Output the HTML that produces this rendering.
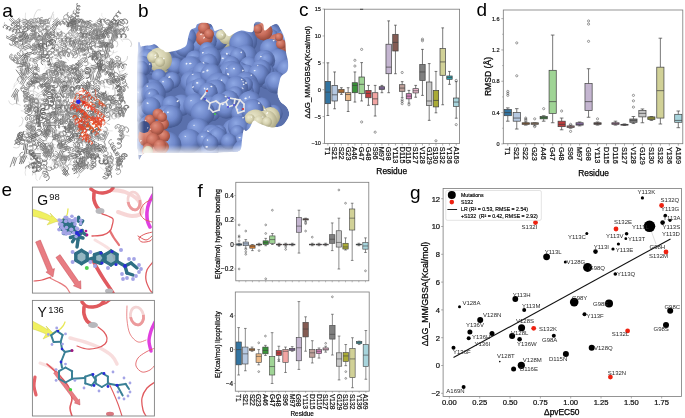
<!DOCTYPE html>
<html><head><meta charset="utf-8"><style>html,body{margin:0;padding:0;background:#fff;}body{width:685px;height:418px;overflow:hidden;font-family:"Liberation Sans", sans-serif;}svg{display:block;will-change:transform;}</style></head>
<body><svg width="685" height="418" viewBox="0 0 685 418" font-family='"Liberation Sans", sans-serif'>
<rect width="685" height="418" fill="#fff"/>
<g fill="none" stroke-linejoin="round">
<path d="M18.3 18.6 19.4 19.5 19.8 20.9 19.3 22.2 18.2 23.0 17.0 23.1 16.3 22.7 16.5 22.1 17.5 21.9 18.8 22.3 19.6 23.4 19.7 24.8 18.9 26.0 17.7 26.6 16.6 26.4 16.3 25.9 16.8 25.4 18.0 25.4 19.1 26.1 19.7 27.4 19.5 28.7 18.5 29.7 17.2 30.0 16.4 29.7 16.4 29.1 17.2 28.7 18.4 29.0 19.4 29.9 19.7 31.3" stroke="#727272" stroke-width="1.0"/>
<path d="M22.4 19.0 32.0 21.7" stroke="#949494" stroke-width="0.9"/>
<path d="M22.0 20.6 31.8 23.3" stroke="#949494" stroke-width="0.9"/>
<path d="M21.6 22.1 28.7 24.1" stroke="#949494" stroke-width="0.9"/>
<path d="M21.6 20.5 13.7 26.7" stroke="#969696" stroke-width="0.9"/>
<path d="M20.6 19.3 14.1 24.3" stroke="#969696" stroke-width="0.9"/>
<path d="M19.6 18.0 11.2 24.6" stroke="#969696" stroke-width="0.9"/>
<path d="M39.5 20.4 48.8 19.9" stroke="#656565" stroke-width="0.9"/>
<path d="M39.6 22.0 46.4 21.6" stroke="#656565" stroke-width="0.9"/>
<path d="M39.7 23.6 50.0 23.0" stroke="#656565" stroke-width="0.9"/>
<path d="M41.8 20.4 43.6 22.8 45.5 25.2 46.7 27.9 47.9 30.6 50.0 32.8" stroke="#cdcdcd" stroke-width="0.6"/>
<path d="M36.4 20.4 33.5 21.0 30.5 20.2 27.6 20.5 25.2 18.7 25.4 15.7 25.6 12.7" stroke="#bbbbbb" stroke-width="0.4"/>
<path d="M59.8 20.4 52.0 27.2" stroke="#818181" stroke-width="0.9"/>
<path d="M58.7 19.2 51.6 25.3" stroke="#818181" stroke-width="0.9"/>
<path d="M57.6 18.0 52.7 22.2" stroke="#818181" stroke-width="0.9"/>
<path d="M59.8 19.9 62.8 19.6 65.8 19.6 67.5 17.1" stroke="#c8c8c8" stroke-width="0.5"/>
<path d="M70.2 19.4 78.0 20.5" stroke="#676767" stroke-width="0.9"/>
<path d="M70.0 21.0 79.1 22.2" stroke="#676767" stroke-width="0.9"/>
<path d="M69.8 22.6 77.2 23.6" stroke="#676767" stroke-width="0.9"/>
<path d="M72.7 21.2 72.3 20.6 72.5 19.6 73.3 18.6 74.6 18.1 75.9 18.4 76.8 19.3 77.1 20.6 76.9 21.5 76.3 21.9 75.9 21.4 76.0 20.4 76.7 19.4 77.9 18.8 79.2 18.9 80.2 19.7 80.7 20.9 80.6 22.0 80.0 22.5 79.6 22.2 79.5 21.3 80.1 20.2 81.2 19.4 82.5 19.4 83.7 20.1 84.2 21.3 84.2 22.4 83.7 23.0 83.2 22.9 83.1 22.1" stroke="#747474" stroke-width="0.9"/>
<path d="M71.5 19.8 71.7 18.8 73.0 18.1 74.8 18.2 76.3 19.4 76.8 21.2 76.0 22.9 74.4 23.9 72.8 23.9 72.0 23.1 72.3 22.1 73.8 21.5 75.6 21.9 77.0 23.2 77.2 25.0 76.3 26.7 74.6 27.5 73.1 27.4 72.4 26.5 73.0 25.5 74.6 25.0 76.4 25.6 77.6 27.0 77.6 28.9 76.5 30.4 74.8 31.1 73.3 30.7 72.9 29.8 73.7 28.8 75.4 28.6 77.2 29.3 78.2 30.9" stroke="#6a6a6a" stroke-width="0.7"/>
<path d="M99.2 18.1 100.7 19.0 101.3 20.6 100.8 22.3 99.4 23.4 97.8 23.5 97.0 22.8 97.3 21.9 98.6 21.3 100.4 21.6 101.6 22.8 101.9 24.5 100.9 26.1 99.4 26.8 98.0 26.6 97.5 25.8 98.3 24.9 99.8 24.6 101.5 25.2 102.4 26.7 102.2 28.4 101.0 29.7 99.4 30.2 98.3 29.7 98.2 28.7 99.3 28.0" stroke="#848484" stroke-width="1.0"/>
<path d="M107.5 21.1 107.0 20.3 107.4 19.6 108.5 19.6 109.8 20.3 110.6 21.6 110.5 23.1 109.6 24.3 108.2 24.8 106.8 24.5 106.0 23.8 106.1 23.0 107.1 22.7 108.3 23.2 109.3 24.3 109.6 25.8 109.0 27.2 107.6 27.9" stroke="#676767" stroke-width="0.7"/>
<path d="M108.8 20.8 106.8 18.6 103.8 18.0 101.7 15.9 101.8 12.9" stroke="#d3d3d3" stroke-width="0.4"/>
<path d="M118.8 19.9 118.2 22.9 117.4 25.8 119.2 28.2 121.7 29.8" stroke="#c8c8c8" stroke-width="0.6"/>
<path d="M13.3 25.0 12.3 25.7 11.5 25.6 11.1 24.9 11.5 23.9 12.6 23.1 14.0 22.7 15.4 23.1 16.4 24.2 16.7 25.6 16.4 27.0 15.5 28.0 14.5 28.3 13.9 28.0 13.9 27.1 14.6 26.1 15.9 25.5 17.4 25.4" stroke="#777777" stroke-width="1.0"/>
<path d="M14.8 24.9 8.9 19.2" stroke="#8c8c8c" stroke-width="0.9"/>
<path d="M15.9 23.8 10.2 18.3" stroke="#8c8c8c" stroke-width="0.9"/>
<path d="M17.0 22.6 10.9 16.7" stroke="#8c8c8c" stroke-width="0.9"/>
<path d="M20.8 22.5 23.7 22.1 26.4 20.7 29.1 22.1 31.6 23.7 32.3 26.6" stroke="#cccccc" stroke-width="0.4"/>
<path d="M22.4 26.1 24.4 28.3 27.4 27.8 29.3 25.5 32.1 24.5 33.1 21.7" stroke="#b8b8b8" stroke-width="0.5"/>
<path d="M25.2 19.2 26.7 20.1 27.5 21.7 27.1 23.3 25.8 24.5 24.2 24.9 23.0 24.4 22.8 23.5 23.8 22.7 25.4 22.8 26.9 23.7 27.6 25.3 27.2 27.0 25.8 28.1 24.2 28.4 23.1 27.8 23.0 26.9 24.0 26.2 25.6 26.3 27.1 27.3 27.7 28.9 27.3 30.6 25.9 31.7 24.2 31.9 23.2 31.3 23.1 30.4 24.2 29.7 25.8 29.9" stroke="#6b6b6b" stroke-width="0.7"/>
<path d="M29.8 20.6 30.5 22.1 30.2 23.4 29.4 23.7 28.7 22.9 28.5 21.4 29.3 19.8 30.8 19.0 32.4 19.3 33.7 20.5 34.0 22.0 33.6 23.1 32.7 23.1 32.1 22.0 32.2 20.4 33.2 19.0 34.8 18.5 36.4 19.0 37.4 20.4 37.5 21.9 36.9 22.7 36.1 22.4 35.6 21.1 35.9 19.5 37.1 18.3 38.8 18.0 40.3 18.9 41.1 20.3 41.0 21.7 40.2 22.2 39.4 21.6 39.2 20.2 39.7 18.6 41.1 17.6 42.8 17.7" stroke="#878787" stroke-width="0.9"/>
<path d="M33.3 26.8 25.0 31.9" stroke="#737373" stroke-width="0.9"/>
<path d="M32.5 25.4 26.7 29.0" stroke="#737373" stroke-width="0.9"/>
<path d="M31.7 24.1 23.6 29.0" stroke="#737373" stroke-width="0.9"/>
<path d="M37.0 25.3 36.4 26.8 35.0 27.8 33.3 28.0 32.0 27.5 31.6 26.6 32.1 25.8 33.4 25.7 34.9 26.4 35.9 27.8 36.0 29.5 35.1 31.0 33.5 31.7 31.9 31.7 30.8 31.0 30.7 30.0 31.5 29.5 32.9 29.6 34.3 30.5 35.1 32.1 34.9 33.8 33.7 35.0 32.1 35.6 30.5 35.3 29.7 34.4 29.9 33.6 30.9 33.2 32.4 33.6 33.7 34.7 34.1 36.4 33.6 38.0" stroke="#828282" stroke-width="0.9"/>
<path d="M37.1 22.6 35.0 20.5 33.8 17.7 34.6 14.9 35.9 12.2 37.7 9.8 40.7 9.9" stroke="#c5c5c5" stroke-width="0.6"/>
<path d="M39.5 22.2 40.4 21.0 41.7 20.4 43.1 20.5 44.4 21.3 45.1 22.5 45.2 23.6 44.8 24.3 44.1 24.2 43.5 23.4 43.3 22.1 43.7 20.7 44.7 19.7 46.1 19.3 47.5 19.6 48.7 20.5 49.2 21.8 49.2 22.8 48.6 23.3 47.9 23.0 47.4 22.0 47.4 20.7 48.0 19.3 49.1 18.4 50.5 18.2" stroke="#979797" stroke-width="1.0"/>
<path d="M41.4 23.2 42.7 23.5 43.6 24.5 43.9 25.9 43.5 27.0 42.9 27.4 42.4 27.0 42.5 26.0 43.2 25.0 44.5 24.4 45.8 24.6 46.8 25.6 47.2 26.9 46.9 28.1 46.3 28.6 45.8 28.4 45.7 27.5 46.4 26.4 47.6 25.7 49.0 25.8 50.1 26.6 50.6 27.9 50.4 29.1 49.8 29.8 49.2 29.7 49.0 28.9" stroke="#929292" stroke-width="0.8"/>
<path d="M47.8 26.1 44.8 25.6 43.3 23.0 40.5 21.9" stroke="#acacac" stroke-width="0.5"/>
<path d="M40.5 20.8 41.4 20.6 42.6 21.0 43.6 22.0 44.2 23.2 44.1 24.6 43.4 25.8 42.2 26.6 40.9 26.8 39.8 26.6 39.2 26.0 39.2 25.4 39.9 25.0 41.0 25.1 42.1 25.7 43.0 26.9 43.3 28.2 42.9 29.6 41.9 30.6 40.7 31.1 39.4 31.1 38.5 30.7 38.2 30.0 38.5 29.5 39.4 29.3 40.6 29.7" stroke="#979797" stroke-width="0.8"/>
<path d="M44.3 21.5 37.5 27.0" stroke="#939393" stroke-width="0.9"/>
<path d="M43.3 20.2 38.2 24.4" stroke="#939393" stroke-width="0.9"/>
<path d="M42.2 19.0 36.5 23.7" stroke="#939393" stroke-width="0.9"/>
<path d="M50.2 25.6 49.2 22.8 50.7 20.2 51.3 17.3 52.3 14.5 53.4 11.7" stroke="#b2b2b2" stroke-width="0.6"/>
<path d="M58.0 24.1 56.8 21.3 54.3 19.8 53.5 16.9 53.7 13.9" stroke="#b2b2b2" stroke-width="0.4"/>
<path d="M54.7 26.6 55.7 29.4 56.7 32.3 56.0 35.2 54.2 37.6 54.7 40.6" stroke="#b5b5b5" stroke-width="0.5"/>
<path d="M55.9 22.8 56.9 23.7 57.3 24.8 57.1 25.7 56.6 25.9 56.1 25.3 55.9 24.2 56.4 22.9 57.4 22.1 58.8 21.8 60.0 22.4 60.8 23.4 61.0 24.5 60.7 25.1 60.1 25.1 59.7 24.3 59.8 23.0 60.4 21.9 61.6 21.2 63.0 21.3 64.1 22.0 64.7 23.1 64.7 24.1 64.2 24.5 63.7 24.1 63.4 23.1" stroke="#7d7d7d" stroke-width="1.0"/>
<path d="M65.7 21.6 67.0 21.9 68.1 22.8 68.6 24.1 68.5 25.4 68.0 26.2 67.4 26.4 66.9 26.0 66.9 25.0 67.5 23.9 68.6 23.1 69.9 22.7 71.3 23.1 72.3 24.1 72.7 25.4 72.6 26.6 72.1 27.4 71.5 27.6 71.1 27.1 71.1 26.1 71.7 25.0 72.8 24.2 74.2 23.9 75.5 24.4 76.5 25.4 76.9 26.7 76.7 27.9 76.2 28.7 75.6 28.8 75.2 28.2" stroke="#686868" stroke-width="1.1"/>
<path d="M61.5 24.1 62.4 23.0 63.8 22.5 65.1 22.6 65.9 23.2 66.0 23.9 65.4 24.3 64.4 24.2 63.3 23.4 62.5 22.2 62.5 20.8 63.1 19.5 64.3 18.7 65.7 18.6 66.8 19.0 67.3 19.6 67.0 20.2 66.1 20.4 65.0 19.9 64.0 18.9 63.6 17.5 63.9 16.1 64.9 15.1 66.3 14.6 67.6 14.8 68.4 15.4 68.5 16.0" stroke="#939393" stroke-width="0.8"/>
<path d="M69.5 23.7 69.6 22.3 70.3 21.1 71.4 20.4 72.4 20.1 73.1 20.4 73.2 21.0 72.7 21.5 71.7 21.8 70.4 21.7 69.2 21.0 68.4 19.8 68.3 18.5 68.8 17.2 69.8 16.3 70.8 15.8 71.7 15.9 72.0 16.4 71.7 17.0 70.9 17.5 69.6 17.5 68.4 17.0 67.4 16.0 67.1 14.6 67.4 13.3 68.2 12.2" stroke="#898989" stroke-width="1.0"/>
<path d="M71.6 23.8 71.7 24.3 71.0 24.6 70.0 24.1 69.2 23.0 69.1 21.7 69.8 20.5 71.0 19.9 72.3 20.0 73.0 20.5 73.0 21.1 72.2 21.2 71.2 20.6 70.5 19.5 70.5 18.1 71.4 17.0 72.6 16.5 73.8 16.7 74.5 17.2 74.3 17.8 73.5 17.8 72.5 17.1 71.9 15.9 72.0 14.5 72.9 13.5 74.2 13.1 75.4 13.4 75.9 14.0 75.6 14.4 74.7 14.3 73.7 13.6 73.2 12.3 73.5 10.9 74.5 10.0" stroke="#818181" stroke-width="0.8"/>
<path d="M72.2 24.7 74.9 23.5 76.1 20.7 78.8 19.4 81.7 18.7 84.2 20.5 85.7 23.1" stroke="#bfbfbf" stroke-width="0.5"/>
<path d="M76.4 23.1 67.4 26.8" stroke="#686868" stroke-width="0.9"/>
<path d="M75.8 21.6 68.0 24.8" stroke="#686868" stroke-width="0.9"/>
<path d="M75.2 20.1 69.2 22.6" stroke="#686868" stroke-width="0.9"/>
<path d="M71.0 22.6 71.1 21.3 72.0 20.1 73.3 19.5 74.7 19.9 75.7 21.0 76.0 22.3 75.6 23.2 75.0 23.2 74.5 22.3 74.8 21.0 75.7 19.9 77.1 19.5 78.5 20.0 79.4 21.1 79.5 22.4 79.1 23.2 78.4 23.0 78.1 22.1 78.4 20.7 79.4 19.7 80.9 19.4 82.2 20.0 83.0 21.3 83.0 22.5 82.5 23.1 81.8 22.8 81.6 21.8 82.1 20.4" stroke="#6e6e6e" stroke-width="0.9"/>
<path d="M79.1 26.4 71.7 28.9" stroke="#7b7b7b" stroke-width="0.9"/>
<path d="M78.6 24.9 71.0 27.5" stroke="#7b7b7b" stroke-width="0.9"/>
<path d="M78.0 23.4 67.8 26.9" stroke="#7b7b7b" stroke-width="0.9"/>
<path d="M82.8 22.6 80.2 21.0 78.2 18.8 75.2 18.6" stroke="#bdbdbd" stroke-width="0.4"/>
<path d="M82.2 25.5 81.5 25.4 81.0 24.4 81.2 22.9 82.2 21.7 83.7 21.4 85.1 22.1 85.9 23.3 85.9 24.6 85.3 25.1 84.6 24.7 84.3 23.4 84.8 22.0 86.0 21.0 87.5 21.0 88.8 22.0 89.3 23.3 89.1 24.4 88.4 24.6 87.7 23.9 87.7 22.5 88.4 21.1 89.8 20.4 91.3 20.8 92.3 21.9" stroke="#656565" stroke-width="0.7"/>
<path d="M82.3 23.2 83.4 22.5 84.9 22.7 86.3 23.8 86.9 25.4 86.3 27.0 84.9 28.0 83.3 28.1 82.2 27.5 82.2 26.5 83.2 25.9 84.7 26.1 86.2 27.1 86.7 28.7 86.2 30.3 84.8 31.3 83.2 31.5 82.1 30.9 82.0 29.9 83.0 29.3 84.5 29.4 86.0 30.4 86.6 32.0" stroke="#8b8b8b" stroke-width="0.9"/>
<path d="M85.5 22.6 82.9 28.3" stroke="#8c8c8c" stroke-width="0.9"/>
<path d="M84.0 21.9 80.7 29.4" stroke="#8c8c8c" stroke-width="0.9"/>
<path d="M82.6 21.3 79.9 27.2" stroke="#8c8c8c" stroke-width="0.9"/>
<path d="M89.5 22.9 88.1 24.0 86.6 24.3 85.7 23.6 85.9 22.6 87.1 21.7 88.9 21.7 90.5 22.6 91.2 24.2 90.8 25.9 89.5 27.2 87.9 27.6 86.9 27.1 86.9 26.0 88.0 25.1 89.7 24.9 91.4 25.6 92.3 27.2 92.1 28.9 90.9 30.3 89.3 30.9" stroke="#656565" stroke-width="0.9"/>
<path d="M95.6 21.2 97.3 23.7 98.9 26.2 100.3 28.9 101.5 31.6" stroke="#c6c6c6" stroke-width="0.6"/>
<path d="M96.6 23.9 95.9 25.1 94.7 25.8 93.6 26.0 92.9 25.6 93.0 24.9 93.8 24.5 95.0 24.5 96.2 25.2 97.0 26.3 97.1 27.7 96.4 29.0 95.3 29.8 94.1 29.9 93.4 29.6 93.4 29.0 94.1 28.5 95.4 28.5 96.6 29.1 97.5 30.2 97.6 31.6 97.0 32.9 95.9 33.7 94.7 33.9 93.9 33.6" stroke="#929292" stroke-width="1.0"/>
<path d="M100.2 26.7 101.4 23.9 100.2 21.2" stroke="#aaaaaa" stroke-width="0.5"/>
<path d="M97.4 26.1 87.5 29.3" stroke="#8b8b8b" stroke-width="0.9"/>
<path d="M96.9 24.5 87.7 27.5" stroke="#8b8b8b" stroke-width="0.9"/>
<path d="M96.4 23.0 89.1 25.4" stroke="#8b8b8b" stroke-width="0.9"/>
<path d="M97.0 20.8 97.9 19.9 99.1 19.7 100.2 20.1 101.0 21.0 101.3 22.0 101.1 22.6 100.6 22.6 100.2 22.0 100.3 21.0 100.8 19.9 101.9 19.2 103.1 19.2 104.1 19.8 104.8 20.8 104.9 21.7 104.5 22.1 104.0 21.9 103.8 21.1 104.0 20.0 104.7 19.1 105.9 18.6" stroke="#6a6a6a" stroke-width="0.8"/>
<path d="M103.3 24.4 99.0 33.8" stroke="#959595" stroke-width="0.9"/>
<path d="M101.9 23.7 97.7 32.7" stroke="#959595" stroke-width="0.9"/>
<path d="M100.4 23.0 96.9 30.6" stroke="#959595" stroke-width="0.9"/>
<path d="M106.4 22.9 105.7 23.3 105.2 23.0 105.1 22.2 105.6 21.1 106.7 20.3 108.1 20.1 109.3 20.7 110.1 21.8 110.2 23.1 109.8 24.2 109.1 24.6 108.5 24.3 108.5 23.5 109.0 22.4 110.1 21.6 111.5 21.4 112.7 22.0 113.4 23.1 113.6 24.5" stroke="#8a8a8a" stroke-width="1.0"/>
<path d="M110.9 25.0 112.9 22.8 115.8 22.1 117.9 19.9 120.1 17.9" stroke="#b9b9b9" stroke-width="0.4"/>
<path d="M109.3 23.9 110.4 23.9 111.6 24.6 112.4 25.8 112.6 27.2 112.0 28.5 110.9 29.4 109.5 29.7 108.3 29.4 107.6 28.8 107.7 28.1 108.5 27.8 109.7 28.1 110.8 28.9 111.4 30.3 111.3 31.7 110.5 32.9 109.3 33.6 107.9 33.7 106.8 33.2 106.4 32.5 106.8 32.0 107.7 31.8 108.9 32.3 109.9 33.4" stroke="#7a7a7a" stroke-width="0.9"/>
<path d="M111.9 22.7 112.9 21.0 114.8 20.3 116.6 21.1 117.7 22.8 117.6 24.5 116.6 25.2 115.5 24.6 115.1 22.8 115.9 20.9 117.5 19.9 119.4 20.2 120.8 21.8 121.1 23.6 120.3 24.7 119.2 24.4 118.5 22.9 118.9 21.0 120.3 19.6 122.2 19.5 123.8 20.8 124.4 22.6 123.9 24.0 122.8 24.2 121.9 23.0 122.0 21.1 123.1 19.4 125.0 18.9 126.8 19.8 127.7 21.6 127.5 23.2 126.5 23.8 125.4 23.0" stroke="#696969" stroke-width="0.9"/>
<path d="M119.8 25.6 120.9 25.2 122.3 25.5 123.5 26.4 124.1 27.8 123.9 29.3 123.0 30.5 121.6 31.1 120.3 31.1 119.6 30.5 119.6 29.8 120.4 29.2 121.7 29.2 123.1 29.8 124.0 31.0 124.2 32.5 123.5 33.9 122.3 34.8" stroke="#6a6a6a" stroke-width="0.8"/>
<path d="M13.8 29.5 10.8 30.0 7.9 29.7 6.2 27.2 4.2 25.0 4.6 22.0" stroke="#a9a9a9" stroke-width="0.5"/>
<path d="M17.0 32.1 17.2 33.6 16.8 35.0 15.6 36.1 14.2 36.5 12.8 36.4 11.9 35.8 11.7 35.0 12.3 34.5 13.4 34.4 14.7 35.0 15.7 36.2 16.1 37.6 15.8 39.1 14.8 40.3 13.3 40.8 11.9 40.8 10.9 40.2 10.6 39.5 11.0 38.9 12.1 38.7 13.4 39.2 14.5 40.2 15.0 41.7 14.8 43.2 13.9 44.4 12.5 45.1 11.0 45.2 9.9 44.7 9.5 43.9 9.8 43.3" stroke="#767676" stroke-width="0.9"/>
<path d="M18.0 33.5 18.3 32.6 19.5 32.1 21.0 32.1 22.4 33.0 23.0 34.4 22.7 35.9 21.7 37.1 20.5 37.6 19.6 37.4 19.4 36.6 20.2 35.9 21.7 35.6 23.2 36.1 24.2 37.3 24.3 38.9 23.6 40.3 22.4 41.1 21.3 41.2 20.8 40.6 21.1 39.8 22.3 39.3 23.9 39.4 25.2 40.3 25.8 41.8 25.4 43.3 24.3 44.5 23.1 44.9 22.2 44.5 22.2 43.8 23.1 43.1 24.6 42.9" stroke="#878787" stroke-width="1.0"/>
<path d="M24.1 27.0 24.9 25.3 26.5 24.6 28.3 25.0 29.5 26.4 29.7 27.9 29.1 28.8 28.0 28.4 27.4 27.1 27.6 25.3 28.8 23.9 30.5 23.6 32.2 24.5 33.0 26.0 32.8 27.4 32.0 27.8 31.0 27.0 30.7 25.3 31.3 23.6 32.8 22.6 34.5 22.8 35.9 24.1 36.4 25.6 35.9 26.7 34.9 26.6 34.1 25.4 34.1 23.6 35.1 22.1 36.8 21.6 38.5 22.2 39.5 23.7" stroke="#8f8f8f" stroke-width="0.9"/>
<path d="M24.4 27.0 24.8 26.2 25.3 26.0 25.7 26.5 25.7 27.5 25.1 28.6 24.1 29.4 22.8 29.6 21.5 29.1 20.7 28.1 20.3 26.9 20.5 25.9 21.0 25.4 21.6 25.7 21.8 26.5 21.4 27.6 20.6 28.6 19.3 29.1 18.0 28.9 17.0 28.1 16.4 26.9 16.4 25.8 16.8 25.0 17.3 25.0 17.7 25.5 17.6 26.6 17.0 27.7" stroke="#8d8d8d" stroke-width="1.0"/>
<path d="M24.4 33.7 23.3 33.1 22.5 32.1 22.4 31.2 22.7 30.6 23.3 30.8 23.8 31.5 23.8 32.7 23.3 33.9 22.3 34.8 21.0 35.0 19.8 34.5 18.9 33.6 18.6 32.6 18.9 31.9 19.4 31.8 19.9 32.4 20.1 33.5 19.8 34.8 18.9 35.7" stroke="#959595" stroke-width="0.9"/>
<path d="M35.7 33.9 35.1 34.6 34.5 34.7 34.2 34.3 34.5 33.6 35.3 33.0 36.4 32.7 37.7 32.9 38.7 33.7 39.2 34.8 39.2 36.0 38.7 37.1 38.1 37.7 37.5 37.7 37.3 37.3 37.6 36.7 38.5 36.1 39.6 35.8 40.9 36.1 41.8 36.9 42.3 38.0 42.3 39.3 41.8 40.3 41.1 40.8 40.5 40.8 40.4 40.4 40.8 39.7 41.7 39.1 42.9 38.9 44.1 39.2 45.0 40.1" stroke="#656565" stroke-width="0.9"/>
<path d="M31.1 31.3 31.9 30.8 33.3 30.7 34.6 31.5 35.1 32.8 34.8 34.3 33.7 35.3 32.5 35.5 31.9 35.1 32.1 34.4 33.2 33.9 34.6 34.2 35.7 35.2 35.9 36.6 35.3 37.9 34.1 38.7 33.0 38.7 32.7 38.1 33.2 37.4 34.5 37.2 35.8 37.7 36.7 38.9 36.6 40.4" stroke="#808080" stroke-width="1.1"/>
<path d="M30.8 27.5 32.0 26.6 33.5 26.5 34.8 27.3 35.5 28.6 35.5 29.7 34.8 30.2 34.1 29.7 33.6 28.5 33.9 27.1 34.8 25.9 36.3 25.5 37.7 26.0 38.7 27.2 38.9 28.4 38.4 29.2 37.7 29.1 37.0 28.1 37.0 26.7" stroke="#747474" stroke-width="1.0"/>
<path d="M39.4 27.7 39.1 27.3 39.4 26.9 40.1 26.8 41.1 27.2 41.9 28.0 42.4 29.1 42.3 30.3 41.6 31.3 40.6 31.9 39.6 32.1 38.9 31.9 38.6 31.5 38.9 31.1 39.7 31.1 40.7 31.5 41.5 32.3 41.9 33.4 41.8 34.6 41.1 35.6 40.1 36.2 39.1 36.3 38.4 36.1 38.2 35.6 38.5 35.3 39.3 35.3 40.3 35.7 41.1 36.6" stroke="#909090" stroke-width="0.9"/>
<path d="M40.2 31.1 38.6 28.6 35.8 27.6 34.1 25.1" stroke="#b9b9b9" stroke-width="0.4"/>
<path d="M43.6 30.4 43.4 30.0 43.7 29.5 44.5 29.1 45.5 29.1 46.6 29.6 47.5 30.4 47.9 31.5 47.8 32.7 47.2 33.7 46.3 34.4 45.4 34.7 44.8 34.5 44.7 34.1 45.1 33.6 45.9 33.3 47.0 33.3 48.1 33.9 48.9 34.8 49.2 35.9" stroke="#7c7c7c" stroke-width="1.1"/>
<path d="M50.9 31.2 48.4 32.8 45.7 34.1 43.7 36.4 43.7 39.4" stroke="#a1a1a1" stroke-width="0.6"/>
<path d="M50.7 29.3 54.7 23.7" stroke="#767676" stroke-width="0.9"/>
<path d="M52.0 30.2 58.3 21.4" stroke="#767676" stroke-width="0.9"/>
<path d="M53.4 31.1 59.2 22.8" stroke="#767676" stroke-width="0.9"/>
<path d="M49.0 28.6 49.9 31.5 52.4 33.1" stroke="#a3a3a3" stroke-width="0.5"/>
<path d="M54.7 29.4 51.8 29.0 49.2 30.6 46.4 31.7 44.2 33.7 41.9 35.7" stroke="#b7b7b7" stroke-width="0.4"/>
<path d="M56.2 28.9 54.3 26.6 55.1 23.7 54.7 20.7 52.5 18.6 50.9 16.1" stroke="#c6c6c6" stroke-width="0.5"/>
<path d="M53.9 33.2 53.6 32.2 53.9 31.5 54.4 31.4 54.8 32.1 54.8 33.3 54.1 34.4 53.0 35.1 51.7 35.0 50.6 34.3 50.0 33.2 50.0 32.3 50.4 31.9 50.9 32.2 51.1 33.2 50.8 34.4 49.9 35.3 48.6 35.7 47.4 35.3 46.5 34.4 46.2 33.3 46.4 32.5 46.9 32.5 47.3 33.1 47.3 34.2 46.7 35.4 45.6 36.1 44.3 36.1 43.1 35.4 42.5 34.4 42.5 33.4 42.9 32.9" stroke="#737373" stroke-width="0.9"/>
<path d="M60.3 29.5 57.4 28.8 54.4 28.9" stroke="#c7c7c7" stroke-width="0.6"/>
<path d="M61.3 32.7 60.8 31.9 60.8 31.2 61.2 31.0 61.7 31.4 62.0 32.4 61.8 33.5 61.1 34.5 60.0 35.0 58.7 35.0 57.7 34.3 57.1 33.5 57.1 32.8 57.4 32.5 57.9 32.8 58.2 33.7 58.1 34.8 57.5 35.9 56.4 36.5 55.2 36.5 54.1 36.0 53.5 35.1 53.3 34.4 53.6 34.0 54.1 34.2 54.5 35.0 54.4 36.1 53.9 37.2 52.9 37.9 51.7 38.1" stroke="#7b7b7b" stroke-width="0.9"/>
<path d="M67.3 29.6 68.9 27.1 71.7 26.2 74.4 27.6 77.1 28.7 79.3 30.8 82.3 30.8" stroke="#a1a1a1" stroke-width="0.5"/>
<path d="M73.1 28.6 73.6 30.0 73.3 31.1 72.5 31.3 71.7 30.7 71.3 29.3 71.7 27.7 72.9 26.5 74.5 26.2 76.0 26.8 77.0 28.1 77.2 29.4 76.8 30.3 75.9 30.3 75.2 29.4 75.1 27.8 75.7 26.3 77.0 25.4 78.6 25.3 80.1 26.2 80.9 27.5 80.9 28.8 80.2 29.5 79.4 29.2 78.8 28.0" stroke="#777777" stroke-width="0.9"/>
<path d="M76.3 26.3 77.1 27.6 77.3 28.9 76.9 30.0 76.3 30.3 75.7 30.0 75.5 29.0 75.8 27.8 76.6 26.6 77.9 26.0 79.4 26.0 80.7 26.8 81.5 28.0 81.7 29.3 81.3 30.4 80.7 30.8 80.1 30.5 79.8 29.5 80.1 28.3 81.0 27.1 82.3 26.4 83.7 26.4 85.0 27.2 85.8 28.4 86.0 29.7 85.7 30.8 85.1 31.2 84.5 31.0 84.2 30.0" stroke="#8c8c8c" stroke-width="1.1"/>
<path d="M76.5 28.9 76.9 26.0 76.8 23.0 77.3 20.0 79.6 18.2" stroke="#b4b4b4" stroke-width="0.6"/>
<path d="M73.2 29.4 71.5 31.8 71.7 34.8 70.0 37.3 67.2 38.3 64.6 36.8 61.7 36.0" stroke="#c9c9c9" stroke-width="0.5"/>
<path d="M79.6 28.5 80.5 29.5 81.0 30.9 80.7 32.4 79.8 33.5 78.4 34.1 77.0 34.0 75.8 33.4 75.2 32.5 75.3 31.8 76.0 31.6 77.0 32.0 77.9 33.1 78.3 34.5 78.0 35.9 77.0 37.1 75.6 37.6 74.2 37.4 73.1 36.8 72.5 35.9 72.7 35.3 73.4 35.1 74.4 35.6 75.2 36.6 75.6 38.1 75.3 39.5 74.3 40.6 72.9 41.1 71.4 40.9 70.3 40.2 69.8 39.4 70.0 38.7 70.8 38.6" stroke="#898989" stroke-width="0.8"/>
<path d="M83.2 33.1 83.1 32.7 83.6 32.3 84.6 32.4 85.6 33.0 86.3 34.1 86.4 35.3 85.7 36.4 84.7 37.1 83.8 37.2 83.2 36.9 83.3 36.5 84.0 36.2 85.1 36.5 86.0 37.3 86.5 38.4 86.3 39.7 85.5 40.6 84.4 41.1 83.6 41.1 83.2 40.7 83.6 40.3 84.4 40.2 85.5 40.6 86.3 41.6 86.6 42.8 86.1 44.0 85.2 44.8 84.2 45.1 83.5 44.9 83.4 44.5 83.9 44.1" stroke="#717171" stroke-width="0.9"/>
<path d="M85.5 28.6 88.2 29.8 91.0 30.9 94.0 30.4" stroke="#b5b5b5" stroke-width="0.5"/>
<path d="M94.9 29.2 92.9 26.9 90.7 24.8 87.8 25.2 85.1 24.0" stroke="#cbcbcb" stroke-width="0.5"/>
<path d="M95.2 29.9 92.9 31.9 90.6 33.9 88.8 36.2 86.4 38.1" stroke="#b1b1b1" stroke-width="0.5"/>
<path d="M94.2 26.0 95.6 26.5 96.6 27.6 96.8 29.1 96.2 30.5 95.0 31.3 93.8 31.6 92.9 31.2 92.9 30.5 93.6 29.9 94.9 29.9 96.3 30.5 97.1 31.7 97.2 33.2 96.5 34.5 95.3 35.3 94.1 35.4 93.4 34.9 93.4 34.2 94.3 33.7 95.6 33.8 96.9 34.5 97.7 35.7 97.7 37.2 96.9 38.5 95.6 39.2" stroke="#929292" stroke-width="1.0"/>
<path d="M99.5 31.9 97.6 29.6 94.9 28.3 91.9 28.0 88.9 28.2 86.8 26.1 85.4 23.5" stroke="#a5a5a5" stroke-width="0.5"/>
<path d="M99.5 30.6 99.1 29.9 99.6 29.2 100.7 28.8 102.1 29.1 103.3 30.1 103.9 31.4 103.8 32.9 102.9 34.2 101.5 34.9 100.2 34.9 99.3 34.4 99.2 33.7 99.8 33.0 101.1 32.9 102.5 33.4 103.6 34.5 104.0 35.9 103.6 37.4 102.5 38.5 101.1 39.0" stroke="#949494" stroke-width="1.0"/>
<path d="M103.0 31.4 102.3 32.1 101.4 31.9 101.0 30.6 101.3 29.0 102.5 27.8 104.1 27.5 105.6 28.2 106.5 29.6 106.6 31.1 105.9 31.9 105.1 31.6 104.6 30.4 104.9 28.8 106.1 27.5 107.7 27.2 109.2 27.9 110.1 29.3 110.2 30.8 109.6 31.6 108.7 31.4 108.2 30.2 108.5 28.6 109.7 27.3 111.3 26.9 112.8 27.6 113.8 29.0 113.8 30.5" stroke="#818181" stroke-width="0.8"/>
<path d="M105.3 27.7 105.9 30.6 104.1 33.0 104.3 36.0 102.2 38.0" stroke="#c3c3c3" stroke-width="0.4"/>
<path d="M106.0 30.8 105.6 31.4 105.1 31.4 104.8 30.8 104.9 29.8 105.5 28.7 106.6 28.0 107.8 27.9 109.0 28.5 109.7 29.4 110.0 30.5 109.8 31.4 109.3 31.7 108.9 31.4 108.8 30.5 109.1 29.5 110.0 28.6 111.1 28.1 112.4 28.3 113.4 29.1 113.9 30.2 114.0 31.2" stroke="#8f8f8f" stroke-width="0.8"/>
<path d="M107.8 26.2 108.9 26.9 109.5 28.0 109.5 28.8 109.1 29.2 108.5 28.7 108.2 27.7 108.4 26.4 109.2 25.4 110.5 24.9 111.8 25.1 112.9 25.9 113.3 27.0 113.2 27.8 112.7 27.9 112.2 27.4 111.9 26.2 112.3 25.0 113.3 24.0 114.6 23.7 115.9 24.1 116.8 25.0 117.1 26.0 116.9 26.7 116.3 26.7 115.8 26.0 115.7 24.8 116.2 23.5 117.3 22.7" stroke="#818181" stroke-width="0.9"/>
<path d="M112.5 30.0 105.7 33.2" stroke="#7f7f7f" stroke-width="0.9"/>
<path d="M111.8 28.6 105.1 31.7" stroke="#7f7f7f" stroke-width="0.9"/>
<path d="M111.1 27.1 101.6 31.6" stroke="#7f7f7f" stroke-width="0.9"/>
<path d="M108.3 25.3 109.7 25.3 111.0 26.0 111.7 27.1 111.7 28.1 111.2 28.5 110.5 28.1 110.1 27.1 110.3 25.7 111.2 24.5 112.6 24.1 114.0 24.5 115.0 25.4 115.3 26.6 115.1 27.3 114.4 27.4 113.8 26.6 113.7 25.3 114.3 24.0 115.5 23.1 116.9 23.1 118.1 23.8 118.8 24.9 118.8 25.9 118.3 26.3 117.7 26.0 117.3 24.9 117.5 23.5 118.4 22.4 119.7 21.9 121.1 22.3" stroke="#646464" stroke-width="0.7"/>
<path d="M114.8 26.7 115.7 27.9 115.8 29.4 115.2 30.7 114.0 31.6 112.9 31.8 112.0 31.6 111.8 31.0 112.4 30.4 113.5 30.1 114.9 30.5 116.0 31.4 116.5 32.8 116.3 34.2 115.4 35.4 114.2 36.0 113.1 36.0 112.5 35.5 112.7 34.9 113.6 34.4 114.9 34.4 116.2 35.1 117.0 36.2 117.2 37.6 116.7 39.0 115.6 39.9 114.4 40.3 113.5 40.1 113.2 39.5" stroke="#939393" stroke-width="0.8"/>
<path d="M119.3 27.8 116.9 26.0 114.4 24.4 111.4 24.8 108.8 23.2" stroke="#a5a5a5" stroke-width="0.5"/>
<path d="M115.8 30.4 116.2 31.5 116.1 32.5 115.7 32.9 115.2 32.7 115.0 31.9 115.2 30.8 116.1 29.8 117.2 29.3 118.5 29.6 119.5 30.4 120.0 31.5 119.9 32.5 119.5 33.0 119.0 32.8 118.7 32.0 119.0 30.9 119.7 29.9" stroke="#646464" stroke-width="0.7"/>
<path d="M118.3 30.8 114.3 36.7" stroke="#737373" stroke-width="0.9"/>
<path d="M117.0 29.9 112.5 36.5" stroke="#737373" stroke-width="0.9"/>
<path d="M115.7 29.0 112.0 34.3" stroke="#737373" stroke-width="0.9"/>
<path d="M120.2 29.7 121.2 28.5 122.6 28.1 124.1 28.6 125.1 29.8 125.3 31.0 124.8 31.8 124.0 31.6 123.3 30.5 123.3 29.0 124.1 27.7 125.5 27.0 127.0 27.3 128.2 28.3 128.6 29.6 128.3 30.5 127.6 30.6 126.8 29.8 126.6 28.4 127.1 26.9 128.4 26.0" stroke="#8a8a8a" stroke-width="0.8"/>
<path d="M16.7 38.0 15.8 38.8 14.7 39.0 13.9 38.8 13.7 38.3 14.1 37.7 15.1 37.4 16.3 37.6 17.4 38.2 18.2 39.3 18.3 40.6 17.8 41.8 16.9 42.7 15.8 43.1 14.9 42.9 14.6 42.5 14.9 41.9 15.7 41.5 16.9 41.5 18.1 42.0" stroke="#6c6c6c" stroke-width="0.9"/>
<path d="M18.7 32.6 19.4 32.3 20.4 32.3 21.6 33.0 22.3 34.0 22.4 35.3 21.8 36.5 20.8 37.3 19.7 37.6 18.9 37.3 18.7 36.8 19.2 36.4 20.2 36.3 21.4 36.8 22.3 37.7 22.6 39.0 22.2 40.3 21.3 41.2 20.2 41.6 19.3 41.5 18.9 41.0 19.1 40.5 20.0 40.3 21.2 40.6 22.2 41.4 22.7 42.6 22.6 43.9 21.8 45.0 20.7 45.6 19.6 45.6" stroke="#646464" stroke-width="0.9"/>
<path d="M18.6 39.0 17.9 39.0 17.6 38.3 17.8 37.3 18.7 36.3 19.9 35.7 21.4 35.7 22.6 36.3 23.4 37.5 23.6 38.9 23.2 40.2 22.5 41.0 21.8 41.2 21.3 40.7 21.4 39.7 22.1 38.7 23.3 37.9 24.7 37.8 26.1 38.3 27.0 39.3 27.3 40.7 27.1 42.1 26.4 43.0 25.6 43.3 25.1 43.0" stroke="#8d8d8d" stroke-width="1.0"/>
<path d="M27.1 36.0 18.7 40.5" stroke="#838383" stroke-width="0.9"/>
<path d="M26.3 34.6 18.6 38.7" stroke="#838383" stroke-width="0.9"/>
<path d="M25.5 33.2 18.5 36.9" stroke="#838383" stroke-width="0.9"/>
<path d="M26.8 36.6 25.1 34.1 22.1 33.7 19.3 34.6 16.5 35.6 13.9 37.1" stroke="#b3b3b3" stroke-width="0.6"/>
<path d="M26.8 38.2 27.2 36.8 28.2 35.6 29.6 35.1 31.1 35.5 32.2 36.7 32.6 38.1 32.3 39.3 31.6 39.8 30.9 39.4 30.7 38.3 31.1 37.0 32.1 35.8 33.6 35.4 35.0 35.9 36.1 37.0 36.4 38.4 36.1 39.6 35.4 40.0 34.8 39.6 34.5 38.5 35.0 37.1 36.1 36.0" stroke="#8e8e8e" stroke-width="1.1"/>
<path d="M34.0 38.0 32.6 38.6 31.0 38.4 29.9 37.6 29.7 36.6 30.3 36.1 31.4 36.4 32.3 37.6 32.5 39.2 31.8 40.6 30.3 41.2 28.8 41.0 27.7 40.1 27.5 39.1 28.1 38.7 29.2 39.1 30.1 40.2 30.3 41.8 29.5 43.2 28.1 43.8 26.5 43.6 25.4 42.7 25.2 41.7 25.9 41.3 27.0 41.7" stroke="#989898" stroke-width="0.8"/>
<path d="M30.2 35.5 27.2 35.8 24.9 37.8 23.1 40.2 20.7 42.0" stroke="#c6c6c6" stroke-width="0.5"/>
<path d="M34.3 38.5 31.8 27.9" stroke="#8f8f8f" stroke-width="0.9"/>
<path d="M35.8 38.1 34.3 31.6" stroke="#8f8f8f" stroke-width="0.9"/>
<path d="M37.4 37.7 35.1 28.1" stroke="#8f8f8f" stroke-width="0.9"/>
<path d="M41.4 33.7 43.6 31.7 46.4 30.7 49.4 30.3" stroke="#b2b2b2" stroke-width="0.5"/>
<path d="M38.2 35.4 39.1 35.8 39.9 36.5 40.3 37.6 40.2 38.8 39.5 39.8 38.5 40.4 37.5 40.5 36.6 40.3 36.3 39.8 36.5 39.5 37.2 39.4 38.0 39.9 38.7 40.7 39.1 41.8 38.9 43.0 38.2 43.9 37.1 44.4 36.1 44.5 35.3 44.2 35.1 43.8" stroke="#656565" stroke-width="0.8"/>
<path d="M41.1 38.2 37.4 44.8" stroke="#939393" stroke-width="0.9"/>
<path d="M39.7 37.4 36.2 43.6" stroke="#939393" stroke-width="0.9"/>
<path d="M38.4 36.6 34.0 44.2" stroke="#939393" stroke-width="0.9"/>
<path d="M45.4 35.4 45.8 42.1" stroke="#777777" stroke-width="0.9"/>
<path d="M43.8 35.5 44.2 42.9" stroke="#777777" stroke-width="0.9"/>
<path d="M42.2 35.6 42.7 44.5" stroke="#777777" stroke-width="0.9"/>
<path d="M46.7 35.1 55.5 29.1" stroke="#7a7a7a" stroke-width="0.9"/>
<path d="M47.6 36.4 54.9 31.4" stroke="#7a7a7a" stroke-width="0.9"/>
<path d="M48.6 37.7 54.0 34.0" stroke="#7a7a7a" stroke-width="0.9"/>
<path d="M50.2 37.2 50.9 37.6 50.7 38.2 49.8 38.6 48.4 38.4 47.3 37.6 46.9 36.2 47.2 34.9 48.2 33.9 49.4 33.6 50.0 34.0 49.9 34.6 49.0 35.0 47.7 34.8 46.5 34.0 46.1 32.7 46.4 31.3 47.4 30.3 48.5 30.0 49.2 30.3 49.1 30.9 48.3 31.4 47.0 31.3 45.8 30.5 45.3 29.2 45.6 27.8 46.5 26.8 47.7 26.4 48.4 26.7 48.4 27.3 47.5 27.8" stroke="#8e8e8e" stroke-width="1.0"/>
<path d="M51.0 34.2 51.2 35.7 50.4 37.1 49.1 37.9 47.9 37.9 47.2 37.4 47.5 36.7 48.5 36.2 50.0 36.5 51.3 37.4 51.8 38.8 51.4 40.3 50.3 41.4 49.0 41.8 48.0 41.5 47.8 40.8 48.6 40.2 49.9 40.1 51.3 40.7 52.2 42.0 52.3 43.5 51.4 44.9 50.1 45.6 48.9 45.6 48.4 45.0 48.7 44.3 49.9 43.9 51.3 44.2 52.5 45.2 53.0 46.7 52.5 48.2 51.3 49.2 50.0 49.5" stroke="#727272" stroke-width="0.7"/>
<path d="M61.5 35.4 60.3 36.1 58.8 36.1 57.6 35.4 57.0 34.4 57.3 33.7 58.1 33.7 59.0 34.4 59.5 35.8 59.2 37.2 58.3 38.3 56.8 38.6 55.4 38.2 54.5 37.3 54.4 36.4 55.0 36.0 55.9 36.4 56.6 37.5 56.8 39.0 56.2 40.3 54.9 41.0" stroke="#969696" stroke-width="0.9"/>
<path d="M59.6 35.0 58.0 37.5 58.6 40.5 57.1 43.1 57.5 46.0" stroke="#c2c2c2" stroke-width="0.5"/>
<path d="M57.2 35.0 57.7 33.8 58.7 32.9 60.1 32.7 61.3 33.2 62.1 34.3 62.3 35.6 62.0 36.5 61.3 36.8 60.8 36.3 60.8 35.2 61.3 34.0 62.4 33.2 63.7 33.0 64.9 33.6 65.7 34.8 65.8 36.0 65.4 36.9 64.8 37.1" stroke="#868686" stroke-width="0.7"/>
<path d="M64.1 36.0 65.5 36.4 66.5 37.3 67.0 38.7 66.9 39.9 66.4 40.7 65.7 40.9 65.2 40.4 65.2 39.4 65.7 38.3 66.7 37.3 68.0 36.9 69.4 37.2 70.5 38.1 71.0 39.3 71.0 40.6 70.6 41.5 69.9 41.8 69.4 41.4 69.2 40.5 69.7 39.3 70.6 38.3 71.9 37.8" stroke="#696969" stroke-width="0.7"/>
<path d="M69.6 37.3 69.6 38.4 68.7 38.9 67.4 38.3 66.4 36.9 66.2 35.2 67.0 33.6 68.6 32.8 70.4 33.0 71.7 34.0 72.1 35.2 71.5 35.9 70.3 35.8 69.1 34.7 68.5 33.0 68.9 31.2 70.3 30.1 72.1 30.0 73.6 30.7 74.4 31.9 74.2 32.9 73.1 33.1 71.8 32.3 71.0 30.8 71.0 29.0 72.0 27.6 73.7 27.0" stroke="#8b8b8b" stroke-width="0.8"/>
<path d="M71.1 35.7 69.4 38.2 70.2 41.1 69.4 44.0 68.3 46.8 68.3 49.8" stroke="#cacaca" stroke-width="0.6"/>
<path d="M75.2 34.8 78.2 34.8 81.2 35.3 84.2 35.3" stroke="#d0d0d0" stroke-width="0.4"/>
<path d="M77.8 35.6 76.8 38.4 75.2 40.9" stroke="#a6a6a6" stroke-width="0.5"/>
<path d="M75.2 38.0 77.0 35.5 80.0 35.8 82.2 33.7 84.9 32.6 87.8 33.3" stroke="#bfbfbf" stroke-width="0.6"/>
<path d="M82.7 35.4 80.1 36.8 77.3 35.8 74.8 34.1 71.8 33.8 69.1 32.6 66.3 33.5" stroke="#b0b0b0" stroke-width="0.6"/>
<path d="M78.7 33.8 79.7 32.8 81.1 32.5 82.4 32.9 83.2 34.0 83.5 35.3 83.1 36.4 82.5 36.8 82.0 36.4 82.0 35.4 82.7 34.3 83.9 33.6 85.2 33.6 86.4 34.4 87.0 35.6 86.9 36.9 86.4 37.7 85.8 37.7 85.5 37.0 85.8 35.9 86.7 35.0 88.0 34.6 89.4 34.9" stroke="#6a6a6a" stroke-width="1.0"/>
<path d="M82.7 38.0 82.2 37.1 82.2 35.9 82.6 34.7 83.5 33.8 84.7 33.4 86.0 33.6 87.0 34.3 87.6 35.3 87.8 36.2 87.4 36.7 86.9 36.6 86.3 36.0 86.1 34.9 86.3 33.6 87.0 32.6 88.1 32.0 89.4 31.9 90.6 32.5 91.4 33.4 91.7 34.3" stroke="#686868" stroke-width="0.8"/>
<path d="M87.6 37.4 87.6 36.1 88.4 34.8 89.8 34.0 91.4 34.2 92.5 35.4 92.9 36.9 92.5 38.2 91.7 38.6 91.0 38.0 91.0 36.8 91.9 35.4 93.3 34.7 94.9 35.0 96.0 36.1 96.3 37.7 95.9 38.9 95.1 39.3 94.4 38.7 94.5 37.4 95.3 36.1 96.8 35.4 98.4 35.7 99.4 36.9 99.7 38.4 99.3 39.7 98.5 40.0 97.9 39.3" stroke="#868686" stroke-width="0.8"/>
<path d="M86.0 37.2 85.6 36.4 85.6 35.2 86.2 34.1 87.3 33.4 88.6 33.4 89.6 34.0 90.2 34.9 90.3 35.6 89.9 35.8 89.3 35.3 89.1 34.3 89.3 33.1 90.1 32.1 91.3 31.7 92.6 32.0 93.5 32.7 93.9 33.6 93.7 34.1 93.2 34.1 92.7 33.4 92.6 32.2 93.1 31.0 94.1 30.3 95.4 30.1 96.5 30.6 97.3 31.4 97.4 32.2 97.1 32.6 96.5 32.2 96.2 31.3" stroke="#7d7d7d" stroke-width="1.1"/>
<path d="M84.0 38.8 85.3 36.1 88.0 34.8 88.6 31.8 87.8 28.9" stroke="#bababa" stroke-width="0.6"/>
<path d="M92.2 35.6 90.3 37.9 87.5 39.0 84.6 38.3 81.6 38.4 78.8 39.3 75.8 39.5" stroke="#bababa" stroke-width="0.5"/>
<path d="M90.4 36.1 92.0 35.9 93.4 36.5 94.4 37.4 94.6 38.4 94.1 38.9 93.1 38.8 92.1 37.9 91.5 36.5 91.6 34.9 92.4 33.6 93.8 32.9 95.4 33.0 96.7 33.7 97.5 34.7 97.4 35.5 96.8 35.9 95.8 35.6 94.9 34.5 94.4 33.0 94.7 31.5 95.8 30.3 97.2 29.8 98.8 30.1 100.0 30.9 100.5 31.9 100.2 32.7 99.4 32.8" stroke="#8d8d8d" stroke-width="1.1"/>
<path d="M95.1 36.8 96.6 37.3 97.7 38.2 97.9 39.2 97.4 39.8 96.5 39.7 95.5 38.8 94.9 37.4 95.0 35.8 96.0 34.5 97.4 33.9 99.0 34.2 100.2 35.0 100.7 36.0 100.5 36.8 99.6 36.9 98.6 36.2 97.8 34.9 97.7 33.3 98.4 31.9 99.7 31.1 101.3 31.1 102.7 31.7 103.5 32.8 103.4 33.7 102.7 34.0 101.7 33.6 100.8 32.5" stroke="#7d7d7d" stroke-width="0.8"/>
<path d="M102.1 34.3 102.4 35.9 101.8 37.3 100.6 38.3 99.4 38.6 98.5 38.3 98.5 37.6 99.2 36.8 100.5 36.5 102.1 36.9 103.2 37.9 103.7 39.4 103.3 40.9 102.3 42.1 101.0 42.6 100.0 42.4 99.7 41.8 100.2 41.0 101.5 40.5 103.0 40.7 104.3 41.6 105.0 43.0 104.8 44.5 103.9 45.8 102.6 46.5 101.5 46.5 101.0 46.0 101.3 45.2 102.4 44.6 103.9 44.6 105.3 45.3 106.2 46.6 106.2 48.1" stroke="#7f7f7f" stroke-width="0.8"/>
<path d="M99.1 36.3 99.9 35.1 101.3 34.4 102.8 34.6 104.0 35.4 104.8 36.6 104.9 37.8 104.5 38.5 103.8 38.5 103.2 37.8 103.0 36.5 103.4 35.1 104.4 34.0 105.8 33.5 107.3 33.8 108.4 34.7 109.1 35.9 109.1 37.0 108.6 37.7 107.9 37.5 107.4 36.7 107.3 35.3 107.8 33.9 108.9 32.9 110.3 32.6 111.8 33.0 112.8 34.0 113.4 35.3 113.3 36.3" stroke="#929292" stroke-width="1.1"/>
<path d="M101.7 36.9 105.8 29.2" stroke="#666666" stroke-width="0.9"/>
<path d="M103.1 37.7 108.1 28.2" stroke="#666666" stroke-width="0.9"/>
<path d="M104.5 38.4 108.0 31.8" stroke="#666666" stroke-width="0.9"/>
<path d="M104.1 37.5 94.5 39.1" stroke="#6f6f6f" stroke-width="0.9"/>
<path d="M103.9 35.9 96.1 37.2" stroke="#6f6f6f" stroke-width="0.9"/>
<path d="M103.6 34.3 95.1 35.8" stroke="#6f6f6f" stroke-width="0.9"/>
<path d="M103.0 38.1 105.9 38.9 107.5 41.5 108.7 44.2" stroke="#d0d0d0" stroke-width="0.5"/>
<path d="M104.6 33.7 98.2 42.0" stroke="#7e7e7e" stroke-width="0.9"/>
<path d="M103.3 32.7 98.4 39.0" stroke="#7e7e7e" stroke-width="0.9"/>
<path d="M102.1 31.7 98.1 36.8" stroke="#7e7e7e" stroke-width="0.9"/>
<path d="M113.8 33.4 113.9 36.4 115.2 39.1 115.8 42.1" stroke="#d1d1d1" stroke-width="0.4"/>
<path d="M111.5 33.7 111.9 32.3 112.9 31.3 114.3 30.9 115.7 31.3 116.7 32.3 117.1 33.5 116.9 34.4 116.3 34.7 115.7 34.2 115.3 33.0 115.6 31.7 116.5 30.5 117.8 30.0 119.2 30.2 120.3 31.1 120.9 32.3 120.8 33.3 120.3 33.7 119.6 33.4 119.2 32.4 119.3 31.0 120.0 29.8 121.3 29.1" stroke="#888888" stroke-width="0.7"/>
<path d="M114.1 33.6 116.4 35.5 118.5 37.7 121.2 39.0 122.6 41.6" stroke="#b8b8b8" stroke-width="0.4"/>
<path d="M116.2 34.3 117.0 35.2 117.4 36.2 117.3 37.1 117.0 37.5 116.5 37.3 116.3 36.6 116.5 35.6 117.1 34.6 118.1 33.9 119.4 33.8 120.5 34.2 121.4 35.1 121.8 36.1 121.7 37.0 121.4 37.5 120.9 37.3 120.7 36.6 120.9 35.6 121.5 34.6 122.5 33.9 123.7 33.7 124.9 34.1 125.8 35.0 126.2 36.1 126.1 37.0 125.8 37.4 125.3 37.3 125.1 36.6" stroke="#7a7a7a" stroke-width="1.1"/>
<path d="M117.7 37.9 114.8 37.3 111.9 38.2 110.6 40.9" stroke="#a4a4a4" stroke-width="0.5"/>
<path d="M14.6 42.0 6.0 37.5" stroke="#7d7d7d" stroke-width="0.9"/>
<path d="M15.4 40.6 6.1 35.8" stroke="#7d7d7d" stroke-width="0.9"/>
<path d="M16.1 39.2 9.8 35.9" stroke="#7d7d7d" stroke-width="0.9"/>
<path d="M17.3 44.7 18.8 42.1 19.6 39.3 22.1 37.5 24.6 36.0 27.6 36.6 30.3 35.2" stroke="#a8a8a8" stroke-width="0.6"/>
<path d="M22.9 40.1 30.9 37.7" stroke="#8a8a8a" stroke-width="0.9"/>
<path d="M23.3 41.6 32.4 38.9" stroke="#8a8a8a" stroke-width="0.9"/>
<path d="M23.8 43.1 30.9 41.0" stroke="#8a8a8a" stroke-width="0.9"/>
<path d="M25.9 39.4 22.4 31.0" stroke="#656565" stroke-width="0.9"/>
<path d="M27.4 38.8 24.1 31.1" stroke="#656565" stroke-width="0.9"/>
<path d="M28.8 38.2 26.5 32.6" stroke="#656565" stroke-width="0.9"/>
<path d="M32.1 42.9 34.8 44.3 36.7 46.6 39.6 47.4 42.0 49.2" stroke="#d2d2d2" stroke-width="0.5"/>
<path d="M35.9 44.9 35.1 46.4 33.8 47.3 32.4 47.3 31.8 46.6 32.2 45.7 33.5 45.3 35.1 45.6 36.3 46.7 36.6 48.3 35.9 49.8 34.5 50.7 33.2 50.7 32.5 50.0 33.0 49.1 34.3 48.7 35.9 49.0 37.1 50.1 37.4 51.7 36.6 53.2 35.3 54.1 33.9 54.1 33.3 53.4 33.7 52.6 35.0 52.1 36.6 52.4" stroke="#949494" stroke-width="1.1"/>
<path d="M35.6 41.2 36.7 41.4 37.7 42.5 38.2 44.0 37.8 45.6 36.6 46.7 35.0 46.9 33.4 46.4 32.5 45.3 32.5 44.3 33.2 43.9 34.3 44.3 35.3 45.5 35.5 47.1 34.9 48.7 33.6 49.6 32.0 49.6 30.5 48.9 29.8 47.8 30.0 46.9 30.8 46.6 31.9 47.2 32.8 48.6 32.8 50.2 32.1 51.7" stroke="#888888" stroke-width="1.0"/>
<path d="M36.5 43.9 46.0 49.1" stroke="#787878" stroke-width="0.9"/>
<path d="M35.7 45.3 43.6 49.7" stroke="#787878" stroke-width="0.9"/>
<path d="M34.9 46.7 41.3 50.3" stroke="#787878" stroke-width="0.9"/>
<path d="M44.8 39.6 47.5 40.9 50.2 42.1 52.2 44.4 54.9 45.7 56.7 48.0 58.1 50.7" stroke="#c4c4c4" stroke-width="0.4"/>
<path d="M43.7 43.7 42.7 37.6" stroke="#898989" stroke-width="0.9"/>
<path d="M45.3 43.5 43.9 35.5" stroke="#898989" stroke-width="0.9"/>
<path d="M46.9 43.2 45.5 35.3" stroke="#898989" stroke-width="0.9"/>
<path d="M48.8 45.1 48.5 46.1 47.6 46.2 46.7 45.4 46.3 43.9 46.7 42.3 47.8 41.1 49.4 40.8 51.0 41.5 52.0 42.8 52.1 44.1 51.6 44.8 50.6 44.6 49.8 43.5 49.7 41.9 50.4 40.4 51.8 39.5 53.4 39.6 54.8 40.5 55.5 41.9 55.4 43.1 54.6 43.5" stroke="#646464" stroke-width="1.0"/>
<path d="M54.4 44.5 53.3 45.1 52.3 45.1 51.8 44.6 52.1 44.2 52.9 44.1 54.0 44.6 54.7 45.6 54.8 46.9 54.2 48.0 53.1 48.6 52.1 48.6 51.5 48.3 51.7 47.8 52.5 47.7 53.6 48.1 54.4 49.1 54.5 50.3 54.0 51.5 52.9 52.1 51.9 52.2 51.3 51.9 51.4 51.4" stroke="#656565" stroke-width="0.9"/>
<path d="M53.3 44.7 47.7 41.6" stroke="#737373" stroke-width="0.9"/>
<path d="M54.1 43.3 46.1 38.8" stroke="#737373" stroke-width="0.9"/>
<path d="M54.8 41.9 49.6 38.9" stroke="#737373" stroke-width="0.9"/>
<path d="M58.0 39.2 59.0 38.3 60.3 38.0 61.6 38.4 62.4 39.4 62.7 40.6 62.5 41.5 61.9 41.6 61.5 41.1 61.5 40.0 62.2 38.8 63.3 38.1 64.7 38.1 65.8 38.8 66.5 39.9 66.6 41.0 66.2 41.6 65.6 41.5 65.3 40.7 65.6 39.5 66.4 38.5 67.7 38.0 69.0 38.2 70.0 39.2 70.5 40.3 70.3 41.3 69.8 41.7 69.3 41.3 69.2 40.3 69.7 39.1 70.7 38.2 72.1 38.0 73.3 38.5" stroke="#6d6d6d" stroke-width="0.8"/>
<path d="M56.5 44.7 59.3 43.6 60.8 41.0 63.8 40.6 66.6 39.4 69.4 38.6" stroke="#bebebe" stroke-width="0.5"/>
<path d="M66.9 45.2 66.7 45.9 66.2 46.1 65.7 45.6 65.5 44.6 65.8 43.4 66.6 42.4 67.7 41.9 69.0 42.0 70.1 42.7 70.7 43.7 70.8 44.6 70.4 45.1 69.9 44.9 69.5 44.1 69.5 42.9 70.1 41.7 71.1 41.0 72.4 40.8 73.6 41.3 74.5 42.3 74.7 43.3 74.5 43.9 74.0 44.0 73.5 43.4 73.4 42.4" stroke="#696969" stroke-width="0.9"/>
<path d="M62.6 39.9 61.8 41.5 60.5 42.3 59.3 42.3 58.8 41.5 59.5 40.5 60.9 39.9 62.7 40.1 63.9 41.3 64.3 42.9 63.6 44.5 62.2 45.5 61.0 45.5 60.5 44.8 61.1 43.7 62.5 43.1 64.2 43.3 65.6 44.3 65.9 46.0 65.3 47.6 64.0 48.6 62.7 48.7 62.2 48.0 62.7 47.0 64.0 46.3 65.8 46.4 67.2 47.4 67.6 49.0 67.0 50.7 65.8 51.8 64.5 51.9" stroke="#888888" stroke-width="0.9"/>
<path d="M63.0 41.6 63.6 43.2 63.3 44.7 62.5 45.5 61.7 45.2 61.2 44.1 61.6 42.6 62.7 41.3 64.3 40.7 66.0 41.2 67.1 42.5 67.4 44.2 67.0 45.5 66.1 46.0 65.3 45.5 65.1 44.2 65.7 42.7 67.0 41.5 68.6 41.3 70.2 42.0 71.1 43.5 71.2 45.1 70.6 46.3 69.7 46.5 69.0 45.7 69.0 44.3 69.8 42.8 71.2 41.9 72.9 41.9 74.3 42.9 75.0 44.5 74.9 46.0" stroke="#949494" stroke-width="0.7"/>
<path d="M68.0 40.8 65.5 42.5 62.5 43.0 60.2 44.9 57.3 44.3 54.4 45.3 51.7 46.6" stroke="#bcbcbc" stroke-width="0.4"/>
<path d="M70.9 41.9 68.1 43.0 66.1 45.2 63.1 45.3 60.3 46.5" stroke="#bfbfbf" stroke-width="0.4"/>
<path d="M77.4 40.1 73.0 50.1" stroke="#6c6c6c" stroke-width="0.9"/>
<path d="M75.9 39.4 72.3 47.7" stroke="#6c6c6c" stroke-width="0.9"/>
<path d="M74.4 38.8 71.0 46.7" stroke="#6c6c6c" stroke-width="0.9"/>
<path d="M76.4 42.4 77.7 43.4 78.3 44.9 78.0 46.5 76.9 47.6 75.3 48.0 73.9 47.7 73.2 46.9 73.5 46.1 74.6 45.8 76.0 46.3 77.1 47.5 77.5 49.1 76.9 50.6 75.5 51.5 74.0 51.7 72.7 51.1 72.4 50.3 72.9 49.6 74.2 49.6 75.6 50.3 76.5 51.6 76.6 53.2 75.7 54.6 74.2 55.3 72.7 55.3 71.7 54.6 71.6 53.8" stroke="#919191" stroke-width="1.0"/>
<path d="M73.6 40.9 70.6 40.3 67.7 39.6" stroke="#b9b9b9" stroke-width="0.4"/>
<path d="M80.7 40.6 76.0 44.4" stroke="#909090" stroke-width="0.9"/>
<path d="M79.7 39.4 71.8 45.7" stroke="#909090" stroke-width="0.9"/>
<path d="M78.7 38.1 71.8 43.6" stroke="#909090" stroke-width="0.9"/>
<path d="M79.7 43.1 81.1 43.2 81.9 44.0 81.5 44.7 80.3 44.8 78.9 43.9 78.3 42.4 78.8 40.8 80.1 39.9 81.7 39.9 82.6 40.6 82.4 41.4 81.3 41.6 79.9 40.9 79.1 39.4 79.4 37.8 80.6 36.8 82.2 36.6 83.3 37.2 83.4 38.0 82.4 38.4 81.0 37.8 80.0 36.5 80.0 34.9 81.1 33.7 82.7 33.3 84.0 33.8 84.2 34.6 83.4 35.1 82.0 34.8 80.9 33.5 80.7 31.9 81.7 30.6" stroke="#7a7a7a" stroke-width="0.9"/>
<path d="M88.6 40.4 86.2 38.6 85.4 35.7 85.0 32.8 85.3 29.8" stroke="#c0c0c0" stroke-width="0.4"/>
<path d="M87.9 42.8 80.4 44.6" stroke="#939393" stroke-width="0.9"/>
<path d="M87.5 41.3 77.0 43.8" stroke="#939393" stroke-width="0.9"/>
<path d="M87.1 39.7 77.6 42.0" stroke="#939393" stroke-width="0.9"/>
<path d="M84.4 39.7 85.0 38.2 86.3 37.2 88.0 37.2 89.2 38.3 89.8 39.8 89.4 41.1 88.6 41.5 88.0 40.8 88.0 39.4 88.9 38.0 90.4 37.4 92.0 37.8 93.0 39.1 93.2 40.7 92.6 41.6 91.8 41.6 91.4 40.5 91.7 39.0 92.9 37.9 94.6 37.7 96.0 38.5 96.6 40.0 96.5 41.4 95.7 42.0 95.0 41.5 94.9 40.2 95.6 38.7 97.0 37.9 98.6 38.2 99.8 39.4" stroke="#808080" stroke-width="0.8"/>
<path d="M88.8 40.3 89.5 39.2 90.6 38.5 91.9 38.4 93.2 38.9 94.1 39.8 94.5 40.9 94.4 41.7 94.0 42.1 93.4 41.9 93.0 41.0 93.0 39.8 93.5 38.6 94.5 37.7 95.8 37.3 97.1 37.6 98.2 38.4 98.8 39.5 98.9 40.5 98.5 41.1 98.0 41.1 97.5 40.4 97.3 39.3 97.6 38.1 98.4 37.0 99.6 36.4" stroke="#7f7f7f" stroke-width="0.7"/>
<path d="M95.5 41.4 94.7 42.7 93.3 43.3 91.8 43.2 90.5 42.4 89.7 41.2 89.5 40.0 90.0 39.3 90.7 39.2 91.4 40.0 91.7 41.3 91.3 42.8 90.4 44.0 89.0 44.6 87.5 44.4 86.2 43.5 85.5 42.3 85.4 41.1 85.9 40.5 86.6 40.5 87.2 41.3 87.5 42.6 87.1 44.1 86.2 45.3 84.7 45.8 83.2 45.6 82.0 44.7 81.3 43.4" stroke="#929292" stroke-width="0.9"/>
<path d="M90.9 40.9 93.9 41.2 95.8 38.9 95.0 36.0 93.9 33.2 91.8 31.0" stroke="#b2b2b2" stroke-width="0.5"/>
<path d="M98.3 42.9 99.8 41.8 101.6 41.9 102.9 43.3 103.2 45.1 102.6 46.4 101.6 46.6 100.9 45.5 101.3 43.9 102.6 42.5 104.4 42.3 105.9 43.3 106.5 45.1 106.1 46.7 105.1 47.2 104.3 46.5 104.3 44.8 105.4 43.3 107.2 42.7 108.9 43.5 109.8 45.1 109.6 46.9 108.7 47.7 107.7 47.3 107.5 45.8 108.3 44.2 110.0 43.3 111.7 43.7 112.9 45.1 113.0 47.0 112.3 48.1 111.2 48.1 110.8 46.8 111.3 45.1" stroke="#6a6a6a" stroke-width="1.0"/>
<path d="M103.1 41.6 102.2 42.7 101.0 43.3 99.8 43.4 99.0 42.9 98.9 42.3 99.5 41.9 100.6 41.9 101.8 42.5 102.7 43.6 103.0 45.0 102.5 46.3 101.4 47.2 100.2 47.6 99.1 47.4 98.6 46.9 98.8 46.3 99.6 46.0 100.8 46.2 102.0 47.1 102.6 48.3 102.5 49.7 101.8 50.9 100.6 51.6 99.4 51.8 98.5 51.4 98.3 50.8 98.8 50.3 99.8 50.2 101.0 50.7" stroke="#868686" stroke-width="1.0"/>
<path d="M102.8 44.4 104.8 42.2 104.5 39.2 101.8 37.8 99.8 35.5" stroke="#b1b1b1" stroke-width="0.5"/>
<path d="M103.4 44.5 103.8 43.6 104.6 42.8 105.6 42.4 106.7 42.6 107.6 43.2 108.2 44.2 108.3 45.0 108.0 45.6 107.6 45.6 107.3 45.1 107.3 44.3 107.8 43.4 108.6 42.6 109.6 42.3 110.7 42.6 111.6 43.3 112.1 44.2 112.1 45.0" stroke="#7a7a7a" stroke-width="0.8"/>
<path d="M107.5 43.4 110.0 51.9" stroke="#646464" stroke-width="0.9"/>
<path d="M106.0 43.8 108.3 51.8" stroke="#646464" stroke-width="0.9"/>
<path d="M104.4 44.3 107.4 54.4" stroke="#646464" stroke-width="0.9"/>
<path d="M111.4 40.4 112.5 33.5" stroke="#7d7d7d" stroke-width="0.9"/>
<path d="M113.0 40.7 114.6 31.0" stroke="#7d7d7d" stroke-width="0.9"/>
<path d="M114.5 40.9 116.3 30.4" stroke="#7d7d7d" stroke-width="0.9"/>
<path d="M113.8 41.8 112.4 40.9 111.6 39.4 111.7 37.7 112.8 36.4 114.4 35.8 116.0 36.0 116.8 36.8 116.8 37.6 115.8 38.1 114.3 37.8 113.0 36.7 112.4 35.1 112.8 33.5 114.1 32.3 115.8 31.9 117.2 32.3 117.8 33.2 117.5 34.0 116.3 34.2 114.9 33.7 113.7 32.5 113.4 30.8 114.0 29.2 115.4 28.3 117.1 28.1 118.3 28.7 118.7 29.6 118.2 30.3 116.9 30.3 115.4 29.6 114.4 28.2" stroke="#919191" stroke-width="0.9"/>
<path d="M114.4 40.4 117.2 41.6 117.8 44.5 116.6 47.2" stroke="#a1a1a1" stroke-width="0.5"/>
<path d="M122.6 39.2 125.6 39.0 128.6 39.2 130.7 41.4 131.7 44.2 130.6 47.0" stroke="#a0a0a0" stroke-width="0.5"/>
<path d="M21.1 47.9 21.7 46.3 22.8 45.5 23.7 45.8 23.8 47.0 22.8 48.4 21.1 49.1 19.4 48.6 18.3 47.2 18.3 45.4 19.2 44.0 20.3 43.6 21.0 44.3 20.7 45.7 19.4 46.9 17.6 47.2 16.0 46.3 15.3 44.6 15.7 42.9 16.8 41.8 17.8 41.9 18.1 42.9 17.4 44.3 15.8 45.2 14.0 45.1 12.8 43.9 12.5 42.1 13.2 40.5 14.3 39.8" stroke="#848484" stroke-width="0.8"/>
<path d="M27.2 45.1 24.5 46.5 21.8 45.2 19.1 46.5 16.1 46.6 13.1 46.5" stroke="#d0d0d0" stroke-width="0.5"/>
<path d="M34.9 50.2 34.4 49.3 34.5 47.8 35.4 46.6 36.8 46.1 38.2 46.5 39.2 47.6 39.4 48.8 39.0 49.5 38.3 49.4 37.8 48.4 37.9 47.0 38.8 45.8 40.2 45.3 41.6 45.7 42.6 46.8 42.9 48.0 42.4 48.7 41.7 48.6 41.2 47.6 41.3 46.1 42.2 44.9 43.6 44.4 45.0 44.8" stroke="#979797" stroke-width="1.0"/>
<path d="M31.6 46.9 23.7 50.2" stroke="#7f7f7f" stroke-width="0.9"/>
<path d="M31.0 45.5 22.4 49.0" stroke="#7f7f7f" stroke-width="0.9"/>
<path d="M30.4 44.0 23.0 47.1" stroke="#7f7f7f" stroke-width="0.9"/>
<path d="M38.2 43.7 39.4 44.6 40.0 45.8 39.8 46.9 39.1 47.2 38.6 46.6 38.7 45.3 39.5 44.1 40.8 43.6 42.2 44.0 43.1 45.1 43.3 46.4 42.8 47.1 42.2 47.0 41.9 46.0 42.3 44.7 43.3 43.7 44.8 43.6 46.0 44.4 46.6 45.7 46.5 46.8 45.8 47.1" stroke="#6a6a6a" stroke-width="1.1"/>
<path d="M46.9 50.0 47.8 47.1 50.6 46.0 53.0 44.2 55.8 43.1 58.4 41.7 61.3 40.6" stroke="#d4d4d4" stroke-width="0.4"/>
<path d="M43.9 46.7 43.2 55.2" stroke="#707070" stroke-width="0.9"/>
<path d="M42.3 46.6 41.4 57.4" stroke="#707070" stroke-width="0.9"/>
<path d="M40.7 46.5 40.1 52.9" stroke="#707070" stroke-width="0.9"/>
<path d="M54.9 45.5 55.2 44.9 56.0 44.6 57.1 44.9 58.2 45.7 58.9 47.0 59.0 48.4 58.4 49.7 57.3 50.5 55.9 50.9 54.7 50.6 54.0 50.1 53.9 49.4 54.6 49.0 55.6 49.0 56.8 49.6 57.7 50.7 58.0 52.1 57.7 53.5 56.7 54.6 55.4 55.1 54.1 55.1" stroke="#939393" stroke-width="1.0"/>
<path d="M63.9 45.2 60.9 45.8 58.1 46.8 55.7 48.6" stroke="#b1b1b1" stroke-width="0.6"/>
<path d="M63.8 44.5 64.7 44.6 65.6 45.5 66.0 47.0 65.8 48.6 64.8 49.8 63.3 50.4 61.7 50.1 60.5 49.2 59.9 48.1 60.1 47.2 60.8 47.0 61.8 47.6 62.4 48.9 62.5 50.5 61.8 51.9 60.5 52.8 58.9 52.8 57.4 52.2 56.6 51.1 56.4 50.0 57.0 49.5 57.9 49.8 58.8 50.8 59.1 52.4 58.7 53.9 57.6 55.1 56.0 55.4 54.5 55.0 53.4 54.0 52.9 52.9 53.2 52.2 54.1 52.1 55.0 52.9" stroke="#8c8c8c" stroke-width="0.8"/>
<path d="M77.5 45.0 78.7 45.7 79.4 46.9 79.5 48.4 78.7 49.6 77.5 50.3 76.1 50.3 75.2 49.8 75.0 49.2 75.6 48.7 76.6 48.8 77.8 49.5 78.5 50.7 78.5 52.2 77.7 53.4 76.5 54.0 75.2 54.0 74.2 53.6 74.1 52.9 74.6 52.4 75.7 52.5 76.9 53.3 77.6 54.5 77.6 55.9 76.8 57.1 75.5 57.8 74.2 57.8" stroke="#848484" stroke-width="0.8"/>
<path d="M82.0 45.0 83.2 43.9 84.8 43.7 86.3 44.3 87.4 45.5 87.7 46.9 87.3 47.9 86.5 48.1 85.8 47.4 85.4 46.0 85.7 44.4 86.7 43.1 88.3 42.6 89.9 43.0 91.1 44.1 91.7 45.4 91.5 46.6 90.8 47.1 90.0 46.7 89.4 45.4 89.5 43.9 90.4 42.4 91.8 41.6 93.4 41.7 94.8 42.6 95.6 44.0 95.6 45.3 95.1 46.0" stroke="#727272" stroke-width="0.8"/>
<path d="M77.8 49.1 79.1 48.3 80.5 48.4 81.6 49.4 82.0 50.7 81.6 51.5 81.0 51.3 80.6 50.3 80.9 48.9 82.1 47.9 83.5 47.8 84.8 48.6 85.3 49.9 85.1 50.8 84.4 50.9 83.9 50.0 84.1 48.6 85.1 47.5 86.5 47.2 87.9 47.9 88.6 49.1 88.5 50.2 87.9 50.5 87.3 49.8 87.3 48.4 88.1 47.2 89.5 46.7 90.9 47.1 91.8 48.3 91.9 49.5 91.4 50.0 90.7 49.5 90.6 48.2 91.2 46.9 92.5 46.2" stroke="#686868" stroke-width="1.0"/>
<path d="M87.7 47.3 84.2 52.1" stroke="#8f8f8f" stroke-width="0.9"/>
<path d="M86.4 46.3 81.7 52.8" stroke="#8f8f8f" stroke-width="0.9"/>
<path d="M85.1 45.4 79.0 53.9" stroke="#8f8f8f" stroke-width="0.9"/>
<path d="M85.8 50.6 84.5 51.1 83.5 51.0 82.9 50.4 83.2 49.7 84.1 49.1 85.5 49.0 86.9 49.5 87.9 50.6 88.3 52.0 87.9 53.5 86.9 54.6 85.6 55.1 84.5 55.1 84.0 54.5 84.2 53.8 85.1 53.2 86.5 53.0 87.9 53.5" stroke="#757575" stroke-width="0.7"/>
<path d="M86.7 49.3 86.0 46.3 85.2 43.4 86.7 40.8 87.1 37.9 87.8 34.9" stroke="#c6c6c6" stroke-width="0.5"/>
<path d="M93.4 48.6 94.4 51.5 93.9 54.4 95.0 57.2 93.5 59.8" stroke="#cacaca" stroke-width="0.5"/>
<path d="M95.6 50.6 96.6 57.9" stroke="#898989" stroke-width="0.9"/>
<path d="M94.0 50.8 95.0 58.3" stroke="#898989" stroke-width="0.9"/>
<path d="M92.4 51.0 93.4 58.1" stroke="#898989" stroke-width="0.9"/>
<path d="M91.7 46.7 89.0 47.9 86.8 50.0 86.0 52.9 85.5 55.8" stroke="#b7b7b7" stroke-width="0.6"/>
<path d="M96.9 45.3 98.3 48.0 98.0 51.0 99.8 53.4 101.0 56.1 103.5 57.7 106.5 57.6" stroke="#b0b0b0" stroke-width="0.6"/>
<path d="M105.9 47.0 96.5 46.7" stroke="#808080" stroke-width="0.9"/>
<path d="M106.0 45.4 98.9 45.1" stroke="#808080" stroke-width="0.9"/>
<path d="M106.0 43.8 99.1 43.6" stroke="#808080" stroke-width="0.9"/>
<path d="M108.7 50.7 108.5 47.7 109.8 45.0 111.8 42.8 113.1 40.1 112.4 37.2" stroke="#c4c4c4" stroke-width="0.6"/>
<path d="M109.8 48.2 109.0 38.8" stroke="#8a8a8a" stroke-width="0.9"/>
<path d="M111.4 48.1 110.6 39.4" stroke="#8a8a8a" stroke-width="0.9"/>
<path d="M113.0 48.0 112.0 37.0" stroke="#8a8a8a" stroke-width="0.9"/>
<path d="M22.9 54.5 32.3 52.0" stroke="#6a6a6a" stroke-width="0.9"/>
<path d="M23.3 56.1 33.7 53.2" stroke="#6a6a6a" stroke-width="0.9"/>
<path d="M23.7 57.6 30.3 55.8" stroke="#6a6a6a" stroke-width="0.9"/>
<path d="M20.6 52.4 20.0 51.2 20.4 50.3 21.4 50.2 22.5 51.1 23.1 52.8 22.7 54.5 21.5 55.7 19.7 55.9 18.1 55.2 17.2 54.0 17.3 52.9 18.1 52.5 19.2 53.1 20.0 54.6 20.0 56.3 19.0 57.8 17.4 58.3 15.7 57.9 14.5 56.8 14.2 55.6 14.8 54.9 15.9 55.2 16.9 56.4 17.2 58.1 16.6 59.8 15.1 60.7 13.3 60.6 11.9 59.6 11.3 58.4 11.6 57.4 12.6 57.4 13.7 58.3 14.3 59.9 14.0 61.7" stroke="#919191" stroke-width="1.0"/>
<path d="M29.1 54.2 27.4 51.8 24.9 50.2 22.9 47.9 21.9 45.1" stroke="#bbbbbb" stroke-width="0.6"/>
<path d="M38.7 55.4 39.7 58.2 41.0 60.9 43.7 62.3 46.7 62.1" stroke="#cccccc" stroke-width="0.4"/>
<path d="M39.1 51.3 39.6 52.4 39.5 53.3 39.1 53.7 38.7 53.4 38.6 52.6 39.0 51.6 39.9 50.7 41.1 50.4 42.3 50.7 43.3 51.6 43.7 52.6 43.6 53.5 43.2 53.9 42.8 53.7 42.7 52.9 43.1 51.9 44.0 51.0 45.2 50.7 46.5 51.0 47.4 51.8 47.8 52.9 47.7 53.8 47.3 54.2 46.9 54.0 46.8 53.2 47.2 52.2 48.1 51.3 49.4 51.0 50.6 51.3 51.5 52.1 51.9 53.2 51.8 54.1 51.5 54.5" stroke="#848484" stroke-width="1.0"/>
<path d="M48.2 54.2 47.4 55.2 46.3 55.6 45.6 55.3 45.8 54.7 46.8 54.4 48.1 54.7 49.0 55.8 49.0 57.1 48.3 58.3 47.2 58.8 46.4 58.6 46.3 58.1 47.1 57.7 48.4 57.8 49.4 58.7 49.8 60.0 49.2 61.3 48.2 62.0 47.2 62.0 46.9 61.5 47.5 61.0 48.7 61.0 49.9 61.7 50.4 62.9 50.1 64.2 49.1 65.1 48.1 65.3 47.6 64.9 47.9 64.4 49.0 64.2 50.3 64.7" stroke="#656565" stroke-width="1.0"/>
<path d="M50.4 51.3 52.5 53.4 55.4 54.4 57.7 56.3" stroke="#b9b9b9" stroke-width="0.5"/>
<path d="M60.0 55.2 59.7 55.8 59.1 55.8 58.6 55.0 58.5 53.8 58.9 52.6 60.0 51.7 61.3 51.5 62.6 52.0 63.4 52.9 63.7 53.9 63.4 54.5 62.8 54.4 62.3 53.6 62.2 52.4 62.7 51.1 63.8 50.3 65.1 50.1 66.4 50.7 67.2 51.6 67.4 52.6 67.0 53.1 66.5 53.0 66.0 52.1 65.9 50.9 66.5 49.6 67.6 48.9 69.0 48.8 70.2 49.4 70.9 50.3 71.1 51.3 70.7 51.8 70.1 51.5" stroke="#828282" stroke-width="1.0"/>
<path d="M64.6 54.4 61.9 55.5 59.4 57.2" stroke="#b7b7b7" stroke-width="0.4"/>
<path d="M61.1 54.2 60.4 54.8 59.8 54.6 59.5 53.7 59.9 52.4 60.9 51.3 62.3 50.8 63.8 51.1 64.9 52.1 65.4 53.5 65.3 54.8 64.7 55.7 64.0 55.7 63.5 54.9 63.7 53.7 64.6 52.5 65.9 51.8 67.4 51.8 68.7 52.7 69.4 54.0 69.4 55.4 68.9 56.4 68.2 56.7 67.6 56.2 67.6 55.1 68.3 53.8 69.5 52.9 71.0 52.7 72.3 53.3 73.2 54.5 73.5 56.0 73.1 57.2 72.4 57.7" stroke="#949494" stroke-width="1.1"/>
<path d="M72.5 52.9 73.2 49.9 72.8 47.0 74.9 44.9" stroke="#c0c0c0" stroke-width="0.6"/>
<path d="M83.0 52.1 81.9 54.8 79.7 56.9 80.1 59.9 82.5 61.6" stroke="#adadad" stroke-width="0.4"/>
<path d="M79.1 51.2 79.0 44.3" stroke="#7e7e7e" stroke-width="0.9"/>
<path d="M80.7 51.2 80.6 43.1" stroke="#7e7e7e" stroke-width="0.9"/>
<path d="M82.3 51.2 82.2 41.0" stroke="#7e7e7e" stroke-width="0.9"/>
<path d="M80.7 56.1 79.9 55.7 79.1 54.8 78.8 53.7 78.9 52.5 79.5 51.5 80.5 50.8 81.6 50.6 82.7 50.8 83.4 51.3 83.6 51.8 83.4 52.2 82.7 52.3 81.9 51.9 81.1 51.1 80.7 50.0 80.7 48.8 81.3 47.7" stroke="#989898" stroke-width="0.9"/>
<path d="M90.3 52.4 89.9 52.8 89.2 52.6 88.5 51.7 88.3 50.4 88.7 49.1 89.7 48.2 91.1 48.0 92.3 48.4 93.1 49.2 93.2 50.0 92.7 50.2 92.0 49.9 91.3 48.9 91.2 47.6 91.8 46.3 92.8 45.6 94.2 45.5 95.4 46.0 96.0 46.8 96.0 47.5 95.5 47.7 94.7 47.2 94.2 46.1 94.2 44.8 94.8 43.6 96.0 42.9 97.3 43.0 98.4 43.5 99.0 44.4" stroke="#808080" stroke-width="0.8"/>
<path d="M85.4 54.5 84.3 55.4 83.1 55.6 82.5 55.1 82.8 54.5 83.9 54.1 85.3 54.4 86.3 55.5 86.6 56.9 85.9 58.2 84.7 59.0 83.7 59.0 83.3 58.4 83.8 57.8 85.0 57.6 86.4 58.1 87.2 59.2 87.3 60.7 86.4 61.9 85.2 62.5 84.3 62.3 84.1 61.7 84.8 61.1 86.1 61.1 87.4 61.8 88.1 63.0 87.9 64.5 86.9 65.6 85.7 66.0 84.9 65.7 85.0 65.0" stroke="#747474" stroke-width="0.7"/>
<path d="M92.5 51.1 93.8 51.0 95.0 51.4 95.9 52.4 96.3 53.5 96.3 54.6 95.9 55.4 95.4 55.6 94.9 55.3 94.7 54.5 95.0 53.5 95.7 52.4 96.8 51.8 98.1 51.6 99.3 52.0 100.2 52.9 100.7 54.1 100.7 55.2" stroke="#656565" stroke-width="1.0"/>
<path d="M93.3 53.1 94.2 54.5 94.4 56.0 93.9 57.1 93.1 57.3 92.5 56.7 92.5 55.4 93.3 54.0 94.7 53.2 96.3 53.2 97.6 54.2 98.2 55.7 98.1 57.1 97.4 57.9 96.6 57.8 96.2 56.9 96.5 55.5 97.6 54.3 99.1 53.7 100.6 54.2 101.7 55.4 102.1 56.9 101.7 58.2 100.9 58.7 100.2 58.2 100.1 57.0 100.7 55.6 101.9 54.6 103.5 54.4 104.9 55.2 105.7 56.6 105.8 58.1 105.2 59.1" stroke="#666666" stroke-width="0.8"/>
<path d="M99.4 55.2 92.9 56.8" stroke="#828282" stroke-width="0.9"/>
<path d="M99.0 53.6 88.9 56.1" stroke="#828282" stroke-width="0.9"/>
<path d="M98.6 52.0 89.2 54.4" stroke="#828282" stroke-width="0.9"/>
<path d="M101.9 51.3 102.8 51.2 103.8 51.6 104.7 52.5 105.2 53.7 105.0 54.9 104.3 55.9 103.2 56.5 102.2 56.6 101.6 56.3 101.5 55.9 102.1 55.6 103.0 55.6 104.1 56.2 104.9 57.2 105.1 58.4 104.7 59.6 103.9 60.5 102.8 61.0 101.9 60.9 101.4 60.5 101.6 60.1 102.3 59.9 103.3 60.1 104.3 60.8 104.9 61.9 105.0 63.2 104.4 64.3 103.4 65.1 102.3 65.3 101.5 65.2 101.3 64.7 101.6 64.3 102.5 64.3 103.6 64.6" stroke="#828282" stroke-width="0.7"/>
<path d="M119.0 57.6 117.6 58.4 116.2 58.5 115.4 57.9 115.4 57.0 116.4 56.3 118.0 56.3 119.5 57.0 120.5 58.3 120.5 60.0 119.7 61.4 118.3 62.2 116.8 62.3 116.0 61.7 116.1 60.8 117.1 60.2 118.7 60.1 120.2 60.8 121.2 62.1 121.2 63.8 120.3 65.2 118.9 66.1 117.5 66.1 116.7 65.5 116.8 64.7 117.8 64.0" stroke="#8d8d8d" stroke-width="0.9"/>
<path d="M117.6 51.3 114.9 52.6 111.9 52.2 109.6 50.3 108.4 47.6 109.7 44.8" stroke="#c2c2c2" stroke-width="0.4"/>
<path d="M23.6 58.0 22.8 60.9 23.4 63.8 22.3 66.6 21.1 69.3 22.5 72.0 23.8 74.7" stroke="#d4d4d4" stroke-width="0.4"/>
<path d="M19.2 59.1 23.4 54.6" stroke="#646464" stroke-width="0.9"/>
<path d="M20.4 60.2 27.7 52.2" stroke="#646464" stroke-width="0.9"/>
<path d="M21.5 61.3 27.5 54.8" stroke="#646464" stroke-width="0.9"/>
<path d="M16.8 64.0 16.5 62.5 16.9 61.1 17.6 60.1 18.5 59.7 19.1 60.0 19.2 60.8 18.6 61.8 17.4 62.6 15.9 62.9 14.5 62.4 13.5 61.3 13.1 59.9 13.3 58.4 14.0 57.4 14.9 56.9 15.6 57.1 15.7 57.9 15.2 58.9 14.1 59.7 12.6 60.0 11.2 59.7 10.1 58.7 9.6 57.3 9.8 55.8 10.4 54.7 11.3 54.1 12.0 54.2 12.3 55.0 11.8 55.9 10.8 56.8 9.4 57.2" stroke="#838383" stroke-width="0.8"/>
<path d="M28.0 57.7 26.3 64.5" stroke="#717171" stroke-width="0.9"/>
<path d="M26.5 57.3 24.5 65.1" stroke="#717171" stroke-width="0.9"/>
<path d="M24.9 56.9 22.5 66.5" stroke="#717171" stroke-width="0.9"/>
<path d="M25.7 56.0 27.0 56.6 27.7 57.9 27.6 59.3 26.9 60.0 26.3 59.7 26.3 58.8 27.1 57.6 28.4 57.1 29.8 57.4 30.7 58.6 30.8 60.0 30.3 61.0 29.6 61.0 29.3 60.2 29.9 59.0 31.1 58.2 32.6 58.3 33.7 59.3 34.0 60.8 33.6 61.9 32.9 62.2 32.5 61.6 32.8 60.4 33.9 59.5 35.3 59.3 36.6 60.1 37.1 61.5 36.9 62.7 36.2 63.3" stroke="#919191" stroke-width="0.7"/>
<path d="M32.3 59.3 42.1 54.5" stroke="#939393" stroke-width="0.9"/>
<path d="M33.0 60.7 40.5 57.0" stroke="#939393" stroke-width="0.9"/>
<path d="M33.7 62.2 43.2 57.5" stroke="#939393" stroke-width="0.9"/>
<path d="M46.1 57.7 36.8 58.0" stroke="#797979" stroke-width="0.9"/>
<path d="M46.0 56.1 38.9 56.3" stroke="#797979" stroke-width="0.9"/>
<path d="M46.0 54.5 36.8 54.8" stroke="#797979" stroke-width="0.9"/>
<path d="M42.4 62.2 44.8 64.0 45.6 66.9 44.3 69.6" stroke="#c4c4c4" stroke-width="0.4"/>
<path d="M51.0 58.9 51.8 61.8 54.2 63.6 57.0 64.7" stroke="#bcbcbc" stroke-width="0.5"/>
<path d="M51.8 60.2 51.0 59.1 51.1 57.7 51.9 56.7 52.8 56.3 53.2 56.7 52.8 57.4 51.7 57.8 50.3 57.5 49.4 56.4 49.4 55.1 50.1 53.9 51.0 53.5 51.6 53.8 51.3 54.4 50.2 54.9 48.9 54.7 47.9 53.8 47.7 52.4 48.2 51.2 49.2 50.6 49.8 50.8 49.7 51.5 48.8 52.0 47.4 52.0 46.3 51.2 46.0 49.8 46.4 48.6 47.4 47.8 48.1 47.9 48.1 48.5 47.3 49.1 46.0 49.2 44.8 48.5 44.3 47.2" stroke="#939393" stroke-width="0.9"/>
<path d="M56.5 59.7 59.4 60.5 60.3 63.4 63.1 64.4" stroke="#b2b2b2" stroke-width="0.5"/>
<path d="M54.8 58.4 56.1 58.2 57.6 58.7 58.8 59.8 59.2 61.3 58.7 62.8 57.6 64.0 56.2 64.5 55.1 64.3 54.6 63.7 54.9 62.9 56.0 62.4 57.5 62.5 58.9 63.2 59.7 64.6 59.8 66.1 59.0 67.5 57.7 68.4 56.3 68.6 55.4 68.2 55.3 67.5 56.0 66.7 57.3 66.5 58.8 66.9 60.0 67.9 60.5 69.4 60.2 70.9" stroke="#696969" stroke-width="0.7"/>
<path d="M56.5 57.3 57.2 56.4 58.2 55.9 59.3 55.9 60.3 56.4 61.0 57.2 61.3 58.1 61.2 58.7 60.9 59.0 60.5 58.7 60.2 58.0 60.3 57.0 60.8 56.0 61.6 55.3 62.7 55.0 63.8 55.3 64.7 55.9 65.2 56.7" stroke="#888888" stroke-width="0.9"/>
<path d="M62.5 61.3 63.7 62.2 64.2 63.6 63.9 65.0 62.9 66.1 61.6 66.6 60.6 66.4 60.2 65.8 60.7 65.2 61.8 64.9 63.2 65.3 64.2 66.4 64.6 67.8 64.1 69.2 63.0 70.2 61.7 70.5 60.8 70.2 60.6 69.6 61.2 69.0 62.4 68.9 63.8 69.4 64.7 70.6 64.9 72.0 64.3 73.4 63.1 74.2 61.8 74.4 61.0 74.0 61.0 73.3 61.8 72.8 63.1 72.8" stroke="#7a7a7a" stroke-width="1.1"/>
<path d="M64.8 61.6 61.7 69.8" stroke="#7d7d7d" stroke-width="0.9"/>
<path d="M63.3 61.1 60.7 68.0" stroke="#7d7d7d" stroke-width="0.9"/>
<path d="M61.8 60.5 58.9 68.1" stroke="#7d7d7d" stroke-width="0.9"/>
<path d="M68.9 60.9 66.7 58.8 64.7 56.6 61.7 56.3 59.1 57.7 56.2 58.4" stroke="#d3d3d3" stroke-width="0.6"/>
<path d="M77.9 60.3 78.7 61.1 79.1 62.3 78.9 63.5 78.1 64.4 77.1 64.9 76.2 64.9 75.7 64.5 75.8 64.1 76.5 63.9 77.4 64.1 78.4 64.9 78.9 66.0 78.8 67.2 78.1 68.2 77.1 68.8 76.1 68.9 75.5 68.6 75.5 68.1 76.0 67.8 77.0 68.0 78.0 68.6 78.6 69.6 78.6 70.9 78.1 71.9" stroke="#909090" stroke-width="1.1"/>
<path d="M88.1 57.9 88.9 57.0 90.0 56.6 91.2 56.7 92.2 57.3 92.9 58.2 93.1 59.1 92.9 59.8 92.5 59.9 92.1 59.5 91.9 58.7 92.1 57.6 92.7 56.6 93.8 56.0 94.9 55.9 96.1 56.3 96.9 57.1 97.3 58.1 97.2 58.8 96.9 59.2 96.4 59.0" stroke="#727272" stroke-width="1.1"/>
<path d="M95.5 58.4 95.0 59.9 94.1 60.4 93.4 59.8 93.3 58.4 94.2 56.9 95.8 56.1 97.5 56.5 98.6 57.8 98.8 59.5 98.2 60.8 97.3 61.1 96.6 60.4 96.7 58.9 97.8 57.5 99.4 56.9 101.0 57.5 102.0 58.9 102.1 60.6 101.4 61.8 100.4 61.9 99.9 60.9 100.2 59.4" stroke="#868686" stroke-width="0.8"/>
<path d="M100.8 62.2 102.5 72.7" stroke="#797979" stroke-width="0.9"/>
<path d="M99.2 62.4 100.7 71.4" stroke="#797979" stroke-width="0.9"/>
<path d="M97.6 62.7 99.3 72.8" stroke="#797979" stroke-width="0.9"/>
<path d="M102.9 60.1 101.8 60.9 100.6 61.0 99.5 60.7 99.1 60.1 99.4 59.6 100.3 59.4 101.4 59.8 102.3 60.8 102.6 62.1 102.3 63.3 101.3 64.3 100.0 64.6 98.9 64.4 98.3 63.9 98.3 63.3 99.1 63.0 100.1 63.2" stroke="#767676" stroke-width="1.0"/>
<path d="M107.2 60.6 104.4 59.5 102.5 57.1 99.6 56.2 97.0 54.8" stroke="#c1c1c1" stroke-width="0.5"/>
<path d="M102.1 62.1 104.4 60.3 106.7 58.3 108.2 55.7 111.2 55.4 113.2 53.1 113.7 50.2" stroke="#b6b6b6" stroke-width="0.5"/>
<path d="M106.6 58.4 103.6 49.5" stroke="#7b7b7b" stroke-width="0.9"/>
<path d="M108.1 57.9 105.4 49.6" stroke="#7b7b7b" stroke-width="0.9"/>
<path d="M109.6 57.4 107.7 51.6" stroke="#7b7b7b" stroke-width="0.9"/>
<path d="M109.5 59.0 110.1 58.6 111.1 58.9 112.0 60.0 112.4 61.6 111.9 63.1 110.7 64.2 109.2 64.4 107.7 63.9 106.7 62.9 106.5 61.9 107.0 61.4 108.0 61.6 108.9 62.6 109.4 64.1 109.1 65.7 108.0 66.8 106.5 67.3 104.9 66.9 103.8 65.9 103.5 64.9 103.9 64.3 104.8 64.3 105.8 65.2 106.4 66.6 106.2 68.2 105.2 69.5 103.8 70.1 102.2 69.8 101.0 68.9 100.5 67.9" stroke="#797979" stroke-width="0.9"/>
<path d="M112.4 62.0 115.2 61.0 118.1 61.6 120.6 59.9" stroke="#a8a8a8" stroke-width="0.6"/>
<path d="M111.5 58.4 112.9 59.0 114.0 60.4 114.1 62.0 113.3 63.4 111.8 64.2 110.2 64.1 109.1 63.4 109.0 62.5 109.9 61.9 111.3 62.0 112.7 63.0 113.4 64.5 113.2 66.1 112.1 67.3 110.5 67.8 109.0 67.5 108.3 66.6 108.5 65.8 109.6 65.4 111.1 65.8 112.4 67.0" stroke="#707070" stroke-width="0.8"/>
<path d="M116.4 59.9 119.0 61.3 121.9 61.9 124.5 63.4" stroke="#aeaeae" stroke-width="0.5"/>
<path d="M115.4 61.4 112.6 62.6 109.7 61.8 106.8 61.4 103.8 61.2 100.8 61.8 98.6 63.7" stroke="#c4c4c4" stroke-width="0.5"/>
<path d="M119.4 62.4 122.4 62.5 125.2 61.4 127.2 59.1 127.5 56.1" stroke="#a8a8a8" stroke-width="0.5"/>
<path d="M18.2 68.2 20.8 69.8 21.3 72.8 21.0 75.7" stroke="#c3c3c3" stroke-width="0.6"/>
<path d="M22.2 67.0 21.3 69.8 18.5 71.0" stroke="#a7a7a7" stroke-width="0.5"/>
<path d="M27.7 68.4 24.7 68.3 22.2 69.9 20.4 72.4" stroke="#a9a9a9" stroke-width="0.4"/>
<path d="M26.9 66.3 32.6 71.4" stroke="#6f6f6f" stroke-width="0.9"/>
<path d="M25.8 67.5 33.5 74.4" stroke="#6f6f6f" stroke-width="0.9"/>
<path d="M24.8 68.6 30.4 73.7" stroke="#6f6f6f" stroke-width="0.9"/>
<path d="M26.5 65.5 16.8 67.2" stroke="#676767" stroke-width="0.9"/>
<path d="M26.2 63.9 19.5 65.1" stroke="#676767" stroke-width="0.9"/>
<path d="M25.9 62.4 16.9 63.9" stroke="#676767" stroke-width="0.9"/>
<path d="M35.8 68.1 37.3 70.7 36.7 73.6 35.3 76.2 33.1 78.3" stroke="#a0a0a0" stroke-width="0.5"/>
<path d="M34.4 65.6 39.8 68.4" stroke="#8d8d8d" stroke-width="0.9"/>
<path d="M33.7 67.1 39.9 70.3" stroke="#8d8d8d" stroke-width="0.9"/>
<path d="M32.9 68.5 39.7 72.0" stroke="#8d8d8d" stroke-width="0.9"/>
<path d="M32.2 64.5 32.9 65.3 32.7 66.7 31.5 68.0 29.7 68.5 28.0 67.9 27.1 66.3 27.2 64.4 28.1 63.1 29.2 62.9 29.7 63.8 29.3 65.3 28.0 66.6 26.2 66.9 24.6 66.0 23.8 64.3 24.1 62.5 25.0 61.4 26.1 61.4 26.5 62.4 26.0 63.9 24.5 65.0 22.7 65.2 21.2 64.2 20.6 62.4 21.0 60.7 22.0 59.7 23.0 59.8 23.3 61.0 22.6 62.5 21.0 63.5 19.2 63.5 17.8 62.3 17.4 60.5 17.9 58.8" stroke="#8b8b8b" stroke-width="1.0"/>
<path d="M34.8 63.8 34.5 63.5 34.8 63.1 35.4 63.0 36.3 63.3 37.1 64.0 37.6 65.0 37.6 66.1 37.1 67.0 36.2 67.7 35.3 67.9 34.6 67.8 34.3 67.5 34.5 67.2 35.1 67.0 36.0 67.3 36.8 67.9 37.3 68.9" stroke="#717171" stroke-width="0.8"/>
<path d="M37.4 66.8 35.0 64.9 33.7 62.2 31.0 60.8 28.0 61.3" stroke="#a8a8a8" stroke-width="0.5"/>
<path d="M43.2 64.8 41.9 64.1 41.2 62.7 41.4 61.2 42.3 60.1 43.7 59.5 44.9 59.7 45.5 60.3 45.3 61.0 44.2 61.3 42.9 61.0 41.8 59.9 41.3 58.5 41.8 57.1 43.0 56.1 44.4 55.8 45.4 56.2 45.7 56.9 45.1 57.5 43.9 57.6 42.6 57.0 41.7 55.7" stroke="#777777" stroke-width="0.9"/>
<path d="M52.3 63.5 51.9 60.5 53.5 58.0 55.7 56.0 57.5 53.5 57.4 50.6" stroke="#d2d2d2" stroke-width="0.5"/>
<path d="M47.5 63.7 48.6 63.0 49.9 63.1 50.9 63.9 51.3 65.2 51.1 66.2 50.5 66.6 50.1 66.1 50.3 65.2 51.1 64.2 52.3 63.8 53.6 64.2 54.4 65.3 54.5 66.5 54.1 67.3 53.6 67.4 53.3 66.7 53.8 65.6 54.8 64.8 56.1 64.7 57.2 65.4 57.8 66.6 57.6 67.8 57.1 68.3 56.6 68.0 56.7 67.1 57.3 66.1 58.5 65.6" stroke="#797979" stroke-width="0.9"/>
<path d="M54.9 64.6 54.9 66.3 54.0 67.7 52.5 68.5 50.9 68.5 50.0 67.8 50.0 66.9 51.0 66.3 52.6 66.4 54.0 67.3 54.9 68.8 54.7 70.5 53.6 71.8 52.0 72.4 50.5 72.2 49.8 71.4 50.0 70.5 51.2 70.0 52.8 70.3 54.2 71.4 54.8 73.0 54.4 74.6 53.1 75.8 51.5 76.2 50.1 75.8 49.6 75.0 50.2 74.2" stroke="#989898" stroke-width="1.1"/>
<path d="M54.1 66.8 55.5 66.8 56.7 67.5 57.2 68.9 57.1 70.1 56.4 70.8 55.8 70.6 55.7 69.6 56.3 68.5 57.6 67.8 59.0 67.8 60.1 68.8 60.5 70.1 60.2 71.3 59.5 71.8 59.0 71.4 59.0 70.4 59.8 69.3 61.1 68.7 62.5 69.0 63.5 70.0 63.7 71.4 63.3 72.5 62.6 72.8 62.2 72.3" stroke="#656565" stroke-width="0.9"/>
<path d="M54.3 64.2 61.5 60.6" stroke="#7c7c7c" stroke-width="0.9"/>
<path d="M55.0 65.7 61.8 62.2" stroke="#7c7c7c" stroke-width="0.9"/>
<path d="M55.7 67.1 61.3 64.2" stroke="#7c7c7c" stroke-width="0.9"/>
<path d="M54.7 66.4 54.0 66.3 53.7 65.9 54.0 65.5 54.7 65.3 55.7 65.5 56.7 66.1 57.3 67.0 57.5 68.2 57.2 69.3 56.4 70.2 55.4 70.7 54.5 70.8 54.0 70.5 54.0 70.0 54.5 69.7 55.4 69.7 56.4 70.1 57.3 70.9 57.7 72.0 57.6 73.2 57.0 74.2 56.1 74.9" stroke="#797979" stroke-width="1.0"/>
<path d="M66.0 65.8 58.2 64.3" stroke="#959595" stroke-width="0.9"/>
<path d="M66.3 64.3 56.2 62.2" stroke="#959595" stroke-width="0.9"/>
<path d="M66.6 62.7 56.7 60.7" stroke="#959595" stroke-width="0.9"/>
<path d="M67.4 65.0 67.1 66.6 66.1 67.8 64.7 68.4 63.6 68.1 63.3 67.4 63.9 66.6 65.2 66.1 66.8 66.4 68.0 67.5 68.5 69.0 67.9 70.5 66.8 71.6 65.4 71.9 64.5 71.5 64.4 70.7 65.3 69.9 66.7 69.7 68.2 70.2 69.3 71.4 69.5 72.9 68.7 74.4 67.4 75.3" stroke="#7d7d7d" stroke-width="0.9"/>
<path d="M61.7 66.5 63.2 65.9 64.7 66.3 65.7 67.6 65.9 69.0 65.4 69.9 64.6 69.8 64.2 68.7 64.5 67.2 65.6 66.1 67.1 65.8 68.6 66.5 69.3 67.9 69.3 69.3 68.6 69.9 67.8 69.4 67.6 68.2 68.2 66.7 69.5 65.7 71.1 65.8 72.3 66.8 72.8 68.3 72.5 69.4 71.8 69.7 71.1 69.0 71.1 67.6 72.0 66.2 73.4 65.5 75.0 65.9" stroke="#8f8f8f" stroke-width="0.9"/>
<path d="M70.7 67.3 73.7 67.2 76.1 69.1 77.2 71.9" stroke="#b4b4b4" stroke-width="0.5"/>
<path d="M76.3 63.6 83.3 57.4" stroke="#848484" stroke-width="0.9"/>
<path d="M77.4 64.8 83.4 59.5" stroke="#848484" stroke-width="0.9"/>
<path d="M78.4 66.0 86.4 58.9" stroke="#848484" stroke-width="0.9"/>
<path d="M72.8 66.6 71.6 66.4 71.3 65.7 71.9 64.9 73.3 64.7 74.8 65.3 75.8 66.5 75.9 68.1 75.0 69.5 73.6 70.2 72.4 70.2 71.8 69.5 72.1 68.8 73.4 68.4 74.9 68.7 76.1 69.8 76.4 71.3 75.8 72.8 74.5 73.8 73.1 73.9 72.3 73.4 72.5 72.6 73.5 72.1 75.0 72.2 76.4 73.1 77.0 74.6 76.6 76.1 75.4 77.2 74.0 77.6 73.0 77.2" stroke="#7b7b7b" stroke-width="0.8"/>
<path d="M77.7 64.7 76.6 64.8 75.8 64.4 75.5 63.9 75.8 63.5 76.6 63.6 77.5 64.2 78.1 65.2 78.2 66.5 77.7 67.6 76.7 68.3 75.6 68.5 74.6 68.3 74.1 67.8 74.2 67.4 74.9 67.3 75.8 67.7 76.5 68.5 76.9 69.7 76.6 70.9 75.7 71.8 74.6 72.3" stroke="#777777" stroke-width="0.9"/>
<path d="M83.2 65.1 76.7 70.1" stroke="#818181" stroke-width="0.9"/>
<path d="M82.2 63.9 75.3 69.2" stroke="#818181" stroke-width="0.9"/>
<path d="M81.3 62.6 73.5 68.5" stroke="#818181" stroke-width="0.9"/>
<path d="M83.4 63.5 80.7 64.9 79.2 67.5 76.8 69.4" stroke="#a0a0a0" stroke-width="0.5"/>
<path d="M85.0 68.2 88.0 68.3 89.9 65.9" stroke="#b3b3b3" stroke-width="0.4"/>
<path d="M88.4 69.6 87.0 69.5 86.0 69.0 85.9 68.2 86.5 67.6 87.7 67.5 89.1 68.0 90.2 69.1 90.7 70.6 90.3 72.1 89.3 73.3 87.8 73.9 86.4 73.8 85.5 73.3 85.3 72.5 85.9 71.9 87.2 71.8 88.5 72.3 89.6 73.4 90.1 74.9 89.7 76.5 88.7 77.6 87.2 78.2 85.8 78.1" stroke="#656565" stroke-width="1.1"/>
<path d="M92.4 65.1 90.0 63.4 87.7 61.5 86.9 58.6 88.2 55.8" stroke="#a6a6a6" stroke-width="0.4"/>
<path d="M90.5 66.0 97.5 64.6" stroke="#7c7c7c" stroke-width="0.9"/>
<path d="M90.8 67.6 97.5 66.3" stroke="#7c7c7c" stroke-width="0.9"/>
<path d="M91.1 69.2 99.1 67.6" stroke="#7c7c7c" stroke-width="0.9"/>
<path d="M97.5 64.2 98.7 63.3 100.1 63.3 101.4 64.0 102.0 65.4 101.9 66.7 101.3 67.5 100.7 67.4 100.4 66.6 100.9 65.4 102.0 64.5 103.4 64.2 104.7 64.9 105.4 66.1 105.5 67.5 105.0 68.4 104.3 68.5 103.9 67.8 104.2 66.7 105.2 65.6 106.6 65.2 108.0 65.7 108.9 66.9 109.1 68.3 108.6 69.3 107.9 69.6 107.5 69.0 107.7 67.9 108.5 66.8 109.9 66.3 111.3 66.6 112.3 67.6" stroke="#8e8e8e" stroke-width="0.8"/>
<path d="M95.8 70.3 95.7 69.0 96.3 67.7 97.6 66.7 99.1 66.6 100.5 67.4 101.2 68.7 101.3 70.1 100.7 71.0 100.0 71.1 99.5 70.3 99.5 69.0 100.4 67.6 101.7 66.9 103.3 67.0 104.5 68.0 105.1 69.4 104.9 70.7 104.3 71.5 103.6 71.3 103.2 70.3 103.4 68.9" stroke="#717171" stroke-width="0.8"/>
<path d="M96.6 64.5 99.5 64.8 102.5 65.2 105.1 66.8 107.5 68.5 110.0 70.2" stroke="#bdbdbd" stroke-width="0.6"/>
<path d="M100.5 68.2 100.0 66.7 100.4 65.2 101.3 64.1 102.4 63.7 103.0 64.2 102.9 65.1 102.0 66.0 100.6 66.5 99.0 66.3 97.8 65.3 97.4 63.8 97.7 62.2 98.7 61.1 99.7 60.8 100.4 61.2 100.3 62.1 99.4 63.1 97.9 63.6 96.4 63.3 95.2 62.3 94.7 60.8 95.1 59.3 96.0 58.2 97.0 57.8 97.7 58.2 97.6 59.1 96.8 60.1" stroke="#656565" stroke-width="0.9"/>
<path d="M106.3 66.2 108.1 68.6 111.1 69.1 112.9 71.5" stroke="#adadad" stroke-width="0.5"/>
<path d="M113.2 66.9 110.7 65.4 108.4 63.4 107.0 60.8 107.3 57.8" stroke="#aeaeae" stroke-width="0.4"/>
<path d="M111.6 62.8 113.2 62.4 114.7 63.0 115.7 64.3 116.0 65.8 115.6 67.1 114.8 67.5 114.1 67.0 113.9 65.7 114.5 64.3 115.8 63.2 117.4 63.0 118.8 63.7 119.7 65.1 119.9 66.6 119.3 67.7 118.5 68.0 117.9 67.4 117.8 66.1 118.6 64.6 119.9 63.7 121.5 63.6 122.9 64.4 123.7 65.9 123.7 67.4 123.1 68.4 122.3 68.5 121.7 67.7 121.8 66.4 122.6 65.0 124.0 64.2 125.7 64.2 127.0 65.2" stroke="#717171" stroke-width="1.0"/>
<path d="M28.2 73.7 30.4 71.7 32.3 69.3 35.3 69.1 38.2 68.8" stroke="#b5b5b5" stroke-width="0.5"/>
<path d="M24.5 74.2 25.7 67.5" stroke="#727272" stroke-width="0.9"/>
<path d="M26.0 74.5 28.0 64.3" stroke="#727272" stroke-width="0.9"/>
<path d="M27.6 74.8 29.2 66.4" stroke="#727272" stroke-width="0.9"/>
<path d="M31.7 68.5 32.2 67.7 32.9 67.4 33.2 67.6 33.0 68.3 32.3 68.9 31.2 69.2 30.1 69.0 29.2 68.3 28.7 67.2 28.9 66.0 29.4 65.2 30.0 64.8 30.4 65.1 30.3 65.7 29.6 66.3 28.5 66.7 27.4 66.5 26.4 65.8" stroke="#8f8f8f" stroke-width="0.8"/>
<path d="M36.4 74.5 35.3 74.5 34.6 74.1 34.5 73.6 35.1 73.3 36.1 73.3 37.2 73.9 37.9 75.0 38.1 76.3 37.6 77.5 36.6 78.4 35.4 78.7 34.5 78.5 34.0 78.1 34.2 77.6 35.0 77.4 36.0 77.7 37.0 78.5 37.6 79.7 37.5 81.0 36.7 82.1 35.6 82.7 34.5 82.8 33.7 82.5 33.5 82.0" stroke="#959595" stroke-width="0.9"/>
<path d="M46.4 70.6 47.0 72.0 46.8 73.5 45.9 74.8 44.6 75.5 43.3 75.5 42.6 75.0 42.7 74.1 43.6 73.5 45.0 73.3 46.5 73.8 47.6 74.9 48.0 76.4 47.6 77.9 46.4 79.0 45.1 79.5 44.0 79.3 43.5 78.6 43.9 77.8 45.0 77.2 46.5 77.3" stroke="#808080" stroke-width="1.1"/>
<path d="M48.0 73.4 46.9 74.0 46.0 73.3 46.1 71.7 47.2 70.2 49.0 69.5 50.7 70.2 51.7 72.0 51.5 73.8 50.5 74.8 49.5 74.5 49.2 73.0 50.1 71.4 51.8 70.4 53.6 70.8 54.8 72.3 54.9 74.2 54.1 75.5 53.0 75.5 52.5 74.3 53.0 72.6 54.6 71.4 56.4 71.4 57.9 72.6 58.3 74.5 57.7 76.1 56.6 76.5 55.8 75.6 56.1 73.9 57.4 72.4 59.2 72.1 60.9 73.0 61.6 74.9" stroke="#8e8e8e" stroke-width="1.0"/>
<path d="M50.0 70.6 49.5 71.9 48.8 72.6 48.0 72.8 47.6 72.4 47.8 71.7 48.5 71.0 49.7 70.5 51.1 70.6 52.2 71.3 52.9 72.4 53.0 73.8 52.5 75.0 51.8 75.7 51.0 75.9 50.6 75.5 50.8 74.8 51.6 74.0 52.8 73.6 54.1 73.7 55.3 74.4 55.9 75.6 56.0 76.9 55.5 78.1" stroke="#959595" stroke-width="0.7"/>
<path d="M50.7 73.4 48.3 75.1 46.4 77.4 44.1 79.3" stroke="#cecece" stroke-width="0.5"/>
<path d="M53.4 73.3 54.3 72.1 55.7 71.6 57.1 71.9 58.3 72.8 58.9 74.0 58.8 75.0 58.2 75.4 57.4 75.0 56.9 73.9 57.0 72.5 57.7 71.2 59.0 70.4 60.5 70.4 61.8 71.2 62.6 72.4 62.7 73.5 62.2 74.1 61.5 74.0 60.9 73.1 60.7 71.7 61.2 70.3" stroke="#787878" stroke-width="0.8"/>
<path d="M59.9 70.4 57.4 68.7 54.8 67.2 52.1 68.4 49.1 67.8 46.2 68.0" stroke="#c3c3c3" stroke-width="0.6"/>
<path d="M65.1 70.3 72.3 65.9" stroke="#7a7a7a" stroke-width="0.9"/>
<path d="M65.9 71.7 71.7 68.1" stroke="#7a7a7a" stroke-width="0.9"/>
<path d="M66.7 73.0 75.7 67.6" stroke="#7a7a7a" stroke-width="0.9"/>
<path d="M61.2 72.6 64.1 73.4 67.0 72.4 69.9 73.3 72.2 75.2 72.0 78.2 70.3 80.7" stroke="#b7b7b7" stroke-width="0.5"/>
<path d="M71.3 70.7 73.4 72.9 76.3 73.5 77.5 76.3 80.2 77.6 82.3 79.7" stroke="#b2b2b2" stroke-width="0.6"/>
<path d="M70.3 67.7 72.0 68.2 73.1 69.5 73.4 71.2 72.9 72.6 72.0 73.3 71.1 73.0 70.9 71.8 71.4 70.4 72.7 69.3 74.4 69.0 76.0 69.7 76.9 71.2 76.9 72.8 76.3 74.1 75.3 74.5 74.6 74.0 74.6 72.7 75.4 71.3 76.8 70.3 78.5 70.3 79.9 71.2 80.6 72.8 80.5 74.5 79.7 75.6 78.7 75.7 78.2 74.9 78.3 73.5 79.3 72.2 80.9 71.4" stroke="#6b6b6b" stroke-width="0.8"/>
<path d="M66.9 72.6 65.9 72.1 66.0 71.2 67.1 70.6 68.7 70.6 70.1 71.5 70.7 73.0 70.3 74.6 69.1 75.7 67.7 76.0 66.9 75.5 67.0 74.6 68.2 74.0 69.8 74.1 71.2 75.1 71.7 76.7 71.1 78.2 69.8 79.3 68.5 79.4 67.8 78.8 68.1 78.0 69.3 77.4 71.0 77.6 72.3 78.7 72.6 80.3 72.0 81.9 70.6 82.8 69.3 82.8 68.7 82.2 69.1 81.3 70.5 80.8 72.1 81.2 73.3 82.3 73.5 84.0 72.8 85.5" stroke="#7c7c7c" stroke-width="0.8"/>
<path d="M75.1 76.2 74.3 76.0 74.3 75.5 75.0 75.0 76.1 74.8 77.4 75.3 78.2 76.4 78.3 77.7 77.8 78.9 76.8 79.7 75.8 79.8 75.3 79.5 75.5 78.9 76.4 78.5 77.7 78.6 78.8 79.3 79.4 80.5 79.3 81.8 78.5 82.9 77.5 83.4 76.6 83.4 76.4 82.9 76.8 82.3 77.9 82.1 79.2 82.4 80.1 83.3" stroke="#696969" stroke-width="0.8"/>
<path d="M74.2 68.9 75.2 69.6 75.8 70.6 75.9 71.8 75.5 72.9 74.7 73.8 73.7 74.2 72.9 74.2 72.4 73.9 72.5 73.4 73.1 73.1 74.0 73.0 75.1 73.4 76.0 74.2 76.5 75.3 76.5 76.5 75.9 77.6 75.0 78.3 74.1 78.6 73.3 78.5 73.0 78.1 73.2 77.7 74.0 77.4 75.0 77.5" stroke="#7d7d7d" stroke-width="0.9"/>
<path d="M73.7 74.1 76.3 72.5 79.3 72.7 82.2 73.5 85.2 73.4" stroke="#bcbcbc" stroke-width="0.5"/>
<path d="M82.8 74.4 78.6 82.5" stroke="#6e6e6e" stroke-width="0.9"/>
<path d="M81.4 73.6 76.5 83.0" stroke="#6e6e6e" stroke-width="0.9"/>
<path d="M80.0 72.9 75.3 81.8" stroke="#6e6e6e" stroke-width="0.9"/>
<path d="M85.7 69.9 84.8 71.2 83.2 71.6 81.7 71.2 80.8 70.1 80.8 69.2 81.7 69.0 82.7 69.8 83.2 71.3 82.8 72.9 81.6 73.8 79.9 73.8 78.6 73.0 78.1 71.9 78.6 71.3 79.6 71.6 80.5 72.7 80.6 74.4 79.8 75.7 78.3 76.3 76.7 75.9 75.7 74.8 75.7 73.9 76.5 73.6 77.5 74.3 78.1 75.8 77.8 77.4 76.6 78.4 75.0 78.5 73.6 77.7 73.1 76.6 73.5 75.9" stroke="#888888" stroke-width="0.9"/>
<path d="M80.7 71.9 82.5 74.3 85.5 74.1 87.6 76.3" stroke="#b8b8b8" stroke-width="0.6"/>
<path d="M85.0 71.7 84.5 71.3 84.3 70.4 84.6 69.2 85.5 68.1 86.7 67.6 88.1 67.7 89.3 68.4 90.0 69.6 90.1 70.7 89.8 71.6 89.3 71.8 88.8 71.3 88.7 70.3 89.1 69.1 90.1 68.1 91.4 67.6 92.7 67.9 93.8 68.7 94.5 69.9 94.5 71.0 94.2 71.7 93.6 71.8 93.2 71.2 93.2 70.2 93.7 69.0 94.7 68.1 96.0 67.7 97.4 68.1 98.4 69.0 98.9 70.2 98.9 71.3 98.5 71.9 98.0 71.9" stroke="#8a8a8a" stroke-width="0.8"/>
<path d="M95.4 70.9 94.9 72.1 93.7 72.8 92.4 72.7 91.3 72.0 90.8 71.0 91.1 70.3 91.7 70.4 92.3 71.2 92.4 72.5 91.8 73.7 90.6 74.3 89.2 74.1 88.2 73.3 87.8 72.3 88.1 71.7 88.8 71.9 89.3 72.8 89.3 74.1 88.6 75.3" stroke="#949494" stroke-width="0.7"/>
<path d="M101.3 71.5 99.0 78.2" stroke="#727272" stroke-width="0.9"/>
<path d="M99.8 71.0 96.7 80.1" stroke="#727272" stroke-width="0.9"/>
<path d="M98.3 70.5 94.9 80.4" stroke="#727272" stroke-width="0.9"/>
<path d="M98.8 70.6 97.1 62.8" stroke="#646464" stroke-width="0.9"/>
<path d="M100.4 70.3 99.0 63.8" stroke="#646464" stroke-width="0.9"/>
<path d="M101.9 69.9 99.9 60.3" stroke="#646464" stroke-width="0.9"/>
<path d="M98.8 74.3 98.7 73.8 99.2 73.5 100.0 73.8 100.8 74.7 101.1 75.8 100.8 77.0 99.9 77.8 98.7 78.1 97.7 77.8 97.2 77.3 97.3 76.9 98.0 76.8 98.8 77.4 99.5 78.4 99.5 79.6 99.0 80.6 97.9 81.2 96.8 81.3 95.9 80.9" stroke="#797979" stroke-width="0.8"/>
<path d="M102.3 70.6 103.6 70.1 105.1 70.2 106.2 71.1 106.8 72.4 106.7 73.8 106.2 74.7 105.5 75.0 105.0 74.5 105.1 73.5 105.8 72.3 107.0 71.6 108.5 71.5 109.8 72.2 110.5 73.4 110.7 74.8 110.3 75.9 109.6 76.4 109.0 76.1 108.9 75.2 109.4 74.1 110.4 73.2 111.9 72.9 113.2 73.3 114.2 74.4 114.6 75.8 114.3 77.0" stroke="#6c6c6c" stroke-width="0.8"/>
<path d="M104.9 68.5 105.3 70.1 104.9 71.6 104.1 72.3 103.3 72.0 103.0 71.0 103.4 69.6 104.6 68.5 106.2 68.0 107.7 68.6 108.7 69.9 109.0 71.5 108.5 72.8 107.6 73.4 106.9 73.0 106.7 71.9 107.3 70.5 108.5 69.4 110.1 69.2 111.6 69.8 112.5 71.2 112.6 72.8 112.0 74.1 111.2 74.5 110.5 74.0 110.4 72.8 111.1 71.4 112.4 70.4" stroke="#8f8f8f" stroke-width="0.8"/>
<path d="M110.5 70.2 109.1 60.9" stroke="#7d7d7d" stroke-width="0.9"/>
<path d="M112.1 70.0 110.5 59.6" stroke="#7d7d7d" stroke-width="0.9"/>
<path d="M113.6 69.7 112.1 59.5" stroke="#7d7d7d" stroke-width="0.9"/>
<path d="M111.5 69.1 113.0 69.5 114.2 70.6 114.7 72.2 114.2 73.8 112.8 74.8 111.2 75.0 109.9 74.5 109.4 73.6 110.0 72.9 111.3 72.8 112.7 73.5 113.7 74.8 113.8 76.5 112.9 77.9 111.4 78.6 109.8 78.6 108.8 77.9 108.7 77.0 109.6 76.4 111.0 76.6 112.4 77.6 113.1 79.1 112.8 80.7 111.6 81.9 110.0 82.4 108.6 82.0" stroke="#7e7e7e" stroke-width="0.7"/>
<path d="M113.6 74.9 113.0 74.1 113.6 73.1 115.0 72.6 116.7 72.9 118.1 74.0 118.5 75.6 117.9 77.3 116.5 78.4 115.0 78.6 114.1 78.1 114.1 77.1 115.2 76.3 116.9 76.2 118.5 77.0 119.4 78.5 119.2 80.3 118.1 81.7 116.5 82.3 115.3 82.0 114.9 81.2 115.6 80.2 117.1 79.8 118.8 80.2 120.1 81.5 120.3 83.2 119.6 84.8 118.1 85.7 116.7 85.8 115.9 85.2 116.1 84.2" stroke="#696969" stroke-width="0.7"/>
<path d="M118.8 72.1 121.5 70.9 124.4 70.1 125.6 67.3 124.2 64.7" stroke="#bdbdbd" stroke-width="0.5"/>
<path d="M17.4 79.0 16.3 81.8 14.3 84.0 14.3 87.0 12.4 89.4" stroke="#c4c4c4" stroke-width="0.4"/>
<path d="M22.5 75.9 20.3 67.5" stroke="#939393" stroke-width="0.9"/>
<path d="M24.1 75.5 21.7 66.8" stroke="#939393" stroke-width="0.9"/>
<path d="M25.6 75.1 24.0 69.3" stroke="#939393" stroke-width="0.9"/>
<path d="M19.1 81.7 18.3 81.2 17.7 80.1 17.7 78.7 18.4 77.4 19.6 76.6 21.0 76.5 22.4 77.1 23.2 78.2 23.4 79.3 23.0 79.9 22.2 79.8 21.5 79.0 21.2 77.7 21.6 76.2 22.6 75.1 24.0 74.7 25.4 75.1 26.5 76.0 27.0 77.2 26.8 78.0 26.2 78.3" stroke="#7e7e7e" stroke-width="0.8"/>
<path d="M22.3 78.4 16.0 69.7" stroke="#767676" stroke-width="0.9"/>
<path d="M23.6 77.4 19.7 72.0" stroke="#767676" stroke-width="0.9"/>
<path d="M24.9 76.5 20.3 70.2" stroke="#767676" stroke-width="0.9"/>
<path d="M26.6 76.2 23.7 75.9 20.8 76.7 19.6 79.5" stroke="#acacac" stroke-width="0.5"/>
<path d="M27.3 78.5 34.7 72.2" stroke="#818181" stroke-width="0.9"/>
<path d="M28.3 79.7 35.8 73.4" stroke="#818181" stroke-width="0.9"/>
<path d="M29.3 80.9 36.3 75.1" stroke="#818181" stroke-width="0.9"/>
<path d="M34.6 74.4 35.4 75.6 35.3 77.0 34.5 78.2 33.2 78.8 32.1 78.7 31.6 78.1 31.9 77.6 32.9 77.4 34.1 77.9 35.1 79.0 35.3 80.4 34.6 81.7 33.4 82.4 32.2 82.5 31.5 82.1 31.5 81.5 32.4 81.1 33.6 81.4 34.7 82.3 35.1 83.7 34.7 85.1 33.6 86.0 32.4 86.3 31.4 86.0 31.2 85.4 31.9 84.9 33.0 85.0 34.2 85.8 34.9 87.0 34.7 88.4 33.8 89.5" stroke="#959595" stroke-width="0.9"/>
<path d="M36.1 77.1 36.5 79.0 35.8 80.8 34.1 81.6 32.2 81.3 30.9 80.1 30.7 78.8 31.7 78.3 33.1 78.8 34.2 80.4 34.2 82.4 33.0 83.8 31.1 84.2 29.3 83.5 28.4 82.2 28.8 81.1 30.0 80.9 31.4 82.0 32.1 83.8 31.6 85.6 30.1 86.7 28.1 86.6 26.6 85.6 26.2 84.3 27.0 83.5 28.4 83.8 29.6 85.2 29.8 87.2 28.9 88.8 27.1 89.4" stroke="#757575" stroke-width="0.7"/>
<path d="M39.4 77.4 39.9 77.3 40.5 78.0 40.7 79.1 40.4 80.4 39.5 81.5 38.2 81.9 36.9 81.7 35.8 80.9 35.2 79.9 35.2 79.1 35.7 78.7 36.3 79.1 36.7 80.0 36.6 81.3 36.0 82.5 34.9 83.2 33.5 83.3 32.3 82.8 31.5 81.8 31.2 80.8 31.5 80.2 32.0 80.3 32.6 81.0 32.8 82.1 32.4 83.4 31.5 84.4 30.2 84.8 28.8 84.5 27.8 83.7 27.3 82.7 27.3 81.9" stroke="#666666" stroke-width="0.9"/>
<path d="M41.2 81.1 40.8 80.6 40.7 79.6 41.2 78.4 42.3 77.6 43.7 77.6 44.8 78.3 45.5 79.4 45.5 80.5 45.0 81.0 44.5 80.8 44.2 79.9 44.6 78.7 45.5 77.7 46.8 77.4 48.1 77.8 48.9 78.9 49.1 80.0 48.8 80.8 48.2 80.8 47.8 80.1 48.0 79.0 48.7 77.9 49.9 77.3 51.3 77.5" stroke="#898989" stroke-width="0.9"/>
<path d="M36.4 74.4 37.6 74.5 38.7 75.1 39.3 76.2 39.2 77.5 38.5 78.6 37.5 79.1 36.7 79.0 36.4 78.5 36.9 78.0 38.0 77.9 39.2 78.3 40.0 79.2 40.2 80.5 39.7 81.7 38.7 82.4 37.8 82.6 37.3 82.2 37.5 81.7 38.4 81.3 39.6 81.5" stroke="#7c7c7c" stroke-width="1.0"/>
<path d="M45.9 77.7 39.2 78.4" stroke="#969696" stroke-width="0.9"/>
<path d="M45.7 76.1 35.7 77.2" stroke="#969696" stroke-width="0.9"/>
<path d="M45.5 74.5 39.5 75.2" stroke="#969696" stroke-width="0.9"/>
<path d="M53.8 79.1 56.5 80.4 59.5 80.7 62.2 79.5 63.0 76.6 64.2 73.8 64.0 70.8" stroke="#b3b3b3" stroke-width="0.5"/>
<path d="M49.5 76.2 51.0 76.5 52.1 77.5 52.6 78.9 52.5 80.3 51.8 81.2 51.0 81.3 50.6 80.7 50.7 79.5 51.5 78.3 52.8 77.5 54.4 77.5 55.6 78.3 56.4 79.7 56.4 81.1 55.9 82.2 55.1 82.6 54.5 82.2 54.4 81.1 55.0 79.9 56.2 78.9 57.7 78.6 59.1 79.2 60.0 80.4 60.3 81.9 59.9 83.2" stroke="#949494" stroke-width="1.1"/>
<path d="M60.5 74.4 61.2 75.6 61.3 76.8 61.0 77.9 60.5 78.4 59.9 78.4 59.6 77.8 59.8 76.9 60.5 75.9 61.6 75.2 62.9 75.0 64.1 75.4 65.0 76.3 65.5 77.5 65.5 78.7 65.0 79.6 64.4 80.0 64.0 79.7 63.8 78.9 64.2 77.9 65.1 77.0 66.3 76.5 67.6 76.5 68.8 77.1 69.5 78.2 69.8 79.5" stroke="#7f7f7f" stroke-width="0.7"/>
<path d="M57.7 77.1 64.0 81.1" stroke="#979797" stroke-width="0.9"/>
<path d="M56.9 78.5 62.4 82.0" stroke="#979797" stroke-width="0.9"/>
<path d="M56.0 79.8 64.9 85.5" stroke="#979797" stroke-width="0.9"/>
<path d="M64.8 77.7 63.2 75.2 63.3 72.2 61.5 69.8 61.4 66.8 60.3 64.1 58.8 61.4" stroke="#c3c3c3" stroke-width="0.6"/>
<path d="M65.2 75.0 64.1 72.3 61.4 70.9 58.6 71.9" stroke="#d4d4d4" stroke-width="0.5"/>
<path d="M60.0 79.4 64.0 87.6" stroke="#858585" stroke-width="0.9"/>
<path d="M58.6 80.1 62.9 89.2" stroke="#858585" stroke-width="0.9"/>
<path d="M57.1 80.8 60.7 88.2" stroke="#858585" stroke-width="0.9"/>
<path d="M64.0 77.5 65.1 76.9 66.6 77.1 68.0 77.9 68.8 79.4 68.7 81.1 67.7 82.4 66.2 83.1 64.8 83.1 63.9 82.4 64.0 81.6 65.0 81.0 66.5 81.0 68.0 81.8 68.9 83.2 68.9 84.9 68.0 86.3 66.5 87.1 65.0 87.1 64.1 86.5 64.1 85.7 65.0 85.0 66.5 85.0 68.0 85.7 68.9 87.1" stroke="#6f6f6f" stroke-width="0.7"/>
<path d="M71.2 78.7 71.1 80.0 70.4 81.1 69.3 81.7 68.1 81.8 67.3 81.5 67.1 80.9 67.6 80.5 68.6 80.4 69.7 80.8 70.7 81.7 71.0 83.0 70.7 84.3 69.8 85.2 68.7 85.7 67.6 85.7 67.0 85.2 67.0 84.7" stroke="#7f7f7f" stroke-width="0.8"/>
<path d="M70.5 82.1 70.1 81.6 70.0 80.6 70.5 79.5 71.5 78.6 72.7 78.2 74.0 78.6 75.0 79.4 75.5 80.5 75.5 81.5 75.1 82.1 74.6 82.0 74.2 81.3 74.3 80.2 75.0 79.1 76.0 78.4 77.3 78.2 78.5 78.7 79.4 79.7 79.7 80.8 79.6 81.7 79.1 82.1 78.6 81.8 78.4 81.0" stroke="#767676" stroke-width="0.8"/>
<path d="M74.8 77.7 72.1 79.0 70.5 81.6 68.1 83.4 67.3 86.3 65.2 88.5 65.2 91.5" stroke="#a7a7a7" stroke-width="0.6"/>
<path d="M76.7 77.7 75.0 80.2 73.9 83.0 74.3 86.0" stroke="#a9a9a9" stroke-width="0.4"/>
<path d="M77.8 79.2 75.3 80.9 75.3 83.9 73.6 86.3 73.8 89.3" stroke="#a4a4a4" stroke-width="0.5"/>
<path d="M78.1 80.0 75.8 78.1 73.4 76.2 70.5 77.0 69.2 79.8" stroke="#cdcdcd" stroke-width="0.5"/>
<path d="M87.0 77.1 84.2 75.9 82.2 73.7 79.8 71.9 76.8 71.3" stroke="#bbbbbb" stroke-width="0.5"/>
<path d="M84.7 77.7 77.8 82.6" stroke="#707070" stroke-width="0.9"/>
<path d="M83.8 76.4 78.4 80.2" stroke="#707070" stroke-width="0.9"/>
<path d="M82.9 75.1 76.0 79.9" stroke="#707070" stroke-width="0.9"/>
<path d="M93.2 78.9 96.2 79.0 98.5 77.1 99.1 74.1" stroke="#a3a3a3" stroke-width="0.6"/>
<path d="M90.8 80.4 89.8 74.2" stroke="#838383" stroke-width="0.9"/>
<path d="M92.4 80.1 91.4 74.2" stroke="#838383" stroke-width="0.9"/>
<path d="M94.0 79.9 92.8 72.5" stroke="#838383" stroke-width="0.9"/>
<path d="M94.9 78.1 97.1 80.1 99.7 81.6 102.3 83.1 104.1 85.5 104.8 88.4" stroke="#a0a0a0" stroke-width="0.6"/>
<path d="M98.3 79.9 99.9 82.4 99.1 85.3 97.8 88.0" stroke="#aeaeae" stroke-width="0.5"/>
<path d="M106.6 79.2 107.7 80.1 108.0 81.5 107.7 82.4 107.1 82.5 106.7 81.7 107.0 80.5 108.1 79.5 109.5 79.3 110.7 80.0 111.3 81.3 111.2 82.5 110.6 82.8 110.1 82.2 110.2 81.1 111.1 79.9 112.4 79.5 113.8 80.0 114.6 81.2 114.6 82.4 114.1 83.1 113.5 82.7 113.4 81.7 114.1 80.4 115.4 79.8 116.8 80.0 117.8 81.1 118.0 82.4 117.6 83.2" stroke="#7a7a7a" stroke-width="0.9"/>
<path d="M104.1 78.9 107.0 79.8 108.4 82.4 111.1 83.6 113.3 85.7 114.5 88.4" stroke="#acacac" stroke-width="0.5"/>
<path d="M112.2 80.4 106.5 71.3" stroke="#6b6b6b" stroke-width="0.9"/>
<path d="M113.5 79.5 109.1 72.5" stroke="#6b6b6b" stroke-width="0.9"/>
<path d="M114.9 78.7 110.9 72.3" stroke="#6b6b6b" stroke-width="0.9"/>
<path d="M109.6 76.6 111.5 79.0 111.9 81.9 111.3 84.9" stroke="#c9c9c9" stroke-width="0.6"/>
<path d="M119.0 78.9 118.6 75.9 120.9 73.9 122.7 71.5 124.5 69.1 123.9 66.1 123.7 63.2" stroke="#d0d0d0" stroke-width="0.5"/>
<path d="M119.0 76.1 120.0 73.2 118.8 70.4 117.4 67.8" stroke="#a8a8a8" stroke-width="0.6"/>
<path d="M119.2 76.6 126.3 73.1" stroke="#909090" stroke-width="0.9"/>
<path d="M119.9 78.1 127.7 74.2" stroke="#909090" stroke-width="0.9"/>
<path d="M120.6 79.5 126.4 76.6" stroke="#909090" stroke-width="0.9"/>
<path d="M119.7 76.7 119.6 75.9 120.6 75.2 122.1 75.1 123.6 75.8 124.4 77.2 124.1 78.9 123.0 80.0 121.6 80.4 120.8 80.0 121.0 79.1 122.1 78.5 123.7 78.5 125.1 79.4 125.6 80.9 125.1 82.5 124.0 83.6 122.7 83.8 122.0 83.2 122.4 82.4 123.6 81.8 125.2 82.0 126.5 83.1 126.9 84.7 126.2 86.2 124.9 87.1 123.7 87.1 123.3 86.5 123.8 85.6 125.2 85.2 126.8 85.6 127.9 86.8 128.1 88.4" stroke="#7a7a7a" stroke-width="0.8"/>
<path d="M20.5 81.3 17.8 82.7 15.7 84.8 13.6 86.9" stroke="#b9b9b9" stroke-width="0.4"/>
<path d="M19.8 83.8 24.0 76.9" stroke="#838383" stroke-width="0.9"/>
<path d="M21.2 84.6 26.1 76.4" stroke="#838383" stroke-width="0.9"/>
<path d="M22.6 85.4 26.4 79.0" stroke="#838383" stroke-width="0.9"/>
<path d="M28.8 86.7 25.9 87.6 22.9 88.0 19.9 88.2" stroke="#a5a5a5" stroke-width="0.6"/>
<path d="M29.2 82.1 30.3 83.1 30.8 84.3 30.4 85.0 29.7 84.8 29.2 83.7 29.5 82.3 30.6 81.2 32.0 81.0 33.3 81.8 33.9 83.0 33.8 83.9 33.1 84.0 32.5 83.1 32.6 81.7 33.5 80.5 34.9 80.0 36.3 80.6 37.1 81.8 37.1 82.8 36.5 83.1 35.8 82.4 35.7 81.1 36.4 79.7 37.7 79.1 39.2 79.4 40.2 80.5 40.4 81.6 39.9 82.2 39.2 81.7 38.9 80.5 39.4 79.1 40.6 78.2 42.1 78.3 43.2 79.2" stroke="#777777" stroke-width="0.8"/>
<path d="M27.5 84.0 28.7 85.2 29.1 86.7 28.5 88.2 27.2 89.1 25.7 89.3 24.6 88.9 24.4 88.1 25.1 87.5 26.4 87.5 27.7 88.3 28.5 89.7 28.4 91.3 27.4 92.6 25.9 93.1 24.5 92.9 23.8 92.2 24.1 91.5 25.2 91.2 26.6 91.6 27.7 92.8 28.0 94.4 27.4 95.8 26.1 96.7 24.6 96.9 23.5 96.3 23.3 95.6 24.1 95.0 25.4 95.1 26.7 96.0 27.5 97.4 27.3 99.0" stroke="#868686" stroke-width="0.8"/>
<path d="M37.1 81.0 37.9 81.4 37.9 82.1 37.1 82.5 35.8 82.5 34.5 81.8 33.8 80.5 33.8 79.1 34.6 77.8 35.9 77.1 37.0 77.1 37.7 77.6 37.5 78.2 36.6 78.6 35.2 78.5 34.0 77.6 33.4 76.3 33.6 74.8 34.5 73.7 35.8 73.1 36.9 73.2 37.4 73.7 37.1 74.4 36.0 74.7 34.7 74.4 33.5 73.4 33.1 72.0 33.4 70.6 34.5 69.5 35.7 69.1 36.8 69.3 37.1 69.9" stroke="#7c7c7c" stroke-width="1.0"/>
<path d="M30.5 86.5 29.6 83.6 29.4 80.6 27.6 78.2 28.6 75.4 28.7 72.4" stroke="#b3b3b3" stroke-width="0.5"/>
<path d="M39.3 86.4 45.2 80.9" stroke="#656565" stroke-width="0.9"/>
<path d="M40.4 87.6 47.6 80.9" stroke="#656565" stroke-width="0.9"/>
<path d="M41.5 88.8 48.4 82.3" stroke="#656565" stroke-width="0.9"/>
<path d="M42.8 84.2 42.1 84.7 40.8 84.4 39.6 83.4 39.2 81.9 39.7 80.4 41.0 79.5 42.6 79.4 43.7 80.0 43.9 80.8 43.2 81.3 42.0 81.1 40.8 80.1 40.2 78.6 40.7 77.1 42.0 76.2 43.5 76.0 44.7 76.6 45.0 77.4 44.4 78.0 43.2 77.8 41.9 76.9" stroke="#959595" stroke-width="1.1"/>
<path d="M44.9 84.5 51.7 77.3" stroke="#7d7d7d" stroke-width="0.9"/>
<path d="M46.1 85.6 52.5 78.9" stroke="#7d7d7d" stroke-width="0.9"/>
<path d="M47.2 86.7 53.5 80.1" stroke="#7d7d7d" stroke-width="0.9"/>
<path d="M45.5 83.1 42.6 82.2 39.8 81.1 37.1 79.9 34.3 78.7 31.5 77.7 28.9 79.1" stroke="#cacaca" stroke-width="0.5"/>
<path d="M50.5 85.3 51.0 86.7 50.7 88.1 49.5 89.0 48.0 89.1 46.9 88.5 46.5 87.7 47.0 87.2 48.0 87.5 48.9 88.5 49.1 90.0 48.4 91.3 47.0 91.9 45.6 91.7 44.7 90.9 44.7 90.2 45.4 89.9 46.5 90.5 47.1 91.8 47.0 93.3 46.0 94.4 44.6 94.6 43.3 94.2 42.7 93.3" stroke="#858585" stroke-width="1.1"/>
<path d="M50.5 87.7 49.7 87.4 49.6 86.8 50.3 86.0 51.5 85.6 52.9 85.8 54.0 86.6 54.6 87.8 54.5 89.2 53.7 90.4 52.7 91.1 51.7 91.1 51.3 90.6 51.6 89.8 52.5 89.2 53.9 89.1 55.2 89.6 56.1 90.7 56.3 92.1" stroke="#7e7e7e" stroke-width="0.7"/>
<path d="M50.0 86.8 39.8 86.1" stroke="#7b7b7b" stroke-width="0.9"/>
<path d="M50.2 85.3 39.7 84.5" stroke="#7b7b7b" stroke-width="0.9"/>
<path d="M50.3 83.7 44.2 83.2" stroke="#7b7b7b" stroke-width="0.9"/>
<path d="M54.2 83.3 53.6 82.6 53.7 81.9 54.3 81.5 55.4 81.5 56.6 82.0 57.6 83.1 58.0 84.4 57.9 85.9 57.1 87.0 55.8 87.8 54.4 87.9 53.2 87.6 52.5 87.0 52.4 86.2 52.9 85.7 53.9 85.6 55.1 86.1" stroke="#7d7d7d" stroke-width="1.1"/>
<path d="M57.7 85.9 55.2 84.3 52.7 82.7 51.1 80.1 50.8 77.1 51.6 74.2 49.8 71.8" stroke="#b8b8b8" stroke-width="0.6"/>
<path d="M55.1 83.7 55.5 74.1" stroke="#969696" stroke-width="0.9"/>
<path d="M56.7 83.8 57.0 75.3" stroke="#969696" stroke-width="0.9"/>
<path d="M58.2 83.8 58.6 76.6" stroke="#969696" stroke-width="0.9"/>
<path d="M63.0 82.6 64.2 83.3 64.9 84.5 65.0 85.8 64.4 87.0 63.4 87.9 62.2 88.2 61.3 88.0 61.0 87.4 61.4 86.8 62.3 86.5 63.6 86.7 64.7 87.4 65.4 88.6 65.5 89.9 64.9 91.1 63.8 92.0 62.7 92.2 61.8 92.0" stroke="#909090" stroke-width="1.0"/>
<path d="M62.4 82.9 62.2 82.2 62.9 81.5 64.3 81.3 65.7 81.9 66.8 83.1 67.0 84.7 66.3 86.1 65.0 87.1 63.6 87.3 62.6 86.8 62.4 86.0 63.1 85.4 64.4 85.2 65.9 85.8 66.9 87.1 67.2 88.6 66.5 90.0 65.1 91.0 63.7 91.2 62.7 90.7 62.6 89.9 63.3 89.3 64.6 89.1" stroke="#676767" stroke-width="1.0"/>
<path d="M64.2 87.0 61.1 96.5" stroke="#656565" stroke-width="0.9"/>
<path d="M62.7 86.5 60.0 94.8" stroke="#656565" stroke-width="0.9"/>
<path d="M61.1 86.0 59.3 91.7" stroke="#656565" stroke-width="0.9"/>
<path d="M68.8 81.8 70.0 82.2 71.0 83.1 71.4 84.4 71.1 85.7 70.2 86.7 68.9 87.1 67.9 87.0 67.4 86.5 67.6 86.0 68.4 85.7 69.6 86.0 70.6 86.9 71.1 88.2 70.9 89.5 70.0 90.5 68.8 91.0 67.7 91.0 67.1 90.5 67.3 90.0 68.1 89.7 69.2 89.9 70.3 90.8 70.8 92.0 70.6 93.3 69.8 94.4 68.6 95.0 67.5 95.0" stroke="#979797" stroke-width="0.8"/>
<path d="M69.0 83.6 68.0 80.8 66.9 78.0 66.1 75.1 66.8 72.2 66.5 69.2 68.8 67.3" stroke="#c0c0c0" stroke-width="0.5"/>
<path d="M74.5 81.7 72.1 79.9 69.8 77.9 68.1 75.5 65.7 73.6 65.5 70.6 64.1 68.0" stroke="#cbcbcb" stroke-width="0.6"/>
<path d="M76.3 86.0 76.9 87.2 76.7 88.2 76.2 88.6 75.7 88.1 75.8 87.0 76.5 85.9 77.7 85.3 79.0 85.5 80.0 86.5 80.3 87.7 80.0 88.5 79.5 88.6 79.1 88.0 79.3 86.8 80.2 85.8 81.4 85.4 82.7 85.8 83.5 86.9 83.7 88.1 83.3 88.8 82.7 88.7 82.5 87.8 82.9 86.6 83.9 85.7 85.2 85.6 86.4 86.2 87.1 87.4" stroke="#7f7f7f" stroke-width="1.1"/>
<path d="M83.2 86.1 90.0 84.6" stroke="#8f8f8f" stroke-width="0.9"/>
<path d="M83.5 87.7 92.9 85.5" stroke="#8f8f8f" stroke-width="0.9"/>
<path d="M83.9 89.3 92.3 87.3" stroke="#8f8f8f" stroke-width="0.9"/>
<path d="M82.6 86.5 83.9 89.2 86.9 89.7 89.8 90.3 91.4 92.8" stroke="#d0d0d0" stroke-width="0.4"/>
<path d="M85.5 86.3 89.4 93.1" stroke="#808080" stroke-width="0.9"/>
<path d="M84.1 87.1 87.8 93.6" stroke="#808080" stroke-width="0.9"/>
<path d="M82.7 87.9 87.8 96.7" stroke="#808080" stroke-width="0.9"/>
<path d="M85.6 83.6 86.7 82.6 88.0 82.3 89.4 82.6 90.5 83.5 91.1 84.6 91.0 85.6 90.5 86.0 89.9 85.7 89.4 84.7 89.4 83.4 90.0 82.1 91.1 81.2 92.5 81.0 93.9 81.4 94.9 82.4 95.3 83.5 95.1 84.4 94.6 84.6 94.0 84.2 93.6 83.1 93.7 81.8 94.4 80.5 95.6 79.7 97.0 79.7 98.3 80.2 99.2 81.3 99.5 82.4 99.3 83.1 98.7 83.3 98.0 82.7" stroke="#878787" stroke-width="1.0"/>
<path d="M93.1 85.1 93.9 86.2 94.0 87.5 93.3 88.7 92.2 89.3 91.3 89.2 91.0 88.7 91.6 88.1 92.7 88.0 94.0 88.5 94.7 89.6 94.7 91.0 94.0 92.1 92.9 92.6 92.0 92.5 91.8 92.0 92.4 91.5 93.6 91.4 94.8 92.0 95.5 93.1 95.4 94.4 94.6 95.5" stroke="#747474" stroke-width="1.0"/>
<path d="M94.7 85.8 100.0 89.5" stroke="#727272" stroke-width="0.9"/>
<path d="M93.8 87.2 99.2 90.8" stroke="#727272" stroke-width="0.9"/>
<path d="M92.9 88.5 100.3 93.6" stroke="#727272" stroke-width="0.9"/>
<path d="M98.4 85.8 101.4 85.8 104.3 86.7 107.3 87.1 110.1 88.1" stroke="#cacaca" stroke-width="0.6"/>
<path d="M96.1 86.4 96.0 85.6 96.8 85.2 98.0 85.4 99.1 86.3 99.8 87.7 99.6 89.2 98.7 90.4 97.3 91.0 95.9 90.9 94.9 90.3 94.6 89.6 95.2 89.0 96.3 89.0 97.5 89.8 98.3 91.0 98.4 92.5 97.7 93.9 96.4 94.7 95.0 94.8 93.8 94.3" stroke="#737373" stroke-width="0.7"/>
<path d="M96.4 84.2 96.7 82.9 97.6 82.0 98.9 81.7 100.1 82.1 100.9 83.1 101.1 84.0 100.7 84.5 100.1 84.1 99.8 83.1 100.1 81.9 101.0 80.9 102.3 80.7 103.5 81.2 104.3 82.1 104.4 83.1 104.0 83.5 103.5 83.1 103.2 82.1 103.5 80.8 104.5 79.9 105.8 79.7 107.0 80.2 107.7 81.2 107.8 82.1 107.4 82.5 106.8 82.1 106.6 81.0 106.9 79.8 107.9 78.9" stroke="#909090" stroke-width="1.0"/>
<path d="M104.3 86.7 103.9 83.8 101.2 82.4 98.3 83.0 96.1 80.9 93.4 79.7" stroke="#c6c6c6" stroke-width="0.5"/>
<path d="M111.1 84.6 110.7 83.2 111.0 81.9 111.6 81.1 112.4 81.0 112.8 81.6 112.7 82.6 112.0 83.7 110.8 84.4 109.4 84.6 108.1 83.9 107.3 82.7 107.2 81.3 107.6 80.1 108.3 79.5 109.0 79.6 109.3 80.3 109.0 81.4" stroke="#979797" stroke-width="1.0"/>
<path d="M109.1 83.0 112.0 83.9 113.3 86.6 112.3 89.4" stroke="#ababab" stroke-width="0.4"/>
<path d="M117.0 85.2 117.5 86.6 117.3 87.9 116.7 88.7 116.0 88.9 115.6 88.3 115.8 87.2 116.6 86.1 117.8 85.5 119.2 85.5 120.5 86.2 121.2 87.5 121.2 88.8 120.8 89.9 120.1 90.3 119.5 90.0 119.4 89.1 120.0 88.0 121.1 87.1 122.5 86.8 123.8 87.3 124.8 88.4 125.1 89.7 124.8 91.0 124.2 91.7 123.5 91.6 123.2 90.9 123.5 89.8 124.4 88.8" stroke="#646464" stroke-width="1.0"/>
<path d="M19.0 89.9 14.9 97.1" stroke="#7d7d7d" stroke-width="0.9"/>
<path d="M17.6 89.1 12.8 97.7" stroke="#7d7d7d" stroke-width="0.9"/>
<path d="M16.2 88.3 11.4 96.8" stroke="#7d7d7d" stroke-width="0.9"/>
<path d="M33.7 91.4 33.3 94.3 33.9 97.3 36.6 98.5 37.8 101.3" stroke="#d0d0d0" stroke-width="0.5"/>
<path d="M34.7 87.3 33.2 89.9 34.0 92.8 35.9 95.1 38.8 96.1 41.7 96.6" stroke="#d3d3d3" stroke-width="0.5"/>
<path d="M38.7 88.9 38.1 88.7 37.7 87.7 37.9 86.5 38.8 85.4 40.1 85.0 41.4 85.4 42.2 86.4 42.4 87.4 42.0 87.9 41.4 87.6 41.1 86.7 41.3 85.4 42.2 84.3 43.5 84.0 44.8 84.4 45.6 85.4 45.8 86.4 45.4 86.9 44.8 86.6 44.5 85.6 44.7 84.3 45.6 83.3 46.9 83.0 48.2 83.4 49.0 84.4 49.1 85.4 48.7 85.9 48.1 85.5" stroke="#797979" stroke-width="0.7"/>
<path d="M41.6 91.9 46.9 86.5" stroke="#696969" stroke-width="0.9"/>
<path d="M42.8 93.0 47.7 88.0" stroke="#696969" stroke-width="0.9"/>
<path d="M43.9 94.1 48.5 89.4" stroke="#696969" stroke-width="0.9"/>
<path d="M44.5 91.7 42.8 94.2 39.8 94.7 38.2 97.2 37.3 100.1" stroke="#a6a6a6" stroke-width="0.6"/>
<path d="M44.2 92.1 46.8 90.6 49.5 91.7 52.3 92.8 54.8 91.1 57.3 89.5" stroke="#c3c3c3" stroke-width="0.4"/>
<path d="M51.8 90.0 50.3 89.9 49.1 89.1 48.5 87.8 48.8 86.4 49.7 85.3 50.9 84.8 51.8 85.1 51.9 85.8 51.1 86.5 49.8 86.8 48.4 86.4 47.4 85.3 47.3 83.8 48.0 82.5 49.1 81.7 50.2 81.7 50.7 82.2 50.3 83.0" stroke="#8d8d8d" stroke-width="0.8"/>
<path d="M49.7 94.4 48.3 94.6 47.4 94.1 47.3 93.4 47.9 92.6 49.2 92.3 50.7 92.6 52.0 93.6 52.6 95.1 52.4 96.6 51.4 97.9 50.0 98.5 48.7 98.6 48.0 98.0 48.0 97.2 48.8 96.6 50.2 96.4 51.7 96.8 52.8 97.9 53.2 99.4 52.8 100.9 51.7 102.1" stroke="#656565" stroke-width="1.0"/>
<path d="M51.4 89.8 51.6 90.5 51.0 91.2 49.9 91.6 48.5 91.5 47.2 90.7 46.4 89.5 46.3 88.0 47.0 86.7 48.1 85.8 49.3 85.4 50.2 85.7 50.5 86.3 50.1 87.1 49.0 87.5 47.6 87.5 46.3 86.9 45.4 85.7 45.2 84.2 45.7 82.9" stroke="#7e7e7e" stroke-width="1.0"/>
<path d="M58.4 90.4 58.3 93.4 59.8 96.0 61.1 98.7" stroke="#bfbfbf" stroke-width="0.5"/>
<path d="M55.6 90.0 54.6 90.7 53.4 91.0 52.4 90.8 51.8 90.3 51.7 89.8 52.3 89.5 53.2 89.6 54.2 90.2 54.9 91.2 55.1 92.4 54.7 93.6 53.9 94.5 52.7 95.0 51.6 94.9 50.8 94.5 50.5 94.0 50.9 93.6 51.7 93.5 52.6 93.9" stroke="#656565" stroke-width="1.0"/>
<path d="M66.9 91.5 73.8 93.3" stroke="#818181" stroke-width="0.9"/>
<path d="M66.4 93.0 76.8 95.7" stroke="#818181" stroke-width="0.9"/>
<path d="M66.0 94.6 72.0 96.1" stroke="#818181" stroke-width="0.9"/>
<path d="M66.3 92.0 65.8 91.4 65.8 90.2 66.3 88.9 67.3 88.0 68.7 87.8 70.0 88.2 70.9 89.2 71.2 90.4 71.0 91.2 70.5 91.3 69.9 90.7 69.8 89.6 70.2 88.3 71.2 87.3 72.6 87.0 73.9 87.4 74.9 88.3 75.3 89.5 75.1 90.3 74.6 90.6 74.1 90.1 73.8 89.0 74.2 87.7 75.1 86.6 76.5 86.2 77.8 86.5 78.9 87.4 79.3 88.6 79.2 89.5 78.7 89.8 78.2 89.4 77.9 88.4 78.2 87.1" stroke="#737373" stroke-width="0.9"/>
<path d="M74.1 89.9 75.3 92.6 77.9 94.2 79.9 96.4 81.8 98.7 82.3 101.7" stroke="#aeaeae" stroke-width="0.5"/>
<path d="M75.8 90.7 76.5 93.7 77.6 96.4 79.7 98.6 82.5 99.7" stroke="#bababa" stroke-width="0.5"/>
<path d="M71.0 87.8 70.7 87.2 71.3 86.7 72.4 86.7 73.6 87.4 74.3 88.7 74.2 90.1 73.4 91.2 72.1 91.8 70.9 91.7 70.1 91.1 70.1 90.5 70.9 90.1 72.1 90.4 73.2 91.3 73.6 92.6 73.3 94.0 72.3 94.9 71.0 95.3 69.8 95.0" stroke="#646464" stroke-width="0.9"/>
<path d="M79.2 90.6 76.3 91.5 75.0 94.2 73.1 96.5 70.7 98.4" stroke="#b3b3b3" stroke-width="0.6"/>
<path d="M83.6 87.4 86.3 88.7 89.1 87.8 92.1 88.2 94.9 87.3 97.4 85.6" stroke="#d0d0d0" stroke-width="0.6"/>
<path d="M87.9 89.9 80.8 83.9" stroke="#767676" stroke-width="0.9"/>
<path d="M89.0 88.6 81.5 82.4" stroke="#767676" stroke-width="0.9"/>
<path d="M90.0 87.4 82.8 81.4" stroke="#767676" stroke-width="0.9"/>
<path d="M85.4 90.3 87.5 80.1" stroke="#737373" stroke-width="0.9"/>
<path d="M87.0 90.6 88.9 81.3" stroke="#737373" stroke-width="0.9"/>
<path d="M88.6 90.9 90.2 82.7" stroke="#737373" stroke-width="0.9"/>
<path d="M95.9 90.8 94.3 93.3 92.4 95.6 92.6 98.6" stroke="#bababa" stroke-width="0.6"/>
<path d="M99.6 91.3 102.4 92.3 103.1 95.2 104.9 97.6 106.1 100.4 108.3 102.4" stroke="#b8b8b8" stroke-width="0.6"/>
<path d="M105.7 90.8 105.8 92.2 105.3 93.5 104.2 94.3 103.1 94.7 102.2 94.4 102.0 93.8 102.5 93.2 103.6 92.9 104.9 93.1 106.0 93.9 106.6 95.1 106.5 96.5 105.8 97.6 104.7 98.4 103.6 98.5 102.9 98.1 102.9 97.5 103.6 96.9 104.8 96.7" stroke="#7a7a7a" stroke-width="1.1"/>
<path d="M112.8 89.8 113.3 86.8 113.9 83.9 113.3 81.0 113.2 78.0" stroke="#a7a7a7" stroke-width="0.5"/>
<path d="M108.2 92.6 107.8 95.6 106.7 98.4 106.4 101.4 104.6 103.7 105.4 106.6 104.3 109.4" stroke="#b7b7b7" stroke-width="0.6"/>
<path d="M119.3 87.5 111.3 80.3" stroke="#797979" stroke-width="0.9"/>
<path d="M120.3 86.3 115.6 82.0" stroke="#797979" stroke-width="0.9"/>
<path d="M121.4 85.1 115.4 79.7" stroke="#797979" stroke-width="0.9"/>
<path d="M117.1 87.5 117.5 86.8 118.6 86.5 120.0 86.8 121.0 87.9 121.3 89.3 120.6 90.6 119.4 91.4 118.2 91.5 117.5 91.0 117.6 90.3 118.6 89.8 120.0 90.0 121.2 90.9 121.6 92.3 121.2 93.7 120.0 94.6 118.7 94.9 117.9 94.5" stroke="#6d6d6d" stroke-width="1.1"/>
<path d="M119.6 87.3 120.9 87.4 122.0 88.2 122.7 89.4 122.6 90.8 121.7 92.0 120.5 92.6 119.5 92.5 118.9 92.1 119.2 91.5 120.1 91.2 121.4 91.5 122.4 92.4 122.9 93.7 122.6 95.1 121.6 96.1 120.4 96.6 119.4 96.4 119.1 95.9 119.5 95.3 120.6 95.2 121.9 95.6 122.8 96.7 123.1 98.1 122.6 99.4 121.5 100.3 120.3 100.5 119.4 100.2 119.3 99.7 119.9 99.2 121.1 99.2 122.3 99.8" stroke="#808080" stroke-width="0.9"/>
<path d="M121.1 92.2 123.2 90.1 124.2 87.2 126.8 85.7" stroke="#a0a0a0" stroke-width="0.6"/>
<path d="M17.3 93.4 18.1 101.5" stroke="#8f8f8f" stroke-width="0.9"/>
<path d="M15.7 93.6 16.8 104.1" stroke="#8f8f8f" stroke-width="0.9"/>
<path d="M14.1 93.8 14.7 99.8" stroke="#8f8f8f" stroke-width="0.9"/>
<path d="M23.9 98.8 31.1 96.8" stroke="#858585" stroke-width="0.9"/>
<path d="M24.3 100.3 33.9 97.7" stroke="#858585" stroke-width="0.9"/>
<path d="M24.7 101.8 34.3 99.2" stroke="#858585" stroke-width="0.9"/>
<path d="M25.8 97.3 24.8 94.5 25.7 91.6 28.4 90.2 31.3 90.7" stroke="#c0c0c0" stroke-width="0.5"/>
<path d="M25.8 94.6 26.7 93.3 27.9 92.6 28.9 92.6 29.3 93.3 28.9 94.3 27.7 95.1 26.1 95.4 24.5 94.8 23.5 93.6 23.3 92.0 23.8 90.4 24.9 89.3 26.1 89.0 26.9 89.4 26.9 90.3 26.0 91.3 24.6 91.8 22.9 91.7 21.6 90.8 20.9 89.3 21.1 87.7 22.0 86.3 23.2 85.6 24.2 85.7 24.6 86.4 24.2 87.3 23.0 88.2 21.4 88.4" stroke="#737373" stroke-width="0.8"/>
<path d="M24.9 98.9 25.1 98.0 25.8 97.1 26.8 96.5 28.1 96.4 29.3 96.9 30.1 97.9 30.4 99.0 30.3 100.1 29.9 100.8 29.4 100.9 29.1 100.4 29.3 99.6 29.9 98.7 31.0 98.1 32.2 98.0 33.4 98.4 34.3 99.4 34.6 100.5 34.5 101.6 34.1 102.3 33.6 102.4 33.3 102.0 33.5 101.2 34.1 100.3 35.1 99.7 36.4 99.5 37.6 99.9 38.4 100.9 38.8 102.0 38.7 103.1 38.3 103.8 37.8 104.0 37.5 103.6" stroke="#777777" stroke-width="0.9"/>
<path d="M31.5 97.4 30.7 100.3 31.5 103.2 30.4 106.0 31.3 108.9 29.7 111.4" stroke="#a4a4a4" stroke-width="0.5"/>
<path d="M34.7 99.1 34.6 98.6 35.1 98.2 36.1 98.2 37.3 98.7 38.1 99.7 38.4 101.0 38.1 102.2 37.2 103.2 36.0 103.6 35.1 103.6 34.6 103.2 34.7 102.7 35.5 102.4 36.6 102.6 37.7 103.3 38.4 104.5 38.4 105.8 37.8 107.0 36.7 107.7 35.6 108.0 34.8 107.8 34.6 107.3 35.0 106.8 35.9 106.7 37.1 107.2 38.0 108.1 38.5 109.3 38.2 110.6 37.4 111.7 36.3 112.2 35.2 112.3 34.6 111.9 34.7 111.4" stroke="#747474" stroke-width="1.0"/>
<path d="M39.1 94.4 36.7 92.6 34.1 91.0 31.1 91.1 28.6 92.8 26.7 95.1" stroke="#bababa" stroke-width="0.6"/>
<path d="M43.1 95.0 44.3 95.8 45.0 97.0 44.9 98.4 44.2 99.6 43.0 100.4 41.9 100.5 41.2 100.2 41.2 99.5 41.9 99.0 43.1 98.8 44.4 99.3 45.4 100.3 45.8 101.6 45.4 103.0 44.5 104.0 43.3 104.5 42.3 104.4 41.9 103.9 42.2 103.3 43.1 102.9 44.4 102.9 45.6 103.6 46.4 104.8" stroke="#8a8a8a" stroke-width="0.7"/>
<path d="M42.9 95.7 44.0 95.2 45.6 95.3 47.0 96.0 47.9 97.4 48.0 99.0 47.1 100.5 45.7 101.4 44.3 101.5 43.4 101.0 43.2 100.2 44.0 99.5 45.4 99.3 47.0 99.7 48.2 100.9 48.6 102.5 48.1 104.0 46.9 105.2 45.4 105.7 44.2 105.4 43.7 104.7 44.1 103.9 45.3 103.4 46.8 103.6 48.3 104.4 49.0 105.9 48.9 107.5 48.0 108.9 46.6 109.7 45.2 109.7 44.3 109.2 44.3 108.4 45.2 107.7" stroke="#868686" stroke-width="1.1"/>
<path d="M47.4 97.5 45.7 95.0 43.6 92.8 40.7 92.3 38.0 93.7 35.6 95.5" stroke="#b2b2b2" stroke-width="0.4"/>
<path d="M53.7 95.8 56.5 94.6 57.7 91.9 60.3 90.3 61.3 87.5 62.6 84.8 65.4 83.8" stroke="#bfbfbf" stroke-width="0.6"/>
<path d="M52.6 98.4 51.6 97.9 51.4 97.3 51.9 96.8 52.9 96.9 54.0 97.7 54.7 98.9 54.7 100.3 54.0 101.5 52.7 102.2 51.4 102.3 50.4 101.8 50.1 101.2 50.6 100.7 51.6 100.8 52.7 101.4 53.4 102.6 53.5 104.1 52.8 105.3 51.6 106.0 50.2 106.1 49.2 105.7 48.9 105.1 49.3 104.6 50.2 104.6 51.3 105.2 52.1 106.4 52.2 107.8" stroke="#6e6e6e" stroke-width="1.1"/>
<path d="M52.7 97.9 51.9 97.9 51.3 97.0 51.3 95.6 52.0 94.1 53.2 93.1 54.8 92.9 56.2 93.6 57.2 94.9 57.5 96.4 57.1 97.6 56.4 98.1 55.6 97.7 55.1 96.6 55.4 95.1 56.3 93.8 57.7 93.0 59.2 93.1 60.5 94.0 61.3 95.5" stroke="#707070" stroke-width="0.8"/>
<path d="M55.9 98.1 55.0 97.2 54.8 95.9 55.1 94.8 55.7 94.1 56.3 94.0 56.6 94.5 56.3 95.2 55.4 96.0 54.2 96.3 52.9 96.0 52.0 95.1 51.7 93.9 51.9 92.7 52.5 91.9 53.2 91.7 53.5 92.1 53.3 92.8 52.5 93.6 51.3 94.0 50.0 93.8" stroke="#898989" stroke-width="0.7"/>
<path d="M59.1 96.9 58.0 97.8 56.9 98.0 56.3 97.6 56.5 96.9 57.5 96.3 58.8 96.3 60.2 97.0 60.9 98.2 60.8 99.7 60.0 100.9 58.9 101.6 57.9 101.5 57.6 100.9 58.1 100.2 59.3 99.8 60.8 100.1 61.9 101.0 62.3 102.4 61.9 103.8 60.9 104.8 59.8 105.2 59.0 104.8 59.1 104.1 59.9 103.5" stroke="#696969" stroke-width="0.7"/>
<path d="M64.3 97.4 63.5 97.5 62.9 96.5 63.0 95.0 64.0 93.6 65.5 92.9 67.1 93.2 68.3 94.4 68.8 96.0 68.4 97.3 67.6 97.8 66.9 97.3 66.6 96.0 67.2 94.5 68.5 93.4 70.2 93.2 71.6 94.0 72.4 95.5 72.4 97.0 71.8 98.0 70.9 97.9 70.4 96.9 70.6 95.4 71.6 94.0 73.1 93.4 74.7 93.8 75.9 95.0 76.3 96.6 75.9 97.9 75.1 98.3 74.3 97.7" stroke="#949494" stroke-width="1.1"/>
<path d="M63.4 98.4 65.2 100.9 66.6 103.5" stroke="#a2a2a2" stroke-width="0.5"/>
<path d="M64.1 96.5 63.2 97.0 62.4 97.1 62.0 96.8 62.1 96.4 62.8 96.0 63.8 96.0 64.9 96.4 65.8 97.2 66.2 98.3 66.0 99.5 65.4 100.5 64.5 101.2 63.6 101.3 63.1 101.1 63.1 100.7 63.7 100.3 64.7 100.1 65.8 100.5 66.7 101.2 67.2 102.3 67.2 103.5 66.6 104.6 65.7 105.3 64.8 105.5 64.3 105.3 64.2 104.9" stroke="#777777" stroke-width="1.0"/>
<path d="M67.0 94.5 66.0 91.7 64.3 89.3 61.8 87.6 59.1 86.3" stroke="#b3b3b3" stroke-width="0.5"/>
<path d="M69.5 95.4 78.4 93.9" stroke="#989898" stroke-width="0.9"/>
<path d="M69.8 97.0 79.2 95.4" stroke="#989898" stroke-width="0.9"/>
<path d="M70.1 98.5 76.2 97.5" stroke="#989898" stroke-width="0.9"/>
<path d="M73.5 98.3 70.5 98.8 68.4 96.6 67.4 93.8 67.8 90.8 70.5 89.5" stroke="#c9c9c9" stroke-width="0.4"/>
<path d="M80.6 96.8 87.1 93.0" stroke="#7f7f7f" stroke-width="0.9"/>
<path d="M81.4 98.2 89.2 93.6" stroke="#7f7f7f" stroke-width="0.9"/>
<path d="M82.2 99.5 91.5 94.2" stroke="#7f7f7f" stroke-width="0.9"/>
<path d="M81.5 94.2 80.7 95.4 79.5 95.9 78.8 95.6 78.8 95.0 79.7 94.6 81.0 94.8 82.1 95.8 82.3 97.1 81.7 98.4 80.7 99.1 79.7 99.1 79.5 98.6 80.1 98.0 81.3 98.0 82.5 98.7 83.1 100.0 82.8 101.4 81.8 102.3 80.7 102.5 80.2 102.1 80.6 101.5 81.7 101.3 83.0 101.7 83.8 102.9 83.7 104.3 82.9 105.4 81.8 105.8 81.0 105.6 81.1 105.0 82.0 104.6 83.3 104.8 84.4 105.8 84.6 107.2" stroke="#767676" stroke-width="1.0"/>
<path d="M82.9 97.7 82.5 100.6 81.8 103.6 80.3 106.1 77.3 106.4 74.6 105.2 73.0 102.6" stroke="#a3a3a3" stroke-width="0.5"/>
<path d="M85.2 100.4 84.5 99.2 84.9 97.4 86.2 96.0 88.0 95.8 89.6 96.9 90.3 98.6 89.9 100.1 88.9 100.6 88.1 99.8 88.0 98.1 89.0 96.5 90.7 95.7 92.4 96.3 93.5 97.9 93.5 99.7 92.7 100.6 91.7 100.2 91.3 98.8 91.9 97.0 93.4 95.9 95.2 96.0 96.6 97.3 97.0 99.1 96.4 100.4 95.4 100.5 94.7 99.4 94.9 97.6 96.1 96.2 97.9 95.8 99.5 96.7 100.3 98.4 100.1 100.0 99.2 100.6" stroke="#676767" stroke-width="0.9"/>
<path d="M89.0 96.8 88.0 99.7 87.2 102.6 84.9 104.5 85.0 107.5 82.9 109.7" stroke="#bcbcbc" stroke-width="0.4"/>
<path d="M96.9 95.1 94.0 95.8 91.3 94.5 88.3 94.8 85.3 94.7" stroke="#c0c0c0" stroke-width="0.5"/>
<path d="M96.3 94.9 102.0 92.6" stroke="#676767" stroke-width="0.9"/>
<path d="M96.9 96.4 104.3 93.4" stroke="#676767" stroke-width="0.9"/>
<path d="M97.5 97.9 105.0 94.9" stroke="#676767" stroke-width="0.9"/>
<path d="M104.5 95.9 105.1 97.7 104.7 99.3 103.7 100.0 102.8 99.4 102.7 97.9 103.6 96.3 105.2 95.5 107.0 95.8 108.2 97.2 108.5 99.0 107.9 100.3 106.9 100.6 106.2 99.7 106.4 98.1 107.5 96.7 109.3 96.2 110.9 96.8 111.9 98.4 111.8 100.2 111.0 101.3 110.1 101.2 109.6 100.0 110.1 98.3 111.5 97.1 113.3 97.0 114.8 98.0 115.5 99.7 115.1 101.4 114.2 102.1 113.3 101.6 113.1 100.2 113.9 98.6 115.5 97.6" stroke="#8a8a8a" stroke-width="0.8"/>
<path d="M102.5 99.2 102.7 97.7 103.6 96.4 105.1 95.9 106.6 96.3 107.7 97.5 108.0 98.9 107.6 100.0 106.9 100.2 106.2 99.5 106.1 98.2 106.8 96.8 108.1 95.9 109.6 95.9 110.9 96.8 111.5 98.2 111.4 99.5 110.8 100.1 110.0 99.8 109.7 98.6 110.0 97.2" stroke="#8d8d8d" stroke-width="1.0"/>
<path d="M113.3 96.6 114.9 94.1 115.1 91.1 114.6 88.1" stroke="#aeaeae" stroke-width="0.5"/>
<path d="M109.8 99.6 109.4 100.4 108.7 100.5 108.1 99.9 107.8 98.8 108.1 97.4 109.0 96.2 110.3 95.6 111.7 95.7 113.0 96.5 113.7 97.7 113.9 99.0 113.6 99.8 112.9 100.1 112.2 99.6 111.9 98.5 112.1 97.1 112.9 95.9 114.2 95.2 115.6 95.2" stroke="#696969" stroke-width="0.8"/>
<path d="M119.5 93.3 119.1 94.6 118.3 95.6 117.3 95.8 116.9 95.4 117.2 94.7 118.3 94.2 119.7 94.2 120.8 95.0 121.3 96.3 121.0 97.7 120.2 98.6 119.3 98.9 118.8 98.6 119.1 97.9 120.1 97.3 121.4 97.3 122.6 98.0 123.2 99.3 123.0 100.7 122.1 101.7 121.2 102.0 120.7 101.7 120.9 101.0 121.8 100.4 123.2 100.4 124.4 101.1 125.0 102.3 124.9 103.7" stroke="#7a7a7a" stroke-width="1.1"/>
<path d="M116.6 98.7 115.5 95.9 115.0 93.0 115.0 90.0 112.5 88.3" stroke="#c2c2c2" stroke-width="0.5"/>
<path d="M28.3 105.4 27.0 106.7 25.4 107.1 24.2 106.5 24.2 105.5 25.4 104.8 27.2 105.0 28.6 106.2 28.9 107.9 28.0 109.5 26.4 110.3 24.9 110.1 24.4 109.2 25.2 108.3 26.8 108.1 28.4 108.9 29.3 110.5 28.9 112.2 27.5 113.4 25.8 113.6 24.9 112.9 25.1 112.0 26.4 111.4 28.1 111.7 29.4 113.0" stroke="#6d6d6d" stroke-width="0.8"/>
<path d="M25.2 102.7 24.3 101.8 23.8 100.7 24.0 99.5 24.6 98.4 25.6 97.8 26.6 97.6 27.3 97.8 27.5 98.2 27.1 98.6 26.2 98.7 25.2 98.3 24.3 97.5 23.8 96.4 23.9 95.2 24.5 94.1 25.5 93.5 26.5 93.2 27.2 93.4 27.4 93.8 27.1 94.2 26.3 94.3 25.2 94.0 24.3 93.3 23.8 92.2" stroke="#959595" stroke-width="1.1"/>
<path d="M35.3 102.0 37.9 100.5 40.6 99.2 43.6 98.9" stroke="#c0c0c0" stroke-width="0.6"/>
<path d="M32.7 99.9 31.8 108.5" stroke="#7b7b7b" stroke-width="0.9"/>
<path d="M31.1 99.8 30.1 109.3" stroke="#7b7b7b" stroke-width="0.9"/>
<path d="M29.5 99.6 28.8 106.4" stroke="#7b7b7b" stroke-width="0.9"/>
<path d="M38.2 104.0 37.9 105.1 37.4 105.6 37.0 105.4 36.9 104.6 37.4 103.6 38.5 102.8 39.8 102.7 41.0 103.2 41.7 104.2 41.9 105.5 41.6 106.5 41.1 106.8 40.7 106.5 40.7 105.7 41.3 104.7 42.4 104.0 43.7 103.9 44.9 104.6 45.6 105.7 45.7 106.9 45.3 107.8 44.8 108.1 44.4 107.6 44.5 106.8 45.2 105.8 46.4 105.2 47.7 105.2 48.8 106.0 49.4 107.1 49.4 108.3 49.0 109.1 48.5 109.3" stroke="#878787" stroke-width="0.8"/>
<path d="M46.2 98.4 47.4 99.2 48.1 100.3 48.3 101.4 48.0 102.1 47.3 102.2 46.6 101.7 46.1 100.5 46.1 99.1 46.7 97.8 47.8 96.8 49.2 96.5 50.6 96.9 51.7 97.7 52.3 98.9 52.4 99.9 52.0 100.5 51.2 100.5 50.5 99.8" stroke="#767676" stroke-width="0.9"/>
<path d="M45.7 99.5 42.8 100.1 40.2 98.6 37.2 99.2 34.3 98.6" stroke="#bbbbbb" stroke-width="0.5"/>
<path d="M54.5 104.9 54.9 104.3 56.0 104.1 57.3 104.7 58.1 105.9 57.9 107.4 57.0 108.5 55.7 108.9 54.8 108.6 54.7 108.0 55.4 107.5 56.7 107.7 57.9 108.6 58.3 109.9 57.8 111.3 56.6 112.1 55.4 112.2 54.8 111.7 55.0 111.1 56.1 110.9 57.4 111.3 58.3 112.5 58.3 113.9 57.4 115.1 56.2 115.6 55.1 115.4 54.9 114.8 55.6 114.3 56.8 114.3 58.0 115.1" stroke="#7f7f7f" stroke-width="0.8"/>
<path d="M53.3 100.9 54.6 100.8 55.9 101.3 56.7 102.2 57.0 103.3 56.8 104.0 56.3 104.1 55.7 103.6 55.6 102.5 55.9 101.3 56.7 100.3 58.0 99.9 59.3 100.1 60.3 100.9 60.8 101.9 60.8 102.8 60.4 103.3 59.9 103.0 59.5 102.2 59.6 101.0 60.2 99.8" stroke="#888888" stroke-width="1.0"/>
<path d="M60.4 101.7 59.7 101.9 58.7 101.8 57.8 101.4 57.1 100.6 56.8 99.6 56.9 98.5 57.4 97.6 58.1 97.0 58.8 96.8 59.3 96.8 59.4 97.1 59.0 97.5 58.3 97.7 57.4 97.6 56.5 97.2 55.8 96.4 55.5 95.4 55.6 94.3 56.1 93.4 56.8 92.8" stroke="#808080" stroke-width="0.8"/>
<path d="M65.9 100.3 63.6 102.2 63.8 105.2 64.3 108.2 67.0 109.5 67.8 112.4" stroke="#a2a2a2" stroke-width="0.5"/>
<path d="M63.1 100.1 63.9 101.2 64.2 102.6 63.6 103.8 62.4 104.5 61.0 104.5 59.9 103.9 59.6 103.2 60.1 102.7 61.0 102.9 61.9 103.8 62.3 105.2 61.9 106.5 60.8 107.4 59.4 107.5 58.2 107.1 57.7 106.3 58.0 105.7 58.8 105.8 59.8 106.5 60.3 107.8" stroke="#8f8f8f" stroke-width="0.8"/>
<path d="M70.4 104.7 73.2 105.9 73.8 108.8 74.8 111.7 75.5 114.6 76.0 117.6" stroke="#c3c3c3" stroke-width="0.5"/>
<path d="M68.8 104.7 70.9 102.6 71.5 99.6 71.4 96.6 71.8 93.7 70.5 90.9" stroke="#bbbbbb" stroke-width="0.4"/>
<path d="M68.1 98.7 68.6 99.9 68.4 101.2 67.6 102.2 66.6 102.7 65.8 102.6 65.6 102.1 66.2 101.5 67.2 101.3 68.5 101.6 69.5 102.4 69.9 103.7 69.6 104.9 68.8 105.9 67.8 106.3 67.1 106.1 67.0 105.6 67.6 105.1 68.7 104.9 70.0 105.2 70.9 106.2 71.2 107.4 70.8 108.7 69.9 109.6" stroke="#969696" stroke-width="1.0"/>
<path d="M73.3 102.5 73.5 101.7 74.3 101.2 75.7 101.3 77.0 102.0 77.9 103.2 78.0 104.8 77.3 106.1 76.1 107.0 74.7 107.2 73.6 106.8 73.3 106.1 73.8 105.4 75.0 105.2 76.4 105.5 77.6 106.5 78.1 108.0 77.8 109.4 76.8 110.6 75.4 111.2" stroke="#787878" stroke-width="1.0"/>
<path d="M76.6 100.7 76.7 99.0 77.8 97.5 79.5 96.9 81.2 97.6 82.2 99.2 82.2 100.8 81.4 101.8 80.5 101.5 80.0 100.1 80.5 98.4 81.9 97.2 83.7 97.1 85.2 98.1 85.8 99.9 85.5 101.3 84.6 101.8 83.7 101.1 83.6 99.5 84.4 97.8 86.1 97.0 87.8 97.4 89.0 98.8 89.3 100.5 88.7 101.7 87.7 101.7 87.0 100.6 87.3 98.8 88.5 97.4 90.2 97.0 91.9 97.8 92.8 99.5 92.6 101.1 91.8 101.9 90.9 101.4" stroke="#989898" stroke-width="0.8"/>
<path d="M95.2 99.8 92.9 97.8 92.4 94.9 90.3 92.7 90.2 89.7 91.3 87.0" stroke="#bdbdbd" stroke-width="0.6"/>
<path d="M97.8 101.5 98.9 100.7 100.2 100.6 101.4 101.1 102.3 102.1 102.5 103.1 102.3 103.9 101.7 103.9 101.2 103.3 101.1 102.2 101.5 101.0 102.4 100.0 103.7 99.7 105.0 100.1 105.9 101.0 106.3 102.1 106.1 102.9 105.6 103.2 105.1 102.7 104.8 101.6 105.1 100.4 106.0 99.4 107.2 98.9 108.5 99.1 109.5 100.0" stroke="#848484" stroke-width="0.9"/>
<path d="M97.9 104.3 98.2 107.3 97.2 110.2 94.4 111.2 93.4 114.1" stroke="#b5b5b5" stroke-width="0.4"/>
<path d="M98.7 103.0 97.3 103.8 95.9 103.9 95.0 103.4 95.0 102.6 95.9 102.1 97.2 102.2 98.6 103.1 99.3 104.4 99.1 106.0 98.1 107.2 96.7 107.7 95.4 107.6 94.8 106.9 95.1 106.2 96.2 105.9 97.6 106.2 98.7 107.3 99.2 108.8 98.7 110.2 97.5 111.3 96.0 111.6 94.9 111.2 94.6 110.5 95.2 109.8 96.5 109.7" stroke="#7e7e7e" stroke-width="1.0"/>
<path d="M107.9 104.4 109.3 107.1 108.8 110.0 107.5 112.7 105.2 114.7 103.6 117.2" stroke="#c6c6c6" stroke-width="0.6"/>
<path d="M105.3 101.2 98.9 97.7" stroke="#7e7e7e" stroke-width="0.9"/>
<path d="M106.1 99.8 98.1 95.5" stroke="#7e7e7e" stroke-width="0.9"/>
<path d="M106.9 98.4 100.4 94.9" stroke="#7e7e7e" stroke-width="0.9"/>
<path d="M111.6 101.6 111.5 102.6 111.0 103.1 110.6 102.7 110.5 101.8 111.1 100.8 112.2 100.1 113.5 100.1 114.5 100.9 115.0 102.0 114.9 103.0 114.4 103.4 114.0 103.1 114.0 102.1 114.6 101.1 115.7 100.4 117.0 100.5 118.0 101.3 118.5 102.5 118.3 103.4 117.8 103.8" stroke="#8e8e8e" stroke-width="1.0"/>
<path d="M117.1 104.4 109.8 101.9" stroke="#707070" stroke-width="0.9"/>
<path d="M117.7 102.9 107.7 99.5" stroke="#707070" stroke-width="0.9"/>
<path d="M118.2 101.4 111.1 99.0" stroke="#707070" stroke-width="0.9"/>
<path d="M117.8 100.5 118.8 100.3 119.9 100.6 120.8 101.6 121.1 102.8 120.6 104.0 119.6 104.8 118.6 105.0 118.0 104.6 118.1 104.1 118.9 103.8 120.1 104.0 121.1 104.7 121.6 105.9 121.3 107.1 120.4 108.1 119.4 108.5 118.6 108.3 118.5 107.8 119.1 107.3 120.2 107.3 121.3 107.9 122.0 109.0" stroke="#757575" stroke-width="0.9"/>
<path d="M120.9 99.4 117.1 90.5" stroke="#8c8c8c" stroke-width="0.9"/>
<path d="M122.4 98.8 119.7 92.4" stroke="#8c8c8c" stroke-width="0.9"/>
<path d="M123.8 98.2 120.3 89.9" stroke="#8c8c8c" stroke-width="0.9"/>
<path d="M20.7 105.4 18.0 104.2 15.1 103.3 12.5 104.7 9.8 103.3 8.6 100.5" stroke="#bcbcbc" stroke-width="0.5"/>
<path d="M20.8 110.7 23.8 111.2 26.6 112.3" stroke="#b6b6b6" stroke-width="0.5"/>
<path d="M27.7 107.2 29.2 107.3 30.4 108.3 31.1 109.7 31.0 110.9 30.4 111.5 29.7 111.3 29.3 110.4 29.5 109.0 30.4 107.7 31.7 107.0 33.3 107.2 34.5 108.2 35.1 109.5 35.0 110.8 34.4 111.4 33.7 111.2 33.3 110.2 33.5 108.8 34.4 107.6 35.8 106.9 37.3 107.1 38.5 108.1 39.1 109.4 39.0 110.7 38.4 111.3 37.7 111.1 37.3 110.0 37.5 108.7 38.4 107.4" stroke="#686868" stroke-width="0.8"/>
<path d="M28.6 106.9 27.4 106.6 27.0 105.9 27.3 105.2 28.4 104.8 29.9 105.0 31.2 105.9 31.9 107.3 31.7 108.8 30.8 110.1 29.5 110.8 28.2 110.8 27.3 110.3 27.3 109.5 28.1 108.9 29.4 108.8 30.8 109.4 31.9 110.6 32.1 112.1 31.6 113.5 30.4 114.5 29.0 114.9 27.9 114.6 27.4 113.9" stroke="#797979" stroke-width="1.0"/>
<path d="M31.9 109.0 31.2 107.5 31.6 105.8 32.9 104.7 34.4 104.5 35.1 105.1 34.8 106.0 33.5 106.4 31.8 106.0 30.7 104.7 30.7 103.0 31.8 101.6 33.3 101.1 34.4 101.5 34.5 102.4 33.5 103.0 31.8 102.9 30.5 101.9 30.0 100.2 30.8 98.7 32.2 97.8 33.6 97.9 34.0 98.7 33.4 99.5 31.8 99.7 30.3 99.0 29.5 97.5 29.9 95.8 31.1 94.7 32.6 94.4 33.5 95.0 33.2 95.9 31.9 96.4 30.2 96.0 29.1 94.7" stroke="#838383" stroke-width="0.9"/>
<path d="M34.5 109.7 36.4 107.4 39.0 105.9 39.5 103.0 40.1 100.0 40.2 97.0" stroke="#d0d0d0" stroke-width="0.5"/>
<path d="M39.6 103.7 40.5 104.8 40.7 106.1 40.1 107.4 39.0 108.2 37.8 108.5 37.0 108.1 36.9 107.5 37.5 106.9 38.7 106.8 39.9 107.3 40.9 108.3 41.1 109.7 40.6 111.0 39.6 111.8 38.4 112.1 37.5 111.8 37.3 111.2 37.9 110.6 39.0 110.5" stroke="#747474" stroke-width="0.8"/>
<path d="M39.2 107.8 37.9 105.1 38.5 102.1 36.9 99.6 36.8 96.6 37.1 93.6" stroke="#b8b8b8" stroke-width="0.4"/>
<path d="M47.7 109.9 49.6 112.2 49.0 115.1 48.1 118.0" stroke="#bbbbbb" stroke-width="0.6"/>
<path d="M42.3 110.6 40.6 113.1 40.1 116.0 38.6 118.6 36.0 120.1 33.8 122.1 30.8 122.3" stroke="#d0d0d0" stroke-width="0.4"/>
<path d="M54.9 104.8 55.8 106.0 55.8 107.6 54.9 108.8 53.5 109.4 52.3 109.2 51.9 108.5 52.5 107.9 53.8 107.8 55.1 108.6 55.8 110.0 55.5 111.5 54.4 112.6 52.9 112.9 51.9 112.4 51.9 111.7 52.7 111.2 54.1 111.5 55.3 112.5 55.7 114.0 55.1 115.4 53.8 116.2 52.4 116.3 51.7 115.7 51.9 115.0 53.0 114.7 54.4 115.2 55.4 116.4 55.5 117.9" stroke="#6b6b6b" stroke-width="0.8"/>
<path d="M56.1 106.0 56.4 106.9 56.4 107.7 56.1 108.1 55.8 107.9 55.6 107.3 55.8 106.4 56.5 105.6 57.4 105.0 58.6 104.9 59.6 105.3 60.4 106.1 60.8 107.0 60.8 107.8 60.5 108.2 60.2 108.1 60.0 107.6 60.2 106.7 60.8 105.8 61.8 105.2 62.9 105.0 64.0 105.4 64.8 106.2 65.2 107.1 65.2 107.9 65.0 108.4 64.6 108.3 64.4 107.8 64.6 106.9 65.2 106.0 66.1 105.4 67.2 105.2" stroke="#7f7f7f" stroke-width="1.1"/>
<path d="M55.0 110.8 53.2 113.2 52.5 116.1 50.7 118.5 50.2 121.4 48.0 123.4" stroke="#d2d2d2" stroke-width="0.6"/>
<path d="M61.7 104.8 62.1 106.3 61.8 107.7 60.8 108.8 59.5 109.4 58.2 109.4 57.3 108.9 57.2 108.2 57.8 107.6 59.0 107.4 60.3 107.7 61.5 108.7 62.1 110.0 62.0 111.5 61.2 112.7 59.9 113.5 58.5 113.7 57.5 113.3 57.2 112.6" stroke="#666666" stroke-width="0.9"/>
<path d="M64.8 107.8 70.8 114.6" stroke="#949494" stroke-width="0.9"/>
<path d="M63.6 108.8 70.7 116.9" stroke="#949494" stroke-width="0.9"/>
<path d="M62.4 109.9 69.3 117.7" stroke="#949494" stroke-width="0.9"/>
<path d="M61.1 112.2 59.9 112.5 59.2 112.1 59.3 111.5 60.2 111.1 61.5 111.3 62.6 112.2 63.0 113.6 62.5 114.9 61.4 115.7 60.3 115.9 59.7 115.4 60.0 114.8 61.0 114.5 62.3 114.9 63.3 115.9 63.5 117.2 62.9 118.5 61.7 119.2 60.7 119.2 60.2 118.7 60.7 118.2 61.8 118.0 63.1 118.4" stroke="#6e6e6e" stroke-width="0.7"/>
<path d="M65.4 108.7 66.3 109.4 66.8 110.4 66.8 111.1 66.5 111.5 66.1 111.2 65.9 110.5 66.1 109.5 66.8 108.5 67.8 107.9 69.0 107.8 70.1 108.3 70.8 109.2 71.1 110.1 71.0 110.7 70.6 110.8 70.3 110.3 70.2 109.4 70.6 108.4 71.4 107.5 72.6 107.1 73.8 107.3 74.7 108.0 75.3 108.9 75.4 109.7 75.1 110.1 74.7 110.0 74.5 109.3 74.6 108.3 75.2 107.3 76.2 106.6 77.4 106.5" stroke="#676767" stroke-width="0.9"/>
<path d="M69.4 108.5 75.7 101.9" stroke="#747474" stroke-width="0.9"/>
<path d="M70.6 109.6 75.6 104.4" stroke="#747474" stroke-width="0.9"/>
<path d="M71.7 110.7 76.8 105.5" stroke="#747474" stroke-width="0.9"/>
<path d="M70.9 106.1 68.0 106.8 65.4 105.3 62.9 103.6 60.6 101.7" stroke="#d3d3d3" stroke-width="0.4"/>
<path d="M70.3 108.4 71.5 111.1 72.6 114.0 73.8 116.7 72.6 119.4 72.7 122.4 73.9 125.1" stroke="#aeaeae" stroke-width="0.5"/>
<path d="M74.8 104.1 76.4 104.6 77.6 105.7 78.0 107.3 77.4 108.9 76.0 109.9 74.4 110.1 73.2 109.6 72.9 108.7 73.5 107.9 74.9 107.7 76.4 108.2 77.5 109.5 77.7 111.1 77.0 112.6 75.5 113.4 73.9 113.5 72.8 112.9" stroke="#878787" stroke-width="1.0"/>
<path d="M73.7 106.9 76.6 107.6 79.1 109.3 82.0 108.5 84.5 110.2" stroke="#a9a9a9" stroke-width="0.5"/>
<path d="M82.7 109.3 79.7 109.2 77.3 111.0 74.3 111.0" stroke="#a3a3a3" stroke-width="0.5"/>
<path d="M82.0 105.9 78.6 112.0" stroke="#797979" stroke-width="0.9"/>
<path d="M80.6 105.2 76.2 113.1" stroke="#797979" stroke-width="0.9"/>
<path d="M79.2 104.4 76.2 109.7" stroke="#797979" stroke-width="0.9"/>
<path d="M84.9 107.3 85.2 108.7 84.6 109.9 83.5 110.6 82.3 110.6 81.6 110.1 81.6 109.6 82.4 109.5 83.4 109.9 84.2 111.0 84.2 112.4 83.5 113.5 82.3 114.0 81.2 113.9 80.6 113.3 80.9 112.9 81.8 112.9 82.8 113.5 83.4 114.7 83.2 116.1 82.3 117.0 81.1 117.4 80.1 117.1 79.8 116.5 80.2 116.1" stroke="#707070" stroke-width="1.0"/>
<path d="M93.4 108.5 93.4 109.9 92.6 110.9 91.4 111.4 90.6 111.2 90.4 110.7 91.0 110.3 92.1 110.4 93.2 111.1 93.7 112.3 93.5 113.6 92.6 114.5 91.5 114.9 90.7 114.6 90.7 114.1 91.5 113.7 92.6 114.0 93.6 114.8 94.0 116.1 93.6 117.3 92.6 118.1 91.5 118.3 90.9 118.0 91.1 117.5 92.0 117.2 93.1 117.6 94.0 118.5 94.2 119.8 93.7 121.0" stroke="#6e6e6e" stroke-width="0.8"/>
<path d="M91.3 107.5 91.1 106.7 91.9 106.0 93.4 105.9 94.9 106.7 95.8 108.2 95.5 109.9 94.3 111.2 92.7 111.6 91.5 111.2 91.2 110.3 92.1 109.6 93.6 109.6 95.1 110.4 95.9 111.9 95.6 113.6 94.4 114.9 92.8 115.3 91.6 114.8 91.4 114.0 92.2 113.3 93.8 113.2 95.3 114.1 96.1 115.6 95.8 117.3 94.5 118.5 92.9 118.9 91.7 118.5 91.5 117.6 92.4 116.9 94.0 116.9 95.5 117.8 96.2 119.3" stroke="#6c6c6c" stroke-width="0.8"/>
<path d="M97.9 110.2 96.4 109.9 95.2 108.9 94.6 107.4 95.1 105.8 96.3 104.8 97.9 104.5 99.2 105.0 99.6 105.9 99.1 106.6 97.8 106.7 96.4 106.1 95.4 104.8 95.3 103.2 96.2 101.8 97.7 101.1 99.2 101.3 100.2 102.0 100.1 102.8 99.2 103.3" stroke="#8a8a8a" stroke-width="1.1"/>
<path d="M99.2 107.6 91.9 105.7" stroke="#777777" stroke-width="0.9"/>
<path d="M99.6 106.0 92.0 104.0" stroke="#777777" stroke-width="0.9"/>
<path d="M100.1 104.5 90.5 102.0" stroke="#777777" stroke-width="0.9"/>
<path d="M98.8 105.6 100.4 105.4 101.8 106.1 102.8 107.3 103.1 108.6 102.7 109.6 102.0 109.8 101.3 109.2 101.0 108.0 101.4 106.5 102.4 105.3 103.8 104.7 105.4 105.0 106.6 106.0 107.2 107.4 107.1 108.6 106.5 109.2 105.8 108.9 105.2 107.9 105.3 106.5 106.0 105.1 107.3 104.2 108.9 104.1 110.3 104.8 111.2 106.1 111.4 107.4 111.0 108.3 110.3 108.5 109.6 107.8 109.4 106.5 109.8 105.0 110.8 103.8 112.3 103.4 113.9 103.8" stroke="#858585" stroke-width="1.1"/>
<path d="M104.4 110.8 105.0 117.0" stroke="#7b7b7b" stroke-width="0.9"/>
<path d="M102.8 111.0 103.8 121.0" stroke="#7b7b7b" stroke-width="0.9"/>
<path d="M101.2 111.1 101.9 117.7" stroke="#7b7b7b" stroke-width="0.9"/>
<path d="M112.2 106.4 112.8 105.4 113.8 104.6 115.0 104.5 116.2 105.0 117.0 105.9 117.3 106.9 117.1 107.5 116.6 107.7 116.1 107.2 115.9 106.2 116.2 105.0 117.0 104.1 118.1 103.6 119.4 103.7 120.4 104.4 121.0 105.4 121.1 106.3 120.7 106.8 120.2 106.6 119.8 105.9" stroke="#929292" stroke-width="0.8"/>
<path d="M113.4 106.1 112.2 103.4 111.6 100.5" stroke="#a8a8a8" stroke-width="0.6"/>
<path d="M108.6 109.8 111.6 109.9 114.2 111.3 116.9 112.7 117.3 115.7 118.9 118.2" stroke="#aaaaaa" stroke-width="0.4"/>
<path d="M119.0 105.3 118.0 108.1 115.3 109.5 112.4 110.1 109.8 111.6 109.5 114.6 108.5 117.5" stroke="#a3a3a3" stroke-width="0.6"/>
<path d="M116.2 107.5 116.4 108.9 115.9 110.0 115.2 110.3 114.6 109.8 114.7 108.7 115.4 107.6 116.7 106.9 118.2 107.0 119.2 108.0 119.7 109.4 119.4 110.7 118.7 111.3 118.0 111.1 117.8 110.1 118.3 108.9 119.5 108.0 120.9 107.9 122.2 108.6 122.9 109.9 122.8 111.3" stroke="#676767" stroke-width="0.7"/>
<path d="M120.9 110.1 113.2 112.6" stroke="#828282" stroke-width="0.9"/>
<path d="M120.4 108.6 112.1 111.3" stroke="#828282" stroke-width="0.9"/>
<path d="M119.9 107.1 109.5 110.4" stroke="#828282" stroke-width="0.9"/>
<path d="M21.4 116.8 23.1 119.4 22.6 122.3 21.5 125.1 18.8 126.5" stroke="#b1b1b1" stroke-width="0.5"/>
<path d="M34.2 114.9 34.3 114.2 34.8 113.3 35.7 112.7 36.9 112.5 38.0 112.8 38.8 113.5 39.2 114.6 39.2 115.5 38.9 116.2 38.5 116.4 38.2 116.0 38.3 115.3 38.7 114.4 39.6 113.8 40.7 113.5 41.8 113.7 42.7 114.5" stroke="#818181" stroke-width="0.7"/>
<path d="M32.4 112.3 31.4 109.5 32.9 106.9 34.8 104.6 36.8 102.3 39.3 100.7" stroke="#b8b8b8" stroke-width="0.4"/>
<path d="M45.1 117.7 44.7 116.8 44.8 115.5 45.6 114.3 46.8 113.4 48.3 113.2 49.7 113.8 50.6 115.0 51.0 116.4 50.7 117.6 50.1 118.1 49.5 118.0 49.1 117.1 49.2 115.8 50.0 114.5 51.3 113.7 52.8 113.6 54.1 114.2 55.0 115.4 55.4 116.8 55.1 118.0 54.5 118.5 53.8 118.2 53.4 117.3 53.7 116.0 54.5 114.8 55.8 114.0 57.3 113.9 58.6 114.6" stroke="#919191" stroke-width="0.8"/>
<path d="M46.9 117.2 46.2 118.1 45.2 118.6 44.1 118.6 43.0 118.1 42.3 117.4 42.1 116.8 42.2 116.3 42.7 116.4 43.1 116.9 43.3 117.8 43.2 118.9 42.5 119.9 41.6 120.5 40.4 120.7 39.4 120.3 38.6 119.7 38.2 119.0 38.3 118.4 38.6 118.4 39.1 118.8 39.4 119.6 39.3 120.7" stroke="#888888" stroke-width="1.1"/>
<path d="M51.2 113.8 50.9 115.3 49.8 116.5 48.2 116.9 46.8 116.5 46.2 115.7 46.7 114.9 47.9 114.7 49.3 115.2 50.4 116.5 50.6 118.1 49.8 119.5 48.4 120.3 46.8 120.3 45.8 119.6 45.7 118.7 46.6 118.2 48.0 118.3" stroke="#8d8d8d" stroke-width="1.0"/>
<path d="M46.7 114.4 47.9 113.6 49.3 113.4 50.6 113.9 51.6 114.9 52.0 116.1 51.9 117.0 51.3 117.3 50.6 116.9 50.1 115.9 50.1 114.6 50.7 113.2 51.8 112.3 53.2 112.0 54.5 112.5 55.6 113.4 56.1 114.5 56.0 115.5 55.5 115.9 54.8 115.6 54.3 114.7 54.2 113.4 54.7 112.0 55.7 111.0" stroke="#787878" stroke-width="1.1"/>
<path d="M49.7 112.2 49.9 113.4 49.6 114.5 48.9 115.5 47.9 116.0 46.9 116.1 46.2 115.9 46.1 115.5 46.5 115.1 47.3 115.0 48.3 115.3 49.2 116.0 49.8 117.1 49.8 118.3 49.3 119.4 48.4 120.2 47.3 120.5 46.5 120.5 46.0 120.1 46.1 119.7 46.7 119.4 47.7 119.5 48.7 120.0" stroke="#959595" stroke-width="1.0"/>
<path d="M58.1 115.2 55.7 104.6" stroke="#8d8d8d" stroke-width="0.9"/>
<path d="M59.6 114.8 57.9 107.1" stroke="#8d8d8d" stroke-width="0.9"/>
<path d="M61.2 114.5 59.9 108.6" stroke="#8d8d8d" stroke-width="0.9"/>
<path d="M56.2 114.2 55.4 113.8 55.4 113.2 56.0 112.9 57.1 113.1 58.1 113.9 58.6 115.1 58.3 116.3 57.4 117.3 56.2 117.7 55.2 117.5 54.8 117.0 55.2 116.5 56.1 116.4 57.2 116.9 58.0 118.0 58.1 119.3 57.4 120.4 56.3 121.1 55.2 121.1 54.5 120.7 54.5 120.1" stroke="#858585" stroke-width="0.9"/>
<path d="M57.3 113.9 52.9 118.1" stroke="#797979" stroke-width="0.9"/>
<path d="M56.2 112.7 49.7 119.0" stroke="#797979" stroke-width="0.9"/>
<path d="M55.1 111.6 48.7 117.7" stroke="#797979" stroke-width="0.9"/>
<path d="M61.6 113.0 58.7 113.7 56.5 115.8 53.5 116.1 50.5 116.4" stroke="#c6c6c6" stroke-width="0.6"/>
<path d="M63.2 112.7 64.4 111.2 66.3 110.6 68.0 111.4 68.9 113.2 68.6 115.1 67.6 116.1 66.5 115.9 66.2 114.5 67.1 112.9 68.8 111.9 70.7 112.2 71.9 113.6 72.1 115.6 71.3 117.0 70.1 117.3 69.5 116.3 69.9 114.6 71.3 113.3 73.2 113.1 74.8 114.2 75.4 116.0 74.9 117.8 73.8 118.6 72.9 118.0 72.8 116.5 73.9 114.9 75.7 114.2 77.5 114.8 78.5 116.5 78.4 118.4 77.5 119.6 76.4 119.5 76.0 118.3" stroke="#7a7a7a" stroke-width="0.9"/>
<path d="M67.9 114.5 66.9 103.5" stroke="#848484" stroke-width="0.9"/>
<path d="M69.5 114.3 68.5 103.8" stroke="#848484" stroke-width="0.9"/>
<path d="M71.1 114.2 70.3 106.5" stroke="#848484" stroke-width="0.9"/>
<path d="M65.2 115.2 65.3 114.8 66.0 114.4 67.0 114.4 68.1 114.8 69.0 115.6 69.4 116.7 69.2 117.9 68.6 118.9 67.8 119.4 67.1 119.5 66.8 119.2 67.0 118.8 67.8 118.5 68.9 118.5 69.9 119.0 70.7 119.9 71.0 121.1 70.7 122.2 70.0 123.1 69.2 123.6 68.5 123.6 68.4 123.2 68.7 122.8 69.6 122.5 70.7 122.6 71.7 123.2 72.4 124.2 72.5 125.4 72.1 126.5 71.4 127.3 70.6 127.7 70.0 127.6 70.0 127.2" stroke="#818181" stroke-width="0.9"/>
<path d="M66.5 113.6 67.8 120.4" stroke="#838383" stroke-width="0.9"/>
<path d="M64.9 113.9 66.4 121.9" stroke="#838383" stroke-width="0.9"/>
<path d="M63.4 114.1 65.2 124.3" stroke="#838383" stroke-width="0.9"/>
<path d="M74.0 115.5 79.7 110.1" stroke="#767676" stroke-width="0.9"/>
<path d="M75.1 116.6 83.0 109.2" stroke="#767676" stroke-width="0.9"/>
<path d="M76.2 117.8 82.4 111.9" stroke="#767676" stroke-width="0.9"/>
<path d="M78.7 112.1 78.1 112.4 77.1 112.0 76.3 110.9 76.3 109.4 77.2 108.3 78.5 107.9 79.8 108.3 80.4 109.0 80.1 109.6 79.2 109.5 78.3 108.6 77.9 107.2 78.4 105.9 79.7 105.2 81.0 105.2 82.0 105.9 82.1 106.6 81.4 106.8 80.4 106.2 79.7 105.0 79.9 103.6 80.8 102.6 82.2 102.3 83.4 102.7 83.9 103.5 83.5 104.0 82.5 103.7 81.7 102.8" stroke="#919191" stroke-width="0.8"/>
<path d="M78.1 111.0 77.6 111.6 76.7 112.0 75.5 111.9 74.4 111.4 73.7 110.5 73.4 109.3 73.7 108.1 74.4 107.3 75.1 106.9 75.7 107.0 75.7 107.5 75.2 108.0 74.3 108.4 73.1 108.4 72.0 107.9 71.3 106.9 71.1 105.7 71.4 104.6 72.0 103.7 72.8 103.4 73.3 103.4 73.4 103.9 72.9 104.5" stroke="#696969" stroke-width="0.8"/>
<path d="M80.8 111.5 83.2 113.3 86.1 112.6 88.1 110.4 91.1 110.7 94.0 109.9 97.0 110.3" stroke="#a8a8a8" stroke-width="0.6"/>
<path d="M78.3 115.6 68.5 113.3" stroke="#888888" stroke-width="0.9"/>
<path d="M78.7 114.1 72.1 112.5" stroke="#888888" stroke-width="0.9"/>
<path d="M79.1 112.5 71.7 110.7" stroke="#888888" stroke-width="0.9"/>
<path d="M85.7 116.3 85.2 117.7 84.0 118.6 82.5 118.7 81.5 118.1 81.4 117.4 82.2 117.0 83.5 117.4 84.5 118.5 84.7 120.0 84.0 121.4 82.7 122.1 81.3 122.0 80.5 121.4 80.6 120.7 81.5 120.5 82.8 121.0 83.7 122.3 83.7 123.8 82.8 125.0 81.3 125.5 80.0 125.3 79.5 124.6 79.8 124.0 80.9 123.9 82.1 124.7 82.8 126.1 82.6 127.6 81.5 128.6 80.1 129.0 78.9 128.6 78.5 127.8 79.1 127.3 80.3 127.5 81.4 128.4" stroke="#848484" stroke-width="1.0"/>
<path d="M85.2 114.3 84.7 113.2 85.2 111.5 86.8 110.4 88.6 110.4 90.0 111.6 90.4 113.5 89.7 115.0 88.6 115.4 87.9 114.5 88.2 112.9 89.6 111.5 91.5 111.2 93.0 112.3 93.6 114.1 93.1 115.8 92.0 116.4 91.2 115.7 91.3 114.2 92.5 112.7 94.3 112.2 96.0 113.0 96.8 114.7 96.5 116.5 95.5 117.4 94.5 116.9 94.4 115.5 95.4 113.9 97.1 113.1 98.9 113.7 99.9 115.3 99.8 117.1 98.9 118.3" stroke="#6a6a6a" stroke-width="0.9"/>
<path d="M88.2 116.4 90.5 118.3 92.4 120.7 94.9 122.2" stroke="#b0b0b0" stroke-width="0.6"/>
<path d="M85.9 113.1 88.7 111.9 90.1 109.3 91.7 106.7 94.1 105.0 97.1 105.1" stroke="#b9b9b9" stroke-width="0.5"/>
<path d="M94.9 111.3 93.8 114.1 95.0 116.8" stroke="#d3d3d3" stroke-width="0.5"/>
<path d="M90.6 116.2 88.1 114.5 85.2 114.8 83.5 117.3" stroke="#b9b9b9" stroke-width="0.6"/>
<path d="M101.0 116.6 98.0 116.1 96.1 113.8 95.7 110.8 95.5 107.8 94.7 105.0 94.0 102.0" stroke="#bbbbbb" stroke-width="0.5"/>
<path d="M98.7 111.3 105.6 107.3" stroke="#818181" stroke-width="0.9"/>
<path d="M99.5 112.7 108.4 107.5" stroke="#818181" stroke-width="0.9"/>
<path d="M100.3 114.1 107.6 109.8" stroke="#818181" stroke-width="0.9"/>
<path d="M109.1 110.8 109.3 111.3 108.9 111.9 108.0 112.3 106.8 112.4 105.7 112.0 104.8 111.2 104.4 110.0 104.6 108.8 105.2 107.8 106.0 107.2 106.7 107.1 107.0 107.4 106.9 107.9 106.2 108.5 105.1 108.7 103.9 108.5 102.9 107.8 102.3 106.8 102.2 105.5 102.7 104.4 103.4 103.6 104.2 103.3 104.7 103.5 104.8 104.0" stroke="#797979" stroke-width="1.0"/>
<path d="M112.2 114.0 112.7 111.1 115.1 109.3 118.1 109.0 120.7 110.4 121.2 113.3 120.8 116.3" stroke="#aeaeae" stroke-width="0.6"/>
<path d="M112.3 117.4 111.8 116.6 111.8 115.3 112.6 114.0 114.0 113.3 115.5 113.6 116.6 114.7 116.9 116.1 116.6 117.1 115.8 117.2 115.3 116.3 115.4 114.9 116.4 113.7 117.8 113.1 119.3 113.5 120.3 114.7 120.5 116.1 120.1 117.0 119.4 117.0 118.9 116.0 119.1 114.6 120.2 113.4 121.6 113.0 123.1 113.5 124.0 114.8 124.1 116.1 123.6 116.9 122.9 116.7 122.5 115.7 122.9 114.2 124.0 113.1" stroke="#878787" stroke-width="1.0"/>
<path d="M107.5 114.0 106.5 113.5 106.2 112.8 106.8 112.2 108.0 112.1 109.3 112.8 110.1 114.0 110.3 115.4 109.6 116.7 108.3 117.5 106.9 117.6 105.9 117.1 105.6 116.4 106.1 115.8 107.3 115.7 108.6 116.3 109.5 117.5 109.6 118.9 109.0 120.2 107.7 121.0" stroke="#8f8f8f" stroke-width="0.9"/>
<path d="M116.4 111.1 115.6 108.3 115.2 105.3 114.1 102.5 113.6 99.5" stroke="#a8a8a8" stroke-width="0.6"/>
<path d="M118.3 112.5 119.7 113.0 120.5 114.0 120.4 114.8 119.7 114.9 118.9 114.3 118.3 112.9 118.6 111.4 119.6 110.4 121.1 110.1 122.5 110.6 123.2 111.6 123.2 112.4 122.5 112.5 121.6 111.9 121.1 110.5 121.3 109.0 122.3 108.0 123.8 107.7 125.2 108.2 126.0 109.1 125.9 110.0 125.2 110.1 124.3 109.4 123.8 108.1 124.0 106.6 125.1 105.6 126.5 105.3 127.9 105.8 128.7 106.7 128.7 107.5 128.0 107.7 127.1 107.0" stroke="#7c7c7c" stroke-width="1.1"/>
<path d="M120.0 115.2 123.8 107.9" stroke="#858585" stroke-width="0.9"/>
<path d="M121.5 116.0 124.3 110.4" stroke="#858585" stroke-width="0.9"/>
<path d="M122.9 116.7 127.8 107.0" stroke="#858585" stroke-width="0.9"/>
<path d="M27.3 117.0 27.7 118.6 27.4 120.0 26.5 120.4 25.7 119.8 25.4 118.3 26.0 116.7 27.3 115.6 29.1 115.4 30.6 116.3 31.4 117.8 31.4 119.3 30.7 120.2 29.8 120.1 29.3 119.0 29.4 117.3 30.5 115.9 32.1 115.2 33.8 115.7 35.0 117.0 35.3 118.6 34.9 119.8 34.0 120.2 33.3 119.5 33.1 118.0 33.7 116.4 35.1 115.3 36.8 115.2 38.3 116.2 39.1 117.8 39.0 119.3" stroke="#787878" stroke-width="0.8"/>
<path d="M24.4 117.8 27.2 118.6 30.2 118.4 33.2 118.5 35.7 116.9 38.1 115.0 40.9 115.8" stroke="#bbbbbb" stroke-width="0.4"/>
<path d="M26.6 122.6 36.6 119.4" stroke="#8a8a8a" stroke-width="0.9"/>
<path d="M27.1 124.1 33.7 122.0" stroke="#8a8a8a" stroke-width="0.9"/>
<path d="M27.6 125.7 37.2 122.6" stroke="#8a8a8a" stroke-width="0.9"/>
<path d="M33.9 123.2 32.4 123.5 31.2 123.1 30.8 122.4 31.2 121.6 32.4 121.3 33.9 121.7 35.1 122.8 35.6 124.4 35.1 125.9 33.9 127.0 32.4 127.3 31.1 127.0 30.6 126.3 31.0 125.5 32.1 125.2 33.6 125.5 34.8 126.5 35.4 128.0 35.0 129.6 33.9 130.7 32.4 131.2 31.1 130.9" stroke="#959595" stroke-width="0.8"/>
<path d="M37.0 119.3 35.3 110.3" stroke="#707070" stroke-width="0.9"/>
<path d="M38.5 119.0 36.7 109.2" stroke="#707070" stroke-width="0.9"/>
<path d="M40.1 118.7 38.6 110.7" stroke="#707070" stroke-width="0.9"/>
<path d="M36.5 118.7 37.7 118.7 38.8 119.4 39.3 120.6 39.1 121.9 38.3 122.9 37.3 123.2 36.6 123.0 36.6 122.5 37.4 122.0 38.6 122.1 39.7 122.8 40.2 123.9 40.1 125.2 39.2 126.2 38.2 126.6 37.5 126.4 37.5 125.9 38.3 125.4 39.4 125.4 40.6 126.1 41.1 127.2 41.0 128.5 40.2 129.5 39.2 129.9 38.5 129.8" stroke="#646464" stroke-width="1.0"/>
<path d="M49.7 118.3 49.1 119.6 47.9 120.3 46.8 120.3 46.3 119.8 46.7 119.2 47.9 119.0 49.1 119.6 49.9 120.8 49.8 122.2 48.9 123.3 47.7 123.7 46.7 123.5 46.6 122.9 47.4 122.4 48.7 122.5 49.8 123.4 50.3 124.7 49.8 126.1 48.7 126.9 47.5 127.1 46.9 126.6 47.1 126.0 48.1 125.7 49.5 126.1 50.4 127.2 50.5 128.6 49.7 129.8" stroke="#787878" stroke-width="0.9"/>
<path d="M45.7 117.5 45.1 118.2 43.8 118.5 42.2 118.1 41.0 116.9 40.6 115.4 41.1 113.8 42.3 112.7 43.8 112.3 45.0 112.6 45.4 113.3 44.9 114.1 43.7 114.5 42.2 114.1 40.9 113.1 40.4 111.6 40.7 110.0 41.8 108.8 43.3 108.3 44.6 108.5 45.1 109.2 44.8 110.0 43.7 110.4 42.2 110.2 40.8 109.3" stroke="#646464" stroke-width="1.1"/>
<path d="M45.3 119.1 46.4 120.2 46.8 121.8 46.4 123.2 45.6 123.9 44.8 123.6 44.5 122.5 45.1 121.1 46.4 120.0 47.9 119.9 49.3 120.7 50.0 122.1 49.9 123.7 49.2 124.7 48.3 124.8 47.8 123.9 48.0 122.6 49.1 121.3" stroke="#898989" stroke-width="1.0"/>
<path d="M51.8 119.8 53.0 118.9 54.5 118.6 56.0 119.2 56.9 120.4 57.1 122.0 56.6 123.3 55.8 124.0 55.0 123.8 54.7 122.9 55.2 121.6 56.3 120.5 57.8 120.1 59.3 120.5 60.3 121.6 60.7 123.1 60.4 124.5 59.6 125.4 58.8 125.4 58.4 124.6 58.6 123.4 59.6 122.3 61.0 121.6 62.5 121.8" stroke="#7e7e7e" stroke-width="1.0"/>
<path d="M49.5 118.9 49.0 115.9 46.9 113.8" stroke="#d0d0d0" stroke-width="0.5"/>
<path d="M55.8 119.6 56.1 121.0 55.7 122.2 55.1 122.7 54.4 122.4 54.2 121.5 54.6 120.3 55.6 119.2 57.0 118.7 58.5 119.0 59.6 120.0 60.1 121.4 59.9 122.7 59.3 123.5 58.6 123.5 58.2 122.8 58.4 121.6 59.2 120.5 60.5 119.7 61.9 119.7 63.2 120.5 64.0 121.8 64.1 123.1 63.6 124.2 62.9 124.5 62.3 124.1 62.3 123.0 62.8 121.8 63.9 120.8 65.4 120.5 66.8 121.0" stroke="#707070" stroke-width="0.9"/>
<path d="M63.5 123.2 62.6 123.4 61.9 122.5 62.0 120.9 63.0 119.4 64.6 118.7 66.3 119.2 67.4 120.7 67.6 122.4 66.9 123.5 66.0 123.5 65.4 122.4 65.6 120.7 66.8 119.3 68.5 118.9 70.2 119.6 71.1 121.2 71.1 122.9 70.3 123.8 69.4 123.5 68.9 122.3 69.4 120.6 70.7 119.4 72.4 119.1 74.0 120.1 74.7 121.7 74.5 123.3 73.7 124.0 72.8 123.6 72.5 122.1 73.1 120.5 74.6 119.4 76.3 119.4 77.7 120.6 78.3 122.3" stroke="#8b8b8b" stroke-width="1.0"/>
<path d="M62.3 116.0 62.8 117.0 62.8 118.1 62.4 119.1 61.6 119.8 60.8 120.2 60.1 120.2 59.8 119.9 60.0 119.5 60.7 119.3 61.6 119.4 62.5 119.9 63.2 120.8 63.4 121.9 63.2 122.9 62.6 123.8 61.7 124.3 60.9 124.5 60.4 124.3 60.4 123.9 60.9 123.6 61.7 123.6" stroke="#696969" stroke-width="0.9"/>
<path d="M68.6 117.6 63.8 121.9" stroke="#989898" stroke-width="0.9"/>
<path d="M67.6 116.4 60.0 123.1" stroke="#989898" stroke-width="0.9"/>
<path d="M66.5 115.2 60.0 120.9" stroke="#989898" stroke-width="0.9"/>
<path d="M70.4 122.0 69.7 121.8 69.5 121.4 69.7 121.1 70.3 121.1 71.1 121.4 71.8 122.2 72.1 123.2 72.0 124.3 71.4 125.2 70.5 125.8 69.5 125.9 68.7 125.7 68.4 125.4 68.5 125.0 69.0 124.9 69.7 125.2 70.5 125.9 70.9 126.8 71.0 127.9" stroke="#656565" stroke-width="0.9"/>
<path d="M74.2 119.3 74.8 112.6" stroke="#909090" stroke-width="0.9"/>
<path d="M75.8 119.4 76.8 109.0" stroke="#909090" stroke-width="0.9"/>
<path d="M77.4 119.6 78.0 113.1" stroke="#909090" stroke-width="0.9"/>
<path d="M74.1 118.1 73.6 121.0 75.1 123.6 76.6 126.2" stroke="#c7c7c7" stroke-width="0.4"/>
<path d="M74.5 120.4 74.5 123.4 72.0 125.2" stroke="#b5b5b5" stroke-width="0.4"/>
<path d="M85.2 119.9 85.0 121.5 83.9 122.6 82.4 122.9 81.2 122.5 81.1 121.7 81.9 121.1 83.3 121.3 84.6 122.3 85.1 123.8 84.5 125.3 83.1 126.1 81.7 126.2 80.9 125.5 81.1 124.8 82.2 124.4 83.6 124.9 84.7 126.1 84.8 127.7 83.9 129.0 82.4 129.6 81.1 129.3 80.6 128.6" stroke="#6a6a6a" stroke-width="0.9"/>
<path d="M79.6 119.8 82.1 118.1 83.8 115.6 86.7 114.8 89.0 116.7 88.9 119.7" stroke="#aeaeae" stroke-width="0.4"/>
<path d="M81.7 116.5 82.8 115.9 84.0 115.9 85.0 116.4 85.8 117.3 86.1 118.2 85.9 118.9 85.5 119.1 85.1 118.7 85.0 117.8 85.3 116.7 86.0 115.8 87.1 115.3 88.3 115.3 89.3 115.9 90.0 116.8 90.3 117.7 90.1 118.3 89.6 118.4 89.3 118.0 89.2 117.1 89.5 116.0 90.3 115.1 91.4 114.6 92.6 114.7 93.6 115.4 94.3 116.3 94.4 117.2" stroke="#828282" stroke-width="0.8"/>
<path d="M83.9 116.6 85.3 116.4 86.6 117.0 87.4 118.1 87.5 119.1 87.0 119.6 86.3 119.4 85.9 118.3 85.9 117.0 86.7 115.8 88.0 115.2 89.4 115.4 90.5 116.3 90.9 117.4 90.7 118.3 90.1 118.4 89.5 117.7 89.2 116.5 89.6 115.1 90.7 114.2 92.1 114.0 93.4 114.6" stroke="#969696" stroke-width="0.9"/>
<path d="M84.5 116.5 85.4 115.7 86.2 115.7 86.4 116.3 85.8 117.0 84.6 117.5 83.2 117.2 82.2 116.3 81.8 114.9 82.3 113.6 83.2 112.8 84.0 112.7 84.3 113.2 83.8 114.0 82.7 114.5 81.3 114.3 80.1 113.4 79.7 112.1 80.1 110.7 81.0 109.8 81.9 109.7 82.2 110.1 81.8 110.9 80.7 111.4 79.3 111.4 78.1 110.6 77.6 109.2" stroke="#6d6d6d" stroke-width="1.1"/>
<path d="M86.2 119.0 85.8 118.6 86.2 118.1 87.1 118.0 88.3 118.4 89.1 119.4 89.4 120.6 88.8 121.9 87.8 122.6 86.7 122.8 86.1 122.5 86.2 122.0 86.9 121.7 88.1 121.9 89.1 122.7 89.6 123.9 89.3 125.2 88.4 126.2 87.3 126.6 86.5 126.4 86.3 125.9 86.8 125.5 87.9 125.5 89.0 126.1 89.7 127.2 89.7 128.5 89.0 129.6 87.9 130.2 86.9 130.2 86.5 129.8 86.8 129.3 87.7 129.2 88.8 129.5 89.7 130.5" stroke="#797979" stroke-width="1.1"/>
<path d="M95.1 119.2 95.0 116.2 95.6 113.3 93.7 110.9" stroke="#afafaf" stroke-width="0.5"/>
<path d="M97.6 121.9 100.6 122.3 103.3 123.6 106.0 122.2 108.5 120.5 111.0 118.9" stroke="#a3a3a3" stroke-width="0.4"/>
<path d="M97.3 123.0 94.9 121.2 94.8 118.2 95.5 115.3 95.4 112.3 95.2 109.3" stroke="#b9b9b9" stroke-width="0.4"/>
<path d="M104.7 120.8 101.7 120.7 98.8 119.8 96.0 118.8" stroke="#bcbcbc" stroke-width="0.5"/>
<path d="M119.0 118.4 116.2 117.1 114.5 114.7 112.2 112.8 110.5 110.3 107.8 109.0 106.5 106.3" stroke="#adadad" stroke-width="0.5"/>
<path d="M116.7 117.7 114.1 119.1 111.3 117.9 109.6 115.5 110.2 112.5" stroke="#b7b7b7" stroke-width="0.6"/>
<path d="M28.3 130.2 27.2 130.3 26.5 129.9 26.7 129.3 27.6 128.8 28.9 129.0 30.1 129.7 30.6 131.0 30.4 132.4 29.4 133.4 28.3 133.8 27.4 133.6 27.3 133.0 28.0 132.4 29.2 132.3 30.5 132.8 31.3 134.0 31.3 135.3 30.6 136.5 29.5 137.2" stroke="#858585" stroke-width="0.7"/>
<path d="M29.6 125.0 36.8 133.0" stroke="#8d8d8d" stroke-width="0.9"/>
<path d="M28.4 126.0 32.9 131.0" stroke="#8d8d8d" stroke-width="0.9"/>
<path d="M27.2 127.1 31.9 132.4" stroke="#8d8d8d" stroke-width="0.9"/>
<path d="M31.1 127.1 32.0 126.4 33.6 126.5 35.0 127.5 35.5 129.1 34.8 130.7 33.3 131.5 31.9 131.4 31.3 130.7 31.9 129.9 33.4 129.7 34.9 130.5 35.7 132.0 35.3 133.7 33.9 134.8 32.4 134.9 31.6 134.3 31.9 133.4 33.2 133.0 34.8 133.6 35.8 135.0 35.7 136.7 34.5 137.9 33.0 138.3 31.9 137.8 31.9 137.0 33.1 136.4 34.7 136.7 35.9 138.0 36.1 139.6 35.1 141.1 33.6 141.7 32.3 141.4" stroke="#6a6a6a" stroke-width="0.8"/>
<path d="M34.5 124.2 31.5 124.2 28.6 124.8 27.5 127.6 27.0 130.6" stroke="#cccccc" stroke-width="0.4"/>
<path d="M33.8 129.1 32.5 129.3 31.2 128.6 30.4 127.5 30.2 126.3 30.6 125.4 31.2 125.2 31.7 125.7 31.8 126.9 31.3 128.1 30.2 129.0 28.9 129.2 27.6 128.7 26.7 127.6 26.4 126.4 26.7 125.4 27.3 125.1 27.9 125.6 28.0 126.6 27.6 127.9" stroke="#747474" stroke-width="0.7"/>
<path d="M37.1 124.9 35.8 114.8" stroke="#696969" stroke-width="0.9"/>
<path d="M38.7 124.7 37.4 114.8" stroke="#696969" stroke-width="0.9"/>
<path d="M40.3 124.5 38.9 114.1" stroke="#696969" stroke-width="0.9"/>
<path d="M42.9 128.8 42.3 130.1 41.2 131.0 39.9 131.3 38.6 131.2 37.7 130.7 37.4 130.0 37.7 129.4 38.5 129.2 39.6 129.4 40.6 130.2 41.4 131.4 41.6 132.7 41.1 134.0 40.2 135.0 38.9 135.5 37.6 135.5 36.5 135.0 36.1 134.4 36.2 133.7" stroke="#7a7a7a" stroke-width="0.9"/>
<path d="M37.6 123.6 38.8 124.0 39.8 124.8 40.3 125.8 40.3 126.6 39.9 127.0 39.4 126.8 39.0 126.0 38.9 124.9 39.4 123.7 40.3 122.8 41.6 122.5 42.8 122.8 43.8 123.5 44.4 124.5 44.4 125.4 44.1 125.9 43.6 125.7 43.1 125.0 43.0 123.9 43.4 122.8 44.3 121.8 45.5 121.4 46.7 121.6 47.8 122.3" stroke="#767676" stroke-width="1.0"/>
<path d="M46.0 124.1 50.9 133.6" stroke="#777777" stroke-width="0.9"/>
<path d="M44.5 124.8 49.6 134.5" stroke="#777777" stroke-width="0.9"/>
<path d="M43.1 125.6 48.1 135.2" stroke="#777777" stroke-width="0.9"/>
<path d="M51.9 127.1 46.9 133.9" stroke="#747474" stroke-width="0.9"/>
<path d="M50.6 126.1 45.6 132.9" stroke="#747474" stroke-width="0.9"/>
<path d="M49.3 125.2 43.1 133.7" stroke="#747474" stroke-width="0.9"/>
<path d="M48.0 126.2 50.5 127.9 52.9 129.6 55.8 130.3 58.7 131.3 61.2 133.0 64.1 133.3" stroke="#bfbfbf" stroke-width="0.5"/>
<path d="M54.0 125.3 55.0 125.9 55.7 126.8 55.9 127.8 55.6 128.4 55.1 128.5 54.8 128.0 54.8 127.0 55.3 126.0 56.2 125.3 57.4 125.1 58.5 125.5 59.3 126.4 59.6 127.4 59.4 128.2 59.0 128.4 58.6 128.0 58.5 127.1 58.8 126.1" stroke="#6a6a6a" stroke-width="0.8"/>
<path d="M59.7 126.7 62.7 126.3 65.6 126.8 68.5 127.7 71.0 126.0 72.0 123.2" stroke="#c8c8c8" stroke-width="0.5"/>
<path d="M57.4 124.1 54.5 124.9 52.7 127.3 51.2 129.9 50.2 132.7" stroke="#c2c2c2" stroke-width="0.4"/>
<path d="M55.7 125.5 45.1 125.6" stroke="#888888" stroke-width="0.9"/>
<path d="M55.7 123.9 46.6 124.0" stroke="#888888" stroke-width="0.9"/>
<path d="M55.7 122.3 46.3 122.4" stroke="#888888" stroke-width="0.9"/>
<path d="M63.7 128.6 63.5 125.6 63.0 122.6 64.8 120.2 66.4 117.6 67.2 114.8 65.9 112.0" stroke="#b8b8b8" stroke-width="0.5"/>
<path d="M62.6 127.1 62.4 126.7 62.8 126.4 63.6 126.3 64.6 126.6 65.5 127.4 66.0 128.5 65.9 129.8 65.3 130.8 64.4 131.5 63.4 131.7 62.7 131.5 62.6 131.1 63.0 130.8 63.9 130.7 64.9 131.1 65.8 132.0 66.2 133.1 66.1 134.3 65.4 135.3 64.4 136.0 63.5 136.1 62.9 135.9 62.8 135.5 63.3 135.2 64.2 135.2 65.2 135.6 66.0 136.5 66.4 137.7 66.2 138.9 65.5 139.9" stroke="#818181" stroke-width="1.0"/>
<path d="M69.3 125.7 69.1 127.1 68.2 128.3 66.9 128.9 65.8 128.8 65.1 128.3 65.2 127.6 66.1 127.1 67.4 127.1 68.7 127.8 69.5 129.0 69.5 130.5 68.8 131.7 67.6 132.5 66.3 132.6 65.5 132.2 65.4 131.4 66.1 130.9" stroke="#696969" stroke-width="1.0"/>
<path d="M68.2 123.9 69.9 124.0 71.2 125.1 71.9 126.7 71.7 128.3 70.9 129.2 70.0 129.1 69.5 128.0 69.8 126.5 70.8 125.1 72.5 124.4 74.1 124.8 75.4 126.0 75.8 127.7 75.5 129.2 74.6 129.9 73.8 129.5 73.4 128.3 73.9 126.8 75.1 125.5 76.8 125.0 78.4 125.6 79.5 127.0 79.7 128.7 79.2 130.0 78.3 130.5 77.6 129.9 77.4 128.6 78.0 127.0 79.4 125.9 81.1 125.7" stroke="#686868" stroke-width="0.8"/>
<path d="M72.4 128.8 70.9 128.8 69.8 128.4 69.2 127.6 69.3 127.0 70.1 126.7 71.2 127.0 72.2 128.0 72.8 129.4 72.6 130.8 71.8 132.1 70.5 132.8 69.1 132.8 67.9 132.4 67.3 131.6 67.4 131.0 68.2 130.7 69.2 131.0 70.3 132.0 70.9 133.3 70.8 134.8 70.0 136.0 68.7 136.7 67.2 136.8 66.0 136.4 65.4 135.7 65.5 135.0 66.3 134.7 67.3 135.0 68.4 135.9" stroke="#959595" stroke-width="1.0"/>
<path d="M77.8 124.1 84.2 129.7" stroke="#8b8b8b" stroke-width="0.9"/>
<path d="M76.7 125.3 81.4 129.4" stroke="#8b8b8b" stroke-width="0.9"/>
<path d="M75.7 126.5 81.4 131.5" stroke="#8b8b8b" stroke-width="0.9"/>
<path d="M71.2 124.1 71.3 123.0 72.0 122.6 73.0 123.1 73.7 124.4 73.7 126.1 72.8 127.5 71.4 128.2 69.7 128.0 68.4 127.0 67.8 125.7 68.1 124.7 68.9 124.5 69.9 125.2 70.4 126.6 70.2 128.3 69.2 129.6 67.6 130.1 66.0 129.7 64.8 128.5 64.5 127.3 64.9 126.4 65.8 126.4" stroke="#727272" stroke-width="1.1"/>
<path d="M82.8 128.9 80.2 127.5 78.9 124.8 76.9 122.5 74.1 121.5" stroke="#bfbfbf" stroke-width="0.5"/>
<path d="M79.5 124.9 76.6 123.9 73.6 123.9 70.8 122.8" stroke="#b9b9b9" stroke-width="0.5"/>
<path d="M86.4 124.4 82.3 132.8" stroke="#6b6b6b" stroke-width="0.9"/>
<path d="M84.9 123.7 80.3 133.3" stroke="#6b6b6b" stroke-width="0.9"/>
<path d="M83.5 123.0 78.9 132.5" stroke="#6b6b6b" stroke-width="0.9"/>
<path d="M85.8 125.8 85.2 126.5 84.5 126.5 84.0 125.8 84.1 124.7 84.6 123.4 85.7 122.5 87.1 122.1 88.5 122.4 89.6 123.4 90.2 124.7 90.2 126.0 89.7 127.0 89.0 127.3 88.5 126.9 88.2 126.0 88.5 124.7 89.4 123.6 90.6 122.9" stroke="#7e7e7e" stroke-width="0.8"/>
<path d="M91.2 126.9 88.3 126.2 85.7 127.7 83.6 129.8 81.3 131.7" stroke="#b8b8b8" stroke-width="0.6"/>
<path d="M90.3 126.2 91.4 126.2 92.5 126.8 93.3 127.9 93.3 129.3 92.6 130.5 91.5 131.2 90.3 131.2 89.6 130.8 89.5 130.3 90.2 129.9 91.3 130.1 92.4 130.9 93.0 132.1 92.8 133.5 92.0 134.5 90.8 135.0 89.7 134.9 89.1 134.5 89.3 133.9 90.2 133.7 91.3 134.1 92.3 135.0 92.7 136.3 92.3 137.6" stroke="#959595" stroke-width="0.9"/>
<path d="M100.1 125.5 100.5 126.8 100.1 128.2 99.1 129.2 97.8 129.5 96.7 129.3 96.2 128.7 96.5 128.1 97.5 128.0 98.7 128.6 99.6 129.6 99.8 131.0 99.2 132.3 98.1 133.1 96.8 133.3 95.8 132.9 95.6 132.3 96.1 131.9 97.1 131.9 98.3 132.6 99.0 133.8 99.0 135.2 98.3 136.4 97.1 137.0 95.8 137.1 95.0 136.6 95.0 136.0 95.6 135.6 96.8 135.8 97.8 136.7 98.4 138.0 98.2 139.3" stroke="#6d6d6d" stroke-width="0.9"/>
<path d="M104.6 127.3 105.2 127.1 106.1 127.5 107.0 128.3 107.4 129.5 107.1 130.8 106.3 131.7 105.1 132.2 104.0 132.1 103.4 131.6 103.4 131.1 104.0 131.0 105.0 131.3 105.8 132.1 106.3 133.3 106.0 134.5 105.2 135.5 104.1 136.0 103.0 135.9 102.3 135.5 102.3 135.0 102.9 134.8 103.8 135.1 104.7 135.9 105.1 137.1 104.9 138.3 104.1 139.3 103.0 139.8 101.9 139.7 101.2 139.3 101.2 138.8" stroke="#8f8f8f" stroke-width="0.9"/>
<path d="M109.9 124.6 107.1 123.6 105.1 121.4 102.4 120.1" stroke="#a8a8a8" stroke-width="0.6"/>
<path d="M117.3 126.1 117.0 127.6 116.2 128.5 115.4 128.4 115.0 127.4 115.4 126.1 116.6 124.9 118.2 124.4 119.7 124.9 120.8 126.2 121.1 127.8 120.6 129.2 119.7 129.8 119.0 129.5 118.8 128.4 119.4 127.0 120.7 126.0 122.4 125.7 123.9 126.5 124.7 127.9 124.8 129.5 124.2 130.7 123.3 131.1 122.7 130.5 122.7 129.3 123.5 127.9 124.9 127.1 126.6 127.1 127.9 128.1 128.6 129.6 128.5 131.2 127.7 132.2 126.9 132.3 126.4 131.5" stroke="#8a8a8a" stroke-width="0.9"/>
<path d="M115.5 128.9 118.1 127.4 120.9 128.6 123.8 129.2" stroke="#ababab" stroke-width="0.5"/>
<path d="M18.3 136.4 17.9 136.3 17.7 135.8 17.9 135.1 18.5 134.2 19.4 133.7 20.5 133.5 21.6 133.9 22.3 134.7 22.7 135.7 22.7 136.6 22.4 137.2 22.0 137.3 21.8 137.0 21.8 136.3 22.3 135.5 23.1 134.8 24.2 134.5 25.2 134.7" stroke="#727272" stroke-width="0.8"/>
<path d="M30.0 130.4 30.8 131.5 31.0 133.0 30.3 134.3 29.0 135.0 27.5 134.9 26.5 134.2 26.2 133.3 26.7 132.9 27.6 133.2 28.5 134.2 28.7 135.7 28.2 137.1 26.9 137.8 25.4 137.8 24.3 137.1 23.9 136.2 24.3 135.7 25.3 136.0 26.2 137.0 26.5 138.4 26.0 139.8 24.8 140.6 23.3 140.6 22.1 140.0 21.6 139.2 22.0 138.6 22.9 138.7 23.8 139.7 24.2 141.1" stroke="#858585" stroke-width="1.0"/>
<path d="M28.6 130.6 26.9 133.1 24.8 135.2 23.1 137.7" stroke="#c9c9c9" stroke-width="0.5"/>
<path d="M24.6 131.1 27.5 132.0 30.0 130.4 33.0 130.2 34.8 127.8 36.0 125.1" stroke="#c3c3c3" stroke-width="0.5"/>
<path d="M30.0 133.2 31.1 133.4 32.1 134.0 32.6 135.1 32.7 136.2 32.3 137.2 31.7 137.8 31.1 137.9 30.9 137.6 31.2 137.1 32.0 136.6 33.1 136.4 34.2 136.7 35.1 137.5 35.5 138.6 35.4 139.8 34.9 140.7 34.3 141.1 33.8 141.1 33.7 140.7 34.2 140.1 35.1 139.7 36.2 139.7 37.3 140.1 38.1 141.0 38.3 142.2" stroke="#8e8e8e" stroke-width="0.8"/>
<path d="M36.7 130.3 36.1 131.4 34.7 132.1 33.1 132.0 32.0 130.9 31.7 129.3 32.3 127.9 33.2 127.4 33.8 127.8 33.7 128.8 32.7 129.9 31.1 130.3 29.6 129.7 28.8 128.4 29.0 126.8 29.7 125.7 30.6 125.5 31.0 126.3 30.5 127.4 29.2 128.3 27.6 128.3 26.3 127.3 25.9 125.8 26.3 124.3 27.2 123.6 27.9 123.9 28.0 124.8 27.1 126.0 25.6 126.5" stroke="#909090" stroke-width="1.0"/>
<path d="M41.9 134.7 41.9 135.5 41.6 135.9 41.0 135.5 40.7 134.7 40.8 133.5 41.4 132.5 42.4 131.8 43.6 131.8 44.7 132.3 45.4 133.2 45.6 134.1 45.3 134.6 44.8 134.4 44.4 133.7 44.3 132.6 44.8 131.5 45.7 130.7 46.9 130.4 48.1 130.8 48.9 131.6 49.3 132.6 49.1 133.2" stroke="#7b7b7b" stroke-width="0.7"/>
<path d="M37.7 132.4 34.8 131.7 31.8 132.0 29.3 130.4 26.4 131.4 23.4 131.4 20.7 132.7" stroke="#c6c6c6" stroke-width="0.4"/>
<path d="M45.3 132.6 44.1 132.1 43.7 131.4 44.0 130.7 45.0 130.4 46.3 130.8 47.5 131.9 48.1 133.3 47.9 134.8 46.9 136.0 45.5 136.7 44.0 136.6 43.0 136.1 42.6 135.3 43.1 134.6 44.2 134.5 45.5 135.0 46.6 136.1 47.1 137.5 46.8 139.0 45.7 140.2 44.3 140.7 42.8 140.6" stroke="#969696" stroke-width="1.0"/>
<path d="M42.8 134.5 42.1 134.3 41.8 133.4 42.1 132.1 43.0 131.0 44.4 130.2 45.9 130.2 47.2 131.0 48.0 132.2 48.2 133.7 47.8 135.0 47.1 135.7 46.3 135.8 45.8 135.1 45.9 133.9 46.5 132.7 47.7 131.7 49.2 131.4 50.6 131.9" stroke="#959595" stroke-width="0.9"/>
<path d="M59.3 132.9 59.3 134.2 58.6 135.4 57.4 136.1 56.1 136.2 55.1 135.8 54.7 135.1 54.9 134.6 55.8 134.4 56.9 134.8 57.9 135.7 58.3 137.0 58.1 138.3 57.2 139.4 55.9 139.9 54.7 139.8 53.8 139.3 53.6 138.7 54.1 138.2 55.0 138.2 56.1 138.8" stroke="#8f8f8f" stroke-width="1.1"/>
<path d="M54.7 132.5 53.4 132.3 52.4 131.4 51.9 130.2 52.0 129.0 52.5 128.3 53.1 128.2 53.4 128.8 53.2 129.9 52.4 130.9 51.2 131.4 49.8 131.3 48.7 130.6 48.2 129.3 48.2 128.1 48.6 127.3 49.2 127.1 49.6 127.7 49.5 128.6 48.8 129.7 47.6 130.3 46.2 130.4 45.1 129.7 44.4 128.5" stroke="#919191" stroke-width="1.0"/>
<path d="M59.5 133.4 59.0 133.0 59.1 132.3 60.1 131.9 61.4 131.9 62.6 132.6 63.4 133.8 63.4 135.3 62.7 136.5 61.6 137.3 60.5 137.4 59.9 136.9 60.2 136.3 61.1 135.8 62.4 135.9 63.7 136.6 64.4 137.9 64.4 139.3 63.6 140.5 62.5 141.3 61.4 141.3 60.9 140.9 61.2 140.2 62.1 139.8 63.5 139.9 64.7 140.7 65.4 141.9 65.3 143.3 64.6 144.6 63.4 145.2 62.4 145.3 61.9 144.8 62.2 144.2 63.2 143.8 64.5 143.9" stroke="#939393" stroke-width="1.0"/>
<path d="M61.3 131.9 58.7 133.4 55.7 133.7 54.3 136.3 53.3 139.2 52.3 142.0 50.1 143.9" stroke="#acacac" stroke-width="0.5"/>
<path d="M67.4 129.3 77.4 125.4" stroke="#777777" stroke-width="0.9"/>
<path d="M68.0 130.8 73.9 128.5" stroke="#777777" stroke-width="0.9"/>
<path d="M68.5 132.2 74.6 130.0" stroke="#777777" stroke-width="0.9"/>
<path d="M77.3 133.4 76.5 136.3 73.8 137.4 70.8 137.7 68.3 139.4 65.8 141.1" stroke="#c9c9c9" stroke-width="0.5"/>
<path d="M72.8 131.5 75.5 121.2" stroke="#929292" stroke-width="0.9"/>
<path d="M74.4 131.9 76.9 122.2" stroke="#929292" stroke-width="0.9"/>
<path d="M75.9 132.3 77.5 126.4" stroke="#929292" stroke-width="0.9"/>
<path d="M80.2 132.5 82.2 142.3" stroke="#838383" stroke-width="0.9"/>
<path d="M78.6 132.9 80.2 140.7" stroke="#838383" stroke-width="0.9"/>
<path d="M77.0 133.2 78.6 140.6" stroke="#838383" stroke-width="0.9"/>
<path d="M87.7 133.9 87.4 136.9 89.1 139.4" stroke="#a1a1a1" stroke-width="0.5"/>
<path d="M90.8 131.1 91.6 132.0 92.0 132.9 91.9 133.7 91.4 133.8 90.9 133.4 90.8 132.4 91.0 131.3 91.8 130.3 93.0 129.8 94.2 130.0 95.2 130.7 95.8 131.7 95.8 132.5 95.5 133.0 95.0 132.8 94.6 132.0 94.7 130.9 95.3 129.8 96.3 129.1 97.6 129.0 98.7 129.5" stroke="#646464" stroke-width="1.1"/>
<path d="M89.2 136.0 87.8 136.2 86.7 135.8 86.6 135.0 87.5 134.5 88.9 134.8 90.1 135.9 90.4 137.4 89.7 138.8 88.3 139.5 86.9 139.4 86.3 138.7 86.6 138.0 87.8 137.8 89.2 138.5 90.0 139.8 89.9 141.4 88.8 142.5 87.3 142.9 86.2 142.5 86.0 141.7 86.8 141.2 88.2 141.3 89.4 142.3 89.8 143.8 89.2 145.3 87.9 146.1" stroke="#7e7e7e" stroke-width="0.8"/>
<path d="M90.4 134.9 97.2 139.3" stroke="#888888" stroke-width="0.9"/>
<path d="M89.5 136.2 94.8 139.7" stroke="#888888" stroke-width="0.9"/>
<path d="M88.6 137.6 97.6 143.4" stroke="#888888" stroke-width="0.9"/>
<path d="M93.2 132.6 98.8 128.1" stroke="#8e8e8e" stroke-width="0.9"/>
<path d="M94.2 133.8 99.8 129.4" stroke="#8e8e8e" stroke-width="0.9"/>
<path d="M95.2 135.1 100.9 130.5" stroke="#8e8e8e" stroke-width="0.9"/>
<path d="M97.4 131.9 101.2 137.9" stroke="#8d8d8d" stroke-width="0.9"/>
<path d="M96.0 132.8 100.7 140.0" stroke="#8d8d8d" stroke-width="0.9"/>
<path d="M94.7 133.6 98.4 139.5" stroke="#8d8d8d" stroke-width="0.9"/>
<path d="M108.7 132.4 104.1 142.3" stroke="#919191" stroke-width="0.9"/>
<path d="M107.2 131.7 103.4 140.1" stroke="#919191" stroke-width="0.9"/>
<path d="M105.8 131.0 102.7 137.6" stroke="#919191" stroke-width="0.9"/>
<path d="M112.7 130.9 109.7 130.9 107.0 129.7 104.1 130.5 101.7 128.7" stroke="#d2d2d2" stroke-width="0.6"/>
<path d="M121.7 130.1 120.8 131.3 119.7 131.9 118.7 131.8 118.4 131.2 119.0 130.5 120.2 130.2 121.6 130.5 122.7 131.5 123.0 132.9 122.5 134.3 121.4 135.2 120.3 135.5 119.6 135.1 119.7 134.4 120.6 133.8 121.9 133.8 123.3 134.4 124.0 135.7 123.9 137.1 123.1 138.3 122.0 139.0 121.0 138.9 120.6 138.3" stroke="#868686" stroke-width="1.0"/>
<path d="M122.8 130.1 122.6 131.4 121.7 132.4 120.5 132.8 119.6 132.7 119.4 132.1 119.9 131.7 121.0 131.7 122.1 132.3 122.8 133.4 122.8 134.7 122.0 135.8 120.9 136.4 119.9 136.4 119.5 135.9 119.8 135.4 120.8 135.2 122.0 135.7 122.9 136.7 123.0 138.1 122.4 139.3 121.3 140.0 120.2 140.0 119.6 139.6 119.8 139.1 120.7 138.8 121.9 139.2 122.8 140.1" stroke="#929292" stroke-width="0.9"/>
<path d="M17.7 139.9 20.0 132.7" stroke="#6b6b6b" stroke-width="0.9"/>
<path d="M19.2 140.4 21.1 134.6" stroke="#6b6b6b" stroke-width="0.9"/>
<path d="M20.8 140.9 23.9 131.0" stroke="#6b6b6b" stroke-width="0.9"/>
<path d="M23.8 138.9 16.4 143.4" stroke="#979797" stroke-width="0.9"/>
<path d="M23.0 137.6 16.8 141.3" stroke="#979797" stroke-width="0.9"/>
<path d="M22.1 136.2 14.3 140.9" stroke="#979797" stroke-width="0.9"/>
<path d="M24.9 139.7 23.8 140.3 22.5 140.4 21.5 140.0 21.1 139.4 21.4 138.9 22.2 138.8 23.3 139.1 24.2 140.0 24.8 141.2 24.6 142.5 23.9 143.6 22.7 144.3 21.5 144.4 20.5 144.0 20.1 143.4 20.4 142.9 21.2 142.7 22.2 143.1 23.2 144.0" stroke="#7f7f7f" stroke-width="0.9"/>
<path d="M26.2 140.7 33.4 135.7" stroke="#848484" stroke-width="0.9"/>
<path d="M27.1 142.0 32.5 138.3" stroke="#848484" stroke-width="0.9"/>
<path d="M28.0 143.3 35.0 138.5" stroke="#848484" stroke-width="0.9"/>
<path d="M26.1 138.8 29.1 139.2 32.0 138.7 34.4 140.6 37.3 140.9 39.7 139.1 41.4 136.6" stroke="#d1d1d1" stroke-width="0.5"/>
<path d="M31.5 141.8 31.0 141.5 31.1 141.0 31.8 140.6 32.8 140.5 34.0 140.8 34.9 141.6 35.4 142.7 35.3 144.0 34.7 145.1 33.7 145.7 32.8 145.9 32.3 145.7 32.2 145.2 32.7 144.7 33.7 144.5 34.9 144.8 35.9 145.5 36.5 146.5 36.5 147.8 36.0 148.9 35.1 149.7 34.2 150.0" stroke="#787878" stroke-width="1.0"/>
<path d="M31.8 141.6 30.7 142.4 29.6 142.7 28.8 142.4 28.6 141.9 29.2 141.4 30.2 141.3 31.4 141.8 32.4 142.7 32.7 144.0 32.4 145.3 31.5 146.3 30.4 146.8 29.4 146.8 29.0 146.3 29.2 145.8 30.1 145.5 31.3 145.7 32.4 146.5 33.0 147.7 33.0 149.0 32.3 150.2 31.2 150.9 30.1 151.1 29.4 150.8 29.4 150.2 30.0 149.8 31.1 149.8 32.3 150.3 33.2 151.4 33.4 152.7 33.0 154.0 32.0 154.9 30.9 155.3 30.0 155.2" stroke="#7f7f7f" stroke-width="0.8"/>
<path d="M29.3 138.4 28.8 137.7 28.8 137.1 29.4 136.9 30.2 137.1 31.1 137.9 31.7 139.1 31.7 140.4 31.1 141.5 30.1 142.3 28.8 142.5 27.6 142.2 26.8 141.6 26.6 140.9 27.0 140.5 27.8 140.5 28.7 141.1 29.4 142.1 29.7 143.4" stroke="#757575" stroke-width="1.0"/>
<path d="M39.1 135.6 31.3 139.0" stroke="#646464" stroke-width="0.9"/>
<path d="M38.4 134.2 31.7 137.1" stroke="#646464" stroke-width="0.9"/>
<path d="M37.8 132.7 28.7 136.7" stroke="#646464" stroke-width="0.9"/>
<path d="M38.7 137.4 43.9 141.4" stroke="#838383" stroke-width="0.9"/>
<path d="M37.8 138.7 46.2 145.2" stroke="#838383" stroke-width="0.9"/>
<path d="M36.8 140.0 44.7 146.1" stroke="#838383" stroke-width="0.9"/>
<path d="M47.5 133.7 48.6 133.9 49.3 134.5 49.3 135.1 48.7 135.4 47.7 135.3 46.6 134.6 45.8 133.4 45.7 132.0 46.2 130.8 47.3 129.9 48.6 129.6 49.8 129.8 50.5 130.3 50.5 130.9 49.8 131.3 48.8 131.1 47.7 130.4 47.0 129.3 46.8 127.9 47.4 126.6 48.4 125.8 49.8 125.4 50.9 125.6 51.6 126.2" stroke="#6d6d6d" stroke-width="0.8"/>
<path d="M45.8 138.6 41.2 130.8" stroke="#6f6f6f" stroke-width="0.9"/>
<path d="M47.2 137.8 44.1 132.6" stroke="#6f6f6f" stroke-width="0.9"/>
<path d="M48.6 137.0 43.6 128.5" stroke="#6f6f6f" stroke-width="0.9"/>
<path d="M52.3 137.7 52.8 131.1" stroke="#858585" stroke-width="0.9"/>
<path d="M53.9 137.9 54.6 129.7" stroke="#858585" stroke-width="0.9"/>
<path d="M55.5 138.0 56.2 129.0" stroke="#858585" stroke-width="0.9"/>
<path d="M55.8 135.6 52.8 135.6 50.1 136.8 47.3 135.8" stroke="#a8a8a8" stroke-width="0.6"/>
<path d="M57.7 142.0 57.1 141.6 57.3 140.8 58.4 140.4 59.9 140.7 60.9 141.7 61.2 143.1 60.5 144.4 59.4 145.1 58.4 145.1 58.1 144.4 58.8 143.8 60.1 143.6 61.4 144.2 62.2 145.4 62.0 146.9 61.1 148.0 59.9 148.4 59.2 148.0 59.3 147.3 60.3 146.8 61.7 146.9 62.9 147.8" stroke="#989898" stroke-width="1.1"/>
<path d="M60.7 137.3 62.6 146.8" stroke="#939393" stroke-width="0.9"/>
<path d="M59.1 137.6 60.8 145.8" stroke="#939393" stroke-width="0.9"/>
<path d="M57.5 137.9 59.4 146.8" stroke="#939393" stroke-width="0.9"/>
<path d="M63.7 140.3 65.3 142.9 67.3 145.1" stroke="#d2d2d2" stroke-width="0.4"/>
<path d="M61.6 136.2 52.0 140.1" stroke="#787878" stroke-width="0.9"/>
<path d="M61.1 134.8 52.9 138.0" stroke="#787878" stroke-width="0.9"/>
<path d="M60.5 133.3 52.3 136.5" stroke="#787878" stroke-width="0.9"/>
<path d="M67.2 140.4 72.9 131.9" stroke="#737373" stroke-width="0.9"/>
<path d="M68.5 141.3 72.3 135.7" stroke="#737373" stroke-width="0.9"/>
<path d="M69.9 142.2 74.2 135.6" stroke="#737373" stroke-width="0.9"/>
<path d="M67.1 136.5 68.2 136.4 69.2 136.8 69.9 137.5 70.3 138.5 70.4 139.4 70.1 140.1 69.7 140.3 69.4 140.0 69.4 139.4 69.7 138.6 70.4 137.9 71.4 137.4 72.5 137.4 73.4 137.9 74.1 138.7 74.5 139.7 74.4 140.6 74.1 141.2" stroke="#747474" stroke-width="1.0"/>
<path d="M72.5 133.6 73.6 134.6 74.1 135.9 73.8 136.9 73.1 137.1 72.5 136.3 72.6 135.0 73.4 133.7 74.8 133.2 76.2 133.5 77.2 134.7 77.4 136.0 77.0 136.8 76.3 136.7 75.9 135.7 76.1 134.3 77.1 133.2 78.5 132.9 79.9 133.5 80.7 134.7 80.7 136.0 80.2 136.6 79.5 136.2 79.2 135.1" stroke="#666666" stroke-width="1.0"/>
<path d="M73.3 140.2 67.3 143.3" stroke="#727272" stroke-width="0.9"/>
<path d="M72.6 138.8 63.7 143.4" stroke="#727272" stroke-width="0.9"/>
<path d="M71.9 137.4 64.6 141.1" stroke="#727272" stroke-width="0.9"/>
<path d="M76.6 136.9 77.9 136.1 79.0 136.3 79.2 137.3 78.3 138.4 76.6 138.9 74.9 138.5 73.9 137.1 74.0 135.3 75.0 133.9 76.3 133.4 77.2 133.9 77.0 135.0 75.8 136.0 74.1 136.2 72.5 135.4 71.9 133.8 72.3 132.1 73.5 131.0 74.7 130.8 75.3 131.5 74.8 132.7 73.4 133.5" stroke="#747474" stroke-width="0.7"/>
<path d="M82.2 136.0 81.4 138.9 83.1 141.4" stroke="#acacac" stroke-width="0.5"/>
<path d="M77.8 141.8 77.7 140.7 78.4 139.4 79.7 138.7 81.1 138.9 82.1 140.0 82.5 141.3 82.1 142.2 81.5 142.4 81.1 141.6 81.4 140.3 82.4 139.3 83.8 139.0 85.1 139.7 85.9 140.9 85.8 142.1 85.3 142.7 84.7 142.3 84.6 141.3 85.3 140.0 86.6 139.3 88.0 139.5 89.0 140.6 89.4 141.9 89.0 142.8 88.4 142.9 88.0 142.2 88.3 140.9 89.3 139.9 90.7 139.6 92.0 140.3 92.8 141.5" stroke="#7b7b7b" stroke-width="0.9"/>
<path d="M80.2 136.4 81.7 139.0 83.0 141.7 85.5 143.5 86.9 146.1 86.8 149.1" stroke="#c6c6c6" stroke-width="0.4"/>
<path d="M89.4 137.3 87.0 139.1 84.1 139.8 81.1 139.7" stroke="#b7b7b7" stroke-width="0.4"/>
<path d="M86.1 139.3 89.0 139.7 91.7 138.3 94.4 137.0 97.2 138.0" stroke="#d2d2d2" stroke-width="0.5"/>
<path d="M85.9 140.3 82.9 140.8 80.2 141.9 79.5 144.9 80.2 147.8 82.5 149.6" stroke="#adadad" stroke-width="0.6"/>
<path d="M91.1 136.0 91.9 136.8 92.2 137.7 92.0 138.3 91.6 138.4 91.1 137.9 90.8 137.0 90.9 135.8 91.5 134.8 92.5 134.2 93.7 134.1 94.9 134.5 95.6 135.3 96.0 136.2 95.8 136.8 95.4 136.9 94.9 136.5 94.6 135.6 94.7 134.4" stroke="#979797" stroke-width="1.0"/>
<path d="M95.9 139.2 93.4 140.8 90.4 140.7 87.6 142.0" stroke="#c1c1c1" stroke-width="0.6"/>
<path d="M98.4 141.0 98.4 139.7 99.0 138.6 100.1 137.8 101.3 137.6 102.3 137.9 102.8 138.4 102.6 138.9 101.9 139.1 100.9 138.8 99.9 138.0 99.4 136.8 99.4 135.6 100.1 134.5 101.2 133.8 102.4 133.6 103.4 133.9 103.7 134.5 103.5 135.0 102.7 135.1 101.7 134.7 100.8 133.9" stroke="#8b8b8b" stroke-width="0.7"/>
<path d="M96.9 140.7 99.8 140.3 102.6 141.5 105.2 142.9" stroke="#aeaeae" stroke-width="0.6"/>
<path d="M120.8 135.0 121.6 136.1 121.7 137.5 121.1 138.8 120.0 139.7 118.8 140.0 117.8 139.7 117.4 139.2 117.7 138.6 118.7 138.4 119.9 138.8 121.0 139.7 121.5 141.0 121.3 142.4 120.5 143.5 119.2 144.1 118.0 144.2 117.3 143.7 117.2 143.1 117.9 142.7 119.0 142.8 120.2 143.4 121.1 144.5 121.3 145.9 120.8 147.2 119.7 148.1 118.4 148.4 117.4 148.2 117.0 147.7" stroke="#717171" stroke-width="0.9"/>
<path d="M14.7 144.9 15.3 143.2 16.9 142.1 18.8 142.1 20.0 143.0 20.0 144.1 18.8 144.6 17.1 144.0 15.9 142.6 15.8 140.7 17.0 139.2 18.8 138.7 20.5 139.3 21.1 140.3 20.5 141.2 18.9 141.2 17.4 140.1 16.7 138.4 17.3 136.6 18.9 135.6 20.7 135.6 21.9 136.5 21.9 137.6 20.7 138.0 19.1 137.5 17.9 136.0 17.8 134.2 19.0 132.7 20.8 132.2 22.5 132.7 23.1 133.8 22.4 134.7 20.9 134.6" stroke="#686868" stroke-width="0.9"/>
<path d="M19.9 144.4 19.0 147.3 16.1 148.0 13.2 147.3" stroke="#c9c9c9" stroke-width="0.6"/>
<path d="M27.5 144.0 26.1 154.2" stroke="#646464" stroke-width="0.9"/>
<path d="M25.9 143.7 24.4 154.6" stroke="#646464" stroke-width="0.9"/>
<path d="M24.4 143.5 23.4 150.0" stroke="#646464" stroke-width="0.9"/>
<path d="M26.8 143.6 29.6 142.6 31.9 140.7 34.3 138.9 37.0 137.6 39.9 136.7 42.5 138.1" stroke="#cfcfcf" stroke-width="0.6"/>
<path d="M35.6 143.4 38.3 142.1 41.2 141.3 44.2 141.3 47.0 140.4" stroke="#c7c7c7" stroke-width="0.4"/>
<path d="M35.1 144.1 32.5 142.6 29.5 142.9 26.5 143.4 24.0 145.0" stroke="#a0a0a0" stroke-width="0.5"/>
<path d="M38.8 148.5 37.9 149.3 37.1 149.0 36.8 147.9 37.3 146.4 38.6 145.3 40.2 145.1 41.6 146.0 42.4 147.5 42.2 149.1 41.5 150.1 40.6 150.0 40.1 149.1 40.4 147.7 41.5 146.4 43.1 145.9 44.6 146.5 45.6 147.9" stroke="#8e8e8e" stroke-width="0.8"/>
<path d="M37.1 142.2 38.2 143.3 38.6 144.9 38.2 146.1 37.4 146.5 36.8 145.9 36.8 144.6 37.6 143.3 39.0 142.5 40.6 142.8 41.7 143.9 42.1 145.5 41.6 146.7 40.8 147.1 40.2 146.4 40.2 145.1 41.1 143.7 42.6 143.0 44.1 143.3 45.2 144.5 45.5 146.1 45.0 147.3 44.2 147.6 43.6 146.9 43.7 145.5 44.6 144.2 46.1 143.6 47.6 143.9" stroke="#707070" stroke-width="0.9"/>
<path d="M44.3 144.6 45.4 145.6 45.9 147.0 45.6 148.5 44.6 149.7 43.3 150.3 42.2 150.2 41.6 149.6 41.8 148.8 42.8 148.2 44.2 148.1 45.7 148.7 46.7 149.8 46.9 151.3 46.4 152.7 45.3 153.8 44.0 154.2 43.0 154.0 42.6 153.3 43.1 152.6 44.2 152.0 45.6 152.1" stroke="#878787" stroke-width="1.0"/>
<path d="M52.7 143.5 52.9 144.7 52.6 145.9 51.8 146.8 50.7 147.2 49.8 147.2 49.2 146.9 49.1 146.5 49.6 146.2 50.4 146.3 51.4 146.8 52.1 147.8 52.3 149.0 52.0 150.1 51.2 151.0 50.2 151.5 49.2 151.5 48.6 151.2 48.5 150.8 48.9 150.5 49.8 150.6 50.8 151.1 51.5 152.0 51.7 153.2 51.4 154.4 50.6 155.3 49.6 155.8 48.6 155.8 48.0 155.5" stroke="#737373" stroke-width="1.0"/>
<path d="M51.5 141.7 54.4 148.4" stroke="#959595" stroke-width="0.9"/>
<path d="M50.0 142.4 53.0 149.3" stroke="#959595" stroke-width="0.9"/>
<path d="M48.5 143.0 52.5 152.1" stroke="#959595" stroke-width="0.9"/>
<path d="M48.4 143.2 46.3 140.9 46.5 137.9 48.6 135.9 50.9 133.9 51.6 131.0 50.3 128.3" stroke="#bebebe" stroke-width="0.4"/>
<path d="M58.6 142.7 65.0 144.8" stroke="#7d7d7d" stroke-width="0.9"/>
<path d="M58.1 144.2 67.0 147.2" stroke="#7d7d7d" stroke-width="0.9"/>
<path d="M57.6 145.7 63.6 147.7" stroke="#7d7d7d" stroke-width="0.9"/>
<path d="M58.7 148.3 58.0 147.9 57.4 146.9 57.3 145.7 57.8 144.4 58.8 143.6 60.1 143.3 61.4 143.7 62.3 144.6 62.7 145.5 62.5 146.1 61.9 146.2 61.2 145.6 60.7 144.5 60.8 143.2 61.5 142.0 62.6 141.4 63.9 141.3" stroke="#666666" stroke-width="0.8"/>
<path d="M60.5 142.8 60.2 145.8 57.7 147.5 54.8 148.2 51.9 147.3 50.9 144.5" stroke="#bbbbbb" stroke-width="0.5"/>
<path d="M64.5 144.1 65.1 143.9 66.1 144.2 66.9 145.1 67.2 146.3 66.7 147.5 65.6 148.2 64.4 148.3 63.6 148.0 63.5 147.4 64.0 147.1 65.0 147.4 65.9 148.3 66.2 149.5 65.8 150.7 64.8 151.5 63.6 151.6 62.7 151.3 62.5 150.7" stroke="#7f7f7f" stroke-width="1.0"/>
<path d="M74.6 143.7 71.7 144.7 69.8 147.0 66.8 147.2 63.8 147.7 60.8 147.8" stroke="#d2d2d2" stroke-width="0.4"/>
<path d="M72.8 142.4 74.4 142.8 75.4 144.1 75.7 145.6 75.2 146.7 74.4 147.0 73.8 146.2 73.7 144.8 74.5 143.4 75.8 142.6 77.4 142.7 78.7 143.7 79.3 145.2 79.0 146.5 78.3 147.1 77.5 146.7 77.2 145.5 77.7 144.0 78.9 142.9 80.4 142.6 81.9 143.3 82.7 144.7 82.8 146.2" stroke="#7f7f7f" stroke-width="0.8"/>
<path d="M76.3 142.7 77.4 142.7 78.6 143.2 79.4 144.3 79.6 145.7 79.0 147.0 77.8 147.7 76.5 147.9 75.6 147.5 75.4 146.8 75.9 146.3 77.0 146.3 78.2 146.9 79.0 148.1 79.1 149.4 78.4 150.7 77.2 151.4 76.0 151.5 75.1 151.1 74.9 150.4 75.5 149.9 76.6 150.0" stroke="#888888" stroke-width="1.1"/>
<path d="M83.2 143.2 75.8 141.3" stroke="#909090" stroke-width="0.9"/>
<path d="M83.6 141.7 76.4 139.8" stroke="#909090" stroke-width="0.9"/>
<path d="M84.0 140.1 75.4 137.9" stroke="#909090" stroke-width="0.9"/>
<path d="M85.8 143.7 86.9 144.5 87.4 145.8 87.4 146.9 86.9 147.5 86.3 147.3 86.1 146.5 86.5 145.3 87.5 144.4 88.8 144.0 90.1 144.4 91.0 145.5 91.3 146.7 91.0 147.7 90.4 148.0 90.0 147.5 90.0 146.5 90.6 145.3 91.8 144.6 93.2 144.6 94.4 145.3 95.0 146.5 95.1 147.6 94.6 148.4 94.1 148.3 93.8 147.6 94.0 146.4 94.9 145.4 96.2 144.9 97.5 145.2 98.5 146.2 98.9 147.4 98.7 148.5" stroke="#6e6e6e" stroke-width="0.8"/>
<path d="M86.9 144.3 88.2 145.2 88.8 146.6 88.5 148.2 87.5 149.4 86.2 150.0 85.2 149.8 84.8 149.1 85.4 148.3 86.6 147.8 88.2 148.0 89.5 148.9 90.1 150.3 89.8 151.9 88.9 153.1 87.6 153.7 86.5 153.5 86.2 152.9 86.7 152.0 87.9 151.5 89.4 151.7 90.8 152.6 91.4 154.0 91.2 155.5 90.2 156.8 88.9 157.4 87.9 157.3 87.5 156.6 88.0 155.8" stroke="#7d7d7d" stroke-width="1.1"/>
<path d="M92.7 145.7 93.6 148.5 94.6 151.4 96.7 153.5 98.3 156.0" stroke="#a6a6a6" stroke-width="0.5"/>
<path d="M95.1 142.8 96.4 145.6 98.8 147.4 101.7 147.8 104.6 146.9 105.3 144.0 103.9 141.3" stroke="#a5a5a5" stroke-width="0.5"/>
<path d="M96.8 144.5 95.4 144.8 94.0 144.4 93.0 143.4 92.4 142.2 92.5 141.2 93.0 140.6 93.7 140.8 94.3 141.7 94.4 143.0 93.9 144.3 92.9 145.3 91.5 145.7 90.1 145.4 89.0 144.5 88.4 143.3 88.5 142.2 88.9 141.6 89.6 141.7 90.2 142.5" stroke="#646464" stroke-width="0.8"/>
<path d="M103.8 142.8 104.7 143.5 105.1 144.6 105.1 145.8 104.6 146.8 103.8 147.4 103.1 147.7 102.6 147.5 102.7 147.1 103.3 146.8 104.2 146.7 105.3 147.0 106.1 147.7 106.6 148.8 106.6 150.0 106.1 151.0 105.3 151.6 104.6 151.9 104.1 151.7 104.2 151.4 104.7 151.0 105.7 150.9 106.7 151.2 107.6 152.0 108.1 153.0 108.1 154.2 107.6 155.2 106.8 155.9 106.1 156.1 105.6 156.0 105.7 155.6" stroke="#828282" stroke-width="0.8"/>
<path d="M120.9 142.4 120.1 139.5 121.1 136.7 123.6 135.0 126.6 135.5 129.5 136.1" stroke="#afafaf" stroke-width="0.5"/>
<path d="M32.8 148.7 31.2 151.2 29.6 153.8 30.2 156.7 30.8 159.6" stroke="#a8a8a8" stroke-width="0.6"/>
<path d="M31.0 150.9 31.2 150.4 32.0 150.2 33.0 150.4 34.0 151.2 34.6 152.3 34.6 153.6 34.0 154.7 33.0 155.4 31.9 155.6 31.0 155.4 30.7 155.0 31.0 154.5 31.8 154.4 32.9 154.7 33.9 155.5 34.4 156.6 34.3 157.9 33.6 159.0 32.6 159.6 31.5 159.8 30.7 159.5 30.5 159.1 30.8 158.6 31.7 158.5" stroke="#767676" stroke-width="0.8"/>
<path d="M39.2 147.1 40.6 146.8 42.0 147.1 43.0 148.0 43.6 149.2 43.6 150.2 43.2 150.8 42.6 150.6 42.1 149.9 42.1 148.6 42.6 147.3 43.6 146.4 45.0 146.0 46.4 146.4 47.5 147.3 48.0 148.4 48.0 149.5 47.6 150.0 47.0 149.9 46.5 149.1 46.5 147.9 47.0 146.6 48.1 145.6 49.4 145.3 50.8 145.6 51.9 146.5 52.4 147.7 52.5 148.7 52.0 149.3 51.4 149.1 51.0 148.3 50.9 147.1" stroke="#818181" stroke-width="1.0"/>
<path d="M40.9 151.9 38.3 150.4 35.4 149.9 32.4 149.5 29.7 150.7" stroke="#cfcfcf" stroke-width="0.4"/>
<path d="M43.4 147.9 41.3 150.1 41.8 153.1 44.0 155.0 45.2 157.8 46.1 160.7" stroke="#c4c4c4" stroke-width="0.4"/>
<path d="M44.7 148.3 46.1 148.1 47.6 148.7 48.4 150.0 48.4 151.5 47.6 152.8 46.3 153.4 45.3 153.3 45.0 152.6 45.5 151.9 46.8 151.5 48.3 151.8 49.4 152.9 49.7 154.4 49.0 155.8 47.9 156.7 46.7 156.8 46.1 156.2 46.4 155.4 47.5 154.9 49.0 155.0 50.3 155.9 50.8 157.3 50.5 158.8 49.4 159.8" stroke="#8c8c8c" stroke-width="0.9"/>
<path d="M43.0 148.2 44.4 148.5 45.5 149.7 45.8 151.2 45.3 152.4 44.5 152.9 43.9 152.3 43.8 151.1 44.5 149.7 45.9 148.9 47.4 149.0 48.6 150.0 49.2 151.4 48.9 152.8 48.2 153.5 47.4 153.2 47.1 152.1 47.6 150.8 48.8 149.7 50.4 149.5" stroke="#7a7a7a" stroke-width="0.9"/>
<path d="M52.1 149.3 50.9 149.8 49.9 149.7 49.6 149.1 50.0 148.6 51.0 148.5 52.3 148.9 53.2 149.9 53.4 151.2 52.9 152.4 51.8 153.3 50.7 153.5 50.0 153.1 50.0 152.6 50.7 152.2 51.9 152.3 53.0 153.0 53.7 154.2 53.5 155.5 52.7 156.6 51.6 157.1 50.6 157.0" stroke="#838383" stroke-width="0.9"/>
<path d="M57.3 148.4 60.1 149.3 62.8 150.7 63.9 153.5 65.9 155.6 66.6 158.5" stroke="#b4b4b4" stroke-width="0.4"/>
<path d="M55.0 151.3 56.2 151.4 57.4 152.3 58.2 153.6 58.1 155.1 57.2 156.4 55.8 157.1 54.4 157.0 53.4 156.5 53.3 155.7 53.9 155.2 55.1 155.3 56.3 156.1 57.1 157.4 57.1 159.0 56.3 160.2 54.9 160.9 53.4 160.9 52.4 160.4 52.2 159.6 52.9 159.1 54.0 159.2 55.3 159.9 56.1 161.3 56.1 162.8 55.3 164.1 53.9 164.8" stroke="#848484" stroke-width="0.8"/>
<path d="M63.6 150.9 60.6 158.4" stroke="#747474" stroke-width="0.9"/>
<path d="M62.2 150.3 59.8 156.0" stroke="#747474" stroke-width="0.9"/>
<path d="M60.7 149.7 56.8 159.2" stroke="#747474" stroke-width="0.9"/>
<path d="M67.1 147.9 67.2 149.5 66.6 150.6 65.7 150.6 65.2 149.6 65.6 148.2 66.8 147.0 68.4 146.7 69.9 147.4 70.6 148.9 70.5 150.5 69.8 151.3 68.9 151.1 68.6 150.0 69.2 148.5 70.5 147.5 72.2 147.4 73.5 148.4 74.1 150.0 73.8 151.4 72.9 152.0 72.2 151.6 72.1 150.3 72.8 148.8 74.3 148.0 75.9 148.2 77.1 149.4" stroke="#818181" stroke-width="0.8"/>
<path d="M66.8 150.0 63.8 149.7 60.8 149.4 58.0 150.5 55.2 149.3 52.2 149.2" stroke="#cbcbcb" stroke-width="0.5"/>
<path d="M69.1 150.3 59.3 148.3" stroke="#818181" stroke-width="0.9"/>
<path d="M69.5 148.8 59.3 146.7" stroke="#818181" stroke-width="0.9"/>
<path d="M69.8 147.2 59.1 145.0" stroke="#818181" stroke-width="0.9"/>
<path d="M76.1 154.3 75.9 153.6 76.2 152.7 76.9 151.7 78.0 151.2 79.2 151.3 80.2 152.0 80.8 153.0 80.9 153.9 80.7 154.5 80.3 154.6 80.0 154.0 80.1 153.1 80.7 152.1 81.7 151.5 82.9 151.3 84.0 151.8 84.7 152.7 85.0 153.7 84.9 154.5 84.5 154.7 84.1 154.4 84.1 153.5 84.5 152.5 85.4 151.7 86.5 151.4 87.7 151.7 88.6 152.5 89.0 153.5 89.0 154.4 88.7 154.8" stroke="#7e7e7e" stroke-width="0.9"/>
<path d="M76.6 149.1 82.9 147.6" stroke="#747474" stroke-width="0.9"/>
<path d="M77.0 150.6 86.2 148.6" stroke="#747474" stroke-width="0.9"/>
<path d="M77.3 152.2 84.6 150.5" stroke="#747474" stroke-width="0.9"/>
<path d="M82.0 154.0 80.7 154.7 79.2 154.5 78.1 153.7 77.7 152.7 78.0 152.0 78.8 152.1 79.6 153.0 79.9 154.5 79.4 155.8 78.3 156.7 76.8 156.7 75.5 156.0 74.9 155.0 75.1 154.2 75.8 154.1 76.7 154.8 77.1 156.2 76.9 157.6 75.8 158.6 74.4 158.9 73.1 158.4" stroke="#6d6d6d" stroke-width="1.0"/>
<path d="M84.3 153.5 83.8 153.6 83.2 152.8 83.1 151.6 83.7 150.3 84.8 149.5 86.2 149.6 87.4 150.3 88.0 151.4 87.9 152.2 87.3 152.4 86.7 151.7 86.5 150.5 87.0 149.2 88.1 148.4 89.4 148.3 90.7 148.9 91.4 149.9 91.4 150.8 90.9 151.1 90.3 150.7 90.0 149.5 90.3 148.2 91.3 147.2 92.6 147.0 93.9 147.5 94.7 148.5 94.9 149.4 94.5 149.9 93.8 149.6 93.5 148.5 93.7 147.2 94.5 146.1" stroke="#979797" stroke-width="1.0"/>
<path d="M80.3 152.2 81.0 150.7 82.4 150.0 84.0 150.3 85.2 151.4 85.5 152.7 85.1 153.6 84.3 153.4 83.7 152.4 83.8 150.8 84.7 149.4 86.2 148.9 87.7 149.4 88.7 150.7 88.9 151.9 88.3 152.6 87.5 152.2 87.0 151.0 87.3 149.4 88.4 148.2 89.9 147.9 91.4 148.6 92.2 149.9 92.2 151.1 91.5 151.5 90.7 150.9 90.4 149.5 90.9 148.0 92.1 147.0 93.7 146.9 95.1 147.9 95.7 149.2 95.5 150.2 94.7 150.4" stroke="#868686" stroke-width="0.8"/>
<path d="M88.2 149.9 87.8 149.5 87.7 148.7 88.1 147.6 89.0 146.8 90.2 146.4 91.3 146.8 92.2 147.7 92.6 148.8 92.5 149.7 92.0 150.2 91.5 150.0 91.3 149.2 91.6 148.1 92.4 147.2 93.6 146.8 94.8 147.0 95.8 147.8 96.3 148.9" stroke="#909090" stroke-width="0.7"/>
<path d="M85.8 151.8 85.0 154.7 84.2 157.6 81.7 159.2 80.6 162.0" stroke="#b4b4b4" stroke-width="0.6"/>
<path d="M89.7 150.4 82.8 152.7" stroke="#727272" stroke-width="0.9"/>
<path d="M89.2 148.9 80.4 151.7" stroke="#727272" stroke-width="0.9"/>
<path d="M88.7 147.4 81.7 149.6" stroke="#727272" stroke-width="0.9"/>
<path d="M90.6 150.5 91.5 150.4 92.6 151.3 93.1 152.9 92.7 154.6 91.5 155.7 89.8 155.8 88.3 155.0 87.5 153.8 87.7 152.8 88.6 152.6 89.7 153.4 90.3 154.9 90.1 156.6 88.9 157.8 87.2 158.1 85.7 157.4 84.8 156.2 84.9 155.2 85.7 154.8 86.8 155.5 87.5 156.9 87.4 158.6 86.3 159.9 84.7 160.3" stroke="#797979" stroke-width="0.9"/>
<path d="M90.4 148.5 100.1 148.5" stroke="#909090" stroke-width="0.9"/>
<path d="M90.4 150.1 100.7 150.2" stroke="#909090" stroke-width="0.9"/>
<path d="M90.3 151.7 100.3 151.8" stroke="#909090" stroke-width="0.9"/>
<path d="M92.7 148.5 92.1 149.5 91.3 149.6 90.8 148.9 90.9 147.6 91.8 146.3 93.2 145.6 94.7 145.8 95.9 146.8 96.4 148.3 96.2 149.7 95.5 150.4 94.7 150.2 94.4 149.2 94.8 147.9 95.9 146.8 97.4 146.4 98.8 146.9 99.8 148.1 100.0 149.6 99.6 150.8 98.8 151.2 98.2 150.7 98.1 149.6" stroke="#7a7a7a" stroke-width="1.0"/>
<path d="M97.3 149.1 98.7 148.4 100.2 148.4 101.3 149.0 101.7 149.8 101.2 150.5 100.1 150.7 98.8 150.2 97.7 149.0 97.3 147.5 97.7 146.0 98.9 145.0 100.4 144.6 101.8 144.8 102.6 145.6 102.7 146.4 101.9 146.9 100.7 146.8 99.4 146.0 98.5 144.7 98.4 143.2" stroke="#6a6a6a" stroke-width="0.9"/>
<path d="M100.0 152.0 103.6 145.4" stroke="#6f6f6f" stroke-width="0.9"/>
<path d="M101.4 152.7 104.8 146.5" stroke="#6f6f6f" stroke-width="0.9"/>
<path d="M102.8 153.5 106.3 147.1" stroke="#6f6f6f" stroke-width="0.9"/>
<path d="M119.2 153.0 120.0 155.9 121.5 158.4" stroke="#c8c8c8" stroke-width="0.4"/>
<path d="M116.0 150.8 114.5 151.1 113.0 150.5 112.2 149.2 112.3 147.6 113.2 146.3 114.4 145.8 115.2 146.1 115.2 146.9 114.3 147.7 112.8 147.9 111.4 147.4 110.5 146.1 110.6 144.5 111.5 143.2 112.7 142.6 113.5 142.9 113.6 143.7 112.7 144.5 111.2 144.8 109.7 144.2 108.8 142.9 108.9 141.3 109.8 140.1 111.0 139.5 111.9 139.8" stroke="#727272" stroke-width="0.7"/>
<path d="M16.7 158.0 13.9 166.1" stroke="#7f7f7f" stroke-width="0.9"/>
<path d="M15.2 157.5 13.1 163.7" stroke="#7f7f7f" stroke-width="0.9"/>
<path d="M13.7 156.9 10.1 167.2" stroke="#7f7f7f" stroke-width="0.9"/>
<path d="M19.1 156.3 16.5 157.9 13.6 157.2" stroke="#a0a0a0" stroke-width="0.5"/>
<path d="M28.6 158.8 26.3 156.8 23.4 156.3 20.8 157.8 19.9 160.7 19.4 163.6" stroke="#c2c2c2" stroke-width="0.6"/>
<path d="M26.8 155.5 23.0 163.6" stroke="#6e6e6e" stroke-width="0.9"/>
<path d="M25.3 154.8 21.0 164.2" stroke="#6e6e6e" stroke-width="0.9"/>
<path d="M23.9 154.1 19.3 164.0" stroke="#6e6e6e" stroke-width="0.9"/>
<path d="M33.6 156.6 25.8 152.3" stroke="#8a8a8a" stroke-width="0.9"/>
<path d="M34.4 155.2 27.8 151.6" stroke="#8a8a8a" stroke-width="0.9"/>
<path d="M35.2 153.8 25.8 148.6" stroke="#8a8a8a" stroke-width="0.9"/>
<path d="M33.5 158.4 34.1 158.0 35.2 158.1 36.3 158.7 37.1 159.7 37.4 161.1 37.0 162.3 36.0 163.3 34.8 163.7 33.8 163.7 33.2 163.3 33.2 162.7 33.9 162.4 34.9 162.5 36.0 163.1 36.8 164.2 37.0 165.5 36.6 166.8 35.6 167.7 34.4 168.1 33.4 168.0 32.8 167.6 32.9 167.1 33.6 166.8 34.6 166.9 35.8 167.5 36.5 168.6 36.7 170.0 36.2 171.2 35.3 172.1 34.1 172.5 33.0 172.4 32.5 172.0 32.6 171.4 33.3 171.1" stroke="#6b6b6b" stroke-width="1.0"/>
<path d="M37.9 156.7 40.5 158.3 41.9 160.9 43.1 163.6 44.1 166.5" stroke="#d4d4d4" stroke-width="0.5"/>
<path d="M36.4 159.8 35.7 159.3 35.9 158.5 36.9 158.0 38.4 158.1 39.7 159.0 40.4 160.4 40.1 162.0 39.1 163.2 37.7 163.8 36.5 163.6 36.1 162.9 36.6 162.2 37.8 161.8 39.3 162.2 40.5 163.3 40.9 164.8 40.3 166.3 39.1 167.3 37.7 167.7 36.8 167.3 36.6 166.5 37.4 165.9 38.8 165.8 40.2 166.4 41.2 167.6 41.3 169.2 40.5 170.6 39.2 171.4 37.8 171.5 37.1 170.9" stroke="#858585" stroke-width="0.9"/>
<path d="M40.9 156.7 31.6 156.9" stroke="#878787" stroke-width="0.9"/>
<path d="M40.9 155.1 33.8 155.3" stroke="#878787" stroke-width="0.9"/>
<path d="M40.9 153.5 30.1 153.8" stroke="#878787" stroke-width="0.9"/>
<path d="M42.8 155.8 46.5 150.1" stroke="#7d7d7d" stroke-width="0.9"/>
<path d="M44.2 156.7 49.2 148.9" stroke="#7d7d7d" stroke-width="0.9"/>
<path d="M45.5 157.5 48.9 152.2" stroke="#7d7d7d" stroke-width="0.9"/>
<path d="M44.9 153.4 46.3 150.8 48.0 148.3 48.8 145.4 48.3 142.4" stroke="#adadad" stroke-width="0.5"/>
<path d="M43.6 155.8 44.5 155.7 45.7 156.1 46.8 157.0 47.3 158.3 47.1 159.7 46.3 160.8 45.1 161.5 43.9 161.6 43.0 161.2 42.9 160.7 43.4 160.2 44.4 160.1 45.6 160.5 46.6 161.5 47.0 162.8 46.8 164.2 45.9 165.3 44.7 165.9 43.5 166.0 42.7 165.6 42.6 165.0 43.1 164.5 44.2 164.5 45.4 165.0 46.3 166.0 46.7 167.3 46.5 168.6 45.6 169.7" stroke="#7e7e7e" stroke-width="1.0"/>
<path d="M49.4 157.8 44.3 150.9" stroke="#838383" stroke-width="0.9"/>
<path d="M50.7 156.9 45.7 150.2" stroke="#838383" stroke-width="0.9"/>
<path d="M52.0 155.9 48.1 150.7" stroke="#838383" stroke-width="0.9"/>
<path d="M52.1 155.3 51.6 158.2 52.3 161.1 52.2 164.1 50.1 166.3 48.8 169.0" stroke="#c8c8c8" stroke-width="0.4"/>
<path d="M55.6 155.3 56.6 154.4 57.9 154.0 59.2 154.3 60.2 155.1 60.7 156.3 60.7 157.5 60.4 158.3 59.8 158.5 59.4 158.1 59.4 157.3 60.0 156.2 61.0 155.4 62.3 155.1 63.5 155.5 64.5 156.4 65.0 157.6 64.9 158.7 64.5 159.5 64.0 159.6 63.6 159.1 63.7 158.2 64.3 157.2 65.4 156.4 66.7 156.2 67.9 156.7 68.8 157.7 69.2 158.9 69.1 160.0 68.6 160.7 68.1 160.7" stroke="#989898" stroke-width="0.9"/>
<path d="M57.7 158.9 58.1 157.4 59.3 156.3 60.8 156.1 62.2 156.8 63.0 158.2 63.1 159.6 62.4 160.5 61.6 160.4 61.2 159.4 61.5 157.9 62.6 156.7 64.1 156.3 65.6 156.9 66.5 158.2 66.6 159.7 66.1 160.7 65.3 160.7 64.8 159.8 64.9 158.4 65.9 157.1 67.4 156.6 68.9 157.0 70.0 158.2" stroke="#828282" stroke-width="1.0"/>
<path d="M56.9 154.0 54.0 153.3 51.0 153.0 49.6 150.3 50.8 147.6 52.7 145.2 55.6 144.6" stroke="#c3c3c3" stroke-width="0.5"/>
<path d="M60.7 154.7 60.7 157.7 60.8 160.7 60.1 163.6 57.4 165.0" stroke="#c4c4c4" stroke-width="0.5"/>
<path d="M63.3 156.9 62.0 156.6 61.5 155.9 62.1 155.1 63.4 154.9 64.9 155.4 66.0 156.7 66.1 158.3 65.2 159.6 63.8 160.4 62.4 160.3 61.7 159.7 62.0 158.9 63.2 158.4 64.7 158.8 65.9 159.9 66.3 161.4 65.7 162.9 64.3 163.9 62.9 164.0 62.0 163.4 62.0 162.6 63.0 162.0 64.5 162.2 65.9 163.1" stroke="#7b7b7b" stroke-width="0.7"/>
<path d="M77.7 158.0 67.8 155.6" stroke="#737373" stroke-width="0.9"/>
<path d="M78.0 156.5 69.3 154.4" stroke="#737373" stroke-width="0.9"/>
<path d="M78.4 154.9 67.8 152.3" stroke="#737373" stroke-width="0.9"/>
<path d="M83.9 156.1 84.8 166.3" stroke="#656565" stroke-width="0.9"/>
<path d="M82.3 156.2 83.0 164.5" stroke="#656565" stroke-width="0.9"/>
<path d="M80.7 156.4 81.4 164.9" stroke="#656565" stroke-width="0.9"/>
<path d="M87.1 158.1 85.9 158.9 84.5 159.1 83.4 158.8 82.9 158.2 83.2 157.6 84.0 157.5 85.1 157.9 86.0 159.0 86.4 160.4 86.0 161.7 84.9 162.7 83.6 163.0 82.4 162.8 81.7 162.2 81.8 161.6 82.5 161.3 83.6 161.7 84.6 162.6 85.1 164.0 84.8 165.3 83.9 166.4 82.6 166.9 81.3 166.8 80.5 166.3 80.4 165.6 81.0 165.3 82.1 165.4" stroke="#848484" stroke-width="0.8"/>
<path d="M90.9 155.2 91.5 156.2 91.7 157.3 91.5 158.1 91.1 158.4 90.7 158.1 90.7 157.4 91.1 156.5 92.0 155.7 93.1 155.3 94.3 155.6 95.3 156.3 95.8 157.4 95.9 158.4 95.5 159.1 95.1 159.2 94.8 158.8 94.9 158.0 95.5 157.0 96.5 156.3 97.7 156.2 98.8 156.6 99.7 157.4 100.0 158.5 100.0 159.5" stroke="#646464" stroke-width="1.0"/>
<path d="M90.7 154.9 90.6 154.1 90.8 153.7 91.2 153.8 91.4 154.3 91.4 155.1 90.9 156.0 90.2 156.8 89.2 157.1 88.1 157.0 87.2 156.5 86.6 155.7 86.3 154.9 86.4 154.3 86.7 154.1 87.0 154.4 87.1 155.1 86.9 156.0 86.3 156.9 85.4 157.4 84.3 157.6 83.3 157.2 82.5 156.5" stroke="#7e7e7e" stroke-width="1.0"/>
<path d="M91.0 155.5 91.2 154.6 92.3 154.1 94.0 154.3 95.4 155.4 95.9 157.1 95.3 158.7 93.9 159.8 92.3 160.0 91.2 159.5 91.1 158.5 92.0 157.9 93.7 157.9 95.2 158.9 95.9 160.4 95.6 162.1 94.3 163.4 92.6 163.8 91.3 163.3 91.0 162.4 91.8 161.7 93.3 161.5 94.9 162.3 95.9 163.8 95.8 165.5 94.6 166.9 93.0 167.5 91.6 167.2 91.0 166.4 91.6 165.5 93.0 165.2 94.7 165.8 95.8 167.2" stroke="#6f6f6f" stroke-width="0.9"/>
<path d="M98.1 155.5 101.0 154.6 103.2 152.6 105.2 150.4 107.6 148.6 110.0 146.7" stroke="#d1d1d1" stroke-width="0.5"/>
<path d="M99.9 158.0 98.5 157.7 97.4 156.6 96.9 155.3 97.0 154.2 97.6 153.6 98.2 153.8 98.6 154.7 98.4 156.0 97.6 157.2 96.4 157.9 94.9 157.9 93.6 157.2 92.8 156.0 92.7 154.7 93.0 153.8 93.7 153.6 94.2 154.2 94.3 155.3 93.9 156.6 92.8 157.6 91.4 158.0 90.0 157.7 88.9 156.6 88.4 155.3 88.6 154.2 89.1 153.6 89.7 153.8 90.1 154.7" stroke="#666666" stroke-width="0.9"/>
<path d="M97.9 154.8 90.0 161.1" stroke="#919191" stroke-width="0.9"/>
<path d="M96.8 153.5 92.0 157.5" stroke="#919191" stroke-width="0.9"/>
<path d="M95.8 152.3 87.8 158.8" stroke="#919191" stroke-width="0.9"/>
<path d="M106.7 154.9 105.8 156.0 104.5 156.5 103.5 156.4 103.1 155.9 103.5 155.2 104.5 154.9 105.9 155.2 107.1 156.1 107.6 157.4 107.4 158.9 106.4 160.0 105.2 160.6 104.1 160.5 103.7 160.0 104.0 159.3 105.0 159.0 106.4 159.2 107.6 160.0 108.2 161.4 108.0 162.8 107.1 164.0 105.9 164.6 104.8 164.6 104.3 164.0 104.5 163.4 105.5 163.0 106.9 163.2 108.1 164.0 108.8 165.3 108.7 166.7 107.8 168.0 106.6 168.6 105.4 168.6 104.9 168.1" stroke="#6d6d6d" stroke-width="0.8"/>
<path d="M107.2 155.9 109.0 158.3 110.0 161.2" stroke="#b4b4b4" stroke-width="0.5"/>
<path d="M110.2 152.4 111.2 153.3 111.7 154.5 111.5 155.9 110.7 157.0 109.8 157.6 108.9 157.7 108.4 157.3 108.6 156.6 109.4 156.1 110.6 155.8 111.9 156.1 113.0 157.0 113.5 158.2 113.4 159.6 112.7 160.7 111.7 161.4 110.8 161.5 110.3 161.2 110.4 160.5" stroke="#8c8c8c" stroke-width="0.8"/>
<path d="M116.0 152.9 116.8 152.1 117.7 152.0 118.1 152.3 117.9 153.0 117.0 153.5 115.7 153.6 114.5 153.1 113.8 152.1 113.6 150.8 114.2 149.6 115.0 148.8 115.9 148.7 116.3 149.1 116.0 149.7 115.1 150.2 113.8 150.3 112.6 149.8 111.9 148.7 111.8 147.4 112.4 146.2 113.3 145.5 114.1 145.4 114.4 145.8" stroke="#787878" stroke-width="1.0"/>
<path d="M119.1 153.0 118.6 154.5 117.3 155.5 115.9 155.7 115.2 155.1 115.4 154.3 116.6 153.9 118.1 154.2 119.3 155.3 119.5 156.9 118.8 158.3 117.4 159.1 116.1 159.1 115.6 158.4 116.1 157.7 117.4 157.4 118.9 157.9 119.9 159.2 119.9 160.8 118.9 162.1 117.5 162.7 116.4 162.5 116.1 161.7 116.8 161.0 118.2 160.9 119.7 161.7 120.4 163.1 120.2 164.6 119.1 165.8 117.7 166.2 116.7 165.8 116.6 165.0 117.6 164.4" stroke="#848484" stroke-width="0.9"/>
<path d="M24.7 160.7 24.4 161.3 23.4 161.7 22.2 161.5 21.0 160.8 20.3 159.6 20.3 158.3 21.0 157.1 22.1 156.3 23.2 156.1 24.1 156.4 24.3 157.0 23.7 157.6 22.6 157.8 21.4 157.5 20.3 156.6 19.8 155.3 20.0 154.0 20.9 152.9 22.1 152.3 23.2 152.3" stroke="#8c8c8c" stroke-width="0.9"/>
<path d="M28.9 161.5 29.9 164.3 31.3 166.9 33.0 169.4 33.1 172.4 32.4 175.4" stroke="#b4b4b4" stroke-width="0.6"/>
<path d="M30.8 163.3 31.9 163.2 33.0 163.4 33.9 164.2 34.3 165.2 34.3 166.4 33.9 167.4 33.3 168.0 32.7 168.2 32.4 168.0 32.5 167.5 33.1 167.0 34.1 166.7 35.2 166.8 36.2 167.4 36.9 168.3 37.0 169.5 36.8 170.6 36.2 171.3 35.5 171.7 35.1 171.6 35.0 171.2 35.5 170.7" stroke="#646464" stroke-width="1.1"/>
<path d="M34.7 164.2 35.0 167.2 33.8 170.0 35.1 172.7 36.0 175.6 35.9 178.6 37.6 181.0" stroke="#c7c7c7" stroke-width="0.4"/>
<path d="M39.3 161.5 37.9 161.8 36.5 161.3 35.8 160.0 36.0 158.5 36.8 157.5 37.7 157.3 38.1 157.9 37.5 158.8 36.2 159.3 34.7 159.0 33.7 157.9 33.6 156.4 34.3 155.2 35.3 154.7 35.8 155.1 35.6 156.0 34.4 156.7 32.9 156.7 31.8 155.9 31.4 154.4 31.8 153.1 32.8 152.3 33.6 152.5 33.6 153.2 32.7 154.1 31.2 154.4 29.9 153.8 29.2 152.4 29.4 151.0 30.3 150.0" stroke="#656565" stroke-width="1.0"/>
<path d="M39.0 158.2 39.9 157.9 41.2 158.4 42.2 159.5 42.6 161.1 42.0 162.5 40.7 163.4 39.2 163.5 38.0 163.0 37.7 162.2 38.2 161.6 39.4 161.7 40.6 162.5 41.4 163.8 41.3 165.4 40.3 166.6 38.8 167.1 37.4 166.9 36.6 166.2 36.7 165.5 37.6 165.1 38.9 165.5 40.0 166.7 40.4 168.2 39.8 169.6 38.6 170.5 37.0 170.7" stroke="#787878" stroke-width="1.0"/>
<path d="M55.6 161.1 55.3 160.6 55.3 159.8 55.6 158.8 56.4 158.0 57.4 157.5 58.5 157.5 59.5 158.0 60.3 158.8 60.6 159.8 60.6 160.5 60.2 160.9 59.9 160.8 59.6 160.2 59.7 159.3 60.1 158.4 61.0 157.6 62.1 157.3 63.2 157.4 64.1 158.0 64.8 158.9" stroke="#959595" stroke-width="1.0"/>
<path d="M57.7 161.2 56.3 163.9 55.3 166.7 53.0 168.7" stroke="#cbcbcb" stroke-width="0.5"/>
<path d="M58.5 159.8 61.5 160.0 64.0 158.4 66.0 156.1 69.0 156.4" stroke="#c5c5c5" stroke-width="0.5"/>
<path d="M60.4 163.7 62.0 166.2 64.3 168.1 67.2 167.8" stroke="#a4a4a4" stroke-width="0.5"/>
<path d="M62.1 162.3 61.1 161.5 60.8 159.8 61.4 158.0 62.9 157.0 64.8 157.3 66.1 158.5 66.6 160.1 66.0 161.2 64.9 161.1 64.1 159.8 64.1 158.0 65.1 156.4 66.8 155.9 68.6 156.6 69.6 158.1 69.7 159.6 68.9 160.2 67.8 159.7 67.2 158.1 67.6 156.3 68.9 155.0 70.8 154.9 72.3 156.0 73.0 157.6 72.7 158.9 71.7 159.1 70.7 158.1" stroke="#858585" stroke-width="0.8"/>
<path d="M71.5 162.6 69.6 164.9 66.7 165.5" stroke="#b4b4b4" stroke-width="0.4"/>
<path d="M70.1 162.2 71.8 159.7 71.0 156.8 69.7 154.1 67.3 152.4" stroke="#c2c2c2" stroke-width="0.5"/>
<path d="M78.0 161.7 76.7 162.8 75.1 163.1 73.8 162.5 73.5 161.7 74.3 161.0 75.7 161.1 77.0 162.0 77.8 163.5 77.5 165.1 76.2 166.3 74.6 166.6 73.3 166.2 72.9 165.3 73.5 164.6 74.9 164.6 76.3 165.4 77.1 166.9 76.9 168.5 75.7 169.8 74.1 170.2 72.7 169.8 72.2 168.9 72.8 168.2 74.1 168.1 75.6 168.8 76.4 170.3 76.3 171.9 75.2 173.2 73.6 173.7" stroke="#696969" stroke-width="0.9"/>
<path d="M82.0 164.7 76.5 173.5" stroke="#808080" stroke-width="0.9"/>
<path d="M80.7 163.9 76.6 170.3" stroke="#808080" stroke-width="0.9"/>
<path d="M79.3 163.0 73.9 171.7" stroke="#808080" stroke-width="0.9"/>
<path d="M82.5 163.7 84.2 166.2 87.2 166.7 90.2 167.0 92.3 165.0" stroke="#b1b1b1" stroke-width="0.4"/>
<path d="M79.4 164.4 79.0 167.4 79.9 170.3 78.9 173.1 79.3 176.1 77.0 178.1" stroke="#a0a0a0" stroke-width="0.6"/>
<path d="M87.4 162.0 88.1 162.2 88.3 163.1 87.8 164.2 86.7 165.2 85.2 165.5 83.7 165.1 82.8 163.9 82.5 162.4 82.8 161.0 83.7 160.1 84.5 160.0 84.9 160.6 84.7 161.7 83.8 162.8 82.4 163.4 80.9 163.3 79.7 162.4 79.1 161.0 79.2 159.4 79.9 158.3 80.8 157.9 81.4 158.3 81.5 159.2" stroke="#808080" stroke-width="1.1"/>
<path d="M92.2 161.2 93.0 162.4 92.9 163.8 92.2 165.0 91.0 165.8 89.8 165.8 89.2 165.4 89.3 164.7 90.2 164.2 91.5 164.1 92.8 164.8 93.6 165.9 93.7 167.4 93.0 168.6 91.9 169.4 90.7 169.6 89.9 169.2 89.9 168.5 90.7 168.0 92.0 167.8 93.3 168.4" stroke="#7e7e7e" stroke-width="0.7"/>
<path d="M107.1 162.6 108.7 163.1 109.8 164.3 110.0 165.9 109.2 167.4 107.8 168.2 106.5 168.2 105.8 167.6 106.1 166.8 107.3 166.4 108.9 166.7 110.1 167.7 110.5 169.3 109.9 170.8 108.6 171.8 107.3 172.0 106.4 171.5 106.5 170.7 107.6 170.1 109.1 170.3 110.5 171.2 111.1 172.7 110.7 174.3 109.5 175.4 108.0 175.8 107.1 175.4 107.0 174.6 107.8 173.9 109.3 173.9 110.8 174.7 111.6 176.1 111.4 177.7" stroke="#848484" stroke-width="1.0"/>
<path d="M103.3 158.6 104.3 159.5 104.6 160.6 104.3 161.3 103.7 161.2 103.3 160.4 103.4 159.2 104.0 158.0 105.2 157.4 106.6 157.5 107.7 158.4 108.2 159.4 108.0 160.3 107.5 160.4 107.0 159.8 106.9 158.6 107.4 157.4 108.5 156.6 109.8 156.5 111.0 157.2 111.7 158.3 111.7 159.2 111.2 159.6 110.7 159.2 110.4 158.1 110.8 156.8 111.7 155.9" stroke="#858585" stroke-width="0.7"/>
<path d="M107.3 161.7 107.3 160.8 107.6 160.3 108.0 160.4 108.3 161.1 108.2 162.0 107.5 163.0 106.5 163.6 105.4 163.8 104.2 163.3 103.5 162.4 103.1 161.4 103.3 160.6 103.6 160.3 104.0 160.6 104.2 161.3 103.9 162.3 103.1 163.2 102.1 163.7 100.9 163.7 99.8 163.0 99.2 162.1 99.0 161.1 99.2 160.4 99.7 160.3 100.0 160.7 100.0 161.6" stroke="#717171" stroke-width="1.1"/>
<path d="M112.4 160.1 111.1 162.8 108.6 164.5 107.2 167.1 108.0 170.0 107.6 173.0" stroke="#cdcdcd" stroke-width="0.5"/>
<path d="M109.3 158.1 110.8 158.2 112.1 159.0 112.9 160.4 112.8 161.9 111.9 163.2 110.5 163.9 109.1 163.9 108.3 163.3 108.4 162.5 109.4 161.9 110.8 161.9 112.2 162.7 113.1 164.0 113.1 165.6 112.2 166.9 110.8 167.7 109.4 167.7 108.6 167.1 108.6 166.3 109.5 165.7 110.9 165.7" stroke="#808080" stroke-width="0.8"/>
<path d="M120.8 158.0 121.2 159.6 120.6 161.1 119.2 162.1 117.8 162.2 117.0 161.6 117.1 160.7 118.2 160.2 119.8 160.3 121.2 161.2 121.7 162.7 121.2 164.3 120.0 165.4 118.5 165.6 117.6 165.1 117.6 164.3 118.5 163.6 120.1 163.6 121.5 164.5 122.2 165.9 121.9 167.5" stroke="#686868" stroke-width="0.8"/>
<path d="M120.3 164.1 119.4 164.6 118.1 164.1 117.1 162.7 117.0 160.8 118.0 159.4 119.8 158.9 121.5 159.4 122.5 160.5 122.5 161.6 121.5 161.9 120.2 161.2 119.3 159.7 119.4 157.9 120.6 156.5 122.4 156.2 124.0 156.9 124.9 158.0 124.6 159.0 123.5 159.2 122.2 158.3 121.5 156.6 121.8 154.9 123.1 153.7 124.9 153.6 126.5 154.4 127.2 155.6 126.7 156.5 125.5 156.4 124.3 155.4 123.7 153.6" stroke="#7f7f7f" stroke-width="1.1"/>
<path d="M28.3 167.4 29.9 164.9 31.7 162.5" stroke="#ababab" stroke-width="0.6"/>
<path d="M26.3 166.9 25.6 169.8 25.1 172.7 25.7 175.7" stroke="#d3d3d3" stroke-width="0.6"/>
<path d="M25.4 168.5 25.6 167.1 26.5 166.1 27.9 165.8 29.2 166.3 30.0 167.2 30.0 168.1 29.4 168.3 28.7 167.6 28.4 166.3 28.8 165.0 30.0 164.1 31.4 164.1 32.5 164.9 33.1 165.8 32.8 166.5 32.1 166.4 31.5 165.5 31.5 164.1 32.2 162.9 33.5 162.3 34.8 162.6 35.8 163.5 36.0 164.4 35.6 164.8 34.9 164.4 34.4 163.3 34.6 161.9 35.6 160.9 37.0 160.6 38.2 161.1 39.0 162.1 39.0 162.9 38.4 163.1" stroke="#757575" stroke-width="0.8"/>
<path d="M35.7 166.4 36.0 169.4 34.8 172.1 35.3 175.1" stroke="#c9c9c9" stroke-width="0.5"/>
<path d="M41.4 169.9 41.6 168.8 42.9 168.0 44.7 168.0 46.3 168.9 47.0 170.6 46.5 172.4 45.1 173.6 43.5 173.9 42.6 173.3 42.7 172.2 44.0 171.4 45.8 171.3 47.4 172.2 48.1 173.9 47.7 175.7 46.3 177.0 44.8 177.3 43.8 176.7 43.9 175.6 45.1 174.8 46.9 174.7 48.5 175.6 49.3 177.2 48.9 179.0 47.6 180.3 46.0 180.7" stroke="#818181" stroke-width="1.0"/>
<path d="M48.7 166.0 47.3 168.6 44.3 169.2 42.5 171.6 42.3 174.6 40.4 176.9 39.5 179.8" stroke="#bcbcbc" stroke-width="0.6"/>
<path d="M51.3 167.4 48.4 166.7 46.0 168.4" stroke="#a0a0a0" stroke-width="0.4"/>
<path d="M59.2 167.5 61.9 168.8 64.9 168.2 66.9 166.0 69.5 164.5 72.5 164.9" stroke="#afafaf" stroke-width="0.5"/>
<path d="M56.9 164.9 57.0 164.2 57.6 164.2 58.1 164.9 58.2 166.1 57.6 167.3 56.4 168.0 55.1 167.8 54.1 167.0 53.7 166.1 53.9 165.5 54.5 165.7 55.0 166.6 54.9 167.9 54.1 168.9 52.9 169.4 51.6 169.0 50.7 168.2 50.5 167.3 50.9 166.9 51.5 167.2 51.8 168.3 51.5 169.6 50.6 170.5 49.3 170.8 48.1 170.3 47.4 169.3" stroke="#7b7b7b" stroke-width="0.8"/>
<path d="M64.4 167.9 69.1 174.9" stroke="#686868" stroke-width="0.9"/>
<path d="M63.1 168.8 67.7 175.7" stroke="#686868" stroke-width="0.9"/>
<path d="M61.8 169.7 66.3 176.4" stroke="#686868" stroke-width="0.9"/>
<path d="M64.6 168.6 63.5 167.2 63.4 165.4 64.1 164.0 65.2 163.7 65.8 164.6 65.4 166.0 64.1 167.2 62.3 167.5 60.8 166.6 60.2 164.9 60.6 163.2 61.6 162.3 62.5 162.6 62.6 163.9 61.7 165.3 60.1 166.1 58.3 165.8 57.2 164.4 57.2 162.6 57.9 161.2 59.0 160.9 59.5 161.8 59.2 163.3 57.8 164.5 56.0 164.7 54.6 163.8 54.0 162.0 54.3 160.4 55.3 159.5 56.2 159.9 56.4 161.1 55.5 162.5 53.8 163.3" stroke="#939393" stroke-width="0.7"/>
<path d="M67.5 165.6 69.5 163.4 70.9 160.7 69.4 158.1 70.1 155.2 69.1 152.3" stroke="#a3a3a3" stroke-width="0.5"/>
<path d="M66.3 165.8 67.6 166.6 68.4 167.9 68.3 169.4 67.4 170.7 66.0 171.3 64.5 171.1 63.7 170.4 63.8 169.6 64.7 169.2 66.0 169.6 67.1 170.7 67.5 172.2 66.9 173.7 65.7 174.6 64.2 174.7 63.0 174.2 62.6 173.4 63.2 172.8 64.4 172.8 65.6 173.6" stroke="#696969" stroke-width="0.7"/>
<path d="M76.5 168.5 75.7 169.0 75.0 168.6 74.7 167.3 75.1 165.8 76.3 164.6 77.9 164.3 79.4 165.0 80.3 166.3 80.5 167.8 79.9 168.8 79.1 168.8 78.5 168.0 78.6 166.5 79.4 165.1 80.8 164.3 82.4 164.4 83.7 165.4 84.3 166.9 84.1 168.2 83.4 168.8 82.6 168.4 82.2 167.2 82.6 165.7 83.7 164.5 85.3 164.1 86.8 164.7 87.8 166.0 88.1 167.5 87.6 168.5 86.8 168.7" stroke="#8d8d8d" stroke-width="1.1"/>
<path d="M83.6 165.2 82.7 166.3 80.9 166.9 79.1 166.4 78.0 164.9 78.1 163.1 79.2 161.5 80.7 160.9 81.9 161.4 81.9 162.5 80.8 163.6 79.0 163.9 77.2 163.2 76.3 161.7 76.6 159.8 77.9 158.4 79.4 158.0 80.4 158.6 80.2 159.8 78.9 160.8" stroke="#656565" stroke-width="0.8"/>
<path d="M88.3 165.6 80.2 173.0" stroke="#868686" stroke-width="0.9"/>
<path d="M87.2 164.5 79.2 171.8" stroke="#868686" stroke-width="0.9"/>
<path d="M86.1 163.3 78.7 170.1" stroke="#868686" stroke-width="0.9"/>
<path d="M100.1 166.9 102.3 169.0 104.7 170.9 107.6 170.4" stroke="#c8c8c8" stroke-width="0.5"/>
<path d="M106.6 166.5 104.5 164.4 101.5 164.6" stroke="#c0c0c0" stroke-width="0.5"/>
<path d="M112.1 166.4 110.3 163.9 108.7 161.4 107.2 158.8 105.1 156.7 104.0 153.9" stroke="#b7b7b7" stroke-width="0.5"/>
<path d="M110.1 165.6 111.4 166.7 112.0 168.3 111.6 169.9 110.4 171.1 108.8 171.5 107.2 171.1 106.3 170.3 106.3 169.4 107.2 169.0 108.5 169.3 109.7 170.4 110.3 172.1 109.9 173.7 108.6 174.8 107.0 175.2 105.4 174.8 104.6 173.9 104.7 173.0 105.6 172.7 106.9 173.1 108.1 174.2 108.5 175.9 108.1 177.5 106.8 178.6 105.1 178.9 103.7 178.4 102.9 177.5 103.0 176.7 103.9 176.4 105.3 176.8 106.4 178.0" stroke="#666666" stroke-width="0.8"/>
<path d="M114.6 164.7 115.6 164.2 116.9 164.1 118.3 164.6 119.3 165.7 119.6 167.1 119.2 168.6 118.3 169.7 117.1 170.2 116.0 170.2 115.5 169.8 115.6 169.1 116.4 168.5 117.7 168.3 119.1 168.7 120.2 169.6 120.7 171.0 120.5 172.4 119.7 173.6 118.5 174.4 117.4 174.5 116.7 174.1 116.6 173.4 117.3 172.8" stroke="#878787" stroke-width="0.7"/>
<path d="M75.4 18.6 75.3 17.1 76.2 15.9 77.6 15.4 78.8 15.7 79.0 16.4 78.2 16.8 76.9 16.5 75.9 15.4 75.7 13.9 76.5 12.7 77.9 12.1 79.1 12.4 79.4 13.0 78.7 13.5 77.4 13.3 76.3 12.2 76.1 10.8 76.8 9.4 78.2 8.8 79.4 9.0 79.8 9.7 79.2 10.2 78.0 10.0 76.8 9.1 76.5 7.6 77.1 6.2 78.4 5.5 79.7 5.6 80.2 6.3 79.7 6.8 78.5 6.8 77.3 5.9 76.8 4.4 77.4 3.0" stroke="#6a6a6a" stroke-width="0.9"/>
<path d="M111.1 22.5 112.3 22.7 113.1 23.2 113.3 23.8 113.0 24.1 112.3 23.9 111.5 23.1 111.1 22.0 111.3 20.7 112.0 19.7 113.1 19.1 114.3 19.1 115.3 19.5 115.8 20.1 115.6 20.6 115.0 20.6 114.3 20.0 113.7 19.0 113.6 17.7 114.1 16.6 115.1 15.8 116.4 15.6 117.5 15.8 118.2 16.4 118.2 17.0 117.8 17.2 117.0 16.8 116.4 16.0 116.1 14.7 116.3 13.5 117.2 12.6 118.4 12.1 119.6 12.2 120.4 12.7 120.8 13.3 120.5 13.7 119.8 13.6 119.1 12.9 118.6 11.8 118.6 10.5" stroke="#6a6a6a" stroke-width="0.9"/>
<path d="M3.9 27.7 3.3 27.6 3.2 26.7 4.0 25.6 5.4 25.0 6.8 25.4 7.7 26.5 7.8 28.0 7.2 29.0 6.5 29.2 6.2 28.4 6.7 27.3 8.0 26.6 9.4 26.6 10.5 27.6 10.9 29.1 10.4 30.3 9.7 30.7 9.2 30.2 9.5 29.1 10.6 28.2 12.1 28.0 13.3 28.7 13.9 30.1 13.6 31.5 12.9 32.1 12.3 31.9 12.3 30.9 13.2 29.8 14.7 29.4 16.0 29.9 16.8 31.1 16.8 32.6 16.1 33.5 15.4 33.5 15.3 32.7 15.9 31.6 17.2 30.9" stroke="#707070" stroke-width="0.9"/>
<path d="M113.4 81.5 113.8 82.7 113.4 83.4 112.7 83.2 112.2 82.1 112.5 80.7 113.6 79.6 115.1 79.5 116.4 80.3 116.9 81.5 116.7 82.4 116.0 82.4 115.5 81.4 115.6 80.0 116.5 78.8 117.9 78.5 119.3 79.1 120.1 80.2 120.0 81.2 119.4 81.5 118.8 80.7 118.7 79.4 119.4 78.1 120.8 77.5 122.2 77.9 123.2 78.9 123.3 80.1 122.8 80.5 122.1 80.0 121.8 78.7 122.4 77.3 123.6 76.5 125.1 76.7" stroke="#707070" stroke-width="0.9"/>
<path d="M119.0 169.0 119.6 169.3 119.6 169.6 119.1 169.8 118.2 169.7 117.3 169.1 116.7 168.0 116.6 166.9 117.2 165.8 118.1 165.1 119.0 164.9 119.7 165.1 119.9 165.4 119.5 165.7 118.7 165.7 117.8 165.2 117.1 164.2 116.9 163.1 117.3 162.0 118.1 161.2 119.1 160.8 119.9 160.9 120.2 161.3 120.0 161.6 119.2 161.6 118.3 161.2 117.5 160.4 117.2 159.3 117.4 158.1 118.2 157.2 119.2 156.8" stroke="#808080" stroke-width="0.8"/>
<path d="M78.9 138.3 79.3 137.5 80.1 136.8 81.2 136.6 82.2 136.8 83.1 137.6 83.4 138.6 83.3 139.6 82.9 140.2 82.5 140.2 82.4 139.8 82.7 139.0 83.5 138.3 84.6 138.0 85.7 138.3 86.5 139.0 86.9 140.1 86.8 141.1 86.4 141.7 86.0 141.7 85.9 141.3 86.2 140.6 86.9 139.9" stroke="#e8472e" stroke-width="0.9"/>
<path d="M84.0 116.8 83.7 116.9 83.6 116.6 83.9 116.1 84.5 115.5 85.4 115.2 86.3 115.3 87.2 115.8 87.7 116.6 87.9 117.5 87.7 118.1 87.4 118.4 87.3 118.2 87.4 117.7 87.9 117.2 88.7 116.7 89.7 116.7 90.6 117.0 91.2 117.8 91.5 118.6 91.4 119.4 91.2 119.8" stroke="#df4126" stroke-width="0.8"/>
<path d="M85.2 137.2 86.0 137.9 86.3 138.9 86.2 139.8 85.8 140.4 85.5 140.4 85.5 139.9 86.0 139.3 87.0 138.9 88.1 139.1 88.9 139.7 89.3 140.7 89.2 141.7 88.8 142.3 88.5 142.3 88.5 141.9 88.9 141.3 89.8 140.9 90.9 141.0 91.8 141.6 92.3 142.5 92.2 143.5 91.9 144.2 91.5 144.3 91.4 143.9 91.8 143.3 92.7 142.9" stroke="#e94624" stroke-width="0.9"/>
<path d="M86.6 102.9 86.3 103.7 85.8 104.1 85.5 104.0 85.5 103.5 85.9 103.0 86.8 102.5 87.8 102.5 88.7 102.9 89.3 103.8 89.5 104.8 89.2 105.6 88.8 106.2 88.4 106.2 88.2 105.9 88.5 105.3 89.3 104.8" stroke="#dc532a" stroke-width="0.8"/>
<path d="M90.0 127.8 91.0 127.5 92.2 127.6 93.2 128.2 93.8 129.2 93.9 130.4 93.6 131.4 93.1 132.1 92.5 132.3 92.2 132.1 92.3 131.6 92.9 131.0 93.9 130.6 95.0 130.7 96.1 131.2 96.8 132.1 97.0 133.2 96.8 134.3 96.2 135.1 95.6 135.4 95.3 135.3 95.3 134.8 95.8 134.2 96.7 133.8 97.8 133.7 98.9 134.1" stroke="#e54c30" stroke-width="0.8"/>
<path d="M73.8 121.8 76.3 120.0 79.3 120.1 81.9 121.6" stroke="#eb5231" stroke-width="0.6"/>
<path d="M84.0 114.9 84.1 117.9 86.2 120.1 89.1 120.5" stroke="#e04d22" stroke-width="0.6"/>
<path d="M84.3 125.8 84.5 125.3 84.9 124.8 85.7 124.4 86.6 124.3 87.5 124.6 88.2 125.2 88.6 126.0 88.7 126.8 88.5 127.3 88.3 127.5 88.2 127.4 88.4 126.9 88.8 126.4 89.6 126.0 90.5 125.9 91.4 126.2 92.1 126.8 92.5 127.6 92.6 128.4 92.4 128.9 92.2 129.2 92.1 129.0 92.3 128.5" stroke="#e24a22" stroke-width="0.8"/>
<path d="M79.1 99.1 79.8 99.9 80.2 101.0 80.0 102.0 79.5 102.7 79.0 102.9 78.8 102.6 79.0 102.0 79.7 101.3 80.7 100.9 81.8 101.0 82.8 101.7 83.3 102.7 83.3 103.8 83.0 104.7 82.5 105.1 82.1 105.0 82.0 104.5 82.5 103.8 83.4 103.3 84.5 103.2" stroke="#e94f2d" stroke-width="0.9"/>
<path d="M85.1 101.9 86.2 102.0 87.1 102.6 87.6 103.6 87.7 104.6 87.4 105.5 86.8 106.1 86.4 106.1 86.2 105.7 86.5 105.1 87.2 104.5 88.2 104.2 89.3 104.3 90.2 105.0 90.6 105.9 90.7 107.0 90.3 107.9" stroke="#de5323" stroke-width="0.9"/>
<path d="M84.7 103.8 86.8 101.7 87.9 98.9" stroke="#e04b31" stroke-width="0.6"/>
<path d="M76.8 131.3 79.7 130.6 82.0 128.6 83.3 126.0" stroke="#dd4d28" stroke-width="0.6"/>
<path d="M87.0 93.2 87.9 93.8 88.4 94.8 88.3 95.9 88.0 96.6 87.5 96.9 87.3 96.6 87.5 96.1 88.2 95.5 89.2 95.2 90.3 95.4 91.2 96.2 91.5 97.2 91.5 98.2 91.1 98.9 90.6 99.1 90.5 98.7 90.7 98.2 91.5 97.6 92.6 97.4 93.6 97.7 94.4 98.5 94.7 99.5 94.6 100.5 94.1 101.1 93.7 101.2" stroke="#da5033" stroke-width="1.0"/>
<path d="M81.6 88.5 82.8 88.6 83.7 89.4 84.1 90.6 83.9 91.7 83.3 92.3 82.9 92.2 82.9 91.6 83.5 90.9 84.6 90.4 85.8 90.6 86.7 91.5 87.1 92.6 86.8 93.7 86.3 94.3 85.8 94.1 85.9 93.5 86.5 92.8 87.7 92.4 88.9 92.6 89.7 93.5 90.0 94.7 89.7 95.7 89.2 96.2 88.8 96.1 88.9 95.4 89.5 94.7" stroke="#e84225" stroke-width="0.9"/>
<path d="M95.7 100.6 95.8 100.1 96.3 99.6 97.3 99.3 98.3 99.5 99.2 100.1 99.6 101.1 99.6 102.1 99.2 102.9 98.7 103.2 98.5 103.0 98.7 102.5 99.4 102.0 100.4 101.8 101.5 102.1 102.2 102.9 102.5 103.9 102.3 104.9 101.9 105.5 101.5 105.6 101.4 105.3 101.8 104.8 102.6 104.4 103.6 104.3 104.6 104.8 105.2 105.7 105.4 106.7" stroke="#e65820" stroke-width="0.9"/>
<path d="M84.4 106.0 87.3 105.3 90.2 106.1 93.1 107.0" stroke="#da4724" stroke-width="0.6"/>
<path d="M75.7 96.5 74.1 99.1 73.4 102.0" stroke="#e94b21" stroke-width="0.6"/>
<path d="M90.5 118.4 90.9 117.5 92.0 116.8 93.2 116.7 94.3 117.4 94.8 118.5 94.8 119.7 94.2 120.5 93.7 120.5 93.5 119.8 94.0 118.9 95.1 118.3 96.3 118.2 97.4 118.9 97.9 120.1 97.8 121.2 97.3 121.9 96.7 121.9 96.6 121.3" stroke="#dc4b31" stroke-width="1.0"/>
<path d="M85.9 100.8 84.8 98.0 85.2 95.0" stroke="#e84031" stroke-width="0.6"/>
<path d="M89.4 121.2 90.5 120.5 91.7 120.4 92.9 120.9 93.7 121.9 93.9 123.1 93.7 124.1 93.2 124.6 92.7 124.4 92.6 123.8 93.0 122.8 94.0 122.1 95.2 121.8 96.4 122.1 97.3 123.1 97.7 124.3 97.5 125.3 97.0 126.0 96.5 125.9 96.4 125.3 96.7 124.4 97.5 123.6 98.7 123.2 100.0 123.4 101.0 124.3 101.4 125.4 101.4 126.6 100.9 127.3" stroke="#e9492a" stroke-width="0.9"/>
<path d="M82.8 111.8 82.2 112.6 81.6 112.9 81.3 112.6 81.5 112.0 82.3 111.5 83.4 111.3 84.6 111.7 85.3 112.6 85.6 113.7 85.3 114.8 84.6 115.6 84.0 115.7 83.8 115.4 84.1 114.7 85.0 114.2 86.2 114.2 87.3 114.7 88.0 115.6 88.1 116.8 87.7 117.9 87.0 118.5 86.5 118.5 86.4 118.1 86.8 117.5 87.8 117.0 89.0 117.1 90.0 117.7 90.6 118.7" stroke="#ee4622" stroke-width="0.9"/>
<path d="M94.6 118.9 94.5 118.6 94.7 118.2 95.3 117.8 96.3 117.6 97.3 117.8 98.2 118.5 98.7 119.4 98.8 120.4 98.5 121.3 98.0 121.9 97.5 122.1 97.4 121.9 97.6 121.5 98.2 121.1 99.1 120.9 100.2 121.1 101.0 121.7 101.6 122.6 101.7 123.6 101.4 124.5 100.9 125.2 100.5 125.4 100.3 125.2 100.5 124.7 101.1 124.3" stroke="#ec4232" stroke-width="1.0"/>
<path d="M81.2 132.7 82.3 132.5 83.4 132.9 84.1 133.8 84.3 135.0 84.0 136.0 83.4 136.6 82.9 136.6 82.8 136.1 83.3 135.5 84.3 135.1 85.4 135.1 86.4 135.7 86.9 136.8 86.9 137.9 86.4 138.8 85.8 139.1 85.5 139.0 85.6 138.4 86.3 137.8 87.4 137.5 88.5 137.8 89.3 138.6" stroke="#de532a" stroke-width="1.0"/>
<path d="M73.2 109.1 72.8 109.3 72.5 109.0 72.7 108.4 73.2 107.8 74.1 107.3 75.2 107.2 76.2 107.5 77.0 108.2 77.4 109.2 77.4 110.2 77.1 111.0 76.7 111.4 76.4 111.3 76.4 110.8 76.8 110.1 77.6 109.5 78.6 109.3 79.7 109.4 80.6 110.0 81.1 111.0 81.3 112.0 81.1 112.9 80.7 113.4" stroke="#e14026" stroke-width="0.8"/>
<path d="M85.1 114.9 82.9 112.9 81.0 110.6" stroke="#dd4631" stroke-width="0.6"/>
<path d="M78.5 123.9 79.5 124.3 80.1 125.1 80.3 126.0 80.2 126.9 79.9 127.4 79.6 127.5 79.6 127.1 80.0 126.7 80.8 126.3 81.8 126.3 82.7 126.7 83.4 127.5 83.6 128.4 83.5 129.3 83.1 129.8 82.8 129.9 82.8 129.6 83.2 129.1 84.0 128.7 85.0 128.7 86.0 129.1 86.6 129.9 86.9 130.8 86.7 131.7 86.4 132.2 86.1 132.3 86.1 132.0" stroke="#da4d2e" stroke-width="0.9"/>
<path d="M86.9 123.1 87.7 123.9 88.0 125.1 87.7 126.2 87.2 126.9 86.6 127.1 86.4 126.8 86.7 126.2 87.4 125.6 88.6 125.4 89.7 125.7 90.5 126.5 90.8 127.7 90.6 128.8 90.1 129.5 89.5 129.8 89.3 129.5 89.5 128.9 90.3 128.3 91.4 128.1 92.5 128.4 93.4 129.2 93.7 130.3 93.5 131.4 93.0 132.2" stroke="#d85522" stroke-width="1.1"/>
<path d="M75.6 125.1 75.4 124.5 75.9 123.6 77.1 122.9 78.4 122.9 79.5 123.7 80.0 125.0 79.7 126.2 79.1 127.0 78.4 127.0 78.3 126.3 78.9 125.3 80.1 124.7 81.4 124.8 82.5 125.7 82.8 127.0 82.5 128.3 81.8 128.9 81.2 128.8 81.2 128.0 81.9 127.1 83.1 126.6 84.5 126.8 85.4 127.7 85.7 129.1" stroke="#dc4130" stroke-width="1.0"/>
<path d="M99.4 102.1 99.9 102.9 100.0 103.8 99.8 104.6 99.4 105.0 99.1 105.0 99.1 104.6 99.4 104.1 100.1 103.6 101.1 103.5 102.0 103.7 102.8 104.3 103.2 105.1 103.2 106.1 103.0 106.8 102.6 107.1" stroke="#e84327" stroke-width="0.9"/>
<path d="M78.7 124.8 79.8 125.2 80.4 126.1 80.5 127.1 80.2 127.9 79.8 128.2 79.7 127.9 80.0 127.4 80.8 126.9 81.9 126.9 82.8 127.4 83.3 128.4 83.3 129.4 82.9 130.1 82.5 130.2 82.5 129.8 83.0 129.2 83.9 128.9 85.0 129.0 85.8 129.7 86.1 130.7 86.0 131.7 85.6 132.2 85.3 132.1 85.4 131.7 86.0 131.1 87.0 130.9" stroke="#ee4029" stroke-width="1.0"/>
<path d="M96.8 98.0 95.5 95.3 95.8 92.3 95.2 89.4" stroke="#e15131" stroke-width="0.6"/>
<path d="M77.3 102.7 78.7 100.1 79.9 97.3" stroke="#ee552b" stroke-width="0.6"/>
<path d="M91.9 124.5 92.1 124.1 92.6 123.7 93.5 123.5 94.5 123.7 95.3 124.3 95.8 125.2 95.9 126.1 95.6 127.0 95.2 127.4 94.9 127.5 94.9 127.2 95.3 126.8 96.1 126.5 97.1 126.5 98.0 127.0 98.6 127.8 98.8 128.8 98.6 129.7 98.2 130.3 97.9 130.4 97.8 130.3 98.1 129.9 98.8 129.5 99.7 129.4 100.6 129.7 101.4 130.5" stroke="#e65629" stroke-width="1.1"/>
<path d="M71.5 105.8 71.1 105.7 71.3 105.1 72.0 104.5 73.2 104.4 74.3 104.9 74.9 105.9 74.9 107.0 74.4 107.9 73.8 108.2 73.6 107.9 73.9 107.3 74.8 106.8 76.0 106.8 77.0 107.5 77.4 108.6 77.3 109.7 76.7 110.4 76.2 110.5 76.1 110.1 76.6 109.4 77.7 109.1 78.8 109.3 79.7 110.1 79.9 111.3 79.6 112.3" stroke="#e0452c" stroke-width="0.8"/>
<path d="M82.4 109.4 82.2 110.6 81.6 111.5 80.9 111.8 80.6 111.5 80.9 110.8 81.8 110.3 83.0 110.2 84.1 110.8 84.7 111.9 84.7 113.1 84.1 114.1 83.4 114.4 83.0 114.2 83.2 113.5 84.1 113.0 85.3 112.8 86.4 113.4 87.1 114.4 87.1 115.7 86.5 116.7 85.8 117.1 85.4 116.9" stroke="#d9422a" stroke-width="1.0"/>
<path d="M79.1 124.8 79.3 125.8 79.2 126.6 78.9 127.2 78.6 127.4 78.5 127.2 78.6 126.7 79.2 126.1 80.0 125.7 81.0 125.7 82.0 126.1 82.7 126.8 83.0 127.7 83.0 128.6 82.7 129.3 82.4 129.6 82.2 129.4 82.3 129.0 82.8 128.4 83.6 128.0 84.5 127.9" stroke="#da5234" stroke-width="0.9"/>
<path d="M75.4 94.5 75.9 93.9 76.7 93.3 77.6 93.1 78.6 93.4 79.4 94.0 79.8 94.9 79.9 95.8 79.6 96.4 79.3 96.6 79.1 96.4 79.3 95.8 79.8 95.1 80.6 94.6 81.6 94.5 82.6 94.9 83.3 95.6 83.6 96.5 83.6 97.3 83.4 97.9 83.1 98.0 82.9 97.7 83.1 97.1" stroke="#ed4529" stroke-width="0.8"/>
<path d="M84.0 132.5 85.1 132.4 86.2 132.7 87.0 133.5 87.4 134.6 87.3 135.7 86.8 136.6 86.1 137.0 85.7 136.9 85.6 136.4 86.1 135.8 87.0 135.3 88.1 135.1 89.2 135.5 90.0 136.4 90.3 137.5 90.1 138.6" stroke="#de4433" stroke-width="0.9"/>
<path d="M71.7 105.1 71.5 106.0 71.1 106.7 70.7 106.8 70.6 106.5 71.0 106.0 71.8 105.6 72.8 105.5 73.7 106.0 74.4 106.8 74.6 107.8 74.4 108.7 73.9 109.2 73.6 109.2 73.6 108.9 74.1 108.3 74.9 108.0 76.0 108.1 76.9 108.6 77.4 109.5 77.5 110.5 77.2 111.3 76.8 111.7 76.5 111.6 76.6 111.2 77.2 110.7 78.2 110.4" stroke="#e8472f" stroke-width="1.0"/>
<path d="M74.0 116.9 73.3 117.3 72.9 117.0 73.2 116.4 74.0 115.8 75.1 115.6 76.3 116.0 77.1 117.0 77.2 118.2 76.8 119.3 76.2 119.9 75.6 119.9 75.6 119.4 76.2 118.7 77.2 118.3 78.4 118.5 79.4 119.3 79.8 120.4 79.7 121.6 79.0 122.5 78.4 122.7 78.1 122.4 78.4 121.7 79.3 121.2 80.5 121.1 81.7 121.6 82.3 122.6" stroke="#da4d28" stroke-width="1.1"/>
<path d="M84.2 99.4 85.4 102.1 85.7 105.1 83.8 107.4" stroke="#e04129" stroke-width="0.6"/>
<path d="M90.3 120.7 91.1 120.1 92.3 119.8 93.4 120.2 94.1 121.2 94.3 122.3 94.0 123.3 93.4 123.8 93.0 123.6 93.1 123.0 93.7 122.2 94.8 121.8 96.0 122.0 96.9 122.8 97.3 123.9 97.1 125.0 96.6 125.7 96.1 125.7 96.0 125.2 96.4 124.5 97.4 123.9 98.6 123.8 99.6 124.4 100.2 125.5 100.2 126.6" stroke="#e75224" stroke-width="0.9"/>
<path d="M79.0 135.5 82.0 135.7 83.6 138.3 86.0 140.0" stroke="#e34b2a" stroke-width="0.6"/>
<path d="M85.0 106.6 84.6 106.3 84.8 105.5 85.6 104.7 86.8 104.4 88.0 104.8 88.8 105.7 89.0 106.9 88.6 107.9 88.0 108.2 87.7 107.8 88.0 107.0 88.9 106.2 90.1 106.0 91.2 106.5 92.0 107.5 92.0 108.7 91.6 109.6 91.1 109.8 90.8 109.3 91.2 108.5 92.1 107.8 93.4 107.6 94.5 108.2 95.1 109.3 95.1 110.5 94.7 111.3 94.1 111.4" stroke="#eb4633" stroke-width="1.1"/>
<path d="M81.2 118.9 81.5 120.1 81.3 121.3 80.6 122.0 80.0 122.2 79.8 121.8 80.2 121.1 81.1 120.6 82.3 120.6 83.4 121.2 84.0 122.2 83.9 123.4 83.4 124.4 82.7 124.7 82.3 124.5 82.5 123.9 83.2 123.3 84.4 123.1 85.6 123.4 86.3 124.4 86.5 125.6 86.1 126.6" stroke="#de4830" stroke-width="1.0"/>
<path d="M82.1 98.9 83.9 96.6 86.9 96.9 88.4 99.5" stroke="#e44423" stroke-width="0.6"/>
<path d="M78.6 129.7 79.5 129.2 80.7 129.0 81.9 129.5 82.7 130.5 82.8 131.7 82.5 132.9 81.8 133.5 81.2 133.6 81.0 133.2 81.4 132.5 82.3 131.9 83.6 131.8 84.7 132.3 85.5 133.3 85.6 134.6 85.2 135.7 84.6 136.3 84.0 136.4 83.8 135.9 84.2 135.3 85.2 134.7 86.4 134.6 87.5 135.1 88.3 136.1 88.4 137.4 88.0 138.5" stroke="#df4d24" stroke-width="1.0"/>
<path d="M74.1 118.7 75.9 121.1 74.9 124.0" stroke="#e94a31" stroke-width="0.6"/>
<path d="M99.0 118.1 98.7 119.0 98.1 119.5 97.7 119.5 97.6 119.1 98.0 118.5 98.9 118.1 99.9 118.0 101.0 118.4 101.7 119.2 102.0 120.3 101.8 121.4 101.3 122.1 100.8 122.4 100.5 122.2 100.7 121.6 101.3 121.1 102.3 120.8 103.4 120.9 104.4 121.6 104.9 122.6 104.9 123.7 104.5 124.6 104.0 125.1 103.5 125.1 103.5 124.7" stroke="#eb562f" stroke-width="0.8"/>
<path d="M96.9 116.4 97.7 117.2 98.1 118.2 98.0 119.2 97.6 119.9 97.1 120.0 97.0 119.6 97.2 118.9 97.9 118.2 98.9 117.8 100.1 117.9 101.0 118.5 101.6 119.5 101.7 120.6 101.4 121.4 100.9 121.7 100.6 121.6 100.6 120.9 101.1 120.2 102.0 119.6 103.2 119.5 104.2 119.9 105.0 120.8" stroke="#ee4c2f" stroke-width="1.1"/>
<path d="M92.3 116.5 92.9 117.4 93.0 118.6 92.7 119.6 92.1 120.2 91.6 120.2 91.4 119.9 91.8 119.3 92.6 118.8 93.7 118.6 94.8 119.0 95.6 119.9 95.8 121.0 95.6 122.0 95.1 122.8 94.5 123.1 94.2 122.8 94.4 122.3 95.0 121.7 96.1 121.4 97.2 121.6 98.1 122.3 98.6 123.3 98.5 124.5 98.1 125.4" stroke="#e44029" stroke-width="1.0"/>
<path d="M75.9 107.4 76.1 106.8 76.8 106.2 78.0 106.0 79.1 106.4 79.8 107.4 79.8 108.6 79.4 109.5 78.7 110.0 78.3 109.8 78.4 109.2 79.2 108.6 80.3 108.4 81.5 108.9 82.1 109.8 82.2 111.0 81.7 112.0 81.0 112.4 80.6 112.2 80.8 111.6 81.6 111.0 82.7 110.8" stroke="#eb4b2c" stroke-width="0.8"/>
<path d="M70.4 103.0 71.3 102.6 72.2 102.5 73.2 102.8 73.9 103.4 74.4 104.3 74.5 105.1 74.4 105.9 74.1 106.2 73.8 106.2 73.7 105.9 74.0 105.3 74.5 104.7 75.4 104.3 76.3 104.2 77.3 104.5 78.0 105.1 78.5 105.9 78.6 106.8 78.5 107.5" stroke="#d84334" stroke-width="0.8"/>
<path d="M95.5 120.8 95.9 120.3 96.6 120.0 97.5 119.9 98.3 120.2 99.0 120.8 99.3 121.6 99.3 122.4 99.1 123.1 98.8 123.4 98.5 123.4 98.6 123.1 98.9 122.6 99.6 122.2 100.4 122.1 101.3 122.3 102.0 122.9" stroke="#d95134" stroke-width="0.8"/>
<path d="M78.7 92.0 81.5 91.0 84.4 90.3" stroke="#e95221" stroke-width="0.6"/>
<path d="M88.1 118.4 89.1 121.2 91.6 122.9" stroke="#e6512d" stroke-width="0.6"/>
<path d="M76.3 101.6 75.4 98.7 75.7 95.7" stroke="#ea5423" stroke-width="0.6"/>
<path d="M89.7 102.2 90.6 102.2 91.5 102.6 92.1 103.4 92.2 104.3 92.1 105.0 91.8 105.4 91.5 105.4 91.5 105.1 91.9 104.6 92.7 104.2 93.6 104.1 94.5 104.5 95.1 105.2 95.3 106.1 95.2 106.9" stroke="#e54a20" stroke-width="1.0"/>
<path d="M83.7 112.6 86.7 112.6 88.6 110.2" stroke="#e8492a" stroke-width="0.6"/>
<path d="M87.3 121.1 87.5 118.1 89.7 116.0" stroke="#e85421" stroke-width="0.6"/>
<path d="M92.1 107.8 92.8 108.6 93.0 109.7 92.7 110.6 92.2 111.0 91.9 110.8 92.1 110.2 92.9 109.7 94.0 109.6 95.0 110.0 95.6 110.9 95.6 112.0 95.3 112.8 94.8 113.1 94.6 112.8 95.0 112.2 95.8 111.7 96.9 111.7 97.8 112.3 98.4 113.2 98.3 114.3 97.9 115.0 97.5 115.2 97.4 114.8" stroke="#ee512f" stroke-width="0.8"/>
<path d="M80.2 117.7 81.1 118.3 81.6 119.4 81.6 120.4 81.2 121.1 80.8 121.3 80.6 121.0 80.9 120.3 81.6 119.7 82.7 119.4 83.8 119.7 84.7 120.4 85.0 121.5 84.9 122.5 84.5 123.1 84.1 123.2 84.0 122.8 84.4 122.1 85.2 121.5 86.4 121.3 87.4 121.7 88.2 122.5 88.5 123.6 88.3 124.5 87.9 125.1 87.5 125.1 87.5 124.6" stroke="#eb4024" stroke-width="1.0"/>
<path d="M80.6 107.0 79.6 104.2 79.1 101.2 79.9 98.3" stroke="#e74622" stroke-width="0.6"/>
<path d="M77.4 98.5 78.2 98.0 79.2 97.9 80.2 98.2 81.0 99.0 81.3 100.0 81.2 101.0 80.8 101.8 80.2 102.2 79.8 102.1 79.7 101.7 80.0 101.2 80.8 100.7 81.7 100.5 82.8 100.7 83.6 101.3" stroke="#d85330" stroke-width="0.8"/>
<path d="M95.9 109.7 97.3 109.8 98.4 110.6 98.8 112.0 98.4 113.3 97.6 114.0 97.0 113.9 97.0 113.2 97.7 112.3 99.0 111.8 100.4 112.1 101.3 113.2 101.5 114.6 101.0 115.8 100.2 116.3 99.6 116.0 99.8 115.1 100.7 114.3 102.1 114.0 103.4 114.5 104.2 115.7 104.1 117.1 103.5 118.2 102.7 118.5 102.3 118.0 102.7 117.1 103.8 116.4 105.2 116.3" stroke="#e25634" stroke-width="0.9"/>
<path d="M81.3 115.4 82.0 116.0 82.4 116.8 82.4 117.6 82.3 118.3 82.0 118.7 81.8 118.7 81.7 118.4 81.9 117.9 82.4 117.4 83.2 117.0 84.1 116.9 85.0 117.2 85.7 117.8 86.2 118.6 86.3 119.4 86.1 120.1" stroke="#de4625" stroke-width="0.9"/>
<path d="M75.9 106.1 72.9 105.7 70.6 107.5 70.8 110.5" stroke="#ec432b" stroke-width="0.6"/>
<path d="M84.7 111.7 85.4 112.6 85.6 113.6 85.3 114.5 84.8 115.0 84.4 114.9 84.6 114.5 85.3 114.0 86.3 113.8 87.3 114.2 88.0 115.1 88.1 116.2 87.8 117.1 87.2 117.5 87.0 117.4 87.1 116.9 87.9 116.4 88.9 116.3 89.9 116.8 90.5 117.7 90.6 118.8 90.2 119.6 89.7 120.0 89.5 119.8 89.7 119.3 90.5 118.9" stroke="#e15330" stroke-width="0.9"/>
<path d="M79.0 101.8 76.0 102.4 73.7 100.5" stroke="#e14323" stroke-width="0.6"/>
<path d="M94.6 119.7 95.5 120.1 96.2 120.9 96.3 121.8 96.2 122.6 95.8 123.0 95.6 123.0 95.7 122.5 96.2 122.0 97.1 121.7 98.1 121.9 98.9 122.4 99.4 123.3 99.4 124.3 99.1 124.9 98.7 125.1 98.6 124.9 98.9 124.4 99.6 124.0 100.6 123.8 101.5 124.1 102.2 124.9" stroke="#d84b2f" stroke-width="1.1"/>
</g>
<circle cx="78.3" cy="101.7" r="2.3" fill="#2a2ae8"/><circle cx="83.8" cy="102.5" r="1.7" fill="#e03020"/><defs>
<clipPath id="bclip2"><path d="M138.0,50.0 C138.5,32.5 140.0,47.7 141.0,47.0 C142.0,46.3 142.4,46.3 144.0,46.0 C145.6,45.7 148.6,45.5 150.5,45.3 C152.4,45.0 153.6,44.0 155.2,44.5 C156.8,45.0 158.7,47.5 160.0,48.4 C161.3,49.3 162.0,49.4 163.0,50.0 C164.0,50.6 164.7,52.0 166.0,52.3 C167.3,52.5 169.2,51.8 170.8,51.5 C172.4,51.2 173.6,51.3 175.4,50.8 C177.2,50.3 179.9,49.3 181.7,48.4 C183.5,47.5 185.1,47.5 186.3,45.3 C187.5,43.1 187.9,37.8 188.7,35.2 C189.5,32.6 189.8,31.1 191.0,29.8 C192.2,28.5 194.7,28.3 195.7,27.4 C196.7,26.5 195.9,25.1 197.2,24.3 C198.5,23.5 201.1,22.8 203.4,22.8 C205.7,22.8 209.4,23.0 211.2,24.3 C213.0,25.6 213.4,29.6 214.3,30.6 C215.2,31.7 215.2,30.8 216.5,30.6 C217.8,30.4 220.1,28.6 222.0,29.5 C223.9,30.4 226.2,35.3 228.2,36.0 C230.1,36.7 231.5,34.6 233.7,33.7 C235.9,32.8 238.3,30.9 241.4,30.6 C244.5,30.3 250.2,33.2 252.3,32.1 C254.4,31.0 253.1,25.8 254.0,24.0 C254.9,22.2 256.5,21.5 258.0,21.5 C259.5,21.5 261.9,22.5 263.0,24.0 C264.1,25.5 263.5,30.3 264.8,30.6 C266.1,30.9 269.0,27.1 271.0,26.0 C273.0,24.9 275.3,23.3 277.0,24.0 C278.7,24.7 279.7,27.3 281.0,30.0 C282.3,32.7 284.2,36.3 285.0,40.0 C285.8,43.7 285.5,48.7 286.0,52.3 C286.5,55.9 287.8,58.6 288.0,61.7 C288.2,64.8 288.4,68.6 287.3,71.0 C286.2,73.4 282.8,74.2 281.5,76.0 C280.2,77.8 280.1,78.7 279.5,81.5 C278.9,84.3 277.4,89.7 277.6,93.0 C277.8,96.3 279.1,99.4 280.5,101.6 C281.9,103.8 284.8,104.7 286.2,106.4 C287.6,108.1 288.7,110.1 289.0,112.0 C289.3,113.9 289.3,115.5 288.2,117.8 C287.1,120.0 285.0,123.9 282.4,125.5 C279.8,127.1 275.4,127.2 272.8,127.4 C270.2,127.6 269.2,127.1 267.0,126.5 C264.8,125.9 261.6,124.6 259.4,123.6 C257.2,122.6 255.3,120.1 253.7,120.7 C252.1,121.3 251.2,125.7 249.9,127.4 C248.6,129.1 247.1,130.6 246.0,131.0 C244.9,131.4 244.3,128.5 243.6,130.0 C242.9,131.5 242.6,136.7 242.0,140.0 C241.4,143.3 242.0,148.0 240.0,150.0 C238.0,152.0 236.7,151.5 230.0,152.0 C223.3,152.5 210.0,152.8 200.0,153.0 C190.0,153.2 179.2,153.0 170.0,153.0 C160.8,153.0 150.3,153.2 145.0,153.0 C139.7,152.8 139.2,169.2 138.0,152.0 C136.8,134.8 137.5,67.5 138.0,50.0 Z"/></clipPath>
<radialGradient id="gB" cx="0.42" cy="0.4" r="0.62" fx="0.36" fy="0.32"><stop offset="0" stop-color="#8ea8e4"/><stop offset="0.55" stop-color="#6f88ca"/><stop offset="1" stop-color="#44588f"/></radialGradient>
<radialGradient id="gR" cx="0.42" cy="0.4" r="0.62" fx="0.36" fy="0.32"><stop offset="0" stop-color="#e0907e"/><stop offset="0.55" stop-color="#c86c5a"/><stop offset="1" stop-color="#92483a"/></radialGradient>
<radialGradient id="gY" cx="0.42" cy="0.4" r="0.62" fx="0.36" fy="0.32"><stop offset="0" stop-color="#ecead0"/><stop offset="0.55" stop-color="#d6d2b0"/><stop offset="1" stop-color="#a8a482"/></radialGradient>
<linearGradient id="bfadeL2" x1="0" x2="1" y1="0" y2="0"><stop offset="0" stop-color="#fff" stop-opacity="1"/><stop offset="1" stop-color="#fff" stop-opacity="0"/></linearGradient>
<linearGradient id="bfadeB2" x1="0" x2="0" y1="0" y2="1"><stop offset="0" stop-color="#fff" stop-opacity="0"/><stop offset="1" stop-color="#fff" stop-opacity="1"/></linearGradient>
<linearGradient id="bfadeT2" x1="0" x2="0" y1="0" y2="1"><stop offset="0" stop-color="#fff" stop-opacity="1"/><stop offset="1" stop-color="#fff" stop-opacity="0"/></linearGradient>
</defs>
<filter id="bsoft" x="130" y="10" width="170" height="155" filterUnits="userSpaceOnUse"><feGaussianBlur stdDeviation="0.7"/></filter>
<g clip-path="url(#bclip2)"><g filter="url(#bsoft)">
<path d="M138.0,50.0 C138.5,32.5 140.0,47.7 141.0,47.0 C142.0,46.3 142.4,46.3 144.0,46.0 C145.6,45.7 148.6,45.5 150.5,45.3 C152.4,45.0 153.6,44.0 155.2,44.5 C156.8,45.0 158.7,47.5 160.0,48.4 C161.3,49.3 162.0,49.4 163.0,50.0 C164.0,50.6 164.7,52.0 166.0,52.3 C167.3,52.5 169.2,51.8 170.8,51.5 C172.4,51.2 173.6,51.3 175.4,50.8 C177.2,50.3 179.9,49.3 181.7,48.4 C183.5,47.5 185.1,47.5 186.3,45.3 C187.5,43.1 187.9,37.8 188.7,35.2 C189.5,32.6 189.8,31.1 191.0,29.8 C192.2,28.5 194.7,28.3 195.7,27.4 C196.7,26.5 195.9,25.1 197.2,24.3 C198.5,23.5 201.1,22.8 203.4,22.8 C205.7,22.8 209.4,23.0 211.2,24.3 C213.0,25.6 213.4,29.6 214.3,30.6 C215.2,31.7 215.2,30.8 216.5,30.6 C217.8,30.4 220.1,28.6 222.0,29.5 C223.9,30.4 226.2,35.3 228.2,36.0 C230.1,36.7 231.5,34.6 233.7,33.7 C235.9,32.8 238.3,30.9 241.4,30.6 C244.5,30.3 250.2,33.2 252.3,32.1 C254.4,31.0 253.1,25.8 254.0,24.0 C254.9,22.2 256.5,21.5 258.0,21.5 C259.5,21.5 261.9,22.5 263.0,24.0 C264.1,25.5 263.5,30.3 264.8,30.6 C266.1,30.9 269.0,27.1 271.0,26.0 C273.0,24.9 275.3,23.3 277.0,24.0 C278.7,24.7 279.7,27.3 281.0,30.0 C282.3,32.7 284.2,36.3 285.0,40.0 C285.8,43.7 285.5,48.7 286.0,52.3 C286.5,55.9 287.8,58.6 288.0,61.7 C288.2,64.8 288.4,68.6 287.3,71.0 C286.2,73.4 282.8,74.2 281.5,76.0 C280.2,77.8 280.1,78.7 279.5,81.5 C278.9,84.3 277.4,89.7 277.6,93.0 C277.8,96.3 279.1,99.4 280.5,101.6 C281.9,103.8 284.8,104.7 286.2,106.4 C287.6,108.1 288.7,110.1 289.0,112.0 C289.3,113.9 289.3,115.5 288.2,117.8 C287.1,120.0 285.0,123.9 282.4,125.5 C279.8,127.1 275.4,127.2 272.8,127.4 C270.2,127.6 269.2,127.1 267.0,126.5 C264.8,125.9 261.6,124.6 259.4,123.6 C257.2,122.6 255.3,120.1 253.7,120.7 C252.1,121.3 251.2,125.7 249.9,127.4 C248.6,129.1 247.1,130.6 246.0,131.0 C244.9,131.4 244.3,128.5 243.6,130.0 C242.9,131.5 242.6,136.7 242.0,140.0 C241.4,143.3 242.0,148.0 240.0,150.0 C238.0,152.0 236.7,151.5 230.0,152.0 C223.3,152.5 210.0,152.8 200.0,153.0 C190.0,153.2 179.2,153.0 170.0,153.0 C160.8,153.0 150.3,153.2 145.0,153.0 C139.7,152.8 139.2,169.2 138.0,152.0 C136.8,134.8 137.5,67.5 138.0,50.0 Z" fill="#5a70ac"/>
<circle cx="199.8" cy="33.6" r="11.0" fill="url(#gR)"/>
<circle cx="223.2" cy="37.4" r="9.8" fill="url(#gY)"/>
<circle cx="225.5" cy="38.3" r="9.4" fill="url(#gY)"/>
<circle cx="238.8" cy="35.1" r="10.9" fill="url(#gB)"/>
<circle cx="237.1" cy="36.0" r="8.6" fill="url(#gB)"/>
<circle cx="233.2" cy="28.6" r="11.5" fill="url(#gB)"/>
<circle cx="210.7" cy="36.1" r="7.8" fill="url(#gR)"/>
<circle cx="240.5" cy="30.9" r="12.3" fill="url(#gB)"/>
<circle cx="194.6" cy="27.1" r="10.2" fill="url(#gB)"/>
<circle cx="272.5" cy="35.9" r="10.2" fill="url(#gB)"/>
<circle cx="216.3" cy="38.1" r="12.3" fill="url(#gB)"/>
<circle cx="270.8" cy="36.9" r="7.9" fill="url(#gB)"/>
<circle cx="245.1" cy="41.2" r="12.0" fill="url(#gB)"/>
<circle cx="277.6" cy="44.8" r="11.1" fill="url(#gR)"/>
<circle cx="207.4" cy="41.3" r="9.4" fill="url(#gB)"/>
<circle cx="226.4" cy="36.5" r="7.8" fill="url(#gY)"/>
<circle cx="151.6" cy="43.4" r="8.3" fill="url(#gB)"/>
<circle cx="263.6" cy="31.4" r="9.0" fill="url(#gR)"/>
<circle cx="197.6" cy="42.5" r="12.3" fill="url(#gB)"/>
<circle cx="204.2" cy="37.6" r="8.7" fill="url(#gR)"/>
<circle cx="152.9" cy="47.7" r="7.3" fill="url(#gB)"/>
<circle cx="286.1" cy="40.6" r="11.1" fill="url(#gB)"/>
<circle cx="186.7" cy="37.1" r="9.8" fill="url(#gB)"/>
<circle cx="158.2" cy="46.6" r="8.4" fill="url(#gB)"/>
<circle cx="182.3" cy="50.4" r="9.7" fill="url(#gB)"/>
<circle cx="205.4" cy="55.6" r="7.2" fill="url(#gB)"/>
<circle cx="241.2" cy="43.5" r="11.9" fill="url(#gB)"/>
<circle cx="139.3" cy="53.8" r="11.5" fill="url(#gB)"/>
<circle cx="278.0" cy="48.0" r="8.8" fill="url(#gR)"/>
<circle cx="270.2" cy="49.1" r="10.4" fill="url(#gB)"/>
<circle cx="148.1" cy="60.8" r="11.4" fill="url(#gB)"/>
<circle cx="184.6" cy="47.1" r="9.8" fill="url(#gB)"/>
<circle cx="151.5" cy="51.3" r="8.0" fill="url(#gB)"/>
<circle cx="159.5" cy="62.3" r="12.1" fill="url(#gY)"/>
<circle cx="231.2" cy="58.5" r="12.4" fill="url(#gB)"/>
<circle cx="207.4" cy="50.5" r="8.5" fill="url(#gB)"/>
<circle cx="166.9" cy="61.8" r="8.8" fill="url(#gB)"/>
<circle cx="245.3" cy="56.8" r="12.0" fill="url(#gB)"/>
<circle cx="194.9" cy="59.6" r="9.4" fill="url(#gB)"/>
<circle cx="208.5" cy="59.3" r="7.1" fill="url(#gB)"/>
<circle cx="152.5" cy="67.1" r="8.0" fill="url(#gB)"/>
<circle cx="239.1" cy="62.3" r="7.6" fill="url(#gB)"/>
<circle cx="175.0" cy="66.0" r="8.4" fill="url(#gB)"/>
<circle cx="237.9" cy="56.2" r="8.2" fill="url(#gB)"/>
<circle cx="206.9" cy="66.4" r="9.6" fill="url(#gB)"/>
<circle cx="225.4" cy="61.3" r="7.9" fill="url(#gB)"/>
<circle cx="194.3" cy="67.9" r="11.4" fill="url(#gB)"/>
<circle cx="208.4" cy="58.9" r="8.1" fill="url(#gB)"/>
<circle cx="153.6" cy="65.2" r="7.2" fill="url(#gB)"/>
<circle cx="278.2" cy="61.3" r="12.3" fill="url(#gB)"/>
<circle cx="249.0" cy="66.0" r="9.4" fill="url(#gB)"/>
<circle cx="147.5" cy="57.8" r="9.1" fill="url(#gB)"/>
<circle cx="264.6" cy="60.6" r="10.6" fill="url(#gB)"/>
<circle cx="209.8" cy="57.8" r="11.2" fill="url(#gB)"/>
<circle cx="266.6" cy="59.9" r="7.1" fill="url(#gB)"/>
<circle cx="237.9" cy="73.0" r="11.6" fill="url(#gB)"/>
<circle cx="159.6" cy="59.9" r="12.3" fill="url(#gY)"/>
<circle cx="210.1" cy="71.2" r="8.2" fill="url(#gB)"/>
<circle cx="286.8" cy="69.3" r="10.0" fill="url(#gB)"/>
<circle cx="246.3" cy="74.2" r="9.8" fill="url(#gB)"/>
<circle cx="206.9" cy="75.7" r="9.9" fill="url(#gB)"/>
<circle cx="208.5" cy="62.6" r="9.1" fill="url(#gB)"/>
<circle cx="231.3" cy="65.1" r="9.1" fill="url(#gB)"/>
<circle cx="158.9" cy="76.3" r="7.4" fill="url(#gB)"/>
<circle cx="141.7" cy="66.2" r="10.4" fill="url(#gB)"/>
<circle cx="141.0" cy="68.7" r="7.9" fill="url(#gB)"/>
<circle cx="231.2" cy="73.2" r="12.5" fill="url(#gB)"/>
<circle cx="268.7" cy="78.2" r="11.3" fill="url(#gB)"/>
<circle cx="190.7" cy="68.3" r="12.0" fill="url(#gB)"/>
<circle cx="266.0" cy="72.6" r="8.6" fill="url(#gB)"/>
<circle cx="254.8" cy="79.1" r="10.0" fill="url(#gB)"/>
<circle cx="200.4" cy="76.2" r="11.0" fill="url(#gB)"/>
<circle cx="261.2" cy="69.3" r="9.9" fill="url(#gB)"/>
<circle cx="197.0" cy="79.1" r="12.3" fill="url(#gB)"/>
<circle cx="230.5" cy="76.8" r="7.1" fill="url(#gB)"/>
<circle cx="191.8" cy="82.0" r="11.4" fill="url(#gB)"/>
<circle cx="234.8" cy="72.8" r="9.9" fill="url(#gB)"/>
<circle cx="258.4" cy="74.6" r="10.7" fill="url(#gB)"/>
<circle cx="275.6" cy="82.5" r="10.9" fill="url(#gB)"/>
<circle cx="203.2" cy="73.1" r="11.0" fill="url(#gB)"/>
<circle cx="197.1" cy="82.9" r="11.1" fill="url(#gB)"/>
<circle cx="246.0" cy="84.1" r="12.3" fill="url(#gB)"/>
<circle cx="211.3" cy="74.7" r="10.9" fill="url(#gB)"/>
<circle cx="172.3" cy="80.3" r="8.4" fill="url(#gB)"/>
<circle cx="203.7" cy="89.6" r="10.2" fill="url(#gB)"/>
<circle cx="248.9" cy="86.1" r="8.2" fill="url(#gB)"/>
<circle cx="247.9" cy="89.0" r="12.0" fill="url(#gB)"/>
<circle cx="165.8" cy="84.7" r="8.1" fill="url(#gB)"/>
<circle cx="202.0" cy="91.7" r="7.0" fill="url(#gB)"/>
<circle cx="201.2" cy="91.5" r="8.0" fill="url(#gB)"/>
<circle cx="217.2" cy="83.0" r="8.7" fill="url(#gB)"/>
<circle cx="151.0" cy="90.3" r="10.9" fill="url(#gB)"/>
<circle cx="211.5" cy="93.4" r="12.0" fill="url(#gB)"/>
<circle cx="245.5" cy="91.4" r="8.3" fill="url(#gB)"/>
<circle cx="197.2" cy="91.6" r="12.1" fill="url(#gB)"/>
<circle cx="152.6" cy="91.1" r="11.7" fill="url(#gB)"/>
<circle cx="200.1" cy="86.0" r="8.1" fill="url(#gB)"/>
<circle cx="218.0" cy="96.5" r="8.3" fill="url(#gB)"/>
<circle cx="245.6" cy="84.5" r="7.3" fill="url(#gB)"/>
<circle cx="137.8" cy="83.0" r="10.9" fill="url(#gB)"/>
<circle cx="276.4" cy="82.5" r="10.1" fill="url(#gB)"/>
<circle cx="218.1" cy="84.9" r="12.3" fill="url(#gB)"/>
<circle cx="140.8" cy="95.2" r="8.1" fill="url(#gB)"/>
<circle cx="224.3" cy="83.4" r="8.1" fill="url(#gB)"/>
<circle cx="214.7" cy="90.5" r="10.6" fill="url(#gB)"/>
<circle cx="215.6" cy="90.8" r="11.3" fill="url(#gB)"/>
<circle cx="236.6" cy="87.4" r="11.4" fill="url(#gB)"/>
<circle cx="230.5" cy="103.0" r="10.2" fill="url(#gB)"/>
<circle cx="153.5" cy="93.7" r="12.2" fill="url(#gB)"/>
<circle cx="151.9" cy="96.1" r="7.5" fill="url(#gB)"/>
<circle cx="208.0" cy="92.2" r="9.7" fill="url(#gB)"/>
<circle cx="157.5" cy="103.7" r="9.4" fill="url(#gB)"/>
<circle cx="235.2" cy="94.2" r="8.0" fill="url(#gB)"/>
<circle cx="260.5" cy="106.0" r="8.7" fill="url(#gB)"/>
<circle cx="181.5" cy="105.1" r="10.7" fill="url(#gB)"/>
<circle cx="205.0" cy="107.5" r="12.1" fill="url(#gB)"/>
<circle cx="252.1" cy="100.1" r="8.1" fill="url(#gB)"/>
<circle cx="164.7" cy="114.8" r="9.1" fill="url(#gB)"/>
<circle cx="171.1" cy="105.0" r="9.2" fill="url(#gB)"/>
<circle cx="229.2" cy="100.3" r="10.0" fill="url(#gB)"/>
<circle cx="211.7" cy="112.5" r="8.8" fill="url(#gB)"/>
<circle cx="274.0" cy="113.5" r="8.7" fill="url(#gB)"/>
<circle cx="249.8" cy="102.9" r="12.0" fill="url(#gB)"/>
<circle cx="209.9" cy="104.7" r="8.7" fill="url(#gB)"/>
<circle cx="139.0" cy="113.9" r="7.6" fill="url(#gB)"/>
<circle cx="219.9" cy="104.2" r="10.6" fill="url(#gB)"/>
<circle cx="267.1" cy="112.2" r="7.1" fill="url(#gB)"/>
<circle cx="195.1" cy="105.2" r="11.7" fill="url(#gB)"/>
<circle cx="262.1" cy="106.6" r="9.2" fill="url(#gB)"/>
<circle cx="226.4" cy="108.3" r="10.4" fill="url(#gB)"/>
<circle cx="270.5" cy="116.7" r="9.6" fill="url(#gY)"/>
<circle cx="145.7" cy="111.2" r="7.8" fill="url(#gB)"/>
<circle cx="246.0" cy="120.8" r="8.2" fill="url(#gY)"/>
<circle cx="240.6" cy="113.4" r="9.4" fill="url(#gB)"/>
<circle cx="256.5" cy="115.1" r="11.3" fill="url(#gY)"/>
<circle cx="202.7" cy="113.1" r="12.1" fill="url(#gB)"/>
<circle cx="151.0" cy="106.9" r="9.8" fill="url(#gB)"/>
<circle cx="252.3" cy="110.2" r="11.2" fill="url(#gB)"/>
<circle cx="266.3" cy="121.0" r="10.7" fill="url(#gY)"/>
<circle cx="167.7" cy="116.5" r="11.8" fill="url(#gB)"/>
<circle cx="171.7" cy="116.4" r="10.8" fill="url(#gB)"/>
<circle cx="147.9" cy="123.7" r="8.1" fill="url(#gB)"/>
<circle cx="255.5" cy="121.6" r="12.0" fill="url(#gY)"/>
<circle cx="233.4" cy="130.0" r="10.9" fill="url(#gB)"/>
<circle cx="238.8" cy="126.8" r="11.0" fill="url(#gB)"/>
<circle cx="151.7" cy="132.2" r="11.2" fill="url(#gR)"/>
<circle cx="148.5" cy="123.6" r="8.0" fill="url(#gB)"/>
<circle cx="152.4" cy="132.5" r="10.4" fill="url(#gR)"/>
<circle cx="153.5" cy="132.6" r="9.1" fill="url(#gR)"/>
<circle cx="198.1" cy="129.7" r="11.5" fill="url(#gB)"/>
<circle cx="255.0" cy="128.6" r="8.9" fill="url(#gB)"/>
<circle cx="211.7" cy="135.2" r="10.6" fill="url(#gB)"/>
<circle cx="237.4" cy="132.2" r="7.1" fill="url(#gB)"/>
<circle cx="219.1" cy="132.4" r="7.5" fill="url(#gB)"/>
<circle cx="242.4" cy="140.6" r="7.8" fill="url(#gB)"/>
<circle cx="214.1" cy="134.4" r="8.9" fill="url(#gB)"/>
<circle cx="217.6" cy="136.4" r="8.9" fill="url(#gB)"/>
<circle cx="189.4" cy="141.0" r="12.1" fill="url(#gB)"/>
<circle cx="228.8" cy="141.5" r="8.0" fill="url(#gB)"/>
<circle cx="205.1" cy="139.9" r="8.7" fill="url(#gB)"/>
<circle cx="143.8" cy="143.8" r="8.3" fill="url(#gB)"/>
<circle cx="148.6" cy="137.0" r="10.5" fill="url(#gR)"/>
<circle cx="168.8" cy="141.3" r="9.3" fill="url(#gB)"/>
<circle cx="167.1" cy="146.6" r="11.5" fill="url(#gR)"/>
<circle cx="209.8" cy="150.2" r="9.0" fill="url(#gB)"/>
<circle cx="169.1" cy="144.9" r="12.3" fill="url(#gB)"/>
<circle cx="210.4" cy="143.1" r="8.0" fill="url(#gB)"/>
<circle cx="243.6" cy="150.8" r="11.1" fill="url(#gB)"/>
<circle cx="148.9" cy="151.6" r="7.1" fill="url(#gR)"/>
<circle cx="156.0" cy="149.2" r="10.7" fill="url(#gR)"/>
<circle cx="150" cy="120" r="5.5" fill="url(#gR)"/>
<circle cx="158" cy="114" r="5.5" fill="url(#gR)"/>
<circle cx="163" cy="124" r="6" fill="url(#gR)"/>
<circle cx="164" cy="136" r="6" fill="url(#gR)"/>
<circle cx="163" cy="147" r="6" fill="url(#gR)"/>
<circle cx="157" cy="128" r="7" fill="url(#gR)"/>
<circle cx="153" cy="140" r="7" fill="url(#gR)"/>
<circle cx="160" cy="146" r="6.5" fill="url(#gR)"/>
<circle cx="148" cy="148" r="5" fill="url(#gR)"/>
<circle cx="162" cy="117" r="5" fill="url(#gR)"/>
<circle cx="204" cy="28" r="6" fill="url(#gR)"/>
<circle cx="209" cy="34" r="5" fill="url(#gR)"/>
<circle cx="258" cy="29" r="4.5" fill="url(#gR)"/>
<circle cx="281" cy="44" r="5" fill="url(#gR)"/>
<circle cx="279" cy="37" r="4" fill="url(#gR)"/>
<circle cx="153" cy="57" r="6" fill="url(#gY)"/>
<circle cx="160" cy="62" r="5" fill="url(#gY)"/>
<circle cx="221" cy="35" r="5" fill="url(#gY)"/>
<circle cx="250" cy="119" r="5" fill="url(#gY)"/>
<circle cx="259" cy="121" r="5.5" fill="url(#gY)"/>
<circle cx="267" cy="122" r="5" fill="url(#gY)"/>
<circle cx="148" cy="151" r="5" fill="url(#gY)"/>
<circle cx="144" cy="127" r="6" fill="#3c5088"/>
</g>
<ellipse cx="222.2" cy="34.7" rx="1.1" ry="0.6" fill="#fff" opacity="0.85" transform="rotate(54 222.2 34.7)"/>
<ellipse cx="191.0" cy="23.2" rx="0.8" ry="0.8" fill="#fff" opacity="0.85" transform="rotate(-59 191.0 23.2)"/>
<ellipse cx="273.7" cy="40.6" rx="1.0" ry="0.7" fill="#fff" opacity="0.85" transform="rotate(-8 273.7 40.6)"/>
<ellipse cx="204.1" cy="37.7" rx="1.2" ry="0.6" fill="#fff" opacity="0.85" transform="rotate(-55 204.1 37.7)"/>
<ellipse cx="201.2" cy="34.3" rx="1.2" ry="0.5" fill="#fff" opacity="0.85" transform="rotate(-30 201.2 34.3)"/>
<ellipse cx="183.3" cy="33.4" rx="1.2" ry="0.5" fill="#fff" opacity="0.85" transform="rotate(12 183.3 33.4)"/>
<ellipse cx="155.3" cy="43.4" rx="0.8" ry="0.6" fill="#fff" opacity="0.85" transform="rotate(-59 155.3 43.4)"/>
<ellipse cx="178.9" cy="46.7" rx="1.0" ry="0.6" fill="#fff" opacity="0.85" transform="rotate(18 178.9 46.7)"/>
<ellipse cx="202.9" cy="52.8" rx="1.0" ry="0.7" fill="#fff" opacity="0.85" transform="rotate(-12 202.9 52.8)"/>
<ellipse cx="135.3" cy="49.4" rx="0.9" ry="0.7" fill="#fff" opacity="0.85" transform="rotate(-15 135.3 49.4)"/>
<ellipse cx="181.2" cy="43.4" rx="0.9" ry="0.9" fill="#fff" opacity="0.85" transform="rotate(36 181.2 43.4)"/>
<ellipse cx="155.3" cy="57.7" rx="1.0" ry="0.6" fill="#fff" opacity="0.85" transform="rotate(-18 155.3 57.7)"/>
<ellipse cx="226.9" cy="53.8" rx="1.1" ry="0.9" fill="#fff" opacity="0.85" transform="rotate(17 226.9 53.8)"/>
<ellipse cx="163.8" cy="58.5" rx="0.9" ry="0.7" fill="#fff" opacity="0.85" transform="rotate(-9 163.8 58.5)"/>
<ellipse cx="241.2" cy="52.3" rx="0.8" ry="0.8" fill="#fff" opacity="0.85" transform="rotate(54 241.2 52.3)"/>
<ellipse cx="149.7" cy="64.1" rx="0.8" ry="0.8" fill="#fff" opacity="0.85" transform="rotate(57 149.7 64.1)"/>
<ellipse cx="203.5" cy="62.8" rx="1.1" ry="0.6" fill="#fff" opacity="0.85" transform="rotate(42 203.5 62.8)"/>
<ellipse cx="222.7" cy="58.3" rx="1.1" ry="0.7" fill="#fff" opacity="0.85" transform="rotate(4 222.7 58.3)"/>
<ellipse cx="190.3" cy="63.5" rx="1.3" ry="0.8" fill="#fff" opacity="0.85" transform="rotate(-10 190.3 63.5)"/>
<ellipse cx="260.9" cy="56.6" rx="1.0" ry="0.7" fill="#fff" opacity="0.85" transform="rotate(-5 260.9 56.6)"/>
<ellipse cx="233.9" cy="68.6" rx="1.0" ry="0.8" fill="#fff" opacity="0.85" transform="rotate(24 233.9 68.6)"/>
<ellipse cx="155.3" cy="55.2" rx="1.2" ry="0.6" fill="#fff" opacity="0.85" transform="rotate(-42 155.3 55.2)"/>
<ellipse cx="242.9" cy="70.5" rx="0.9" ry="0.9" fill="#fff" opacity="0.85" transform="rotate(37 242.9 70.5)"/>
<ellipse cx="203.5" cy="71.9" rx="1.2" ry="0.7" fill="#fff" opacity="0.85" transform="rotate(-11 203.5 71.9)"/>
<ellipse cx="226.8" cy="68.5" rx="0.6" ry="0.7" fill="#fff" opacity="0.85" transform="rotate(-46 226.8 68.5)"/>
<ellipse cx="186.5" cy="63.7" rx="1.0" ry="0.8" fill="#fff" opacity="0.85" transform="rotate(-39 186.5 63.7)"/>
<ellipse cx="251.3" cy="75.3" rx="0.7" ry="0.7" fill="#fff" opacity="0.85" transform="rotate(-12 251.3 75.3)"/>
<ellipse cx="257.8" cy="65.5" rx="0.7" ry="0.5" fill="#fff" opacity="0.85" transform="rotate(-56 257.8 65.5)"/>
<ellipse cx="192.7" cy="74.4" rx="1.1" ry="0.5" fill="#fff" opacity="0.85" transform="rotate(-20 192.7 74.4)"/>
<ellipse cx="228.1" cy="74.1" rx="1.2" ry="0.9" fill="#fff" opacity="0.85" transform="rotate(45 228.1 74.1)"/>
<ellipse cx="254.6" cy="70.6" rx="1.0" ry="0.6" fill="#fff" opacity="0.85" transform="rotate(-24 254.6 70.6)"/>
<ellipse cx="241.7" cy="79.5" rx="0.8" ry="0.7" fill="#fff" opacity="0.85" transform="rotate(9 241.7 79.5)"/>
<ellipse cx="207.4" cy="70.5" rx="1.2" ry="0.9" fill="#fff" opacity="0.85" transform="rotate(-38 207.4 70.5)"/>
<ellipse cx="169.3" cy="77.1" rx="1.2" ry="0.8" fill="#fff" opacity="0.85" transform="rotate(-33 169.3 77.1)"/>
<ellipse cx="246.0" cy="83.0" rx="1.2" ry="0.7" fill="#fff" opacity="0.85" transform="rotate(1 246.0 83.0)"/>
<ellipse cx="243.7" cy="84.4" rx="0.9" ry="0.7" fill="#fff" opacity="0.85" transform="rotate(-17 243.7 84.4)"/>
<ellipse cx="163.0" cy="81.6" rx="0.7" ry="0.8" fill="#fff" opacity="0.85" transform="rotate(51 163.0 81.6)"/>
<ellipse cx="147.2" cy="86.2" rx="0.7" ry="0.8" fill="#fff" opacity="0.85" transform="rotate(-60 147.2 86.2)"/>
<ellipse cx="207.3" cy="88.8" rx="1.1" ry="0.6" fill="#fff" opacity="0.85" transform="rotate(-38 207.3 88.8)"/>
<ellipse cx="242.6" cy="88.2" rx="1.2" ry="0.5" fill="#fff" opacity="0.85" transform="rotate(45 242.6 88.2)"/>
<ellipse cx="193.0" cy="87.0" rx="1.0" ry="0.7" fill="#fff" opacity="0.85" transform="rotate(-45 193.0 87.0)"/>
<ellipse cx="197.2" cy="82.9" rx="1.2" ry="0.9" fill="#fff" opacity="0.85" transform="rotate(-6 197.2 82.9)"/>
<ellipse cx="243.1" cy="81.8" rx="0.7" ry="0.7" fill="#fff" opacity="0.85" transform="rotate(-51 243.1 81.8)"/>
<ellipse cx="137.9" cy="92.2" rx="0.6" ry="0.9" fill="#fff" opacity="0.85" transform="rotate(-35 137.9 92.2)"/>
<ellipse cx="221.5" cy="80.3" rx="0.7" ry="0.7" fill="#fff" opacity="0.85" transform="rotate(-4 221.5 80.3)"/>
<ellipse cx="211.0" cy="86.5" rx="0.6" ry="0.6" fill="#fff" opacity="0.85" transform="rotate(34 211.0 86.5)"/>
<ellipse cx="211.6" cy="86.5" rx="0.8" ry="0.7" fill="#fff" opacity="0.85" transform="rotate(16 211.6 86.5)"/>
<ellipse cx="149.3" cy="93.3" rx="1.2" ry="0.5" fill="#fff" opacity="0.85" transform="rotate(-46 149.3 93.3)"/>
<ellipse cx="204.6" cy="88.6" rx="1.1" ry="0.7" fill="#fff" opacity="0.85" transform="rotate(51 204.6 88.6)"/>
<ellipse cx="177.7" cy="101.1" rx="1.3" ry="0.8" fill="#fff" opacity="0.85" transform="rotate(-36 177.7 101.1)"/>
<ellipse cx="249.3" cy="97.0" rx="0.6" ry="0.8" fill="#fff" opacity="0.85" transform="rotate(26 249.3 97.0)"/>
<ellipse cx="225.7" cy="96.5" rx="1.1" ry="0.9" fill="#fff" opacity="0.85" transform="rotate(21 225.7 96.5)"/>
<ellipse cx="208.6" cy="109.1" rx="0.8" ry="0.5" fill="#fff" opacity="0.85" transform="rotate(15 208.6 109.1)"/>
<ellipse cx="245.6" cy="98.4" rx="1.2" ry="0.9" fill="#fff" opacity="0.85" transform="rotate(-18 245.6 98.4)"/>
<ellipse cx="136.3" cy="111.1" rx="0.8" ry="0.7" fill="#fff" opacity="0.85" transform="rotate(46 136.3 111.1)"/>
<ellipse cx="264.7" cy="109.5" rx="1.3" ry="0.7" fill="#fff" opacity="0.85" transform="rotate(33 264.7 109.5)"/>
<ellipse cx="191.0" cy="100.7" rx="0.8" ry="0.5" fill="#fff" opacity="0.85" transform="rotate(-38 191.0 100.7)"/>
<ellipse cx="258.9" cy="103.1" rx="0.9" ry="0.8" fill="#fff" opacity="0.85" transform="rotate(40 258.9 103.1)"/>
<ellipse cx="222.8" cy="104.3" rx="1.2" ry="0.8" fill="#fff" opacity="0.85" transform="rotate(-19 222.8 104.3)"/>
<ellipse cx="267.2" cy="113.1" rx="1.3" ry="0.8" fill="#fff" opacity="0.85" transform="rotate(-55 267.2 113.1)"/>
<ellipse cx="243.1" cy="117.7" rx="0.9" ry="0.8" fill="#fff" opacity="0.85" transform="rotate(-33 243.1 117.7)"/>
<ellipse cx="237.3" cy="109.8" rx="1.0" ry="0.9" fill="#fff" opacity="0.85" transform="rotate(-50 237.3 109.8)"/>
<ellipse cx="147.5" cy="103.2" rx="1.1" ry="0.7" fill="#fff" opacity="0.85" transform="rotate(25 147.5 103.2)"/>
<ellipse cx="262.6" cy="117.0" rx="1.0" ry="0.6" fill="#fff" opacity="0.85" transform="rotate(-5 262.6 117.0)"/>
<ellipse cx="163.5" cy="112.0" rx="0.7" ry="0.6" fill="#fff" opacity="0.85" transform="rotate(-19 163.5 112.0)"/>
<ellipse cx="167.9" cy="112.3" rx="1.0" ry="0.8" fill="#fff" opacity="0.85" transform="rotate(-29 167.9 112.3)"/>
<ellipse cx="251.3" cy="117.0" rx="0.8" ry="0.6" fill="#fff" opacity="0.85" transform="rotate(55 251.3 117.0)"/>
<ellipse cx="147.7" cy="127.9" rx="0.7" ry="0.5" fill="#fff" opacity="0.85" transform="rotate(-24 147.7 127.9)"/>
<ellipse cx="145.7" cy="120.5" rx="0.6" ry="0.7" fill="#fff" opacity="0.85" transform="rotate(23 145.7 120.5)"/>
<ellipse cx="150.3" cy="129.2" rx="0.6" ry="0.8" fill="#fff" opacity="0.85" transform="rotate(-14 150.3 129.2)"/>
<ellipse cx="194.1" cy="125.3" rx="0.7" ry="0.6" fill="#fff" opacity="0.85" transform="rotate(-28 194.1 125.3)"/>
<ellipse cx="251.9" cy="125.2" rx="0.8" ry="0.7" fill="#fff" opacity="0.85" transform="rotate(38 251.9 125.2)"/>
<ellipse cx="208.0" cy="131.2" rx="0.9" ry="0.7" fill="#fff" opacity="0.85" transform="rotate(41 208.0 131.2)"/>
<ellipse cx="239.6" cy="137.6" rx="1.2" ry="0.6" fill="#fff" opacity="0.85" transform="rotate(9 239.6 137.6)"/>
<ellipse cx="185.2" cy="136.4" rx="0.7" ry="0.5" fill="#fff" opacity="0.85" transform="rotate(51 185.2 136.4)"/>
<ellipse cx="202.0" cy="136.6" rx="0.7" ry="0.8" fill="#fff" opacity="0.85" transform="rotate(0 202.0 136.6)"/>
<ellipse cx="140.8" cy="140.7" rx="1.0" ry="0.6" fill="#fff" opacity="0.85" transform="rotate(-34 140.8 140.7)"/>
<ellipse cx="206.7" cy="146.8" rx="1.3" ry="0.9" fill="#fff" opacity="0.85" transform="rotate(1 206.7 146.8)"/>
<ellipse cx="207.5" cy="140.0" rx="0.6" ry="0.8" fill="#fff" opacity="0.85" transform="rotate(-43 207.5 140.0)"/>
<rect x="135" y="15" width="9" height="145" fill="url(#bfadeL2)"/>
<rect x="135" y="145" width="170" height="10" fill="url(#bfadeB2)"/>
<rect x="250" y="15" width="35" height="10" fill="url(#bfadeT2)"/>
</g><line x1="201" y1="99" x2="205" y2="94" stroke="#e8e8e8" stroke-width="1.6" stroke-linecap="round"/>
<line x1="205" y1="94" x2="207" y2="90" stroke="#e8e8e8" stroke-width="1.6" stroke-linecap="round"/>
<line x1="205" y1="99" x2="210" y2="103" stroke="#e8e8e8" stroke-width="1.6" stroke-linecap="round"/>
<line x1="210" y1="103" x2="216" y2="101" stroke="#e8e8e8" stroke-width="1.6" stroke-linecap="round"/>
<line x1="216" y1="101" x2="220" y2="104" stroke="#e8e8e8" stroke-width="1.6" stroke-linecap="round"/>
<line x1="220" y1="104" x2="219" y2="110" stroke="#e8e8e8" stroke-width="1.6" stroke-linecap="round"/>
<line x1="219" y1="110" x2="213" y2="112" stroke="#e8e8e8" stroke-width="1.6" stroke-linecap="round"/>
<line x1="213" y1="112" x2="209" y2="108" stroke="#e8e8e8" stroke-width="1.6" stroke-linecap="round"/>
<line x1="209" y1="108" x2="210" y2="103" stroke="#e8e8e8" stroke-width="1.6" stroke-linecap="round"/>
<line x1="220" y1="104" x2="226" y2="102" stroke="#e8e8e8" stroke-width="1.6" stroke-linecap="round"/>
<line x1="226" y1="102" x2="229" y2="98" stroke="#e8e8e8" stroke-width="1.6" stroke-linecap="round"/>
<line x1="229" y1="98" x2="235" y2="99" stroke="#e8e8e8" stroke-width="1.6" stroke-linecap="round"/>
<line x1="235" y1="99" x2="234" y2="105" stroke="#e8e8e8" stroke-width="1.6" stroke-linecap="round"/>
<line x1="234" y1="105" x2="228" y2="107" stroke="#e8e8e8" stroke-width="1.6" stroke-linecap="round"/>
<line x1="228" y1="107" x2="226" y2="102" stroke="#e8e8e8" stroke-width="1.6" stroke-linecap="round"/>
<line x1="235" y1="99" x2="240" y2="100" stroke="#e8e8e8" stroke-width="1.6" stroke-linecap="round"/>
<line x1="240" y1="100" x2="244" y2="104" stroke="#e8e8e8" stroke-width="1.6" stroke-linecap="round"/>
<line x1="244" y1="104" x2="244" y2="111" stroke="#e8e8e8" stroke-width="1.6" stroke-linecap="round"/>
<line x1="244" y1="111" x2="238" y2="113" stroke="#e8e8e8" stroke-width="1.6" stroke-linecap="round"/>
<line x1="238" y1="113" x2="236" y2="107" stroke="#e8e8e8" stroke-width="1.6" stroke-linecap="round"/>
<line x1="236" y1="107" x2="240" y2="100" stroke="#e8e8e8" stroke-width="1.6" stroke-linecap="round"/>
<circle cx="205" cy="99" r="1.1" fill="#3a3ad8"/><circle cx="207" cy="91" r="1.1" fill="#d03030"/><circle cx="229" cy="98" r="1" fill="#3a3ad8"/><circle cx="228" cy="107" r="1" fill="#3a3ad8"/><circle cx="234" cy="105" r="1" fill="#3a3ad8"/><circle cx="215" cy="114" r="1" fill="#40d040"/><circle cx="243" cy="109" r="1.1" fill="#d03030"/><defs><clipPath id="e1c"><rect x="32.4" y="187.1" width="120.3" height="106"/></clipPath><clipPath id="e2c"><rect x="32.4" y="300.4" width="122" height="115.6"/></clipPath></defs>
<g clip-path="url(#e1c)">
<path d="M112.0,190.0 C114.2,190.3 120.7,190.3 125.0,192.0 C129.3,193.7 135.2,196.7 138.0,200.0 C140.8,203.3 143.0,209.3 142.0,212.0 C141.0,214.7 136.0,216.0 132.0,216.0 C128.0,216.0 120.3,212.7 118.0,212.0" fill="none" stroke="#f0b4b4" stroke-width="4" stroke-linecap="round" stroke-linejoin="round" opacity="0.55"/>
<path d="M40.0,218.0 C42.5,218.3 50.0,218.7 55.0,220.0 C60.0,221.3 65.0,224.0 70.0,226.0 C75.0,228.0 82.5,231.0 85.0,232.0" fill="none" stroke="#f0b4b4" stroke-width="3" stroke-linecap="round" stroke-linejoin="round" opacity="0.5"/>
<path d="M95.0,240.0 C96.7,241.0 102.2,244.0 105.0,246.0 C107.8,248.0 110.2,249.3 112.0,252.0 C113.8,254.7 115.3,260.3 116.0,262.0" fill="none" stroke="#f0b4b4" stroke-width="3" stroke-linecap="round" stroke-linejoin="round" opacity="0.4"/>
<g transform="rotate(-10 134 201)"><ellipse cx="134" cy="201" rx="6" ry="9" fill="none" stroke="#f4d4d4" stroke-width="2.8"/><path d="M128,201 A6,9 0 0 0 140,201" fill="none" stroke="#ec9a9c" stroke-width="2.8"/></g>
<path d="M91.0,189.0 C91.8,189.5 94.0,191.3 96.0,192.0 C98.0,192.7 100.7,193.2 103.0,193.0 C105.3,192.8 108.3,191.8 110.0,191.0 C111.7,190.2 112.5,188.5 113.0,188.0" fill="none" stroke="#e05a5e" stroke-width="3.4" stroke-linecap="round" stroke-linejoin="round" opacity="1.0"/>
<path d="M94.0,193.0 C94.0,194.2 93.5,197.7 94.0,200.0 C94.5,202.3 95.7,205.0 97.0,207.0 C98.3,209.0 101.2,211.2 102.0,212.0" fill="none" stroke="#e05a5e" stroke-width="3.6" stroke-linecap="round" stroke-linejoin="round" opacity="1.0"/>
<ellipse cx="100" cy="211" rx="4.5" ry="3" fill="#b8b8bc"/>
<path d="M102.0,214.0 C103.0,214.3 106.2,215.2 108.0,216.0 C109.8,216.8 112.3,217.3 113.0,219.0 C113.7,220.7 112.5,224.0 112.0,226.0 C111.5,228.0 111.5,229.5 110.0,231.0 C108.5,232.5 106.0,234.2 103.0,235.0 C100.0,235.8 93.8,235.8 92.0,236.0" fill="none" stroke="#e05a5e" stroke-width="1.3" stroke-linecap="round" stroke-linejoin="round" opacity="1.0"/>
<path d="M110.0,231.0 C110.7,232.2 112.5,235.7 114.0,238.0 C115.5,240.3 118.2,243.8 119.0,245.0" fill="none" stroke="#e05a5e" stroke-width="2.2" stroke-linecap="round" stroke-linejoin="round" opacity="0.85"/>
<path d="M153.0,195.0 C152.3,196.3 150.0,200.2 149.0,203.0 C148.0,205.8 147.2,209.0 147.0,212.0 C146.8,215.0 147.0,218.5 147.5,221.0 C148.0,223.5 149.6,226.0 150.0,227.0" fill="none" stroke="#e040e0" stroke-width="3.6" stroke-linecap="round" stroke-linejoin="round" opacity="1.0"/>
<path d="M152.0,199.0 C150.7,199.8 146.0,201.8 144.0,204.0 C142.0,206.2 140.0,209.5 140.0,212.0 C140.0,214.5 142.0,217.3 144.0,219.0 C146.0,220.7 150.7,221.5 152.0,222.0" fill="none" stroke="#e05a5e" stroke-width="0.9" stroke-linecap="round" stroke-linejoin="round" opacity="1.0"/>
<path d="M153.0,232.0 C151.7,232.3 147.3,233.0 145.0,234.0 C142.7,235.0 139.5,236.7 139.0,238.0 C138.5,239.3 140.2,241.5 142.0,242.0 C143.8,242.5 148.2,241.7 150.0,241.0 C151.8,240.3 152.5,238.5 153.0,238.0" fill="none" stroke="#e05a5e" stroke-width="1.0" stroke-linecap="round" stroke-linejoin="round" opacity="1.0"/>
<path d="M153.0,262.0 C152.0,263.3 148.2,267.0 147.0,270.0 C145.8,273.0 145.5,276.7 146.0,280.0 C146.5,283.3 148.8,287.8 150.0,290.0 C151.2,292.2 152.5,292.5 153.0,293.0" fill="none" stroke="#e05a5e" stroke-width="1.3" stroke-linecap="round" stroke-linejoin="round" opacity="1.0"/>
<path d="M35.6,242.0 L47.8,271.3 L45.9,272.1 L53.0,277.0 L54.5,268.5 L52.6,269.3 L40.4,240.0 Z" fill="#e87c82" stroke="#c04048" stroke-width="0.4"/>
<path d="M55.9,257.4 L74.9,284.7 L73.3,285.8 L81.0,289.0 L80.7,280.7 L79.0,281.8 L60.1,254.6 Z" fill="#e87c82" stroke="#c04048" stroke-width="0.4"/>
<path d="M51.0,277.0 C49.5,277.5 44.8,279.3 42.0,280.0 C39.2,280.7 35.3,280.8 34.0,281.0" fill="none" stroke="#e05a5e" stroke-width="1.2" stroke-linecap="round" stroke-linejoin="round" opacity="1.0"/>
<path d="M50.0,278.0 C51.3,278.7 55.3,280.5 58.0,282.0 C60.7,283.5 64.0,285.2 66.0,287.0 C68.0,288.8 69.3,292.0 70.0,293.0" fill="none" stroke="#e05a5e" stroke-width="1.2" stroke-linecap="round" stroke-linejoin="round" opacity="0.8"/>
<path d="M92.0,259.0 C92.8,260.5 95.2,264.8 97.0,268.0 C98.8,271.2 101.0,274.8 103.0,278.0 C105.0,281.2 107.3,284.5 109.0,287.0 C110.7,289.5 112.3,292.0 113.0,293.0" fill="none" stroke="#e05a60" stroke-width="3.6" stroke-linecap="round" stroke-linejoin="round" opacity="1.0"/>
<ellipse cx="109" cy="291" rx="4" ry="2.5" fill="#b8b8bc"/>
<path d="M138.0,236.0 C139.3,236.7 143.7,240.0 146.0,240.0 C148.3,240.0 151.0,236.7 152.0,236.0" fill="none" stroke="#e05a5e" stroke-width="1.0" stroke-linecap="round" stroke-linejoin="round" opacity="1.0"/>
<path d="M32,209 C40,211 48,214 52,217 L50,213 L58,221 L47,225 L50,221 C45,219 38,217 32,216 Z" fill="#f0f060" stroke="#c8c840" stroke-width="0.4"/>
<path d="M57.0,221.0 C58.0,220.7 61.3,220.0 63.0,219.0 C64.7,218.0 66.2,216.7 67.0,215.0 C67.8,213.3 67.8,210.0 68.0,209.0" fill="none" stroke="#e8e858" stroke-width="1.3" stroke-linecap="round" stroke-linejoin="round" opacity="1.0"/>
<path d="M87.2,260.3 L81.5,263.6 L75.8,260.3 L75.8,253.7 L81.5,250.4 L87.2,253.7Z" fill="#3a7a90" opacity="0.55"/>
<path d="M104.6,258.0 L100.7,263.3 L94.5,261.3 L94.5,254.7 L100.7,252.7Z" fill="#3a7a90" opacity="0.55"/>
<path d="M117.0,261.4 L111.0,264.9 L105.0,261.4 L105.0,254.6 L111.0,251.1 L117.0,254.5Z" fill="#3a7a90" opacity="0.55"/>
<line x1="71.3" y1="230.0" x2="65.9" y2="229.9" stroke="#2f6f84" stroke-width="3.4" stroke-linecap="round"/>
<line x1="65.9" y1="229.9" x2="64.4" y2="224.7" stroke="#2f6f84" stroke-width="3.4" stroke-linecap="round"/>
<line x1="64.4" y1="224.7" x2="68.9" y2="221.6" stroke="#2f6f84" stroke-width="3.4" stroke-linecap="round"/>
<line x1="68.9" y1="221.6" x2="73.2" y2="224.9" stroke="#2f6f84" stroke-width="3.4" stroke-linecap="round"/>
<line x1="73.2" y1="224.9" x2="71.3" y2="230.0" stroke="#2f6f84" stroke-width="3.4" stroke-linecap="round"/>
<line x1="72.7" y1="230.2" x2="77.0" y2="233.0" stroke="#2f6f84" stroke-width="3.4" stroke-linecap="round"/>
<line x1="70.0" y1="228.2" x2="64.7" y2="229.5" stroke="#2f6f84" stroke-width="3.4" stroke-linecap="round"/>
<line x1="64.7" y1="229.5" x2="61.9" y2="224.9" stroke="#2f6f84" stroke-width="3.4" stroke-linecap="round"/>
<line x1="61.9" y1="224.9" x2="65.4" y2="220.8" stroke="#2f6f84" stroke-width="3.4" stroke-linecap="round"/>
<line x1="65.4" y1="220.8" x2="70.4" y2="222.8" stroke="#2f6f84" stroke-width="3.4" stroke-linecap="round"/>
<line x1="70.4" y1="222.8" x2="70.0" y2="228.2" stroke="#2f6f84" stroke-width="3.4" stroke-linecap="round"/>
<line x1="70.5" y1="229.2" x2="77.0" y2="233.0" stroke="#2f6f84" stroke-width="3.4" stroke-linecap="round"/>
<line x1="69.5" y1="228.0" x2="65.3" y2="231.4" stroke="#2f6f84" stroke-width="3.4" stroke-linecap="round"/>
<line x1="65.3" y1="231.4" x2="60.7" y2="228.5" stroke="#2f6f84" stroke-width="3.4" stroke-linecap="round"/>
<line x1="60.7" y1="228.5" x2="62.1" y2="223.3" stroke="#2f6f84" stroke-width="3.4" stroke-linecap="round"/>
<line x1="62.1" y1="223.3" x2="67.5" y2="223.0" stroke="#2f6f84" stroke-width="3.4" stroke-linecap="round"/>
<line x1="67.5" y1="223.0" x2="69.5" y2="228.0" stroke="#2f6f84" stroke-width="3.4" stroke-linecap="round"/>
<line x1="69.0" y1="230.9" x2="77.0" y2="233.0" stroke="#2f6f84" stroke-width="3.4" stroke-linecap="round"/>
<line x1="75.1" y1="228.6" x2="70.6" y2="231.6" stroke="#2f6f84" stroke-width="3.4" stroke-linecap="round"/>
<line x1="70.6" y1="231.6" x2="66.4" y2="228.2" stroke="#2f6f84" stroke-width="3.4" stroke-linecap="round"/>
<line x1="66.4" y1="228.2" x2="68.3" y2="223.1" stroke="#2f6f84" stroke-width="3.4" stroke-linecap="round"/>
<line x1="68.3" y1="223.1" x2="73.7" y2="223.4" stroke="#2f6f84" stroke-width="3.4" stroke-linecap="round"/>
<line x1="73.7" y1="223.4" x2="75.1" y2="228.6" stroke="#2f6f84" stroke-width="3.4" stroke-linecap="round"/>
<line x1="74.8" y1="231.0" x2="77.0" y2="233.0" stroke="#2f6f84" stroke-width="3.4" stroke-linecap="round"/>
<line x1="74.2" y1="226.6" x2="69.6" y2="229.5" stroke="#2f6f84" stroke-width="3.4" stroke-linecap="round"/>
<line x1="69.6" y1="229.5" x2="65.4" y2="226.0" stroke="#2f6f84" stroke-width="3.4" stroke-linecap="round"/>
<line x1="65.4" y1="226.0" x2="67.5" y2="221.0" stroke="#2f6f84" stroke-width="3.4" stroke-linecap="round"/>
<line x1="67.5" y1="221.0" x2="72.9" y2="221.4" stroke="#2f6f84" stroke-width="3.4" stroke-linecap="round"/>
<line x1="72.9" y1="221.4" x2="74.2" y2="226.6" stroke="#2f6f84" stroke-width="3.4" stroke-linecap="round"/>
<line x1="73.9" y1="228.9" x2="77.0" y2="233.0" stroke="#2f6f84" stroke-width="3.4" stroke-linecap="round"/>
<line x1="78.6" y1="221.3" x2="78.6" y2="217.3" stroke="#2f6f84" stroke-width="3.4" stroke-linecap="round"/>
<line x1="79.1" y1="237.1" x2="83.0" y2="238.0" stroke="#2f6f84" stroke-width="3.4" stroke-linecap="round"/>
<line x1="82.7" y1="220.9" x2="80.5" y2="224.3" stroke="#2f6f84" stroke-width="3.4" stroke-linecap="round"/>
<line x1="74.7" y1="238.3" x2="72.5" y2="241.7" stroke="#2f6f84" stroke-width="3.4" stroke-linecap="round"/>
<line x1="82.2" y1="230.4" x2="80.7" y2="234.1" stroke="#2f6f84" stroke-width="3.4" stroke-linecap="round"/>
<line x1="67.6" y1="222.7" x2="71.1" y2="224.6" stroke="#2f6f84" stroke-width="3.4" stroke-linecap="round"/>
<line x1="63.6" y1="233.5" x2="67.6" y2="233.4" stroke="#2f6f84" stroke-width="3.4" stroke-linecap="round"/>
<line x1="63.9" y1="220.0" x2="67.9" y2="219.7" stroke="#2f6f84" stroke-width="3.4" stroke-linecap="round"/>
<line x1="72.8" y1="227.5" x2="73.1" y2="231.5" stroke="#2f6f84" stroke-width="3.4" stroke-linecap="round"/>
<line x1="74.3" y1="236.4" x2="70.4" y2="237.5" stroke="#2f6f84" stroke-width="3.4" stroke-linecap="round"/>
<line x1="77.0" y1="233.0" x2="82.0" y2="232.0" stroke="#2f6f84" stroke-width="3.4" stroke-linecap="round"/>
<line x1="82.0" y1="232.0" x2="86.0" y2="235.0" stroke="#2f6f84" stroke-width="3.4" stroke-linecap="round"/>
<line x1="77.0" y1="233.0" x2="78.0" y2="240.0" stroke="#2f6f84" stroke-width="3.4" stroke-linecap="round"/>
<line x1="78.0" y1="240.0" x2="77.0" y2="247.0" stroke="#2f6f84" stroke-width="3.4" stroke-linecap="round"/>
<line x1="87.2" y1="260.3" x2="81.5" y2="263.6" stroke="#2f6f84" stroke-width="3.4" stroke-linecap="round"/>
<line x1="81.5" y1="263.6" x2="75.8" y2="260.3" stroke="#2f6f84" stroke-width="3.4" stroke-linecap="round"/>
<line x1="75.8" y1="260.3" x2="75.8" y2="253.7" stroke="#2f6f84" stroke-width="3.4" stroke-linecap="round"/>
<line x1="75.8" y1="253.7" x2="81.5" y2="250.4" stroke="#2f6f84" stroke-width="3.4" stroke-linecap="round"/>
<line x1="81.5" y1="250.4" x2="87.2" y2="253.7" stroke="#2f6f84" stroke-width="3.4" stroke-linecap="round"/>
<line x1="87.2" y1="253.7" x2="87.2" y2="260.3" stroke="#2f6f84" stroke-width="3.4" stroke-linecap="round"/>
<line x1="104.6" y1="258.0" x2="100.7" y2="263.3" stroke="#2f6f84" stroke-width="3.4" stroke-linecap="round"/>
<line x1="100.7" y1="263.3" x2="94.5" y2="261.3" stroke="#2f6f84" stroke-width="3.4" stroke-linecap="round"/>
<line x1="94.5" y1="261.3" x2="94.5" y2="254.7" stroke="#2f6f84" stroke-width="3.4" stroke-linecap="round"/>
<line x1="94.5" y1="254.7" x2="100.7" y2="252.7" stroke="#2f6f84" stroke-width="3.4" stroke-linecap="round"/>
<line x1="100.7" y1="252.7" x2="104.6" y2="258.0" stroke="#2f6f84" stroke-width="3.4" stroke-linecap="round"/>
<line x1="117.0" y1="261.4" x2="111.0" y2="264.9" stroke="#2f6f84" stroke-width="3.4" stroke-linecap="round"/>
<line x1="111.0" y1="264.9" x2="105.0" y2="261.4" stroke="#2f6f84" stroke-width="3.4" stroke-linecap="round"/>
<line x1="105.0" y1="261.4" x2="105.0" y2="254.6" stroke="#2f6f84" stroke-width="3.4" stroke-linecap="round"/>
<line x1="105.0" y1="254.6" x2="111.0" y2="251.1" stroke="#2f6f84" stroke-width="3.4" stroke-linecap="round"/>
<line x1="111.0" y1="251.1" x2="117.0" y2="254.5" stroke="#2f6f84" stroke-width="3.4" stroke-linecap="round"/>
<line x1="117.0" y1="254.5" x2="117.0" y2="261.4" stroke="#2f6f84" stroke-width="3.4" stroke-linecap="round"/>
<line x1="87.2" y1="260.0" x2="93.8" y2="258.0" stroke="#2f6f84" stroke-width="3.4" stroke-linecap="round"/>
<line x1="117.0" y1="261.5" x2="125.0" y2="266.0" stroke="#2f6f84" stroke-width="3.4" stroke-linecap="round"/>
<line x1="125.0" y1="266.0" x2="131.0" y2="263.0" stroke="#2f6f84" stroke-width="3.4" stroke-linecap="round"/>
<line x1="125.0" y1="266.0" x2="127.0" y2="273.0" stroke="#2f6f84" stroke-width="3.4" stroke-linecap="round"/>
<line x1="131.0" y1="263.0" x2="137.0" y2="268.0" stroke="#2f6f84" stroke-width="3.4" stroke-linecap="round"/>
<line x1="127.0" y1="273.0" x2="133.0" y2="275.0" stroke="#2f6f84" stroke-width="3.4" stroke-linecap="round"/>
<circle cx="73.8" cy="232.8" r="1.9" fill="#a4a4e6"/>
<circle cx="65.1" cy="231.1" r="1.9" fill="#a4a4e6"/>
<circle cx="61.7" cy="224.6" r="1.9" fill="#a4a4e6"/>
<circle cx="69.2" cy="219.7" r="1.9" fill="#a4a4e6"/>
<circle cx="75.0" cy="224.1" r="1.9" fill="#a4a4e6"/>
<circle cx="71.1" cy="229.4" r="1.9" fill="#a4a4e6"/>
<circle cx="63.3" cy="232.9" r="1.9" fill="#a4a4e6"/>
<circle cx="59.7" cy="224.0" r="1.9" fill="#a4a4e6"/>
<circle cx="65.3" cy="217.3" r="1.9" fill="#a4a4e6"/>
<circle cx="73.0" cy="220.6" r="1.9" fill="#a4a4e6"/>
<circle cx="71.6" cy="229.7" r="1.9" fill="#a4a4e6"/>
<circle cx="66.2" cy="233.8" r="1.9" fill="#a4a4e6"/>
<circle cx="59.1" cy="229.6" r="1.9" fill="#a4a4e6"/>
<circle cx="60.7" cy="220.6" r="1.9" fill="#a4a4e6"/>
<circle cx="69.9" cy="221.0" r="1.9" fill="#a4a4e6"/>
<circle cx="77.4" cy="228.9" r="1.9" fill="#a4a4e6"/>
<circle cx="69.7" cy="233.4" r="1.9" fill="#a4a4e6"/>
<circle cx="63.3" cy="229.1" r="1.9" fill="#a4a4e6"/>
<circle cx="65.8" cy="221.2" r="1.9" fill="#a4a4e6"/>
<circle cx="75.1" cy="220.9" r="1.9" fill="#a4a4e6"/>
<circle cx="76.7" cy="228.1" r="1.9" fill="#a4a4e6"/>
<circle cx="68.5" cy="233.2" r="1.9" fill="#a4a4e6"/>
<circle cx="61.8" cy="227.2" r="1.9" fill="#a4a4e6"/>
<circle cx="66.7" cy="217.7" r="1.9" fill="#a4a4e6"/>
<circle cx="75.2" cy="219.0" r="1.9" fill="#a4a4e6"/>
<circle cx="71.9" cy="216.2" r="1.8" fill="#a4a4e6"/>
<circle cx="59.1" cy="220.0" r="1.8" fill="#a4a4e6"/>
<circle cx="80.9" cy="220.3" r="1.8" fill="#a4a4e6"/>
<circle cx="76.1" cy="236.5" r="1.8" fill="#a4a4e6"/>
<circle cx="80.6" cy="223.6" r="1.8" fill="#a4a4e6"/>
<circle cx="66.5" cy="227.5" r="1.8" fill="#a4a4e6"/>
<circle cx="77.0" cy="233.0" r="2.0" fill="#2a2ad8"/>
<circle cx="81.0" cy="231.0" r="1.8" fill="#2a2ad8"/>
<circle cx="79.0" cy="235.0" r="1.6" fill="#2a2ad8"/>
<circle cx="87.0" cy="235.0" r="1.4" fill="#b01890"/>
<circle cx="86.0" cy="231.0" r="1.3" fill="#b01890"/>
<circle cx="90.4" cy="262.1" r="2.0" fill="#a4a4e6"/>
<circle cx="72.6" cy="262.1" r="2.0" fill="#a4a4e6"/>
<circle cx="72.6" cy="251.9" r="2.0" fill="#a4a4e6"/>
<circle cx="90.4" cy="251.9" r="2.0" fill="#a4a4e6"/>
<circle cx="86.8" cy="268.0" r="2.0" fill="#50d050"/>
<circle cx="101.0" cy="253.0" r="1.6" fill="#2a2ad8"/>
<circle cx="102.0" cy="263.0" r="1.6" fill="#2a2ad8"/>
<circle cx="112.0" cy="251.5" r="1.6" fill="#2a2ad8"/>
<circle cx="116.0" cy="264.5" r="1.6" fill="#2a2ad8"/>
<circle cx="125.0" cy="266.0" r="1.9" fill="#2a2ad8"/>
<circle cx="95.0" cy="266.0" r="2.0" fill="#a4a4e6"/>
<circle cx="121.0" cy="250.0" r="2.0" fill="#a4a4e6"/>
<circle cx="108.0" cy="268.0" r="2.0" fill="#a4a4e6"/>
<circle cx="122.0" cy="274.0" r="1.9" fill="#a4a4e6"/>
<circle cx="127.0" cy="278.0" r="1.9" fill="#a4a4e6"/>
<circle cx="133.0" cy="279.0" r="1.9" fill="#a4a4e6"/>
<circle cx="139.0" cy="265.0" r="1.9" fill="#a4a4e6"/>
<circle cx="139.0" cy="272.0" r="1.9" fill="#a4a4e6"/>
<circle cx="134.0" cy="259.0" r="1.9" fill="#a4a4e6"/>
<circle cx="129.0" cy="259.0" r="1.9" fill="#a4a4e6"/>
<circle cx="141.0" cy="269.0" r="1.9" fill="#a4a4e6"/>
<circle cx="123.0" cy="279.0" r="1.9" fill="#a4a4e6"/>
<circle cx="136.0" cy="276.0" r="1.9" fill="#a4a4e6"/>
</g>
<rect x="32.4" y="187.1" width="120.3" height="106" fill="none" stroke="#808080" stroke-width="0.9"/>
<text x="37.2" y="204.6" font-size="14" fill="#111">G</text><text x="49.2" y="200" font-size="9.4" fill="#111">98</text><g clip-path="url(#e2c)">
<path d="M70.0,338.0 C72.5,338.7 80.0,340.3 85.0,342.0 C90.0,343.7 95.5,345.7 100.0,348.0 C104.5,350.3 109.2,353.3 112.0,356.0 C114.8,358.7 116.2,362.7 117.0,364.0" fill="none" stroke="#f0b4b4" stroke-width="3.5" stroke-linecap="round" stroke-linejoin="round" opacity="0.45"/>
<path d="M40.0,363.0 C42.0,363.8 48.7,365.8 52.0,368.0 C55.3,370.2 58.7,374.7 60.0,376.0" fill="none" stroke="#f0b4b4" stroke-width="3" stroke-linecap="round" stroke-linejoin="round" opacity="0.4"/>
<g transform="rotate(-10 137 316)"><ellipse cx="137" cy="316" rx="6.5" ry="9" fill="none" stroke="#f4d4d4" stroke-width="2.8"/><path d="M130.5,316 A6.5,9 0 0 0 143.5,316" fill="none" stroke="#ec9a9c" stroke-width="2.8"/></g>
<path d="M127.0,306.0 C127.0,308.3 126.5,315.3 127.0,320.0 C127.5,324.7 128.2,330.3 130.0,334.0 C131.8,337.7 135.3,341.0 138.0,342.0 C140.7,343.0 144.7,340.3 146.0,340.0" fill="none" stroke="#e05a5e" stroke-width="0.9" stroke-linecap="round" stroke-linejoin="round" opacity="0.8"/>
<path d="M82.0,302.0 C82.7,302.7 84.2,305.2 86.0,306.0 C87.8,306.8 90.7,307.2 93.0,307.0 C95.3,306.8 98.2,306.0 100.0,305.0 C101.8,304.0 103.3,301.7 104.0,301.0" fill="none" stroke="#e05a5e" stroke-width="3.4" stroke-linecap="round" stroke-linejoin="round" opacity="1.0"/>
<path d="M84.0,307.0 C84.0,308.2 83.5,311.7 84.0,314.0 C84.5,316.3 85.5,319.2 87.0,321.0 C88.5,322.8 92.0,324.3 93.0,325.0" fill="none" stroke="#e05a5e" stroke-width="3.6" stroke-linecap="round" stroke-linejoin="round" opacity="1.0"/>
<ellipse cx="93" cy="325" rx="5" ry="3" fill="#b8b8bc"/>
<path d="M98.0,327.0 C99.0,327.8 102.5,330.2 104.0,332.0 C105.5,333.8 106.8,336.0 107.0,338.0 C107.2,340.0 106.7,342.3 105.0,344.0 C103.3,345.7 100.0,347.2 97.0,348.0 C94.0,348.8 90.3,349.3 87.0,349.0 C83.7,348.7 78.7,346.5 77.0,346.0" fill="none" stroke="#e05a5e" stroke-width="1.2" stroke-linecap="round" stroke-linejoin="round" opacity="1.0"/>
<path d="M100.0,305.0 C101.0,304.7 104.3,303.8 106.0,303.0 C107.7,302.2 109.3,300.5 110.0,300.0" fill="none" stroke="#e05a5e" stroke-width="2.2" stroke-linecap="round" stroke-linejoin="round" opacity="1.0"/>
<path d="M155.0,322.0 C154.3,323.5 152.0,327.8 151.0,331.0 C150.0,334.2 149.0,337.7 149.0,341.0 C149.0,344.3 150.7,349.3 151.0,351.0" fill="none" stroke="#e040e0" stroke-width="3.4" stroke-linecap="round" stroke-linejoin="round" opacity="1.0"/>
<path d="M155.0,348.0 C153.5,348.7 148.8,350.3 146.0,352.0 C143.2,353.7 139.7,355.7 138.0,358.0 C136.3,360.3 135.3,363.7 136.0,366.0 C136.7,368.3 139.7,371.3 142.0,372.0 C144.3,372.7 147.8,371.2 150.0,370.0 C152.2,368.8 154.2,365.8 155.0,365.0" fill="none" stroke="#e05a5e" stroke-width="1.0" stroke-linecap="round" stroke-linejoin="round" opacity="0.85"/>
<path d="M155.0,382.0 C153.7,383.0 149.2,385.3 147.0,388.0 C144.8,390.7 142.7,394.3 142.0,398.0 C141.3,401.7 142.3,407.0 143.0,410.0 C143.7,413.0 145.5,415.0 146.0,416.0" fill="none" stroke="#e05a5e" stroke-width="1.3" stroke-linecap="round" stroke-linejoin="round" opacity="1.0"/>
<path d="M35.0,377.0 C34.8,378.5 33.8,383.0 34.0,386.0 C34.2,389.0 35.7,393.5 36.0,395.0" fill="none" stroke="#e4646a" stroke-width="3.2" stroke-linecap="round" stroke-linejoin="round" opacity="1.0"/>
<path d="M47.0,364.0 C48.8,365.7 54.5,370.3 58.0,374.0 C61.5,377.7 65.7,382.0 68.0,386.0 C70.3,390.0 71.7,394.3 72.0,398.0 C72.3,401.7 70.0,405.0 70.0,408.0 C70.0,411.0 71.7,414.7 72.0,416.0" fill="none" stroke="#e05a5e" stroke-width="1.6" stroke-linecap="round" stroke-linejoin="round" opacity="1.0"/>
<path d="M53.6,373.1 L75.5,402.1 L74.4,402.9 L80.0,405.0 L79.5,399.0 L78.4,399.9 L56.4,370.9 Z" fill="#e87c82" stroke="#c04048" stroke-width="0.4"/>
<path d="M108.0,381.0 C108.8,382.8 111.3,388.2 113.0,392.0 C114.7,395.8 116.5,400.0 118.0,404.0 C119.5,408.0 121.3,414.0 122.0,416.0" fill="none" stroke="#e05a5e" stroke-width="1.1" stroke-linecap="round" stroke-linejoin="round" opacity="1.0"/>
<ellipse cx="110" cy="414" rx="4" ry="2.3" fill="#d87880"/>
<path d="M32.4,321 C38,324 44,327 48,330 L46,326 L54,334 L43,339 L46,334 C41,332 37,330 32.4,329 Z" fill="#f0f060" stroke="#c8c840" stroke-width="0.4"/>
<path d="M52.0,333.0 C53.2,332.5 57.2,331.2 59.0,330.0 C60.8,328.8 62.0,327.3 63.0,326.0 C64.0,324.7 64.7,322.7 65.0,322.0" fill="none" stroke="#e8e858" stroke-width="1.3" stroke-linecap="round" stroke-linejoin="round" opacity="1.0"/>
<line x1="62.6" y1="334.9" x2="60.7" y2="341.7" stroke="#3a8096" stroke-width="2.0" stroke-linecap="round"/>
<line x1="60.7" y1="341.7" x2="53.6" y2="342.0" stroke="#3a8096" stroke-width="2.0" stroke-linecap="round"/>
<line x1="53.6" y1="342.0" x2="51.2" y2="335.3" stroke="#3a8096" stroke-width="2.0" stroke-linecap="round"/>
<line x1="51.2" y1="335.3" x2="56.8" y2="331.0" stroke="#3a8096" stroke-width="2.0" stroke-linecap="round"/>
<line x1="56.8" y1="331.0" x2="62.6" y2="334.9" stroke="#3a8096" stroke-width="2.0" stroke-linecap="round"/>
<line x1="61.0" y1="343.0" x2="62.0" y2="349.0" stroke="#3a8096" stroke-width="2.0" stroke-linecap="round"/>
<line x1="62.0" y1="349.0" x2="65.0" y2="352.0" stroke="#3a8096" stroke-width="2.0" stroke-linecap="round"/>
<line x1="65.0" y1="352.0" x2="72.0" y2="350.6" stroke="#3a8096" stroke-width="2.0" stroke-linecap="round"/>
<line x1="65.0" y1="352.0" x2="61.0" y2="362.0" stroke="#3a8096" stroke-width="2.0" stroke-linecap="round"/>
<line x1="61.0" y1="362.0" x2="62.0" y2="367.5" stroke="#3a8096" stroke-width="2.0" stroke-linecap="round"/>
<line x1="72.0" y1="378.8" x2="65.5" y2="382.5" stroke="#3a8096" stroke-width="2.0" stroke-linecap="round"/>
<line x1="65.5" y1="382.5" x2="59.0" y2="378.8" stroke="#3a8096" stroke-width="2.0" stroke-linecap="round"/>
<line x1="59.0" y1="378.8" x2="59.0" y2="371.2" stroke="#3a8096" stroke-width="2.0" stroke-linecap="round"/>
<line x1="59.0" y1="371.2" x2="65.5" y2="367.5" stroke="#3a8096" stroke-width="2.0" stroke-linecap="round"/>
<line x1="65.5" y1="367.5" x2="72.0" y2="371.2" stroke="#3a8096" stroke-width="2.0" stroke-linecap="round"/>
<line x1="72.0" y1="371.2" x2="72.0" y2="378.8" stroke="#3a8096" stroke-width="2.0" stroke-linecap="round"/>
<line x1="72.0" y1="378.7" x2="84.5" y2="378.0" stroke="#3a8096" stroke-width="2.0" stroke-linecap="round"/>
<line x1="95.8" y1="380.0" x2="91.8" y2="385.5" stroke="#3a8096" stroke-width="2.0" stroke-linecap="round"/>
<line x1="91.8" y1="385.5" x2="85.3" y2="383.4" stroke="#3a8096" stroke-width="2.0" stroke-linecap="round"/>
<line x1="85.3" y1="383.4" x2="85.3" y2="376.6" stroke="#3a8096" stroke-width="2.0" stroke-linecap="round"/>
<line x1="85.3" y1="376.6" x2="91.8" y2="374.5" stroke="#3a8096" stroke-width="2.0" stroke-linecap="round"/>
<line x1="91.8" y1="374.5" x2="95.8" y2="380.0" stroke="#3a8096" stroke-width="2.0" stroke-linecap="round"/>
<line x1="107.9" y1="383.5" x2="101.8" y2="387.0" stroke="#3a8096" stroke-width="2.0" stroke-linecap="round"/>
<line x1="101.8" y1="387.0" x2="95.7" y2="383.5" stroke="#3a8096" stroke-width="2.0" stroke-linecap="round"/>
<line x1="95.7" y1="383.5" x2="95.7" y2="376.5" stroke="#3a8096" stroke-width="2.0" stroke-linecap="round"/>
<line x1="95.7" y1="376.5" x2="101.8" y2="373.0" stroke="#3a8096" stroke-width="2.0" stroke-linecap="round"/>
<line x1="101.8" y1="373.0" x2="107.9" y2="376.5" stroke="#3a8096" stroke-width="2.0" stroke-linecap="round"/>
<line x1="107.9" y1="376.5" x2="107.9" y2="383.5" stroke="#3a8096" stroke-width="2.0" stroke-linecap="round"/>
<line x1="107.9" y1="383.5" x2="117.0" y2="385.3" stroke="#3a8096" stroke-width="2.0" stroke-linecap="round"/>
<line x1="117.0" y1="385.3" x2="125.6" y2="383.9" stroke="#3a8096" stroke-width="2.0" stroke-linecap="round"/>
<line x1="117.0" y1="385.3" x2="122.7" y2="395.5" stroke="#3a8096" stroke-width="2.0" stroke-linecap="round"/>
<line x1="125.6" y1="383.9" x2="129.0" y2="389.0" stroke="#3a8096" stroke-width="2.0" stroke-linecap="round"/>
<circle cx="72.0" cy="350.6" r="1.5" fill="#a01880"/>
<circle cx="61.0" cy="362.0" r="1.4" fill="#2a2ad8"/>
<circle cx="62.0" cy="349.0" r="1.3" fill="#2a2ad8"/>
<circle cx="58.0" cy="331.0" r="1.3" fill="#2a2ad8"/>
<circle cx="65.5" cy="333.9" r="1.4" fill="#a4a4e6"/>
<circle cx="62.5" cy="344.1" r="1.4" fill="#a4a4e6"/>
<circle cx="52.0" cy="344.5" r="1.4" fill="#a4a4e6"/>
<circle cx="48.3" cy="334.5" r="1.4" fill="#a4a4e6"/>
<circle cx="56.7" cy="328.0" r="1.4" fill="#a4a4e6"/>
<circle cx="74.9" cy="380.4" r="1.4" fill="#a4a4e6"/>
<circle cx="56.1" cy="380.4" r="1.4" fill="#a4a4e6"/>
<circle cx="56.1" cy="369.6" r="1.4" fill="#a4a4e6"/>
<circle cx="65.5" cy="364.1" r="1.4" fill="#a4a4e6"/>
<circle cx="70.5" cy="389.7" r="1.6" fill="#40d040"/>
<circle cx="93.0" cy="374.5" r="1.4" fill="#2a2ad8"/>
<circle cx="94.0" cy="385.5" r="1.4" fill="#2a2ad8"/>
<circle cx="104.0" cy="373.5" r="1.4" fill="#2a2ad8"/>
<circle cx="108.0" cy="386.5" r="1.4" fill="#2a2ad8"/>
<circle cx="117.0" cy="385.3" r="1.5" fill="#2a2ad8"/>
<circle cx="84.0" cy="388.0" r="1.4" fill="#a4a4e6"/>
<circle cx="113.0" cy="372.0" r="1.4" fill="#a4a4e6"/>
<circle cx="99.0" cy="391.0" r="1.4" fill="#a4a4e6"/>
<circle cx="124.0" cy="378.0" r="1.4" fill="#a4a4e6"/>
<circle cx="130.0" cy="383.0" r="1.4" fill="#a4a4e6"/>
<circle cx="130.0" cy="392.0" r="1.4" fill="#a4a4e6"/>
<circle cx="124.0" cy="399.0" r="1.4" fill="#a4a4e6"/>
<circle cx="119.0" cy="398.0" r="1.4" fill="#a4a4e6"/>
<circle cx="118.0" cy="392.0" r="1.4" fill="#a4a4e6"/>
<circle cx="128.0" cy="396.0" r="1.4" fill="#a4a4e6"/>
</g>
<rect x="32.4" y="300.4" width="122" height="115.6" fill="none" stroke="#808080" stroke-width="0.9"/>
<text x="37.4" y="316.8" font-size="14" fill="#111">Y</text><text x="48.2" y="312.8" font-size="9.4" fill="#111">136</text>
<line x1="327.88" y1="81.42" x2="327.88" y2="62.82" stroke="#3f3f3f" stroke-width="0.7"/>
<line x1="327.88" y1="103.68" x2="327.88" y2="115.50" stroke="#3f3f3f" stroke-width="0.7"/>
<line x1="326.53" y1="62.82" x2="329.23" y2="62.82" stroke="#3f3f3f" stroke-width="0.7"/>
<line x1="326.53" y1="115.50" x2="329.23" y2="115.50" stroke="#3f3f3f" stroke-width="0.7"/>
<rect x="325.18" y="81.42" width="5.40" height="22.26" fill="#3274a1" stroke="#3f3f3f" stroke-width="0.7"/>
<line x1="325.18" y1="92.12" x2="330.58" y2="92.12" stroke="#3f3f3f" stroke-width="0.7"/>
<line x1="334.63" y1="85.40" x2="334.63" y2="71.96" stroke="#3f3f3f" stroke-width="0.7"/>
<line x1="334.63" y1="100.99" x2="334.63" y2="108.78" stroke="#3f3f3f" stroke-width="0.7"/>
<line x1="333.28" y1="71.96" x2="335.98" y2="71.96" stroke="#3f3f3f" stroke-width="0.7"/>
<line x1="333.28" y1="108.78" x2="335.98" y2="108.78" stroke="#3f3f3f" stroke-width="0.7"/>
<rect x="331.93" y="85.40" width="5.40" height="15.59" fill="#b5c8e1" stroke="#3f3f3f" stroke-width="0.7"/>
<line x1="331.93" y1="94.81" x2="337.33" y2="94.81" stroke="#3f3f3f" stroke-width="0.7"/>
<line x1="341.39" y1="89.43" x2="341.39" y2="87.71" stroke="#3f3f3f" stroke-width="0.7"/>
<line x1="341.39" y1="92.71" x2="341.39" y2="94.38" stroke="#3f3f3f" stroke-width="0.7"/>
<line x1="340.04" y1="87.71" x2="342.74" y2="87.71" stroke="#3f3f3f" stroke-width="0.7"/>
<line x1="340.04" y1="94.38" x2="342.74" y2="94.38" stroke="#3f3f3f" stroke-width="0.7"/>
<rect x="338.69" y="89.43" width="5.40" height="3.28" fill="#e1812c" stroke="#3f3f3f" stroke-width="0.7"/>
<line x1="338.69" y1="91.04" x2="344.09" y2="91.04" stroke="#3f3f3f" stroke-width="0.7"/>
<line x1="348.14" y1="92.71" x2="348.14" y2="87.71" stroke="#3f3f3f" stroke-width="0.7"/>
<line x1="348.14" y1="100.45" x2="348.14" y2="111.47" stroke="#3f3f3f" stroke-width="0.7"/>
<line x1="346.79" y1="87.71" x2="349.49" y2="87.71" stroke="#3f3f3f" stroke-width="0.7"/>
<line x1="346.79" y1="111.47" x2="349.49" y2="111.47" stroke="#3f3f3f" stroke-width="0.7"/>
<rect x="345.44" y="92.71" width="5.40" height="7.74" fill="#eebb89" stroke="#3f3f3f" stroke-width="0.7"/>
<line x1="345.44" y1="94.54" x2="350.84" y2="94.54" stroke="#3f3f3f" stroke-width="0.7"/>
<line x1="354.90" y1="82.71" x2="354.90" y2="71.96" stroke="#3f3f3f" stroke-width="0.7"/>
<line x1="354.90" y1="92.71" x2="354.90" y2="102.06" stroke="#3f3f3f" stroke-width="0.7"/>
<line x1="353.55" y1="71.96" x2="356.25" y2="71.96" stroke="#3f3f3f" stroke-width="0.7"/>
<line x1="353.55" y1="102.06" x2="356.25" y2="102.06" stroke="#3f3f3f" stroke-width="0.7"/>
<rect x="352.20" y="82.71" width="5.40" height="10.00" fill="#3a923a" stroke="#3f3f3f" stroke-width="0.7"/>
<line x1="352.20" y1="85.40" x2="357.60" y2="85.40" stroke="#3f3f3f" stroke-width="0.7"/>
<circle cx="354.90" cy="66.05" r="1.1" fill="none" stroke="#3f3f3f" stroke-width="0.5"/>
<circle cx="354.90" cy="60.29" r="1.1" fill="none" stroke="#3f3f3f" stroke-width="0.5"/>
<line x1="361.65" y1="77.01" x2="361.65" y2="62.60" stroke="#3f3f3f" stroke-width="0.7"/>
<line x1="361.65" y1="93.68" x2="361.65" y2="100.99" stroke="#3f3f3f" stroke-width="0.7"/>
<line x1="360.30" y1="62.60" x2="363.00" y2="62.60" stroke="#3f3f3f" stroke-width="0.7"/>
<line x1="360.30" y1="100.99" x2="363.00" y2="100.99" stroke="#3f3f3f" stroke-width="0.7"/>
<rect x="358.95" y="77.01" width="5.40" height="16.67" fill="#9fd495" stroke="#3f3f3f" stroke-width="0.7"/>
<line x1="358.95" y1="84.32" x2="364.35" y2="84.32" stroke="#3f3f3f" stroke-width="0.7"/>
<circle cx="361.65" cy="49.38" r="1.1" fill="none" stroke="#3f3f3f" stroke-width="0.5"/>
<circle cx="361.65" cy="121.96" r="1.1" fill="none" stroke="#3f3f3f" stroke-width="0.5"/>
<line x1="368.41" y1="90.40" x2="368.41" y2="85.40" stroke="#3f3f3f" stroke-width="0.7"/>
<line x1="368.41" y1="97.76" x2="368.41" y2="105.29" stroke="#3f3f3f" stroke-width="0.7"/>
<line x1="367.06" y1="85.40" x2="369.76" y2="85.40" stroke="#3f3f3f" stroke-width="0.7"/>
<line x1="367.06" y1="105.29" x2="369.76" y2="105.29" stroke="#3f3f3f" stroke-width="0.7"/>
<rect x="365.71" y="90.40" width="5.40" height="7.37" fill="#c03d3e" stroke="#3f3f3f" stroke-width="0.7"/>
<line x1="365.71" y1="93.46" x2="371.11" y2="93.46" stroke="#3f3f3f" stroke-width="0.7"/>
<line x1="375.16" y1="92.71" x2="375.16" y2="85.40" stroke="#3f3f3f" stroke-width="0.7"/>
<line x1="375.16" y1="104.75" x2="375.16" y2="116.04" stroke="#3f3f3f" stroke-width="0.7"/>
<line x1="373.81" y1="85.40" x2="376.51" y2="85.40" stroke="#3f3f3f" stroke-width="0.7"/>
<line x1="373.81" y1="116.04" x2="376.51" y2="116.04" stroke="#3f3f3f" stroke-width="0.7"/>
<rect x="372.46" y="92.71" width="5.40" height="12.04" fill="#f2a5a3" stroke="#3f3f3f" stroke-width="0.7"/>
<line x1="372.46" y1="98.84" x2="377.86" y2="98.84" stroke="#3f3f3f" stroke-width="0.7"/>
<circle cx="375.16" cy="132.17" r="1.1" fill="none" stroke="#3f3f3f" stroke-width="0.5"/>
<line x1="381.92" y1="86.69" x2="381.92" y2="85.40" stroke="#3f3f3f" stroke-width="0.7"/>
<line x1="381.92" y1="89.43" x2="381.92" y2="92.71" stroke="#3f3f3f" stroke-width="0.7"/>
<line x1="380.57" y1="85.40" x2="383.27" y2="85.40" stroke="#3f3f3f" stroke-width="0.7"/>
<line x1="380.57" y1="92.71" x2="383.27" y2="92.71" stroke="#3f3f3f" stroke-width="0.7"/>
<rect x="379.22" y="86.69" width="5.40" height="2.74" fill="#9372b2" stroke="#3f3f3f" stroke-width="0.7"/>
<line x1="379.22" y1="88.09" x2="384.62" y2="88.09" stroke="#3f3f3f" stroke-width="0.7"/>
<line x1="388.67" y1="44.22" x2="388.67" y2="20.89" stroke="#3f3f3f" stroke-width="0.7"/>
<line x1="388.67" y1="73.73" x2="388.67" y2="92.71" stroke="#3f3f3f" stroke-width="0.7"/>
<line x1="387.32" y1="20.89" x2="390.02" y2="20.89" stroke="#3f3f3f" stroke-width="0.7"/>
<line x1="387.32" y1="92.71" x2="390.02" y2="92.71" stroke="#3f3f3f" stroke-width="0.7"/>
<rect x="385.97" y="44.22" width="5.40" height="29.51" fill="#c4b5d0" stroke="#3f3f3f" stroke-width="0.7"/>
<line x1="385.97" y1="67.12" x2="391.37" y2="67.12" stroke="#3f3f3f" stroke-width="0.7"/>
<line x1="395.43" y1="34.33" x2="395.43" y2="25.19" stroke="#3f3f3f" stroke-width="0.7"/>
<line x1="395.43" y1="50.99" x2="395.43" y2="73.73" stroke="#3f3f3f" stroke-width="0.7"/>
<line x1="394.08" y1="25.19" x2="396.78" y2="25.19" stroke="#3f3f3f" stroke-width="0.7"/>
<line x1="394.08" y1="73.73" x2="396.78" y2="73.73" stroke="#3f3f3f" stroke-width="0.7"/>
<rect x="392.73" y="34.33" width="5.40" height="16.67" fill="#845b53" stroke="#3f3f3f" stroke-width="0.7"/>
<line x1="392.73" y1="42.39" x2="398.13" y2="42.39" stroke="#3f3f3f" stroke-width="0.7"/>
<line x1="402.18" y1="84.70" x2="402.18" y2="81.64" stroke="#3f3f3f" stroke-width="0.7"/>
<line x1="402.18" y1="91.31" x2="402.18" y2="97.76" stroke="#3f3f3f" stroke-width="0.7"/>
<line x1="400.83" y1="81.64" x2="403.53" y2="81.64" stroke="#3f3f3f" stroke-width="0.7"/>
<line x1="400.83" y1="97.76" x2="403.53" y2="97.76" stroke="#3f3f3f" stroke-width="0.7"/>
<rect x="399.48" y="84.70" width="5.40" height="6.61" fill="#bea09a" stroke="#3f3f3f" stroke-width="0.7"/>
<line x1="399.48" y1="88.09" x2="404.88" y2="88.09" stroke="#3f3f3f" stroke-width="0.7"/>
<circle cx="402.18" cy="99.91" r="1.1" fill="none" stroke="#3f3f3f" stroke-width="0.5"/>
<circle cx="402.18" cy="101.53" r="1.1" fill="none" stroke="#3f3f3f" stroke-width="0.5"/>
<circle cx="402.18" cy="103.68" r="1.1" fill="none" stroke="#3f3f3f" stroke-width="0.5"/>
<circle cx="402.18" cy="72.50" r="1.1" fill="none" stroke="#3f3f3f" stroke-width="0.5"/>
<line x1="408.94" y1="93.68" x2="408.94" y2="90.40" stroke="#3f3f3f" stroke-width="0.7"/>
<line x1="408.94" y1="98.84" x2="408.94" y2="103.14" stroke="#3f3f3f" stroke-width="0.7"/>
<line x1="407.59" y1="90.40" x2="410.29" y2="90.40" stroke="#3f3f3f" stroke-width="0.7"/>
<line x1="407.59" y1="103.14" x2="410.29" y2="103.14" stroke="#3f3f3f" stroke-width="0.7"/>
<rect x="406.24" y="93.68" width="5.40" height="5.16" fill="#d684bd" stroke="#3f3f3f" stroke-width="0.7"/>
<line x1="406.24" y1="96.15" x2="411.64" y2="96.15" stroke="#3f3f3f" stroke-width="0.7"/>
<circle cx="408.94" cy="104.75" r="1.1" fill="none" stroke="#3f3f3f" stroke-width="0.5"/>
<line x1="415.69" y1="88.68" x2="415.69" y2="85.40" stroke="#3f3f3f" stroke-width="0.7"/>
<line x1="415.69" y1="92.93" x2="415.69" y2="97.23" stroke="#3f3f3f" stroke-width="0.7"/>
<line x1="414.34" y1="85.40" x2="417.04" y2="85.40" stroke="#3f3f3f" stroke-width="0.7"/>
<line x1="414.34" y1="97.23" x2="417.04" y2="97.23" stroke="#3f3f3f" stroke-width="0.7"/>
<rect x="412.99" y="88.68" width="5.40" height="4.25" fill="#efbed3" stroke="#3f3f3f" stroke-width="0.7"/>
<line x1="412.99" y1="90.78" x2="418.39" y2="90.78" stroke="#3f3f3f" stroke-width="0.7"/>
<line x1="422.45" y1="64.59" x2="422.45" y2="49.38" stroke="#3f3f3f" stroke-width="0.7"/>
<line x1="422.45" y1="80.40" x2="422.45" y2="95.40" stroke="#3f3f3f" stroke-width="0.7"/>
<line x1="421.10" y1="49.38" x2="423.80" y2="49.38" stroke="#3f3f3f" stroke-width="0.7"/>
<line x1="421.10" y1="95.40" x2="423.80" y2="95.40" stroke="#3f3f3f" stroke-width="0.7"/>
<rect x="419.75" y="64.59" width="5.40" height="15.81" fill="#7f7f7f" stroke="#3f3f3f" stroke-width="0.7"/>
<line x1="419.75" y1="71.96" x2="425.15" y2="71.96" stroke="#3f3f3f" stroke-width="0.7"/>
<circle cx="422.45" cy="40.78" r="1.1" fill="none" stroke="#3f3f3f" stroke-width="0.5"/>
<circle cx="422.45" cy="39.17" r="1.1" fill="none" stroke="#3f3f3f" stroke-width="0.5"/>
<line x1="429.20" y1="82.01" x2="429.20" y2="63.57" stroke="#3f3f3f" stroke-width="0.7"/>
<line x1="429.20" y1="105.51" x2="429.20" y2="120.34" stroke="#3f3f3f" stroke-width="0.7"/>
<line x1="427.85" y1="63.57" x2="430.55" y2="63.57" stroke="#3f3f3f" stroke-width="0.7"/>
<line x1="427.85" y1="120.34" x2="430.55" y2="120.34" stroke="#3f3f3f" stroke-width="0.7"/>
<rect x="426.50" y="82.01" width="5.40" height="23.49" fill="#c7c7c7" stroke="#3f3f3f" stroke-width="0.7"/>
<line x1="426.50" y1="100.99" x2="431.90" y2="100.99" stroke="#3f3f3f" stroke-width="0.7"/>
<line x1="435.96" y1="90.40" x2="435.96" y2="71.42" stroke="#3f3f3f" stroke-width="0.7"/>
<line x1="435.96" y1="106.90" x2="435.96" y2="112.82" stroke="#3f3f3f" stroke-width="0.7"/>
<line x1="434.61" y1="71.42" x2="437.31" y2="71.42" stroke="#3f3f3f" stroke-width="0.7"/>
<line x1="434.61" y1="112.82" x2="437.31" y2="112.82" stroke="#3f3f3f" stroke-width="0.7"/>
<rect x="433.26" y="90.40" width="5.40" height="16.50" fill="#a9aa35" stroke="#3f3f3f" stroke-width="0.7"/>
<line x1="433.26" y1="100.45" x2="438.66" y2="100.45" stroke="#3f3f3f" stroke-width="0.7"/>
<circle cx="435.96" cy="140.77" r="1.1" fill="none" stroke="#3f3f3f" stroke-width="0.5"/>
<line x1="442.71" y1="48.52" x2="442.71" y2="27.88" stroke="#3f3f3f" stroke-width="0.7"/>
<line x1="442.71" y1="75.29" x2="442.71" y2="104.75" stroke="#3f3f3f" stroke-width="0.7"/>
<line x1="441.36" y1="27.88" x2="444.06" y2="27.88" stroke="#3f3f3f" stroke-width="0.7"/>
<line x1="441.36" y1="104.75" x2="444.06" y2="104.75" stroke="#3f3f3f" stroke-width="0.7"/>
<rect x="440.01" y="48.52" width="5.40" height="26.77" fill="#d1d197" stroke="#3f3f3f" stroke-width="0.7"/>
<line x1="440.01" y1="61.91" x2="445.41" y2="61.91" stroke="#3f3f3f" stroke-width="0.7"/>
<line x1="449.47" y1="75.99" x2="449.47" y2="71.42" stroke="#3f3f3f" stroke-width="0.7"/>
<line x1="449.47" y1="79.32" x2="449.47" y2="84.32" stroke="#3f3f3f" stroke-width="0.7"/>
<line x1="448.12" y1="71.42" x2="450.82" y2="71.42" stroke="#3f3f3f" stroke-width="0.7"/>
<line x1="448.12" y1="84.32" x2="450.82" y2="84.32" stroke="#3f3f3f" stroke-width="0.7"/>
<rect x="446.77" y="75.99" width="5.40" height="3.33" fill="#2eabb8" stroke="#3f3f3f" stroke-width="0.7"/>
<line x1="446.77" y1="77.60" x2="452.17" y2="77.60" stroke="#3f3f3f" stroke-width="0.7"/>
<line x1="456.22" y1="98.03" x2="456.22" y2="81.64" stroke="#3f3f3f" stroke-width="0.7"/>
<line x1="456.22" y1="106.37" x2="456.22" y2="118.19" stroke="#3f3f3f" stroke-width="0.7"/>
<line x1="454.87" y1="81.64" x2="457.57" y2="81.64" stroke="#3f3f3f" stroke-width="0.7"/>
<line x1="454.87" y1="118.19" x2="457.57" y2="118.19" stroke="#3f3f3f" stroke-width="0.7"/>
<rect x="453.52" y="98.03" width="5.40" height="8.33" fill="#a7d4dc" stroke="#3f3f3f" stroke-width="0.7"/>
<line x1="453.52" y1="102.06" x2="458.92" y2="102.06" stroke="#3f3f3f" stroke-width="0.7"/>
<circle cx="456.22" cy="80.40" r="1.1" fill="none" stroke="#3f3f3f" stroke-width="0.5"/>
<circle cx="456.22" cy="124.64" r="1.1" fill="none" stroke="#3f3f3f" stroke-width="0.5"/>
<rect x="324.5" y="9.2" width="135.10000000000002" height="134.3" fill="none" stroke="#7a7a7a" stroke-width="0.8"/>
<line x1="360" y1="9.3" x2="363.2" y2="9.3" stroke="#444" stroke-width="1"/>
<line x1="322.5" y1="9.06" x2="324.5" y2="9.06" stroke="#7a7a7a" stroke-width="0.6"/>
<text x="320.90" y="11.08" font-size="5.6" text-anchor="end" fill="#111" stroke="#111" stroke-width="0.17">15</text>
<line x1="322.5" y1="35.94" x2="324.5" y2="35.94" stroke="#7a7a7a" stroke-width="0.6"/>
<text x="320.90" y="37.96" font-size="5.6" text-anchor="end" fill="#111" stroke="#111" stroke-width="0.17">10</text>
<line x1="322.5" y1="62.82" x2="324.5" y2="62.82" stroke="#7a7a7a" stroke-width="0.6"/>
<text x="320.90" y="64.84" font-size="5.6" text-anchor="end" fill="#111" stroke="#111" stroke-width="0.17">5</text>
<line x1="322.5" y1="89.70" x2="324.5" y2="89.70" stroke="#7a7a7a" stroke-width="0.6"/>
<text x="320.90" y="91.72" font-size="5.6" text-anchor="end" fill="#111" stroke="#111" stroke-width="0.17">0</text>
<line x1="322.5" y1="116.58" x2="324.5" y2="116.58" stroke="#7a7a7a" stroke-width="0.6"/>
<text x="320.90" y="118.60" font-size="5.6" text-anchor="end" fill="#111" stroke="#111" stroke-width="0.17">−5</text>
<line x1="322.5" y1="143.46" x2="324.5" y2="143.46" stroke="#7a7a7a" stroke-width="0.6"/>
<text x="320.90" y="145.48" font-size="5.6" text-anchor="end" fill="#111" stroke="#111" stroke-width="0.17">−10</text>
<line x1="327.88" y1="143.5" x2="327.88" y2="145.5" stroke="#7a7a7a" stroke-width="0.6"/>
<text x="325.25" y="146.70" font-size="7.3" transform="rotate(90 325.25 146.70)" fill="#111" stroke="#111" stroke-width="0.22">T1</text>
<line x1="334.63" y1="143.5" x2="334.63" y2="145.5" stroke="#7a7a7a" stroke-width="0.6"/>
<text x="332.00" y="146.70" font-size="7.3" transform="rotate(90 332.00 146.70)" fill="#111" stroke="#111" stroke-width="0.22">S21</text>
<line x1="341.39" y1="143.5" x2="341.39" y2="145.5" stroke="#7a7a7a" stroke-width="0.6"/>
<text x="338.76" y="146.70" font-size="7.3" transform="rotate(90 338.76 146.70)" fill="#111" stroke="#111" stroke-width="0.22">S22</text>
<line x1="348.14" y1="143.5" x2="348.14" y2="145.5" stroke="#7a7a7a" stroke-width="0.6"/>
<text x="345.51" y="146.70" font-size="7.3" transform="rotate(90 345.51 146.70)" fill="#111" stroke="#111" stroke-width="0.22">G23</text>
<line x1="354.90" y1="143.5" x2="354.90" y2="145.5" stroke="#7a7a7a" stroke-width="0.6"/>
<text x="352.27" y="146.70" font-size="7.3" transform="rotate(90 352.27 146.70)" fill="#111" stroke="#111" stroke-width="0.22">A46</text>
<line x1="361.65" y1="143.5" x2="361.65" y2="145.5" stroke="#7a7a7a" stroke-width="0.6"/>
<text x="359.02" y="146.70" font-size="7.3" transform="rotate(90 359.02 146.70)" fill="#111" stroke="#111" stroke-width="0.22">G47</text>
<line x1="368.41" y1="143.5" x2="368.41" y2="145.5" stroke="#7a7a7a" stroke-width="0.6"/>
<text x="365.78" y="146.70" font-size="7.3" transform="rotate(90 365.78 146.70)" fill="#111" stroke="#111" stroke-width="0.22">G48</text>
<line x1="375.16" y1="143.5" x2="375.16" y2="145.5" stroke="#7a7a7a" stroke-width="0.6"/>
<text x="372.53" y="146.70" font-size="7.3" transform="rotate(90 372.53 146.70)" fill="#111" stroke="#111" stroke-width="0.22">S96</text>
<line x1="381.92" y1="143.5" x2="381.92" y2="145.5" stroke="#7a7a7a" stroke-width="0.6"/>
<text x="379.29" y="146.70" font-size="7.3" transform="rotate(90 379.29 146.70)" fill="#111" stroke="#111" stroke-width="0.22">M97</text>
<line x1="388.67" y1="143.5" x2="388.67" y2="145.5" stroke="#7a7a7a" stroke-width="0.6"/>
<text x="386.04" y="146.70" font-size="7.3" transform="rotate(90 386.04 146.70)" fill="#111" stroke="#111" stroke-width="0.22">G98</text>
<line x1="395.43" y1="143.5" x2="395.43" y2="145.5" stroke="#7a7a7a" stroke-width="0.6"/>
<text x="392.80" y="146.70" font-size="7.3" transform="rotate(90 392.80 146.70)" fill="#111" stroke="#111" stroke-width="0.22">Y113</text>
<line x1="402.18" y1="143.5" x2="402.18" y2="145.5" stroke="#7a7a7a" stroke-width="0.6"/>
<text x="399.55" y="146.70" font-size="7.3" transform="rotate(90 399.55 146.70)" fill="#111" stroke="#111" stroke-width="0.22">D115</text>
<line x1="408.94" y1="143.5" x2="408.94" y2="145.5" stroke="#7a7a7a" stroke-width="0.6"/>
<text x="406.31" y="146.70" font-size="7.3" transform="rotate(90 406.31 146.70)" fill="#111" stroke="#111" stroke-width="0.22">D116</text>
<line x1="415.69" y1="143.5" x2="415.69" y2="145.5" stroke="#7a7a7a" stroke-width="0.6"/>
<text x="413.06" y="146.70" font-size="7.3" transform="rotate(90 413.06 146.70)" fill="#111" stroke="#111" stroke-width="0.22">S127</text>
<line x1="422.45" y1="143.5" x2="422.45" y2="145.5" stroke="#7a7a7a" stroke-width="0.6"/>
<text x="419.82" y="146.70" font-size="7.3" transform="rotate(90 419.82 146.70)" fill="#111" stroke="#111" stroke-width="0.22">V128</text>
<line x1="429.20" y1="143.5" x2="429.20" y2="145.5" stroke="#7a7a7a" stroke-width="0.6"/>
<text x="426.57" y="146.70" font-size="7.3" transform="rotate(90 426.57 146.70)" fill="#111" stroke="#111" stroke-width="0.22">G129</text>
<line x1="435.96" y1="143.5" x2="435.96" y2="145.5" stroke="#7a7a7a" stroke-width="0.6"/>
<text x="433.33" y="146.70" font-size="7.3" transform="rotate(90 433.33 146.70)" fill="#111" stroke="#111" stroke-width="0.22">S130</text>
<line x1="442.71" y1="143.5" x2="442.71" y2="145.5" stroke="#7a7a7a" stroke-width="0.6"/>
<text x="440.08" y="146.70" font-size="7.3" transform="rotate(90 440.08 146.70)" fill="#111" stroke="#111" stroke-width="0.22">S132</text>
<line x1="449.47" y1="143.5" x2="449.47" y2="145.5" stroke="#7a7a7a" stroke-width="0.6"/>
<text x="446.84" y="146.70" font-size="7.3" transform="rotate(90 446.84 146.70)" fill="#111" stroke="#111" stroke-width="0.22">Y136</text>
<line x1="456.22" y1="143.5" x2="456.22" y2="145.5" stroke="#7a7a7a" stroke-width="0.6"/>
<text x="453.59" y="146.70" font-size="7.3" transform="rotate(90 453.59 146.70)" fill="#111" stroke="#111" stroke-width="0.22">A169</text>
<text x="391.70" y="173.80" font-size="8.4" text-anchor="middle" fill="#000" stroke="#000" stroke-width="0.25">Residue</text>
<text x="310.20" y="72.20" font-size="7.8" text-anchor="middle" fill="#000" stroke="#000" stroke-width="0.23" transform="rotate(-90 310.20 72.20)">ΔΔG_MM/GBSA(Kcal/mol)</text>
<line x1="507.79" y1="109.45" x2="507.79" y2="107.88" stroke="#3f3f3f" stroke-width="0.7"/>
<line x1="507.79" y1="115.71" x2="507.79" y2="121.19" stroke="#3f3f3f" stroke-width="0.7"/>
<line x1="505.99" y1="107.88" x2="509.58" y2="107.88" stroke="#3f3f3f" stroke-width="0.7"/>
<line x1="505.99" y1="121.19" x2="509.58" y2="121.19" stroke="#3f3f3f" stroke-width="0.7"/>
<rect x="504.20" y="109.45" width="7.18" height="6.26" fill="#3274a1" stroke="#3f3f3f" stroke-width="0.7"/>
<line x1="504.20" y1="112.58" x2="511.38" y2="112.58" stroke="#3f3f3f" stroke-width="0.7"/>
<circle cx="507.79" cy="95.35" r="1.1" fill="none" stroke="#3f3f3f" stroke-width="0.5"/>
<circle cx="507.79" cy="93.40" r="1.1" fill="none" stroke="#3f3f3f" stroke-width="0.5"/>
<circle cx="507.79" cy="91.44" r="1.1" fill="none" stroke="#3f3f3f" stroke-width="0.5"/>
<line x1="516.76" y1="112.58" x2="516.76" y2="108.67" stroke="#3f3f3f" stroke-width="0.7"/>
<line x1="516.76" y1="121.19" x2="516.76" y2="129.02" stroke="#3f3f3f" stroke-width="0.7"/>
<line x1="514.97" y1="108.67" x2="518.56" y2="108.67" stroke="#3f3f3f" stroke-width="0.7"/>
<line x1="514.97" y1="129.02" x2="518.56" y2="129.02" stroke="#3f3f3f" stroke-width="0.7"/>
<rect x="513.17" y="112.58" width="7.18" height="8.61" fill="#b5c8e1" stroke="#3f3f3f" stroke-width="0.7"/>
<line x1="513.17" y1="118.06" x2="520.35" y2="118.06" stroke="#3f3f3f" stroke-width="0.7"/>
<circle cx="516.76" cy="75.78" r="1.1" fill="none" stroke="#3f3f3f" stroke-width="0.5"/>
<circle cx="516.76" cy="42.89" r="1.1" fill="none" stroke="#3f3f3f" stroke-width="0.5"/>
<line x1="525.74" y1="122.76" x2="525.74" y2="121.98" stroke="#3f3f3f" stroke-width="0.7"/>
<line x1="525.74" y1="124.33" x2="525.74" y2="125.11" stroke="#3f3f3f" stroke-width="0.7"/>
<line x1="523.94" y1="121.98" x2="527.53" y2="121.98" stroke="#3f3f3f" stroke-width="0.7"/>
<line x1="523.94" y1="125.11" x2="527.53" y2="125.11" stroke="#3f3f3f" stroke-width="0.7"/>
<rect x="522.15" y="122.76" width="7.18" height="1.57" fill="#e1812c" stroke="#3f3f3f" stroke-width="0.7"/>
<line x1="522.15" y1="123.54" x2="529.33" y2="123.54" stroke="#3f3f3f" stroke-width="0.7"/>
<circle cx="525.74" cy="120.41" r="1.1" fill="none" stroke="#3f3f3f" stroke-width="0.5"/>
<circle cx="525.74" cy="119.24" r="1.1" fill="none" stroke="#3f3f3f" stroke-width="0.5"/>
<circle cx="525.74" cy="118.06" r="1.1" fill="none" stroke="#3f3f3f" stroke-width="0.5"/>
<line x1="534.71" y1="122.76" x2="534.71" y2="122.76" stroke="#3f3f3f" stroke-width="0.7"/>
<line x1="534.71" y1="124.33" x2="534.71" y2="125.89" stroke="#3f3f3f" stroke-width="0.7"/>
<line x1="532.92" y1="122.76" x2="536.51" y2="122.76" stroke="#3f3f3f" stroke-width="0.7"/>
<line x1="532.92" y1="125.89" x2="536.51" y2="125.89" stroke="#3f3f3f" stroke-width="0.7"/>
<rect x="531.12" y="122.76" width="7.18" height="1.57" fill="#eebb89" stroke="#3f3f3f" stroke-width="0.7"/>
<line x1="531.12" y1="123.54" x2="538.30" y2="123.54" stroke="#3f3f3f" stroke-width="0.7"/>
<circle cx="534.71" cy="118.84" r="1.1" fill="none" stroke="#3f3f3f" stroke-width="0.5"/>
<circle cx="534.71" cy="126.67" r="1.1" fill="none" stroke="#3f3f3f" stroke-width="0.5"/>
<line x1="543.69" y1="116.50" x2="543.69" y2="115.71" stroke="#3f3f3f" stroke-width="0.7"/>
<line x1="543.69" y1="118.84" x2="543.69" y2="121.19" stroke="#3f3f3f" stroke-width="0.7"/>
<line x1="541.89" y1="115.71" x2="545.48" y2="115.71" stroke="#3f3f3f" stroke-width="0.7"/>
<line x1="541.89" y1="121.19" x2="545.48" y2="121.19" stroke="#3f3f3f" stroke-width="0.7"/>
<rect x="540.10" y="116.50" width="7.18" height="2.35" fill="#3a923a" stroke="#3f3f3f" stroke-width="0.7"/>
<line x1="540.10" y1="117.67" x2="547.28" y2="117.67" stroke="#3f3f3f" stroke-width="0.7"/>
<circle cx="543.69" cy="108.67" r="1.1" fill="none" stroke="#3f3f3f" stroke-width="0.5"/>
<line x1="552.66" y1="70.30" x2="552.66" y2="35.06" stroke="#3f3f3f" stroke-width="0.7"/>
<line x1="552.66" y1="113.36" x2="552.66" y2="122.76" stroke="#3f3f3f" stroke-width="0.7"/>
<line x1="550.87" y1="35.06" x2="554.46" y2="35.06" stroke="#3f3f3f" stroke-width="0.7"/>
<line x1="550.87" y1="122.76" x2="554.46" y2="122.76" stroke="#3f3f3f" stroke-width="0.7"/>
<rect x="549.07" y="70.30" width="7.18" height="43.06" fill="#9fd495" stroke="#3f3f3f" stroke-width="0.7"/>
<line x1="549.07" y1="101.62" x2="556.25" y2="101.62" stroke="#3f3f3f" stroke-width="0.7"/>
<line x1="561.64" y1="121.19" x2="561.64" y2="118.06" stroke="#3f3f3f" stroke-width="0.7"/>
<line x1="561.64" y1="126.67" x2="561.64" y2="129.81" stroke="#3f3f3f" stroke-width="0.7"/>
<line x1="559.84" y1="118.06" x2="563.43" y2="118.06" stroke="#3f3f3f" stroke-width="0.7"/>
<line x1="559.84" y1="129.81" x2="563.43" y2="129.81" stroke="#3f3f3f" stroke-width="0.7"/>
<rect x="558.05" y="121.19" width="7.18" height="5.48" fill="#c03d3e" stroke="#3f3f3f" stroke-width="0.7"/>
<line x1="558.05" y1="124.33" x2="565.23" y2="124.33" stroke="#3f3f3f" stroke-width="0.7"/>
<circle cx="561.64" cy="111.01" r="1.1" fill="none" stroke="#3f3f3f" stroke-width="0.5"/>
<line x1="570.61" y1="125.89" x2="570.61" y2="125.11" stroke="#3f3f3f" stroke-width="0.7"/>
<line x1="570.61" y1="127.46" x2="570.61" y2="128.24" stroke="#3f3f3f" stroke-width="0.7"/>
<line x1="568.82" y1="125.11" x2="572.41" y2="125.11" stroke="#3f3f3f" stroke-width="0.7"/>
<line x1="568.82" y1="128.24" x2="572.41" y2="128.24" stroke="#3f3f3f" stroke-width="0.7"/>
<rect x="567.02" y="125.89" width="7.18" height="1.57" fill="#f2a5a3" stroke="#3f3f3f" stroke-width="0.7"/>
<line x1="567.02" y1="126.67" x2="574.20" y2="126.67" stroke="#3f3f3f" stroke-width="0.7"/>
<circle cx="570.61" cy="124.33" r="1.1" fill="none" stroke="#3f3f3f" stroke-width="0.5"/>
<circle cx="570.61" cy="131.37" r="1.1" fill="none" stroke="#3f3f3f" stroke-width="0.5"/>
<line x1="579.59" y1="122.76" x2="579.59" y2="121.98" stroke="#3f3f3f" stroke-width="0.7"/>
<line x1="579.59" y1="125.11" x2="579.59" y2="125.89" stroke="#3f3f3f" stroke-width="0.7"/>
<line x1="577.79" y1="121.98" x2="581.38" y2="121.98" stroke="#3f3f3f" stroke-width="0.7"/>
<line x1="577.79" y1="125.89" x2="581.38" y2="125.89" stroke="#3f3f3f" stroke-width="0.7"/>
<rect x="576.00" y="122.76" width="7.18" height="2.35" fill="#9372b2" stroke="#3f3f3f" stroke-width="0.7"/>
<line x1="576.00" y1="124.33" x2="583.18" y2="124.33" stroke="#3f3f3f" stroke-width="0.7"/>
<line x1="588.56" y1="83.61" x2="588.56" y2="68.73" stroke="#3f3f3f" stroke-width="0.7"/>
<line x1="588.56" y1="110.47" x2="588.56" y2="117.28" stroke="#3f3f3f" stroke-width="0.7"/>
<line x1="586.77" y1="68.73" x2="590.36" y2="68.73" stroke="#3f3f3f" stroke-width="0.7"/>
<line x1="586.77" y1="117.28" x2="590.36" y2="117.28" stroke="#3f3f3f" stroke-width="0.7"/>
<rect x="584.97" y="83.61" width="7.18" height="26.86" fill="#c4b5d0" stroke="#3f3f3f" stroke-width="0.7"/>
<line x1="584.97" y1="101.62" x2="592.15" y2="101.62" stroke="#3f3f3f" stroke-width="0.7"/>
<circle cx="588.56" cy="41.33" r="1.1" fill="none" stroke="#3f3f3f" stroke-width="0.5"/>
<circle cx="588.56" cy="24.10" r="1.1" fill="none" stroke="#3f3f3f" stroke-width="0.5"/>
<circle cx="588.56" cy="20.97" r="1.1" fill="none" stroke="#3f3f3f" stroke-width="0.5"/>
<line x1="597.54" y1="122.76" x2="597.54" y2="121.98" stroke="#3f3f3f" stroke-width="0.7"/>
<line x1="597.54" y1="124.33" x2="597.54" y2="125.11" stroke="#3f3f3f" stroke-width="0.7"/>
<line x1="595.74" y1="121.98" x2="599.33" y2="121.98" stroke="#3f3f3f" stroke-width="0.7"/>
<line x1="595.74" y1="125.11" x2="599.33" y2="125.11" stroke="#3f3f3f" stroke-width="0.7"/>
<rect x="593.95" y="122.76" width="7.18" height="1.57" fill="#845b53" stroke="#3f3f3f" stroke-width="0.7"/>
<line x1="593.95" y1="123.54" x2="601.13" y2="123.54" stroke="#3f3f3f" stroke-width="0.7"/>
<circle cx="597.54" cy="118.84" r="1.1" fill="none" stroke="#3f3f3f" stroke-width="0.5"/>
<line x1="615.49" y1="122.76" x2="615.49" y2="121.19" stroke="#3f3f3f" stroke-width="0.7"/>
<line x1="615.49" y1="124.33" x2="615.49" y2="125.11" stroke="#3f3f3f" stroke-width="0.7"/>
<line x1="613.69" y1="121.19" x2="617.28" y2="121.19" stroke="#3f3f3f" stroke-width="0.7"/>
<line x1="613.69" y1="125.11" x2="617.28" y2="125.11" stroke="#3f3f3f" stroke-width="0.7"/>
<rect x="611.90" y="122.76" width="7.18" height="1.57" fill="#d684bd" stroke="#3f3f3f" stroke-width="0.7"/>
<line x1="611.90" y1="123.54" x2="619.08" y2="123.54" stroke="#3f3f3f" stroke-width="0.7"/>
<line x1="624.46" y1="124.33" x2="624.46" y2="123.93" stroke="#3f3f3f" stroke-width="0.7"/>
<line x1="624.46" y1="125.11" x2="624.46" y2="125.50" stroke="#3f3f3f" stroke-width="0.7"/>
<line x1="622.67" y1="123.93" x2="626.26" y2="123.93" stroke="#3f3f3f" stroke-width="0.7"/>
<line x1="622.67" y1="125.50" x2="626.26" y2="125.50" stroke="#3f3f3f" stroke-width="0.7"/>
<rect x="620.87" y="124.33" width="7.18" height="0.80" fill="#efbed3" stroke="#3f3f3f" stroke-width="0.7"/>
<line x1="620.87" y1="124.72" x2="628.05" y2="124.72" stroke="#3f3f3f" stroke-width="0.7"/>
<line x1="633.44" y1="119.00" x2="633.44" y2="116.50" stroke="#3f3f3f" stroke-width="0.7"/>
<line x1="633.44" y1="122.29" x2="633.44" y2="123.54" stroke="#3f3f3f" stroke-width="0.7"/>
<line x1="631.64" y1="116.50" x2="635.23" y2="116.50" stroke="#3f3f3f" stroke-width="0.7"/>
<line x1="631.64" y1="123.54" x2="635.23" y2="123.54" stroke="#3f3f3f" stroke-width="0.7"/>
<rect x="629.85" y="119.00" width="7.18" height="3.29" fill="#7f7f7f" stroke="#3f3f3f" stroke-width="0.7"/>
<line x1="629.85" y1="120.41" x2="637.03" y2="120.41" stroke="#3f3f3f" stroke-width="0.7"/>
<circle cx="633.44" cy="107.10" r="1.1" fill="none" stroke="#3f3f3f" stroke-width="0.5"/>
<circle cx="633.44" cy="100.84" r="1.1" fill="none" stroke="#3f3f3f" stroke-width="0.5"/>
<circle cx="633.44" cy="95.35" r="1.1" fill="none" stroke="#3f3f3f" stroke-width="0.5"/>
<line x1="642.41" y1="110.47" x2="642.41" y2="108.98" stroke="#3f3f3f" stroke-width="0.7"/>
<line x1="642.41" y1="116.89" x2="642.41" y2="122.76" stroke="#3f3f3f" stroke-width="0.7"/>
<line x1="640.62" y1="108.98" x2="644.21" y2="108.98" stroke="#3f3f3f" stroke-width="0.7"/>
<line x1="640.62" y1="122.76" x2="644.21" y2="122.76" stroke="#3f3f3f" stroke-width="0.7"/>
<rect x="638.82" y="110.47" width="7.18" height="6.42" fill="#c7c7c7" stroke="#3f3f3f" stroke-width="0.7"/>
<line x1="638.82" y1="113.36" x2="646.00" y2="113.36" stroke="#3f3f3f" stroke-width="0.7"/>
<line x1="651.39" y1="116.89" x2="651.39" y2="116.50" stroke="#3f3f3f" stroke-width="0.7"/>
<line x1="651.39" y1="119.63" x2="651.39" y2="120.41" stroke="#3f3f3f" stroke-width="0.7"/>
<line x1="649.59" y1="116.50" x2="653.18" y2="116.50" stroke="#3f3f3f" stroke-width="0.7"/>
<line x1="649.59" y1="120.41" x2="653.18" y2="120.41" stroke="#3f3f3f" stroke-width="0.7"/>
<rect x="647.80" y="116.89" width="7.18" height="2.74" fill="#a9aa35" stroke="#3f3f3f" stroke-width="0.7"/>
<line x1="647.80" y1="118.06" x2="654.98" y2="118.06" stroke="#3f3f3f" stroke-width="0.7"/>
<line x1="660.36" y1="67.17" x2="660.36" y2="38.20" stroke="#3f3f3f" stroke-width="0.7"/>
<line x1="660.36" y1="118.06" x2="660.36" y2="124.01" stroke="#3f3f3f" stroke-width="0.7"/>
<line x1="658.57" y1="38.20" x2="662.16" y2="38.20" stroke="#3f3f3f" stroke-width="0.7"/>
<line x1="658.57" y1="124.01" x2="662.16" y2="124.01" stroke="#3f3f3f" stroke-width="0.7"/>
<rect x="656.77" y="67.17" width="7.18" height="50.89" fill="#d1d197" stroke="#3f3f3f" stroke-width="0.7"/>
<line x1="656.77" y1="90.66" x2="663.95" y2="90.66" stroke="#3f3f3f" stroke-width="0.7"/>
<line x1="678.31" y1="114.30" x2="678.31" y2="111.01" stroke="#3f3f3f" stroke-width="0.7"/>
<line x1="678.31" y1="122.29" x2="678.31" y2="127.69" stroke="#3f3f3f" stroke-width="0.7"/>
<line x1="676.52" y1="111.01" x2="680.11" y2="111.01" stroke="#3f3f3f" stroke-width="0.7"/>
<line x1="676.52" y1="127.69" x2="680.11" y2="127.69" stroke="#3f3f3f" stroke-width="0.7"/>
<rect x="674.72" y="114.30" width="7.18" height="7.99" fill="#a7d4dc" stroke="#3f3f3f" stroke-width="0.7"/>
<line x1="674.72" y1="120.41" x2="681.90" y2="120.41" stroke="#3f3f3f" stroke-width="0.7"/>
<rect x="503.3" y="10.0" width="179.49999999999994" height="133.7" fill="none" stroke="#7a7a7a" stroke-width="0.8"/>
<line x1="501.3" y1="143.90" x2="503.3" y2="143.90" stroke="#7a7a7a" stroke-width="0.6"/>
<text x="499.70" y="145.92" font-size="5.6" text-anchor="end" fill="#111" stroke="#111" stroke-width="0.17">0</text>
<line x1="501.3" y1="112.58" x2="503.3" y2="112.58" stroke="#7a7a7a" stroke-width="0.6"/>
<text x="499.70" y="114.60" font-size="5.6" text-anchor="end" fill="#111" stroke="#111" stroke-width="0.17">0.4</text>
<line x1="501.3" y1="81.26" x2="503.3" y2="81.26" stroke="#7a7a7a" stroke-width="0.6"/>
<text x="499.70" y="83.28" font-size="5.6" text-anchor="end" fill="#111" stroke="#111" stroke-width="0.17">0.8</text>
<line x1="501.3" y1="49.94" x2="503.3" y2="49.94" stroke="#7a7a7a" stroke-width="0.6"/>
<text x="499.70" y="51.96" font-size="5.6" text-anchor="end" fill="#111" stroke="#111" stroke-width="0.17">1.2</text>
<line x1="501.3" y1="18.62" x2="503.3" y2="18.62" stroke="#7a7a7a" stroke-width="0.6"/>
<text x="499.70" y="20.64" font-size="5.6" text-anchor="end" fill="#111" stroke="#111" stroke-width="0.17">1.6</text>
<line x1="502.1" y1="128.24" x2="503.3" y2="128.24" stroke="#7a7a7a" stroke-width="0.5"/>
<line x1="502.1" y1="96.92" x2="503.3" y2="96.92" stroke="#7a7a7a" stroke-width="0.5"/>
<line x1="502.1" y1="65.60" x2="503.3" y2="65.60" stroke="#7a7a7a" stroke-width="0.5"/>
<line x1="502.1" y1="34.28" x2="503.3" y2="34.28" stroke="#7a7a7a" stroke-width="0.5"/>
<line x1="507.79" y1="143.7" x2="507.79" y2="145.7" stroke="#7a7a7a" stroke-width="0.6"/>
<text x="505.16" y="146.90" font-size="7.3" transform="rotate(90 505.16 146.90)" fill="#111" stroke="#111" stroke-width="0.22">T1</text>
<line x1="516.76" y1="143.7" x2="516.76" y2="145.7" stroke="#7a7a7a" stroke-width="0.6"/>
<text x="514.13" y="146.90" font-size="7.3" transform="rotate(90 514.13 146.90)" fill="#111" stroke="#111" stroke-width="0.22">S21</text>
<line x1="525.74" y1="143.7" x2="525.74" y2="145.7" stroke="#7a7a7a" stroke-width="0.6"/>
<text x="523.11" y="146.90" font-size="7.3" transform="rotate(90 523.11 146.90)" fill="#111" stroke="#111" stroke-width="0.22">S22</text>
<line x1="534.71" y1="143.7" x2="534.71" y2="145.7" stroke="#7a7a7a" stroke-width="0.6"/>
<text x="532.08" y="146.90" font-size="7.3" transform="rotate(90 532.08 146.90)" fill="#111" stroke="#111" stroke-width="0.22">G23</text>
<line x1="543.69" y1="143.7" x2="543.69" y2="145.7" stroke="#7a7a7a" stroke-width="0.6"/>
<text x="541.06" y="146.90" font-size="7.3" transform="rotate(90 541.06 146.90)" fill="#111" stroke="#111" stroke-width="0.22">A46</text>
<line x1="552.66" y1="143.7" x2="552.66" y2="145.7" stroke="#7a7a7a" stroke-width="0.6"/>
<text x="550.03" y="146.90" font-size="7.3" transform="rotate(90 550.03 146.90)" fill="#111" stroke="#111" stroke-width="0.22">G47</text>
<line x1="561.64" y1="143.7" x2="561.64" y2="145.7" stroke="#7a7a7a" stroke-width="0.6"/>
<text x="559.01" y="146.90" font-size="7.3" transform="rotate(90 559.01 146.90)" fill="#111" stroke="#111" stroke-width="0.22">G48</text>
<line x1="570.61" y1="143.7" x2="570.61" y2="145.7" stroke="#7a7a7a" stroke-width="0.6"/>
<text x="567.98" y="146.90" font-size="7.3" transform="rotate(90 567.98 146.90)" fill="#111" stroke="#111" stroke-width="0.22">S96</text>
<line x1="579.59" y1="143.7" x2="579.59" y2="145.7" stroke="#7a7a7a" stroke-width="0.6"/>
<text x="576.96" y="146.90" font-size="7.3" transform="rotate(90 576.96 146.90)" fill="#111" stroke="#111" stroke-width="0.22">M97</text>
<line x1="588.56" y1="143.7" x2="588.56" y2="145.7" stroke="#7a7a7a" stroke-width="0.6"/>
<text x="585.93" y="146.90" font-size="7.3" transform="rotate(90 585.93 146.90)" fill="#111" stroke="#111" stroke-width="0.22">G98</text>
<line x1="597.54" y1="143.7" x2="597.54" y2="145.7" stroke="#7a7a7a" stroke-width="0.6"/>
<text x="594.91" y="146.90" font-size="7.3" transform="rotate(90 594.91 146.90)" fill="#111" stroke="#111" stroke-width="0.22">Y113</text>
<line x1="606.51" y1="143.7" x2="606.51" y2="145.7" stroke="#7a7a7a" stroke-width="0.6"/>
<text x="603.88" y="146.90" font-size="7.3" transform="rotate(90 603.88 146.90)" fill="#111" stroke="#111" stroke-width="0.22">D115</text>
<line x1="615.49" y1="143.7" x2="615.49" y2="145.7" stroke="#7a7a7a" stroke-width="0.6"/>
<text x="612.86" y="146.90" font-size="7.3" transform="rotate(90 612.86 146.90)" fill="#111" stroke="#111" stroke-width="0.22">D116</text>
<line x1="624.46" y1="143.7" x2="624.46" y2="145.7" stroke="#7a7a7a" stroke-width="0.6"/>
<text x="621.83" y="146.90" font-size="7.3" transform="rotate(90 621.83 146.90)" fill="#111" stroke="#111" stroke-width="0.22">S127</text>
<line x1="633.44" y1="143.7" x2="633.44" y2="145.7" stroke="#7a7a7a" stroke-width="0.6"/>
<text x="630.81" y="146.90" font-size="7.3" transform="rotate(90 630.81 146.90)" fill="#111" stroke="#111" stroke-width="0.22">V128</text>
<line x1="642.41" y1="143.7" x2="642.41" y2="145.7" stroke="#7a7a7a" stroke-width="0.6"/>
<text x="639.78" y="146.90" font-size="7.3" transform="rotate(90 639.78 146.90)" fill="#111" stroke="#111" stroke-width="0.22">G129</text>
<line x1="651.39" y1="143.7" x2="651.39" y2="145.7" stroke="#7a7a7a" stroke-width="0.6"/>
<text x="648.76" y="146.90" font-size="7.3" transform="rotate(90 648.76 146.90)" fill="#111" stroke="#111" stroke-width="0.22">S130</text>
<line x1="660.36" y1="143.7" x2="660.36" y2="145.7" stroke="#7a7a7a" stroke-width="0.6"/>
<text x="657.73" y="146.90" font-size="7.3" transform="rotate(90 657.73 146.90)" fill="#111" stroke="#111" stroke-width="0.22">S132</text>
<line x1="669.34" y1="143.7" x2="669.34" y2="145.7" stroke="#7a7a7a" stroke-width="0.6"/>
<text x="666.71" y="146.90" font-size="7.3" transform="rotate(90 666.71 146.90)" fill="#111" stroke="#111" stroke-width="0.22">Y136</text>
<line x1="678.31" y1="143.7" x2="678.31" y2="145.7" stroke="#7a7a7a" stroke-width="0.6"/>
<text x="675.68" y="146.90" font-size="7.3" transform="rotate(90 675.68 146.90)" fill="#111" stroke="#111" stroke-width="0.22">A169</text>
<text x="593.60" y="176.40" font-size="8.4" text-anchor="middle" fill="#000" stroke="#000" stroke-width="0.25">Residue</text>
<text x="490.60" y="76.50" font-size="8.6" text-anchor="middle" fill="#000" stroke="#000" stroke-width="0.26" transform="rotate(-90 490.60 76.50)">RMSD (Å)</text>
<line x1="239.12" y1="243.89" x2="239.12" y2="243.28" stroke="#3f3f3f" stroke-width="0.6"/>
<line x1="239.12" y1="245.11" x2="239.12" y2="245.72" stroke="#3f3f3f" stroke-width="0.6"/>
<line x1="237.79" y1="243.28" x2="240.46" y2="243.28" stroke="#3f3f3f" stroke-width="0.6"/>
<line x1="237.79" y1="245.72" x2="240.46" y2="245.72" stroke="#3f3f3f" stroke-width="0.6"/>
<rect x="236.47" y="243.89" width="5.32" height="1.23" fill="#3274a1" stroke="#3f3f3f" stroke-width="0.6"/>
<line x1="236.47" y1="244.50" x2="241.78" y2="244.50" stroke="#3f3f3f" stroke-width="0.6"/>
<circle cx="239.12" cy="224.90" r="0.9" fill="none" stroke="#3f3f3f" stroke-width="0.5"/>
<circle cx="239.12" cy="235.93" r="0.9" fill="none" stroke="#3f3f3f" stroke-width="0.5"/>
<circle cx="239.12" cy="237.15" r="0.9" fill="none" stroke="#3f3f3f" stroke-width="0.5"/>
<circle cx="239.12" cy="240.82" r="0.9" fill="none" stroke="#3f3f3f" stroke-width="0.5"/>
<circle cx="239.12" cy="269.00" r="0.9" fill="none" stroke="#3f3f3f" stroke-width="0.5"/>
<line x1="245.78" y1="242.05" x2="245.78" y2="239.60" stroke="#3f3f3f" stroke-width="0.6"/>
<line x1="245.78" y1="245.72" x2="245.78" y2="248.18" stroke="#3f3f3f" stroke-width="0.6"/>
<line x1="244.44" y1="239.60" x2="247.11" y2="239.60" stroke="#3f3f3f" stroke-width="0.6"/>
<line x1="244.44" y1="248.18" x2="247.11" y2="248.18" stroke="#3f3f3f" stroke-width="0.6"/>
<rect x="243.12" y="242.05" width="5.32" height="3.67" fill="#b5c8e1" stroke="#3f3f3f" stroke-width="0.6"/>
<line x1="243.12" y1="243.89" x2="248.44" y2="243.89" stroke="#3f3f3f" stroke-width="0.6"/>
<circle cx="245.78" cy="231.03" r="0.9" fill="none" stroke="#3f3f3f" stroke-width="0.5"/>
<circle cx="245.78" cy="249.40" r="0.9" fill="none" stroke="#3f3f3f" stroke-width="0.5"/>
<circle cx="245.78" cy="251.85" r="0.9" fill="none" stroke="#3f3f3f" stroke-width="0.5"/>
<circle cx="245.78" cy="254.30" r="0.9" fill="none" stroke="#3f3f3f" stroke-width="0.5"/>
<line x1="252.43" y1="245.11" x2="252.43" y2="244.50" stroke="#3f3f3f" stroke-width="0.6"/>
<line x1="252.43" y1="248.18" x2="252.43" y2="250.62" stroke="#3f3f3f" stroke-width="0.6"/>
<line x1="251.09" y1="244.50" x2="253.76" y2="244.50" stroke="#3f3f3f" stroke-width="0.6"/>
<line x1="251.09" y1="250.62" x2="253.76" y2="250.62" stroke="#3f3f3f" stroke-width="0.6"/>
<rect x="249.77" y="245.11" width="5.32" height="3.06" fill="#e1812c" stroke="#3f3f3f" stroke-width="0.6"/>
<line x1="249.77" y1="246.34" x2="255.09" y2="246.34" stroke="#3f3f3f" stroke-width="0.6"/>
<line x1="259.07" y1="244.13" x2="259.07" y2="243.28" stroke="#3f3f3f" stroke-width="0.6"/>
<line x1="259.07" y1="244.87" x2="259.07" y2="245.72" stroke="#3f3f3f" stroke-width="0.6"/>
<line x1="257.75" y1="243.28" x2="260.40" y2="243.28" stroke="#3f3f3f" stroke-width="0.6"/>
<line x1="257.75" y1="245.72" x2="260.40" y2="245.72" stroke="#3f3f3f" stroke-width="0.6"/>
<rect x="256.41" y="244.13" width="5.32" height="0.80" fill="#eebb89" stroke="#3f3f3f" stroke-width="0.6"/>
<line x1="256.41" y1="244.50" x2="261.74" y2="244.50" stroke="#3f3f3f" stroke-width="0.6"/>
<circle cx="259.07" cy="250.62" r="0.9" fill="none" stroke="#3f3f3f" stroke-width="0.5"/>
<line x1="265.73" y1="240.82" x2="265.73" y2="238.38" stroke="#3f3f3f" stroke-width="0.6"/>
<line x1="265.73" y1="244.50" x2="265.73" y2="245.72" stroke="#3f3f3f" stroke-width="0.6"/>
<line x1="264.40" y1="238.38" x2="267.06" y2="238.38" stroke="#3f3f3f" stroke-width="0.6"/>
<line x1="264.40" y1="245.72" x2="267.06" y2="245.72" stroke="#3f3f3f" stroke-width="0.6"/>
<rect x="263.06" y="240.82" width="5.32" height="3.68" fill="#3a923a" stroke="#3f3f3f" stroke-width="0.6"/>
<line x1="263.06" y1="242.66" x2="268.39" y2="242.66" stroke="#3f3f3f" stroke-width="0.6"/>
<circle cx="265.73" cy="224.90" r="0.9" fill="none" stroke="#3f3f3f" stroke-width="0.5"/>
<circle cx="265.73" cy="233.47" r="0.9" fill="none" stroke="#3f3f3f" stroke-width="0.5"/>
<circle cx="265.73" cy="278.80" r="0.9" fill="none" stroke="#3f3f3f" stroke-width="0.5"/>
<line x1="272.38" y1="235.93" x2="272.38" y2="233.47" stroke="#3f3f3f" stroke-width="0.6"/>
<line x1="272.38" y1="243.28" x2="272.38" y2="244.50" stroke="#3f3f3f" stroke-width="0.6"/>
<line x1="271.05" y1="233.47" x2="273.70" y2="233.47" stroke="#3f3f3f" stroke-width="0.6"/>
<line x1="271.05" y1="244.50" x2="273.70" y2="244.50" stroke="#3f3f3f" stroke-width="0.6"/>
<rect x="269.71" y="235.93" width="5.32" height="7.35" fill="#9fd495" stroke="#3f3f3f" stroke-width="0.6"/>
<line x1="269.71" y1="239.60" x2="275.04" y2="239.60" stroke="#3f3f3f" stroke-width="0.6"/>
<circle cx="272.38" cy="210.20" r="0.9" fill="none" stroke="#3f3f3f" stroke-width="0.5"/>
<line x1="279.03" y1="244.13" x2="279.03" y2="243.28" stroke="#3f3f3f" stroke-width="0.6"/>
<line x1="279.03" y1="244.87" x2="279.03" y2="245.72" stroke="#3f3f3f" stroke-width="0.6"/>
<line x1="277.70" y1="243.28" x2="280.36" y2="243.28" stroke="#3f3f3f" stroke-width="0.6"/>
<line x1="277.70" y1="245.72" x2="280.36" y2="245.72" stroke="#3f3f3f" stroke-width="0.6"/>
<rect x="276.37" y="244.13" width="5.32" height="0.80" fill="#c03d3e" stroke="#3f3f3f" stroke-width="0.6"/>
<line x1="276.37" y1="244.50" x2="281.69" y2="244.50" stroke="#3f3f3f" stroke-width="0.6"/>
<circle cx="279.03" cy="245.72" r="0.9" fill="none" stroke="#3f3f3f" stroke-width="0.5"/>
<line x1="285.68" y1="244.13" x2="285.68" y2="243.28" stroke="#3f3f3f" stroke-width="0.6"/>
<line x1="285.68" y1="244.87" x2="285.68" y2="245.72" stroke="#3f3f3f" stroke-width="0.6"/>
<line x1="284.35" y1="243.28" x2="287.00" y2="243.28" stroke="#3f3f3f" stroke-width="0.6"/>
<line x1="284.35" y1="245.72" x2="287.00" y2="245.72" stroke="#3f3f3f" stroke-width="0.6"/>
<rect x="283.01" y="244.13" width="5.32" height="0.80" fill="#f2a5a3" stroke="#3f3f3f" stroke-width="0.6"/>
<line x1="283.01" y1="244.50" x2="288.34" y2="244.50" stroke="#3f3f3f" stroke-width="0.6"/>
<circle cx="285.68" cy="246.95" r="0.9" fill="none" stroke="#3f3f3f" stroke-width="0.5"/>
<circle cx="285.68" cy="249.40" r="0.9" fill="none" stroke="#3f3f3f" stroke-width="0.5"/>
<line x1="292.33" y1="244.13" x2="292.33" y2="243.28" stroke="#3f3f3f" stroke-width="0.6"/>
<line x1="292.33" y1="244.87" x2="292.33" y2="245.72" stroke="#3f3f3f" stroke-width="0.6"/>
<line x1="291.00" y1="243.28" x2="293.66" y2="243.28" stroke="#3f3f3f" stroke-width="0.6"/>
<line x1="291.00" y1="245.72" x2="293.66" y2="245.72" stroke="#3f3f3f" stroke-width="0.6"/>
<rect x="289.67" y="244.13" width="5.32" height="0.80" fill="#9372b2" stroke="#3f3f3f" stroke-width="0.6"/>
<line x1="289.67" y1="244.50" x2="294.99" y2="244.50" stroke="#3f3f3f" stroke-width="0.6"/>
<line x1="298.98" y1="217.55" x2="298.98" y2="210.20" stroke="#3f3f3f" stroke-width="0.6"/>
<line x1="298.98" y1="232.25" x2="298.98" y2="253.07" stroke="#3f3f3f" stroke-width="0.6"/>
<line x1="297.65" y1="210.20" x2="300.31" y2="210.20" stroke="#3f3f3f" stroke-width="0.6"/>
<line x1="297.65" y1="253.07" x2="300.31" y2="253.07" stroke="#3f3f3f" stroke-width="0.6"/>
<rect x="296.31" y="217.55" width="5.32" height="14.70" fill="#c4b5d0" stroke="#3f3f3f" stroke-width="0.6"/>
<line x1="296.31" y1="226.12" x2="301.64" y2="226.12" stroke="#3f3f3f" stroke-width="0.6"/>
<line x1="305.62" y1="218.78" x2="305.62" y2="218.16" stroke="#3f3f3f" stroke-width="0.6"/>
<line x1="305.62" y1="220.00" x2="305.62" y2="221.22" stroke="#3f3f3f" stroke-width="0.6"/>
<line x1="304.30" y1="218.16" x2="306.95" y2="218.16" stroke="#3f3f3f" stroke-width="0.6"/>
<line x1="304.30" y1="221.22" x2="306.95" y2="221.22" stroke="#3f3f3f" stroke-width="0.6"/>
<rect x="302.96" y="218.78" width="5.32" height="1.22" fill="#845b53" stroke="#3f3f3f" stroke-width="0.6"/>
<line x1="302.96" y1="219.39" x2="308.29" y2="219.39" stroke="#3f3f3f" stroke-width="0.6"/>
<circle cx="305.62" cy="223.68" r="0.9" fill="none" stroke="#3f3f3f" stroke-width="0.5"/>
<circle cx="305.62" cy="222.45" r="0.9" fill="none" stroke="#3f3f3f" stroke-width="0.5"/>
<circle cx="305.62" cy="231.03" r="0.9" fill="none" stroke="#3f3f3f" stroke-width="0.5"/>
<line x1="312.28" y1="244.13" x2="312.28" y2="243.28" stroke="#3f3f3f" stroke-width="0.6"/>
<line x1="312.28" y1="244.87" x2="312.28" y2="245.72" stroke="#3f3f3f" stroke-width="0.6"/>
<line x1="310.95" y1="243.28" x2="313.61" y2="243.28" stroke="#3f3f3f" stroke-width="0.6"/>
<line x1="310.95" y1="245.72" x2="313.61" y2="245.72" stroke="#3f3f3f" stroke-width="0.6"/>
<rect x="309.62" y="244.13" width="5.32" height="0.80" fill="#bea09a" stroke="#3f3f3f" stroke-width="0.6"/>
<line x1="309.62" y1="244.50" x2="314.94" y2="244.50" stroke="#3f3f3f" stroke-width="0.6"/>
<circle cx="312.28" cy="237.15" r="0.9" fill="none" stroke="#3f3f3f" stroke-width="0.5"/>
<line x1="318.93" y1="244.13" x2="318.93" y2="243.28" stroke="#3f3f3f" stroke-width="0.6"/>
<line x1="318.93" y1="244.87" x2="318.93" y2="245.72" stroke="#3f3f3f" stroke-width="0.6"/>
<line x1="317.60" y1="243.28" x2="320.25" y2="243.28" stroke="#3f3f3f" stroke-width="0.6"/>
<line x1="317.60" y1="245.72" x2="320.25" y2="245.72" stroke="#3f3f3f" stroke-width="0.6"/>
<rect x="316.26" y="244.13" width="5.32" height="0.80" fill="#d684bd" stroke="#3f3f3f" stroke-width="0.6"/>
<line x1="316.26" y1="244.50" x2="321.59" y2="244.50" stroke="#3f3f3f" stroke-width="0.6"/>
<line x1="325.58" y1="244.13" x2="325.58" y2="243.28" stroke="#3f3f3f" stroke-width="0.6"/>
<line x1="325.58" y1="244.87" x2="325.58" y2="245.72" stroke="#3f3f3f" stroke-width="0.6"/>
<line x1="324.25" y1="243.28" x2="326.91" y2="243.28" stroke="#3f3f3f" stroke-width="0.6"/>
<line x1="324.25" y1="245.72" x2="326.91" y2="245.72" stroke="#3f3f3f" stroke-width="0.6"/>
<rect x="322.92" y="244.13" width="5.32" height="0.80" fill="#efbed3" stroke="#3f3f3f" stroke-width="0.6"/>
<line x1="322.92" y1="244.50" x2="328.24" y2="244.50" stroke="#3f3f3f" stroke-width="0.6"/>
<line x1="332.23" y1="234.70" x2="332.23" y2="222.94" stroke="#3f3f3f" stroke-width="0.6"/>
<line x1="332.23" y1="243.28" x2="332.23" y2="250.62" stroke="#3f3f3f" stroke-width="0.6"/>
<line x1="330.90" y1="222.94" x2="333.56" y2="222.94" stroke="#3f3f3f" stroke-width="0.6"/>
<line x1="330.90" y1="250.62" x2="333.56" y2="250.62" stroke="#3f3f3f" stroke-width="0.6"/>
<rect x="329.56" y="234.70" width="5.32" height="8.58" fill="#7f7f7f" stroke="#3f3f3f" stroke-width="0.6"/>
<line x1="329.56" y1="239.23" x2="334.89" y2="239.23" stroke="#3f3f3f" stroke-width="0.6"/>
<line x1="338.88" y1="230.78" x2="338.88" y2="218.16" stroke="#3f3f3f" stroke-width="0.6"/>
<line x1="338.88" y1="247.07" x2="338.88" y2="269.00" stroke="#3f3f3f" stroke-width="0.6"/>
<line x1="337.55" y1="218.16" x2="340.20" y2="218.16" stroke="#3f3f3f" stroke-width="0.6"/>
<line x1="337.55" y1="269.00" x2="340.20" y2="269.00" stroke="#3f3f3f" stroke-width="0.6"/>
<rect x="336.21" y="230.78" width="5.32" height="16.29" fill="#c7c7c7" stroke="#3f3f3f" stroke-width="0.6"/>
<line x1="336.21" y1="242.42" x2="341.54" y2="242.42" stroke="#3f3f3f" stroke-width="0.6"/>
<circle cx="338.88" cy="189.99" r="0.9" fill="none" stroke="#3f3f3f" stroke-width="0.5"/>
<line x1="345.53" y1="243.28" x2="345.53" y2="237.88" stroke="#3f3f3f" stroke-width="0.6"/>
<line x1="345.53" y1="249.03" x2="345.53" y2="250.01" stroke="#3f3f3f" stroke-width="0.6"/>
<line x1="344.20" y1="237.88" x2="346.86" y2="237.88" stroke="#3f3f3f" stroke-width="0.6"/>
<line x1="344.20" y1="250.01" x2="346.86" y2="250.01" stroke="#3f3f3f" stroke-width="0.6"/>
<rect x="342.87" y="243.28" width="5.32" height="5.76" fill="#a9aa35" stroke="#3f3f3f" stroke-width="0.6"/>
<line x1="342.87" y1="246.95" x2="348.19" y2="246.95" stroke="#3f3f3f" stroke-width="0.6"/>
<circle cx="345.53" cy="203.22" r="0.9" fill="none" stroke="#3f3f3f" stroke-width="0.5"/>
<line x1="352.18" y1="208.97" x2="352.18" y2="203.22" stroke="#3f3f3f" stroke-width="0.6"/>
<line x1="352.18" y1="230.04" x2="352.18" y2="260.43" stroke="#3f3f3f" stroke-width="0.6"/>
<line x1="350.85" y1="203.22" x2="353.50" y2="203.22" stroke="#3f3f3f" stroke-width="0.6"/>
<line x1="350.85" y1="260.43" x2="353.50" y2="260.43" stroke="#3f3f3f" stroke-width="0.6"/>
<rect x="349.51" y="208.97" width="5.32" height="21.07" fill="#d1d197" stroke="#3f3f3f" stroke-width="0.6"/>
<line x1="349.51" y1="218.16" x2="354.84" y2="218.16" stroke="#3f3f3f" stroke-width="0.6"/>
<line x1="358.83" y1="244.13" x2="358.83" y2="243.28" stroke="#3f3f3f" stroke-width="0.6"/>
<line x1="358.83" y1="244.87" x2="358.83" y2="245.72" stroke="#3f3f3f" stroke-width="0.6"/>
<line x1="357.50" y1="243.28" x2="360.16" y2="243.28" stroke="#3f3f3f" stroke-width="0.6"/>
<line x1="357.50" y1="245.72" x2="360.16" y2="245.72" stroke="#3f3f3f" stroke-width="0.6"/>
<rect x="356.17" y="244.13" width="5.32" height="0.80" fill="#2eabb8" stroke="#3f3f3f" stroke-width="0.6"/>
<line x1="356.17" y1="244.50" x2="361.49" y2="244.50" stroke="#3f3f3f" stroke-width="0.6"/>
<line x1="365.48" y1="242.66" x2="365.48" y2="237.88" stroke="#3f3f3f" stroke-width="0.6"/>
<line x1="365.48" y1="249.16" x2="365.48" y2="252.46" stroke="#3f3f3f" stroke-width="0.6"/>
<line x1="364.15" y1="237.88" x2="366.81" y2="237.88" stroke="#3f3f3f" stroke-width="0.6"/>
<line x1="364.15" y1="252.46" x2="366.81" y2="252.46" stroke="#3f3f3f" stroke-width="0.6"/>
<rect x="362.81" y="242.66" width="5.32" height="6.49" fill="#a7d4dc" stroke="#3f3f3f" stroke-width="0.6"/>
<line x1="362.81" y1="245.97" x2="368.14" y2="245.97" stroke="#3f3f3f" stroke-width="0.6"/>
<circle cx="365.48" cy="270.84" r="0.9" fill="none" stroke="#3f3f3f" stroke-width="0.5"/>
<rect x="235.8" y="182.3" width="133.0" height="98.5" fill="none" stroke="#7a7a7a" stroke-width="0.8"/>
<line x1="234.3" y1="195.50" x2="235.8" y2="195.50" stroke="#7a7a7a" stroke-width="0.6"/>
<text x="233.70" y="197.80" font-size="6.4" text-anchor="end" fill="#111" stroke="#111" stroke-width="0.19">0.4</text>
<line x1="234.3" y1="220.00" x2="235.8" y2="220.00" stroke="#7a7a7a" stroke-width="0.6"/>
<text x="233.70" y="222.30" font-size="6.4" text-anchor="end" fill="#111" stroke="#111" stroke-width="0.19">0.2</text>
<line x1="234.3" y1="244.50" x2="235.8" y2="244.50" stroke="#7a7a7a" stroke-width="0.6"/>
<text x="233.70" y="246.80" font-size="6.4" text-anchor="end" fill="#111" stroke="#111" stroke-width="0.19">0</text>
<line x1="234.3" y1="269.00" x2="235.8" y2="269.00" stroke="#7a7a7a" stroke-width="0.6"/>
<text x="233.70" y="271.30" font-size="6.4" text-anchor="end" fill="#111" stroke="#111" stroke-width="0.19">−0.2</text>
<line x1="239.12" y1="280.8" x2="239.12" y2="282.3" stroke="#7a7a7a" stroke-width="0.5"/>
<line x1="245.78" y1="280.8" x2="245.78" y2="282.3" stroke="#7a7a7a" stroke-width="0.5"/>
<line x1="252.43" y1="280.8" x2="252.43" y2="282.3" stroke="#7a7a7a" stroke-width="0.5"/>
<line x1="259.07" y1="280.8" x2="259.07" y2="282.3" stroke="#7a7a7a" stroke-width="0.5"/>
<line x1="265.73" y1="280.8" x2="265.73" y2="282.3" stroke="#7a7a7a" stroke-width="0.5"/>
<line x1="272.38" y1="280.8" x2="272.38" y2="282.3" stroke="#7a7a7a" stroke-width="0.5"/>
<line x1="279.03" y1="280.8" x2="279.03" y2="282.3" stroke="#7a7a7a" stroke-width="0.5"/>
<line x1="285.68" y1="280.8" x2="285.68" y2="282.3" stroke="#7a7a7a" stroke-width="0.5"/>
<line x1="292.32" y1="280.8" x2="292.32" y2="282.3" stroke="#7a7a7a" stroke-width="0.5"/>
<line x1="298.98" y1="280.8" x2="298.98" y2="282.3" stroke="#7a7a7a" stroke-width="0.5"/>
<line x1="305.62" y1="280.8" x2="305.62" y2="282.3" stroke="#7a7a7a" stroke-width="0.5"/>
<line x1="312.27" y1="280.8" x2="312.27" y2="282.3" stroke="#7a7a7a" stroke-width="0.5"/>
<line x1="318.93" y1="280.8" x2="318.93" y2="282.3" stroke="#7a7a7a" stroke-width="0.5"/>
<line x1="325.58" y1="280.8" x2="325.58" y2="282.3" stroke="#7a7a7a" stroke-width="0.5"/>
<line x1="332.23" y1="280.8" x2="332.23" y2="282.3" stroke="#7a7a7a" stroke-width="0.5"/>
<line x1="338.88" y1="280.8" x2="338.88" y2="282.3" stroke="#7a7a7a" stroke-width="0.5"/>
<line x1="345.52" y1="280.8" x2="345.52" y2="282.3" stroke="#7a7a7a" stroke-width="0.5"/>
<line x1="352.18" y1="280.8" x2="352.18" y2="282.3" stroke="#7a7a7a" stroke-width="0.5"/>
<line x1="358.83" y1="280.8" x2="358.83" y2="282.3" stroke="#7a7a7a" stroke-width="0.5"/>
<line x1="365.48" y1="280.8" x2="365.48" y2="282.3" stroke="#7a7a7a" stroke-width="0.5"/>
<text x="220.30" y="234.00" font-size="6.7" text-anchor="middle" fill="#000" stroke="#000" stroke-width="0.20" transform="rotate(-90 220.30 234.00)">E(Kcal/mol) hydrogen bonding</text>
<line x1="238.65" y1="341.98" x2="238.65" y2="327.58" stroke="#3f3f3f" stroke-width="0.6"/>
<line x1="238.65" y1="364.85" x2="238.65" y2="375.01" stroke="#3f3f3f" stroke-width="0.6"/>
<line x1="237.31" y1="327.58" x2="239.99" y2="327.58" stroke="#3f3f3f" stroke-width="0.6"/>
<line x1="237.31" y1="375.01" x2="239.99" y2="375.01" stroke="#3f3f3f" stroke-width="0.6"/>
<rect x="235.97" y="341.98" width="5.36" height="22.87" fill="#3274a1" stroke="#3f3f3f" stroke-width="0.6"/>
<line x1="235.97" y1="349.60" x2="241.33" y2="349.60" stroke="#3f3f3f" stroke-width="0.6"/>
<line x1="245.34" y1="347.06" x2="245.34" y2="328.43" stroke="#3f3f3f" stroke-width="0.6"/>
<line x1="245.34" y1="364.00" x2="245.34" y2="370.78" stroke="#3f3f3f" stroke-width="0.6"/>
<line x1="244.00" y1="328.43" x2="246.68" y2="328.43" stroke="#3f3f3f" stroke-width="0.6"/>
<line x1="244.00" y1="370.78" x2="246.68" y2="370.78" stroke="#3f3f3f" stroke-width="0.6"/>
<rect x="242.66" y="347.06" width="5.36" height="16.94" fill="#b5c8e1" stroke="#3f3f3f" stroke-width="0.6"/>
<line x1="242.66" y1="353.84" x2="248.02" y2="353.84" stroke="#3f3f3f" stroke-width="0.6"/>
<line x1="252.04" y1="348.75" x2="252.04" y2="347.06" stroke="#3f3f3f" stroke-width="0.6"/>
<line x1="252.04" y1="350.45" x2="252.04" y2="351.29" stroke="#3f3f3f" stroke-width="0.6"/>
<line x1="250.70" y1="347.06" x2="253.38" y2="347.06" stroke="#3f3f3f" stroke-width="0.6"/>
<line x1="250.70" y1="351.29" x2="253.38" y2="351.29" stroke="#3f3f3f" stroke-width="0.6"/>
<rect x="249.36" y="348.75" width="5.36" height="1.69" fill="#e1812c" stroke="#3f3f3f" stroke-width="0.6"/>
<line x1="249.36" y1="349.60" x2="254.72" y2="349.60" stroke="#3f3f3f" stroke-width="0.6"/>
<line x1="258.73" y1="353.84" x2="258.73" y2="349.60" stroke="#3f3f3f" stroke-width="0.6"/>
<line x1="258.73" y1="362.31" x2="258.73" y2="364.85" stroke="#3f3f3f" stroke-width="0.6"/>
<line x1="257.39" y1="349.60" x2="260.07" y2="349.60" stroke="#3f3f3f" stroke-width="0.6"/>
<line x1="257.39" y1="364.85" x2="260.07" y2="364.85" stroke="#3f3f3f" stroke-width="0.6"/>
<rect x="256.05" y="353.84" width="5.36" height="8.47" fill="#eebb89" stroke="#3f3f3f" stroke-width="0.6"/>
<line x1="256.05" y1="356.38" x2="261.41" y2="356.38" stroke="#3f3f3f" stroke-width="0.6"/>
<circle cx="258.73" cy="342.82" r="0.9" fill="none" stroke="#3f3f3f" stroke-width="0.5"/>
<circle cx="258.73" cy="371.62" r="0.9" fill="none" stroke="#3f3f3f" stroke-width="0.5"/>
<line x1="265.43" y1="347.06" x2="265.43" y2="345.37" stroke="#3f3f3f" stroke-width="0.6"/>
<line x1="265.43" y1="353.84" x2="265.43" y2="355.53" stroke="#3f3f3f" stroke-width="0.6"/>
<line x1="264.09" y1="345.37" x2="266.77" y2="345.37" stroke="#3f3f3f" stroke-width="0.6"/>
<line x1="264.09" y1="355.53" x2="266.77" y2="355.53" stroke="#3f3f3f" stroke-width="0.6"/>
<rect x="262.75" y="347.06" width="5.36" height="6.78" fill="#3a923a" stroke="#3f3f3f" stroke-width="0.6"/>
<line x1="262.75" y1="350.45" x2="268.11" y2="350.45" stroke="#3f3f3f" stroke-width="0.6"/>
<circle cx="265.43" cy="336.05" r="0.9" fill="none" stroke="#3f3f3f" stroke-width="0.5"/>
<line x1="272.12" y1="356.38" x2="272.12" y2="332.66" stroke="#3f3f3f" stroke-width="0.6"/>
<line x1="272.12" y1="375.01" x2="272.12" y2="383.48" stroke="#3f3f3f" stroke-width="0.6"/>
<line x1="270.78" y1="332.66" x2="273.46" y2="332.66" stroke="#3f3f3f" stroke-width="0.6"/>
<line x1="270.78" y1="383.48" x2="273.46" y2="383.48" stroke="#3f3f3f" stroke-width="0.6"/>
<rect x="269.44" y="356.38" width="5.36" height="18.63" fill="#9fd495" stroke="#3f3f3f" stroke-width="0.6"/>
<line x1="269.44" y1="366.54" x2="274.80" y2="366.54" stroke="#3f3f3f" stroke-width="0.6"/>
<line x1="278.82" y1="350.45" x2="278.82" y2="346.21" stroke="#3f3f3f" stroke-width="0.6"/>
<line x1="278.82" y1="355.53" x2="278.82" y2="361.46" stroke="#3f3f3f" stroke-width="0.6"/>
<line x1="277.48" y1="346.21" x2="280.16" y2="346.21" stroke="#3f3f3f" stroke-width="0.6"/>
<line x1="277.48" y1="361.46" x2="280.16" y2="361.46" stroke="#3f3f3f" stroke-width="0.6"/>
<rect x="276.14" y="350.45" width="5.36" height="5.08" fill="#c03d3e" stroke="#3f3f3f" stroke-width="0.6"/>
<line x1="276.14" y1="352.99" x2="281.50" y2="352.99" stroke="#3f3f3f" stroke-width="0.6"/>
<circle cx="278.82" cy="359.76" r="0.9" fill="none" stroke="#3f3f3f" stroke-width="0.5"/>
<line x1="285.51" y1="349.60" x2="285.51" y2="347.06" stroke="#3f3f3f" stroke-width="0.6"/>
<line x1="285.51" y1="362.31" x2="285.51" y2="372.47" stroke="#3f3f3f" stroke-width="0.6"/>
<line x1="284.17" y1="347.06" x2="286.85" y2="347.06" stroke="#3f3f3f" stroke-width="0.6"/>
<line x1="284.17" y1="372.47" x2="286.85" y2="372.47" stroke="#3f3f3f" stroke-width="0.6"/>
<rect x="282.83" y="349.60" width="5.36" height="12.70" fill="#f2a5a3" stroke="#3f3f3f" stroke-width="0.6"/>
<line x1="282.83" y1="351.29" x2="288.19" y2="351.29" stroke="#3f3f3f" stroke-width="0.6"/>
<line x1="292.21" y1="348.33" x2="292.21" y2="346.64" stroke="#3f3f3f" stroke-width="0.6"/>
<line x1="292.21" y1="350.45" x2="292.21" y2="351.29" stroke="#3f3f3f" stroke-width="0.6"/>
<line x1="290.87" y1="346.64" x2="293.55" y2="346.64" stroke="#3f3f3f" stroke-width="0.6"/>
<line x1="290.87" y1="351.29" x2="293.55" y2="351.29" stroke="#3f3f3f" stroke-width="0.6"/>
<rect x="289.53" y="348.33" width="5.36" height="2.12" fill="#9372b2" stroke="#3f3f3f" stroke-width="0.6"/>
<line x1="289.53" y1="349.18" x2="294.89" y2="349.18" stroke="#3f3f3f" stroke-width="0.6"/>
<line x1="298.90" y1="337.49" x2="298.90" y2="301.58" stroke="#3f3f3f" stroke-width="0.6"/>
<line x1="298.90" y1="360.78" x2="298.90" y2="369.42" stroke="#3f3f3f" stroke-width="0.6"/>
<line x1="297.56" y1="301.58" x2="300.24" y2="301.58" stroke="#3f3f3f" stroke-width="0.6"/>
<line x1="297.56" y1="369.42" x2="300.24" y2="369.42" stroke="#3f3f3f" stroke-width="0.6"/>
<rect x="296.22" y="337.49" width="5.36" height="23.29" fill="#c4b5d0" stroke="#3f3f3f" stroke-width="0.6"/>
<line x1="296.22" y1="347.74" x2="301.58" y2="347.74" stroke="#3f3f3f" stroke-width="0.6"/>
<line x1="305.60" y1="322.33" x2="305.60" y2="316.82" stroke="#3f3f3f" stroke-width="0.6"/>
<line x1="305.60" y1="336.90" x2="305.60" y2="351.21" stroke="#3f3f3f" stroke-width="0.6"/>
<line x1="304.26" y1="316.82" x2="306.94" y2="316.82" stroke="#3f3f3f" stroke-width="0.6"/>
<line x1="304.26" y1="351.21" x2="306.94" y2="351.21" stroke="#3f3f3f" stroke-width="0.6"/>
<rect x="302.92" y="322.33" width="5.36" height="14.57" fill="#845b53" stroke="#3f3f3f" stroke-width="0.6"/>
<line x1="302.92" y1="329.02" x2="308.28" y2="329.02" stroke="#3f3f3f" stroke-width="0.6"/>
<line x1="312.29" y1="349.60" x2="312.29" y2="340.71" stroke="#3f3f3f" stroke-width="0.6"/>
<line x1="312.29" y1="357.22" x2="312.29" y2="362.98" stroke="#3f3f3f" stroke-width="0.6"/>
<line x1="310.95" y1="340.71" x2="313.63" y2="340.71" stroke="#3f3f3f" stroke-width="0.6"/>
<line x1="310.95" y1="362.98" x2="313.63" y2="362.98" stroke="#3f3f3f" stroke-width="0.6"/>
<rect x="309.61" y="349.60" width="5.36" height="7.62" fill="#bea09a" stroke="#3f3f3f" stroke-width="0.6"/>
<line x1="309.61" y1="352.82" x2="314.97" y2="352.82" stroke="#3f3f3f" stroke-width="0.6"/>
<line x1="318.99" y1="349.60" x2="318.99" y2="347.99" stroke="#3f3f3f" stroke-width="0.6"/>
<line x1="318.99" y1="353.50" x2="318.99" y2="358.07" stroke="#3f3f3f" stroke-width="0.6"/>
<line x1="317.65" y1="347.99" x2="320.33" y2="347.99" stroke="#3f3f3f" stroke-width="0.6"/>
<line x1="317.65" y1="358.07" x2="320.33" y2="358.07" stroke="#3f3f3f" stroke-width="0.6"/>
<rect x="316.31" y="349.60" width="5.36" height="3.90" fill="#d684bd" stroke="#3f3f3f" stroke-width="0.6"/>
<line x1="316.31" y1="351.29" x2="321.67" y2="351.29" stroke="#3f3f3f" stroke-width="0.6"/>
<line x1="325.68" y1="347.91" x2="325.68" y2="346.21" stroke="#3f3f3f" stroke-width="0.6"/>
<line x1="325.68" y1="350.02" x2="325.68" y2="352.14" stroke="#3f3f3f" stroke-width="0.6"/>
<line x1="324.34" y1="346.21" x2="327.02" y2="346.21" stroke="#3f3f3f" stroke-width="0.6"/>
<line x1="324.34" y1="352.14" x2="327.02" y2="352.14" stroke="#3f3f3f" stroke-width="0.6"/>
<rect x="323.00" y="347.91" width="5.36" height="2.12" fill="#efbed3" stroke="#3f3f3f" stroke-width="0.6"/>
<line x1="323.00" y1="349.18" x2="328.36" y2="349.18" stroke="#3f3f3f" stroke-width="0.6"/>
<circle cx="325.68" cy="343.33" r="0.9" fill="none" stroke="#3f3f3f" stroke-width="0.5"/>
<line x1="332.38" y1="325.38" x2="332.38" y2="314.28" stroke="#3f3f3f" stroke-width="0.6"/>
<line x1="332.38" y1="339.10" x2="332.38" y2="355.02" stroke="#3f3f3f" stroke-width="0.6"/>
<line x1="331.04" y1="314.28" x2="333.72" y2="314.28" stroke="#3f3f3f" stroke-width="0.6"/>
<line x1="331.04" y1="355.02" x2="333.72" y2="355.02" stroke="#3f3f3f" stroke-width="0.6"/>
<rect x="329.70" y="325.38" width="5.36" height="13.72" fill="#7f7f7f" stroke="#3f3f3f" stroke-width="0.6"/>
<line x1="329.70" y1="334.35" x2="335.06" y2="334.35" stroke="#3f3f3f" stroke-width="0.6"/>
<circle cx="332.38" cy="296.83" r="0.9" fill="none" stroke="#3f3f3f" stroke-width="0.5"/>
<line x1="339.07" y1="352.82" x2="339.07" y2="336.05" stroke="#3f3f3f" stroke-width="0.6"/>
<line x1="339.07" y1="366.20" x2="339.07" y2="379.92" stroke="#3f3f3f" stroke-width="0.6"/>
<line x1="337.73" y1="336.05" x2="340.41" y2="336.05" stroke="#3f3f3f" stroke-width="0.6"/>
<line x1="337.73" y1="379.92" x2="340.41" y2="379.92" stroke="#3f3f3f" stroke-width="0.6"/>
<rect x="336.39" y="352.82" width="5.36" height="13.38" fill="#c7c7c7" stroke="#3f3f3f" stroke-width="0.6"/>
<line x1="336.39" y1="358.92" x2="341.75" y2="358.92" stroke="#3f3f3f" stroke-width="0.6"/>
<line x1="345.77" y1="352.56" x2="345.77" y2="344.52" stroke="#3f3f3f" stroke-width="0.6"/>
<line x1="345.77" y1="361.46" x2="345.77" y2="365.69" stroke="#3f3f3f" stroke-width="0.6"/>
<line x1="344.43" y1="344.52" x2="347.11" y2="344.52" stroke="#3f3f3f" stroke-width="0.6"/>
<line x1="344.43" y1="365.69" x2="347.11" y2="365.69" stroke="#3f3f3f" stroke-width="0.6"/>
<rect x="343.09" y="352.56" width="5.36" height="8.89" fill="#a9aa35" stroke="#3f3f3f" stroke-width="0.6"/>
<line x1="343.09" y1="355.95" x2="348.45" y2="355.95" stroke="#3f3f3f" stroke-width="0.6"/>
<circle cx="345.77" cy="371.62" r="0.9" fill="none" stroke="#3f3f3f" stroke-width="0.5"/>
<circle cx="345.77" cy="378.40" r="0.9" fill="none" stroke="#3f3f3f" stroke-width="0.5"/>
<line x1="352.46" y1="348.58" x2="352.46" y2="337.74" stroke="#3f3f3f" stroke-width="0.6"/>
<line x1="352.46" y1="377.55" x2="352.46" y2="387.72" stroke="#3f3f3f" stroke-width="0.6"/>
<line x1="351.12" y1="337.74" x2="353.80" y2="337.74" stroke="#3f3f3f" stroke-width="0.6"/>
<line x1="351.12" y1="387.72" x2="353.80" y2="387.72" stroke="#3f3f3f" stroke-width="0.6"/>
<rect x="349.78" y="348.58" width="5.36" height="28.97" fill="#d1d197" stroke="#3f3f3f" stroke-width="0.6"/>
<line x1="349.78" y1="358.92" x2="355.14" y2="358.92" stroke="#3f3f3f" stroke-width="0.6"/>
<line x1="359.16" y1="341.55" x2="359.16" y2="341.13" stroke="#3f3f3f" stroke-width="0.6"/>
<line x1="359.16" y1="343.67" x2="359.16" y2="344.52" stroke="#3f3f3f" stroke-width="0.6"/>
<line x1="357.82" y1="341.13" x2="360.50" y2="341.13" stroke="#3f3f3f" stroke-width="0.6"/>
<line x1="357.82" y1="344.52" x2="360.50" y2="344.52" stroke="#3f3f3f" stroke-width="0.6"/>
<rect x="356.48" y="341.55" width="5.36" height="2.12" fill="#2eabb8" stroke="#3f3f3f" stroke-width="0.6"/>
<line x1="356.48" y1="342.40" x2="361.84" y2="342.40" stroke="#3f3f3f" stroke-width="0.6"/>
<line x1="365.85" y1="344.52" x2="365.85" y2="330.54" stroke="#3f3f3f" stroke-width="0.6"/>
<line x1="365.85" y1="366.54" x2="365.85" y2="379.25" stroke="#3f3f3f" stroke-width="0.6"/>
<line x1="364.51" y1="330.54" x2="367.19" y2="330.54" stroke="#3f3f3f" stroke-width="0.6"/>
<line x1="364.51" y1="379.25" x2="367.19" y2="379.25" stroke="#3f3f3f" stroke-width="0.6"/>
<rect x="363.17" y="344.52" width="5.36" height="22.02" fill="#a7d4dc" stroke="#3f3f3f" stroke-width="0.6"/>
<line x1="363.17" y1="355.11" x2="368.53" y2="355.11" stroke="#3f3f3f" stroke-width="0.6"/>
<rect x="235.3" y="292.0" width="133.89999999999998" height="99.19999999999999" fill="none" stroke="#7a7a7a" stroke-width="0.8"/>
<line x1="233.8" y1="315.72" x2="235.3" y2="315.72" stroke="#7a7a7a" stroke-width="0.6"/>
<text x="233.20" y="318.02" font-size="6.4" text-anchor="end" fill="#111" stroke="#111" stroke-width="0.19">4</text>
<line x1="233.8" y1="349.60" x2="235.3" y2="349.60" stroke="#7a7a7a" stroke-width="0.6"/>
<text x="233.20" y="351.90" font-size="6.4" text-anchor="end" fill="#111" stroke="#111" stroke-width="0.19">0</text>
<line x1="233.8" y1="383.48" x2="235.3" y2="383.48" stroke="#7a7a7a" stroke-width="0.6"/>
<text x="233.20" y="385.78" font-size="6.4" text-anchor="end" fill="#111" stroke="#111" stroke-width="0.19">−4</text>
<line x1="238.65" y1="391.2" x2="238.65" y2="392.7" stroke="#7a7a7a" stroke-width="0.6"/>
<text x="236.24" y="393.90" font-size="6.7" transform="rotate(90 236.24 393.90)" fill="#111" stroke="#111" stroke-width="0.20">T1</text>
<line x1="245.34" y1="391.2" x2="245.34" y2="392.7" stroke="#7a7a7a" stroke-width="0.6"/>
<text x="242.93" y="393.90" font-size="6.7" transform="rotate(90 242.93 393.90)" fill="#111" stroke="#111" stroke-width="0.20">S21</text>
<line x1="252.04" y1="391.2" x2="252.04" y2="392.7" stroke="#7a7a7a" stroke-width="0.6"/>
<text x="249.63" y="393.90" font-size="6.7" transform="rotate(90 249.63 393.90)" fill="#111" stroke="#111" stroke-width="0.20">S22</text>
<line x1="258.73" y1="391.2" x2="258.73" y2="392.7" stroke="#7a7a7a" stroke-width="0.6"/>
<text x="256.32" y="393.90" font-size="6.7" transform="rotate(90 256.32 393.90)" fill="#111" stroke="#111" stroke-width="0.20">G23</text>
<line x1="265.43" y1="391.2" x2="265.43" y2="392.7" stroke="#7a7a7a" stroke-width="0.6"/>
<text x="263.02" y="393.90" font-size="6.7" transform="rotate(90 263.02 393.90)" fill="#111" stroke="#111" stroke-width="0.20">A46</text>
<line x1="272.12" y1="391.2" x2="272.12" y2="392.7" stroke="#7a7a7a" stroke-width="0.6"/>
<text x="269.71" y="393.90" font-size="6.7" transform="rotate(90 269.71 393.90)" fill="#111" stroke="#111" stroke-width="0.20">G47</text>
<line x1="278.82" y1="391.2" x2="278.82" y2="392.7" stroke="#7a7a7a" stroke-width="0.6"/>
<text x="276.41" y="393.90" font-size="6.7" transform="rotate(90 276.41 393.90)" fill="#111" stroke="#111" stroke-width="0.20">G48</text>
<line x1="285.51" y1="391.2" x2="285.51" y2="392.7" stroke="#7a7a7a" stroke-width="0.6"/>
<text x="283.10" y="393.90" font-size="6.7" transform="rotate(90 283.10 393.90)" fill="#111" stroke="#111" stroke-width="0.20">S96</text>
<line x1="292.21" y1="391.2" x2="292.21" y2="392.7" stroke="#7a7a7a" stroke-width="0.6"/>
<text x="289.80" y="393.90" font-size="6.7" transform="rotate(90 289.80 393.90)" fill="#111" stroke="#111" stroke-width="0.20">M97</text>
<line x1="298.90" y1="391.2" x2="298.90" y2="392.7" stroke="#7a7a7a" stroke-width="0.6"/>
<text x="296.49" y="393.90" font-size="6.7" transform="rotate(90 296.49 393.90)" fill="#111" stroke="#111" stroke-width="0.20">G98</text>
<line x1="305.60" y1="391.2" x2="305.60" y2="392.7" stroke="#7a7a7a" stroke-width="0.6"/>
<text x="303.19" y="393.90" font-size="6.7" transform="rotate(90 303.19 393.90)" fill="#111" stroke="#111" stroke-width="0.20">Y113</text>
<line x1="312.29" y1="391.2" x2="312.29" y2="392.7" stroke="#7a7a7a" stroke-width="0.6"/>
<text x="309.88" y="393.90" font-size="6.7" transform="rotate(90 309.88 393.90)" fill="#111" stroke="#111" stroke-width="0.20">D115</text>
<line x1="318.99" y1="391.2" x2="318.99" y2="392.7" stroke="#7a7a7a" stroke-width="0.6"/>
<text x="316.58" y="393.90" font-size="6.7" transform="rotate(90 316.58 393.90)" fill="#111" stroke="#111" stroke-width="0.20">D116</text>
<line x1="325.68" y1="391.2" x2="325.68" y2="392.7" stroke="#7a7a7a" stroke-width="0.6"/>
<text x="323.27" y="393.90" font-size="6.7" transform="rotate(90 323.27 393.90)" fill="#111" stroke="#111" stroke-width="0.20">S127</text>
<line x1="332.38" y1="391.2" x2="332.38" y2="392.7" stroke="#7a7a7a" stroke-width="0.6"/>
<text x="329.97" y="393.90" font-size="6.7" transform="rotate(90 329.97 393.90)" fill="#111" stroke="#111" stroke-width="0.20">V128</text>
<line x1="339.07" y1="391.2" x2="339.07" y2="392.7" stroke="#7a7a7a" stroke-width="0.6"/>
<text x="336.66" y="393.90" font-size="6.7" transform="rotate(90 336.66 393.90)" fill="#111" stroke="#111" stroke-width="0.20">G129</text>
<line x1="345.77" y1="391.2" x2="345.77" y2="392.7" stroke="#7a7a7a" stroke-width="0.6"/>
<text x="343.36" y="393.90" font-size="6.7" transform="rotate(90 343.36 393.90)" fill="#111" stroke="#111" stroke-width="0.20">S130</text>
<line x1="352.46" y1="391.2" x2="352.46" y2="392.7" stroke="#7a7a7a" stroke-width="0.6"/>
<text x="350.05" y="393.90" font-size="6.7" transform="rotate(90 350.05 393.90)" fill="#111" stroke="#111" stroke-width="0.20">S132</text>
<line x1="359.16" y1="391.2" x2="359.16" y2="392.7" stroke="#7a7a7a" stroke-width="0.6"/>
<text x="356.75" y="393.90" font-size="6.7" transform="rotate(90 356.75 393.90)" fill="#111" stroke="#111" stroke-width="0.20">Y136</text>
<line x1="365.85" y1="391.2" x2="365.85" y2="392.7" stroke="#7a7a7a" stroke-width="0.6"/>
<text x="363.44" y="393.90" font-size="6.7" transform="rotate(90 363.44 393.90)" fill="#111" stroke="#111" stroke-width="0.20">A169</text>
<text x="302.20" y="415.80" font-size="6.4" text-anchor="middle" fill="#000" stroke="#000" stroke-width="0.19">Residue</text>
<text x="220.30" y="344.60" font-size="6.5" text-anchor="middle" fill="#000" stroke="#000" stroke-width="0.20" transform="rotate(-90 220.30 344.60)">E(Kcal/mol) lipophilicity</text>
<rect x="443.1" y="188.5" width="238.39999999999998" height="208.0" fill="none" stroke="#7a7a7a" stroke-width="0.8"/>
<line x1="449.40" y1="396.5" x2="449.40" y2="398.5" stroke="#7a7a7a" stroke-width="0.6"/>
<text x="449.40" y="404.90" font-size="7.6" text-anchor="middle" fill="#111" stroke="#111" stroke-width="0.23">0.00</text>
<line x1="479.72" y1="396.5" x2="479.72" y2="398.5" stroke="#7a7a7a" stroke-width="0.6"/>
<text x="479.72" y="404.90" font-size="7.6" text-anchor="middle" fill="#111" stroke="#111" stroke-width="0.23">0.25</text>
<line x1="510.05" y1="396.5" x2="510.05" y2="398.5" stroke="#7a7a7a" stroke-width="0.6"/>
<text x="510.05" y="404.90" font-size="7.6" text-anchor="middle" fill="#111" stroke="#111" stroke-width="0.23">0.50</text>
<line x1="540.38" y1="396.5" x2="540.38" y2="398.5" stroke="#7a7a7a" stroke-width="0.6"/>
<text x="540.38" y="404.90" font-size="7.6" text-anchor="middle" fill="#111" stroke="#111" stroke-width="0.23">0.75</text>
<line x1="570.70" y1="396.5" x2="570.70" y2="398.5" stroke="#7a7a7a" stroke-width="0.6"/>
<text x="570.70" y="404.90" font-size="7.6" text-anchor="middle" fill="#111" stroke="#111" stroke-width="0.23">1.00</text>
<line x1="601.02" y1="396.5" x2="601.02" y2="398.5" stroke="#7a7a7a" stroke-width="0.6"/>
<text x="601.02" y="404.90" font-size="7.6" text-anchor="middle" fill="#111" stroke="#111" stroke-width="0.23">1.25</text>
<line x1="631.35" y1="396.5" x2="631.35" y2="398.5" stroke="#7a7a7a" stroke-width="0.6"/>
<text x="631.35" y="404.90" font-size="7.6" text-anchor="middle" fill="#111" stroke="#111" stroke-width="0.23">1.50</text>
<line x1="661.67" y1="396.5" x2="661.67" y2="398.5" stroke="#7a7a7a" stroke-width="0.6"/>
<text x="661.67" y="404.90" font-size="7.6" text-anchor="middle" fill="#111" stroke="#111" stroke-width="0.23">1.75</text>
<line x1="441.1" y1="393.30" x2="443.1" y2="393.30" stroke="#7a7a7a" stroke-width="0.6"/>
<text x="440.10" y="396.10" font-size="7.6" text-anchor="end" fill="#111" stroke="#111" stroke-width="0.23">−2</text>
<line x1="441.1" y1="365.50" x2="443.1" y2="365.50" stroke="#7a7a7a" stroke-width="0.6"/>
<text x="440.10" y="368.30" font-size="7.6" text-anchor="end" fill="#111" stroke="#111" stroke-width="0.23">0</text>
<line x1="441.1" y1="337.70" x2="443.1" y2="337.70" stroke="#7a7a7a" stroke-width="0.6"/>
<text x="440.10" y="340.50" font-size="7.6" text-anchor="end" fill="#111" stroke="#111" stroke-width="0.23">2</text>
<line x1="441.1" y1="309.90" x2="443.1" y2="309.90" stroke="#7a7a7a" stroke-width="0.6"/>
<text x="440.10" y="312.70" font-size="7.6" text-anchor="end" fill="#111" stroke="#111" stroke-width="0.23">4</text>
<line x1="441.1" y1="282.10" x2="443.1" y2="282.10" stroke="#7a7a7a" stroke-width="0.6"/>
<text x="440.10" y="284.90" font-size="7.6" text-anchor="end" fill="#111" stroke="#111" stroke-width="0.23">6</text>
<line x1="441.1" y1="254.30" x2="443.1" y2="254.30" stroke="#7a7a7a" stroke-width="0.6"/>
<text x="440.10" y="257.10" font-size="7.6" text-anchor="end" fill="#111" stroke="#111" stroke-width="0.23">8</text>
<line x1="441.1" y1="226.50" x2="443.1" y2="226.50" stroke="#7a7a7a" stroke-width="0.6"/>
<text x="440.10" y="229.30" font-size="7.6" text-anchor="end" fill="#111" stroke="#111" stroke-width="0.23">10</text>
<line x1="441.1" y1="198.70" x2="443.1" y2="198.70" stroke="#7a7a7a" stroke-width="0.6"/>
<text x="440.10" y="201.50" font-size="7.6" text-anchor="end" fill="#111" stroke="#111" stroke-width="0.23">12</text>
<text x="561.80" y="415.00" font-size="8.4" text-anchor="middle" fill="#000" stroke="#000" stroke-width="0.25">ΔpvEC50</text>
<text x="428.20" y="294.00" font-size="8.8" text-anchor="middle" fill="#000" stroke="#000" stroke-width="0.26" transform="rotate(-90 428.20 294.00)">ΔΔG_MM/GBSA(Kcal/mol)</text>
<line x1="453.5" y1="357.6" x2="670.5" y2="238.9" stroke="#111" stroke-width="1.1"/>
<line x1="649.5" y1="226.3" x2="656" y2="244" stroke="#bbb" stroke-width="0.5"/>
<circle cx="642.4" cy="197.9" r="1.6" fill="#000"/>
<circle cx="661.6" cy="205.5" r="2.4" fill="#ee2211"/>
<circle cx="665.3" cy="215.5" r="1.8" fill="#000"/>
<circle cx="670.0" cy="220.3" r="1.6" fill="#000"/>
<circle cx="662.6" cy="222.6" r="2.3" fill="#000"/>
<circle cx="649.5" cy="226.3" r="5.8" fill="#000"/>
<circle cx="616.0" cy="229.0" r="2.4" fill="#ee2211"/>
<circle cx="586.8" cy="233.4" r="1.5" fill="#000"/>
<circle cx="626.6" cy="233.7" r="1.8" fill="#000"/>
<circle cx="625.8" cy="238.7" r="1.4" fill="#000"/>
<circle cx="618.4" cy="244.0" r="1.6" fill="#000"/>
<circle cx="595.5" cy="251.6" r="2.3" fill="#000"/>
<circle cx="613.0" cy="249.0" r="1.6" fill="#000"/>
<circle cx="666.0" cy="252.0" r="2.4" fill="#ee2211"/>
<circle cx="565.3" cy="262.0" r="1.5" fill="#000"/>
<circle cx="587.6" cy="267.4" r="4.5" fill="#000"/>
<circle cx="615.3" cy="274.0" r="1.8" fill="#000"/>
<circle cx="546.6" cy="256.8" r="3.4" fill="#000"/>
<circle cx="535.5" cy="222.6" r="2.4" fill="#ee2211"/>
<circle cx="459.5" cy="306.7" r="1.5" fill="#000"/>
<circle cx="515.3" cy="299.0" r="2.9" fill="#000"/>
<circle cx="524.2" cy="309.9" r="2.0" fill="#000"/>
<circle cx="480.2" cy="320.0" r="3.0" fill="#000"/>
<circle cx="469.9" cy="332.0" r="2.5" fill="#000"/>
<circle cx="492.0" cy="333.4" r="2.5" fill="#000"/>
<circle cx="468.7" cy="338.3" r="2.0" fill="#000"/>
<circle cx="453.5" cy="347.8" r="2.0" fill="#000"/>
<circle cx="521.6" cy="327.7" r="3.5" fill="#000"/>
<circle cx="533.7" cy="328.3" r="2.4" fill="#ee2211"/>
<circle cx="512.1" cy="336.0" r="3.0" fill="#000"/>
<circle cx="519.6" cy="339.2" r="2.3" fill="#000"/>
<circle cx="553.8" cy="335.7" r="2.0" fill="#000"/>
<circle cx="499.8" cy="361.6" r="0.8" fill="#000"/>
<circle cx="521.3" cy="365.3" r="3.6" fill="#000"/>
<circle cx="513.6" cy="369.0" r="2.5" fill="#000"/>
<circle cx="565.9" cy="353.9" r="3.0" fill="#000"/>
<circle cx="463.6" cy="387.0" r="2.0" fill="#000"/>
<circle cx="574.2" cy="302.1" r="4.3" fill="#000"/>
<circle cx="609.0" cy="303.6" r="4.0" fill="#000"/>
<circle cx="584.5" cy="314.2" r="2.0" fill="#000"/>
<circle cx="670.2" cy="310.7" r="3.0" fill="#000"/>
<circle cx="666.0" cy="325.0" r="3.0" fill="#000"/>
<circle cx="627.6" cy="330.9" r="2.4" fill="#ee2211"/>
<circle cx="591.7" cy="347.8" r="3.0" fill="#000"/>
<circle cx="610.4" cy="377.1" r="2.4" fill="#ee2211"/>
<text x="637.60" y="193.60" font-size="6.0" fill="#2a2a2a">Y113K</text>
<text x="660.60" y="201.60" font-size="6.0" fill="#2a2a2a">S132Q</text>
<text x="661.00" y="210.80" font-size="6.0" fill="#2a2a2a">Y113G</text>
<text x="663.00" y="219.50" font-size="6.0" fill="#2a2a2a">Y113A</text>
<text x="662.60" y="229.00" font-size="6.0" fill="#2a2a2a">Y113S</text>
<text x="632.00" y="229.20" font-size="6.0" fill="#2a2a2a">Y113L</text>
<text x="662.00" y="236.30" font-size="6.0" fill="#2a2a2a">Y113D</text>
<text x="614.00" y="224.20" font-size="6.0" fill="#2a2a2a">S132E</text>
<text x="568.00" y="239.00" font-size="6.0" fill="#2a2a2a">Y113C</text>
<text x="606.00" y="238.00" font-size="6.0" fill="#2a2a2a">Y113V</text>
<text x="628.00" y="241.00" font-size="6.0" fill="#2a2a2a">Y113T</text>
<text x="593.70" y="249.00" font-size="6.0" fill="#2a2a2a">Y113I</text>
<text x="615.80" y="251.60" font-size="6.0" fill="#2a2a2a">Y113E</text>
<text x="649.50" y="249.00" font-size="6.0" fill="#2a2a2a">G98H</text>
<text x="649.00" y="258.00" font-size="6.0" fill="#2a2a2a">S132M</text>
<text x="566.60" y="264.20" font-size="6.0" fill="#2a2a2a">V128G</text>
<text x="589.00" y="269.50" font-size="6.0" fill="#2a2a2a">G98Q</text>
<text x="617.00" y="276.00" font-size="6.0" fill="#2a2a2a">Y113Q</text>
<text x="544.70" y="254.20" font-size="6.0" fill="#2a2a2a">Y113L</text>
<text x="521.60" y="229.00" font-size="6.0" fill="#2a2a2a">S132I</text>
<text x="462.40" y="305.30" font-size="6.0" fill="#2a2a2a">V128A</text>
<text x="512.70" y="296.70" font-size="6.0" fill="#2a2a2a">Y113H</text>
<text x="521.90" y="308.00" font-size="6.0" fill="#2a2a2a">Y113M</text>
<text x="483.00" y="316.80" font-size="6.0" fill="#2a2a2a">V128N</text>
<text x="465.90" y="327.40" font-size="6.0" fill="#2a2a2a">Y136V</text>
<text x="472.00" y="338.60" font-size="6.0" fill="#2a2a2a">Y136H</text>
<text x="474.50" y="345.50" font-size="6.0" fill="#2a2a2a">Y136I</text>
<text x="453.00" y="354.00" font-size="6.0" fill="#2a2a2a">Y136F</text>
<text x="516.00" y="322.80" font-size="6.0" fill="#2a2a2a">V128S</text>
<text x="539.00" y="331.00" font-size="6.0" fill="#2a2a2a">S132K</text>
<text x="511.00" y="334.60" font-size="6.0" fill="#2a2a2a">V128L</text>
<text x="517.00" y="346.00" font-size="6.0" fill="#2a2a2a">Y136W</text>
<text x="542.00" y="342.00" font-size="6.0" fill="#2a2a2a">G98A</text>
<text x="497.00" y="358.40" font-size="6.0" fill="#2a2a2a">V128T</text>
<text x="522.80" y="361.60" font-size="6.0" fill="#2a2a2a">V128M</text>
<text x="520.00" y="371.40" font-size="6.0" fill="#2a2a2a">D116E</text>
<text x="549.00" y="360.50" font-size="6.0" fill="#2a2a2a">D115N</text>
<text x="446.30" y="393.20" font-size="6.0" fill="#2a2a2a">A169N</text>
<text x="572.00" y="300.00" font-size="6.0" fill="#2a2a2a">G98Y</text>
<text x="593.00" y="306.00" font-size="6.0" fill="#2a2a2a">G98E</text>
<text x="586.50" y="318.20" font-size="6.0" fill="#2a2a2a">Y113F</text>
<text x="664.40" y="308.70" font-size="6.0" fill="#2a2a2a">G98C</text>
<text x="653.50" y="331.00" font-size="6.0" fill="#2a2a2a">G98S</text>
<text x="611.80" y="336.30" font-size="6.0" fill="#2a2a2a">S132L</text>
<text x="594.00" y="350.00" font-size="6.0" fill="#2a2a2a">V128Q</text>
<text x="607.80" y="375.00" font-size="6.0" fill="#2a2a2a">S132N</text>
<rect x="445.8" y="190.5" width="95.5" height="29.8" rx="1.5" fill="#fff" fill-opacity="0.85" stroke="#d0d0d0" stroke-width="0.6"/>
<circle cx="451.8" cy="195" r="4" fill="#000"/>
<circle cx="451.8" cy="202.1" r="2.3" fill="#ee2211"/>
<line x1="447.4" y1="209.5" x2="457.1" y2="209.5" stroke="#222" stroke-width="1.0"/>
<text x="461.00" y="196.80" font-size="5.2" text-anchor="start" fill="#000" stroke="#000" stroke-width="0.16">Mutations</text>
<text x="461.00" y="203.90" font-size="5.2" text-anchor="start" fill="#000" stroke="#000" stroke-width="0.16">S132</text>
<text x="461.00" y="210.80" font-size="5.2" text-anchor="start" fill="#000" stroke="#000" stroke-width="0.16">LR (R² = 0.53, RMSE = 2.54)</text>
<text x="461.00" y="217.90" font-size="5.2" text-anchor="start" fill="#000" stroke="#000" stroke-width="0.16">+S132&#160; (R² = 0.42, RMSE = 2.92)</text>
<text x="2.3" y="17" font-size="19" fill="#000">a</text>
<text x="138" y="16.8" font-size="19" fill="#000">b</text>
<text x="299.1" y="16.1" font-size="19" fill="#000">c</text>
<text x="476.4" y="15.8" font-size="19" fill="#000">d</text>
<text x="1.6" y="196.2" font-size="19" fill="#000">e</text>
<text x="197.5" y="196.8" font-size="19" fill="#000">f</text>
<text x="409.9" y="199.3" font-size="19" fill="#000">g</text>
</svg></body></html>
